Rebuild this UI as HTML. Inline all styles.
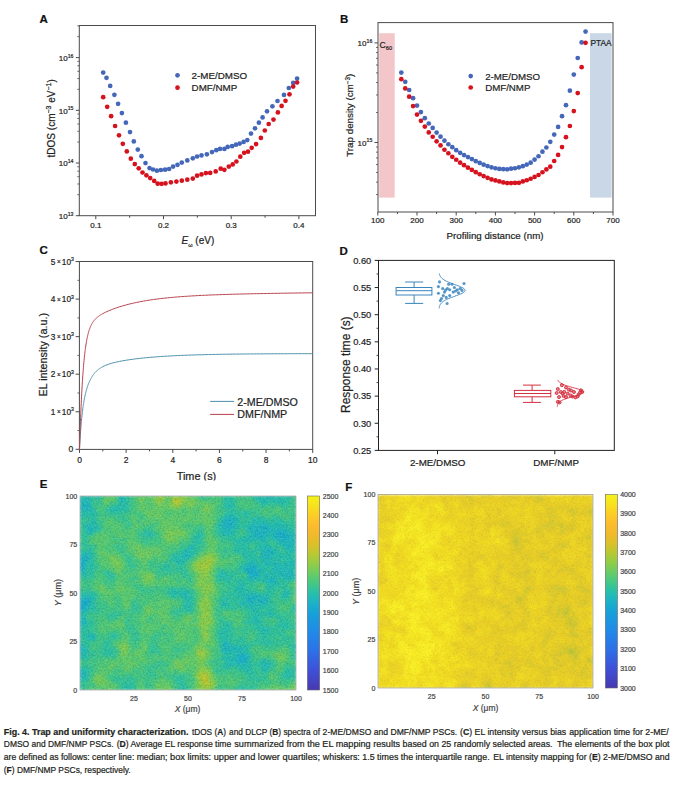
<!DOCTYPE html>
<html><head><meta charset="utf-8"><style>
html,body{margin:0;padding:0;background:#fff;}
svg{display:block;font-family:"Liberation Sans", sans-serif;}
</style></head><body>
<svg width="687" height="804" viewBox="0 0 687 804">
<defs><filter id="hblur" x="0" y="0" width="1" height="1"><feGaussianBlur stdDeviation="0.9"/></filter>
<filter id="grainD" x="0" y="0" width="1" height="1"><feTurbulence type="fractalNoise" baseFrequency="0.6" numOctaves="2" seed="7"/><feColorMatrix type="matrix" values="0 0 0 0 0  0 0 0 0 0  0 0 0 0 0  1.4 0 0 0 -0.62"/></filter>
<filter id="grainL" x="0" y="0" width="1" height="1"><feTurbulence type="fractalNoise" baseFrequency="0.6" numOctaves="2" seed="7"/><feColorMatrix type="matrix" values="0 0 0 0 1  0 0 0 0 1  0 0 0 0 1  -1.4 0 0 0 0.62"/></filter></defs>
<rect width="687" height="804" fill="#fff"/>
<text x="39.6" y="22.8" font-size="11.5" font-weight="bold" fill="#111" stroke="#111" stroke-width="0.2">A</text>
<text x="340" y="23.3" font-size="11.5" font-weight="bold" fill="#111" stroke="#111" stroke-width="0.2">B</text>
<text x="39.4" y="254.2" font-size="11.5" font-weight="bold" fill="#111" stroke="#111" stroke-width="0.2">C</text>
<text x="339.4" y="254.9" font-size="11.5" font-weight="bold" fill="#111" stroke="#111" stroke-width="0.2">D</text>
<text x="39.7" y="487.5" font-size="11.5" font-weight="bold" fill="#111" stroke="#111" stroke-width="0.2">E</text>
<text x="345.2" y="490.7" font-size="11.5" font-weight="bold" fill="#111" stroke="#111" stroke-width="0.2">F</text>
<rect x="79.3" y="25.5" width="236.2" height="190.2" fill="none" stroke="#4a4a4a" stroke-width="1"/>
<line x1="95.8" y1="215.7" x2="95.8" y2="219.2" stroke="#4a4a4a" stroke-width="1"/>
<text x="95.8" y="228.1" font-size="8" text-anchor="middle" fill="#222" stroke="#222" stroke-width="0.2">0.1</text>
<line x1="163.5" y1="215.7" x2="163.5" y2="219.2" stroke="#4a4a4a" stroke-width="1"/>
<text x="163.5" y="228.1" font-size="8" text-anchor="middle" fill="#222" stroke="#222" stroke-width="0.2">0.2</text>
<line x1="231.2" y1="215.7" x2="231.2" y2="219.2" stroke="#4a4a4a" stroke-width="1"/>
<text x="231.2" y="228.1" font-size="8" text-anchor="middle" fill="#222" stroke="#222" stroke-width="0.2">0.3</text>
<line x1="298.9" y1="215.7" x2="298.9" y2="219.2" stroke="#4a4a4a" stroke-width="1"/>
<text x="298.9" y="228.1" font-size="8" text-anchor="middle" fill="#222" stroke="#222" stroke-width="0.2">0.4</text>
<line x1="129.65" y1="215.7" x2="129.65" y2="217.7" stroke="#4a4a4a" stroke-width="1"/>
<line x1="197.35" y1="215.7" x2="197.35" y2="217.7" stroke="#4a4a4a" stroke-width="1"/>
<line x1="265.05" y1="215.7" x2="265.05" y2="217.7" stroke="#4a4a4a" stroke-width="1"/>
<line x1="75.8" y1="215.7" x2="79.3" y2="215.7" stroke="#4a4a4a" stroke-width="1"/>
<text x="73.5" y="219" font-size="8" text-anchor="end" fill="#222" stroke="#222" stroke-width="0.2">10<tspan font-size="5.2" dy="-3.3">13</tspan></text>
<line x1="75.8" y1="163" x2="79.3" y2="163" stroke="#4a4a4a" stroke-width="1"/>
<text x="73.5" y="166.3" font-size="8" text-anchor="end" fill="#222" stroke="#222" stroke-width="0.2">10<tspan font-size="5.2" dy="-3.3">14</tspan></text>
<line x1="75.8" y1="110.3" x2="79.3" y2="110.3" stroke="#4a4a4a" stroke-width="1"/>
<text x="73.5" y="113.6" font-size="8" text-anchor="end" fill="#222" stroke="#222" stroke-width="0.2">10<tspan font-size="5.2" dy="-3.3">15</tspan></text>
<line x1="75.8" y1="57.6" x2="79.3" y2="57.6" stroke="#4a4a4a" stroke-width="1"/>
<text x="73.5" y="60.9" font-size="8" text-anchor="end" fill="#222" stroke="#222" stroke-width="0.2">10<tspan font-size="5.2" dy="-3.3">16</tspan></text>
<line x1="77.3" y1="194.73" x2="79.3" y2="194.73" stroke="#4a4a4a" stroke-width="0.8"/>
<line x1="77.3" y1="183.97" x2="79.3" y2="183.97" stroke="#4a4a4a" stroke-width="0.8"/>
<line x1="77.3" y1="176.68" x2="79.3" y2="176.68" stroke="#4a4a4a" stroke-width="0.8"/>
<line x1="77.3" y1="171.16" x2="79.3" y2="171.16" stroke="#4a4a4a" stroke-width="0.8"/>
<line x1="77.3" y1="166.72" x2="79.3" y2="166.72" stroke="#4a4a4a" stroke-width="0.8"/>
<line x1="77.3" y1="142.03" x2="79.3" y2="142.03" stroke="#4a4a4a" stroke-width="0.8"/>
<line x1="77.3" y1="131.27" x2="79.3" y2="131.27" stroke="#4a4a4a" stroke-width="0.8"/>
<line x1="77.3" y1="123.98" x2="79.3" y2="123.98" stroke="#4a4a4a" stroke-width="0.8"/>
<line x1="77.3" y1="118.46" x2="79.3" y2="118.46" stroke="#4a4a4a" stroke-width="0.8"/>
<line x1="77.3" y1="114.02" x2="79.3" y2="114.02" stroke="#4a4a4a" stroke-width="0.8"/>
<line x1="77.3" y1="89.33" x2="79.3" y2="89.33" stroke="#4a4a4a" stroke-width="0.8"/>
<line x1="77.3" y1="78.57" x2="79.3" y2="78.57" stroke="#4a4a4a" stroke-width="0.8"/>
<line x1="77.3" y1="71.28" x2="79.3" y2="71.28" stroke="#4a4a4a" stroke-width="0.8"/>
<line x1="77.3" y1="65.76" x2="79.3" y2="65.76" stroke="#4a4a4a" stroke-width="0.8"/>
<line x1="77.3" y1="61.32" x2="79.3" y2="61.32" stroke="#4a4a4a" stroke-width="0.8"/>
<line x1="77.3" y1="36.63" x2="79.3" y2="36.63" stroke="#4a4a4a" stroke-width="0.8"/>
<line x1="77.3" y1="25.87" x2="79.3" y2="25.87" stroke="#4a4a4a" stroke-width="0.8"/>
<text transform="translate(55.0,118.3) rotate(-90)" font-size="10" text-anchor="middle" fill="#222" stroke="#222" stroke-width="0.2">tDOS (cm<tspan font-size="7" dy="-3.6">−3</tspan><tspan dy="3.6"> eV</tspan><tspan font-size="7" dy="-3.6">−1</tspan><tspan dy="3.6">)</tspan></text>
<text x="181.6" y="244.1" font-size="10" fill="#222" stroke="#222" stroke-width="0.2"><tspan font-style="italic">E</tspan><tspan font-size="5.5" dy="2.5">ω</tspan><tspan dy="-2.5"> (eV)</tspan></text>
<g fill="#4467b9"><circle cx="103.2" cy="72.6" r="2.35"/><circle cx="106.5" cy="77.8" r="2.35"/><circle cx="110.2" cy="85.9" r="2.35"/><circle cx="114.4" cy="94.8" r="2.35"/><circle cx="118.1" cy="103.8" r="2.35"/><circle cx="121.9" cy="113.1" r="2.35"/><circle cx="125.9" cy="122.7" r="2.35"/><circle cx="130" cy="132.1" r="2.35"/><circle cx="133.8" cy="141.4" r="2.35"/><circle cx="137.8" cy="149.6" r="2.35"/><circle cx="141.5" cy="156.2" r="2.35"/><circle cx="145.5" cy="163.1" r="2.35"/><circle cx="149.5" cy="168.1" r="2.35"/><circle cx="153" cy="169.5" r="2.35"/><circle cx="156.9" cy="170.7" r="2.35"/><circle cx="160.9" cy="170" r="2.35"/><circle cx="165.1" cy="169.7" r="2.35"/><circle cx="169.1" cy="169" r="2.35"/><circle cx="173.1" cy="166.6" r="2.35"/><circle cx="177.5" cy="164.8" r="2.35"/><circle cx="181.8" cy="162.6" r="2.35"/><circle cx="187.3" cy="160.4" r="2.35"/><circle cx="192.8" cy="158.3" r="2.35"/><circle cx="197.1" cy="156.5" r="2.35"/><circle cx="201.5" cy="155.4" r="2.35"/><circle cx="206.9" cy="154.3" r="2.35"/><circle cx="212" cy="152.1" r="2.35"/><circle cx="216.3" cy="150.2" r="2.35"/><circle cx="220" cy="148.9" r="2.35"/><circle cx="224.4" cy="148.9" r="2.35"/><circle cx="227.7" cy="146.9" r="2.35"/><circle cx="232.1" cy="146.2" r="2.35"/><circle cx="236" cy="144.7" r="2.35"/><circle cx="239.7" cy="143.6" r="2.35"/><circle cx="243.6" cy="141.9" r="2.35"/><circle cx="247.3" cy="140.1" r="2.35"/><circle cx="251" cy="133.6" r="2.35"/><circle cx="255" cy="128.3" r="2.35"/><circle cx="258.9" cy="122.7" r="2.35"/><circle cx="262.6" cy="117.4" r="2.35"/><circle cx="267" cy="111.3" r="2.35"/><circle cx="272.4" cy="106.3" r="2.35"/><circle cx="277.5" cy="101" r="2.35"/><circle cx="284" cy="94.9" r="2.35"/><circle cx="288.8" cy="88" r="2.35"/><circle cx="293.2" cy="82.9" r="2.35"/><circle cx="297.1" cy="78.6" r="2.35"/></g>
<g fill="#d5121d"><circle cx="103.2" cy="97.2" r="2.35"/><circle cx="107.2" cy="106.8" r="2.35"/><circle cx="111.1" cy="116.2" r="2.35"/><circle cx="115.1" cy="126" r="2.35"/><circle cx="119" cy="135.3" r="2.35"/><circle cx="122.8" cy="143.8" r="2.35"/><circle cx="126.8" cy="151.4" r="2.35"/><circle cx="130.8" cy="158.7" r="2.35"/><circle cx="134.8" cy="164.1" r="2.35"/><circle cx="138.7" cy="168.3" r="2.35"/><circle cx="142.5" cy="172.5" r="2.35"/><circle cx="146.4" cy="175.3" r="2.35"/><circle cx="150.2" cy="178.1" r="2.35"/><circle cx="154.2" cy="180.9" r="2.35"/><circle cx="157.7" cy="183.7" r="2.35"/><circle cx="161.6" cy="183.8" r="2.35"/><circle cx="165.5" cy="183.4" r="2.35"/><circle cx="170.9" cy="182.3" r="2.35"/><circle cx="176.4" cy="181.6" r="2.35"/><circle cx="181.8" cy="180.7" r="2.35"/><circle cx="187.3" cy="179.7" r="2.35"/><circle cx="192.8" cy="178.6" r="2.35"/><circle cx="197.1" cy="175.7" r="2.35"/><circle cx="201.5" cy="174.4" r="2.35"/><circle cx="205.9" cy="173.1" r="2.35"/><circle cx="210.2" cy="172.9" r="2.35"/><circle cx="215.7" cy="171.4" r="2.35"/><circle cx="220.7" cy="168.7" r="2.35"/><circle cx="224.4" cy="169.8" r="2.35"/><circle cx="228.8" cy="166.6" r="2.35"/><circle cx="232.7" cy="164.4" r="2.35"/><circle cx="236.4" cy="161.5" r="2.35"/><circle cx="240.3" cy="156.7" r="2.35"/><circle cx="244.1" cy="152.8" r="2.35"/><circle cx="248" cy="151.7" r="2.35"/><circle cx="251.7" cy="147.8" r="2.35"/><circle cx="256.1" cy="144.1" r="2.35"/><circle cx="260.9" cy="137.9" r="2.35"/><circle cx="264.8" cy="130.5" r="2.35"/><circle cx="268.7" cy="124" r="2.35"/><circle cx="273.5" cy="119.6" r="2.35"/><circle cx="277.9" cy="112.4" r="2.35"/><circle cx="281.6" cy="105.9" r="2.35"/><circle cx="285.5" cy="100.8" r="2.35"/><circle cx="289.5" cy="94.3" r="2.35"/><circle cx="293.2" cy="86.6" r="2.35"/><circle cx="297.1" cy="82.5" r="2.35"/></g>
<circle cx="177.5" cy="75.3" r="2.35" fill="#4467b9"/><circle cx="177.5" cy="87.7" r="2.35" fill="#d5121d"/>
<text x="191.6" y="79.2" font-size="9.8" fill="#222" stroke="#222" stroke-width="0.2">2-ME/DMSO</text>
<text x="191.6" y="91.4" font-size="9.8" fill="#222" stroke="#222" stroke-width="0.2">DMF/NMP</text>
<rect x="379.2" y="33.2" width="15.5" height="164.4" fill="#f3c7c9" stroke="none" stroke-width="1"/>
<rect x="590" y="33.2" width="21.6" height="164.4" fill="#c9d7e6" stroke="none" stroke-width="1"/>
<rect x="378" y="22.6" width="235" height="189.4" fill="none" stroke="#4a4a4a" stroke-width="1"/>
<line x1="377.8" y1="212" x2="377.8" y2="215.5" stroke="#4a4a4a" stroke-width="1"/>
<text x="377.8" y="223.3" font-size="8" text-anchor="middle" fill="#222" stroke="#222" stroke-width="0.2">100</text>
<line x1="417" y1="212" x2="417" y2="215.5" stroke="#4a4a4a" stroke-width="1"/>
<text x="417" y="223.3" font-size="8" text-anchor="middle" fill="#222" stroke="#222" stroke-width="0.2">200</text>
<line x1="456.2" y1="212" x2="456.2" y2="215.5" stroke="#4a4a4a" stroke-width="1"/>
<text x="456.2" y="223.3" font-size="8" text-anchor="middle" fill="#222" stroke="#222" stroke-width="0.2">300</text>
<line x1="495.4" y1="212" x2="495.4" y2="215.5" stroke="#4a4a4a" stroke-width="1"/>
<text x="495.4" y="223.3" font-size="8" text-anchor="middle" fill="#222" stroke="#222" stroke-width="0.2">400</text>
<line x1="534.6" y1="212" x2="534.6" y2="215.5" stroke="#4a4a4a" stroke-width="1"/>
<text x="534.6" y="223.3" font-size="8" text-anchor="middle" fill="#222" stroke="#222" stroke-width="0.2">500</text>
<line x1="573.8" y1="212" x2="573.8" y2="215.5" stroke="#4a4a4a" stroke-width="1"/>
<text x="573.8" y="223.3" font-size="8" text-anchor="middle" fill="#222" stroke="#222" stroke-width="0.2">600</text>
<line x1="613" y1="212" x2="613" y2="215.5" stroke="#4a4a4a" stroke-width="1"/>
<text x="613" y="223.3" font-size="8" text-anchor="middle" fill="#222" stroke="#222" stroke-width="0.2">700</text>
<line x1="397.4" y1="212" x2="397.4" y2="214" stroke="#4a4a4a" stroke-width="1"/>
<line x1="436.6" y1="212" x2="436.6" y2="214" stroke="#4a4a4a" stroke-width="1"/>
<line x1="475.8" y1="212" x2="475.8" y2="214" stroke="#4a4a4a" stroke-width="1"/>
<line x1="515" y1="212" x2="515" y2="214" stroke="#4a4a4a" stroke-width="1"/>
<line x1="554.2" y1="212" x2="554.2" y2="214" stroke="#4a4a4a" stroke-width="1"/>
<line x1="593.4" y1="212" x2="593.4" y2="214" stroke="#4a4a4a" stroke-width="1"/>
<line x1="374.5" y1="142.5" x2="378" y2="142.5" stroke="#4a4a4a" stroke-width="1"/>
<text x="372.3" y="145.7" font-size="8" text-anchor="end" fill="#222" stroke="#222" stroke-width="0.2">10<tspan font-size="5.2" dy="-3.3">15</tspan></text>
<line x1="374.5" y1="42.9" x2="378" y2="42.9" stroke="#4a4a4a" stroke-width="1"/>
<text x="372.3" y="46.1" font-size="8" text-anchor="end" fill="#222" stroke="#222" stroke-width="0.2">10<tspan font-size="5.2" dy="-3.3">16</tspan></text>
<line x1="376" y1="194.58" x2="378" y2="194.58" stroke="#4a4a4a" stroke-width="0.8"/>
<line x1="376" y1="182.13" x2="378" y2="182.13" stroke="#4a4a4a" stroke-width="0.8"/>
<line x1="376" y1="172.48" x2="378" y2="172.48" stroke="#4a4a4a" stroke-width="0.8"/>
<line x1="376" y1="164.6" x2="378" y2="164.6" stroke="#4a4a4a" stroke-width="0.8"/>
<line x1="376" y1="157.93" x2="378" y2="157.93" stroke="#4a4a4a" stroke-width="0.8"/>
<line x1="376" y1="152.15" x2="378" y2="152.15" stroke="#4a4a4a" stroke-width="0.8"/>
<line x1="376" y1="147.06" x2="378" y2="147.06" stroke="#4a4a4a" stroke-width="0.8"/>
<line x1="376" y1="112.52" x2="378" y2="112.52" stroke="#4a4a4a" stroke-width="0.8"/>
<line x1="376" y1="94.98" x2="378" y2="94.98" stroke="#4a4a4a" stroke-width="0.8"/>
<line x1="376" y1="82.53" x2="378" y2="82.53" stroke="#4a4a4a" stroke-width="0.8"/>
<line x1="376" y1="72.88" x2="378" y2="72.88" stroke="#4a4a4a" stroke-width="0.8"/>
<line x1="376" y1="65" x2="378" y2="65" stroke="#4a4a4a" stroke-width="0.8"/>
<line x1="376" y1="58.33" x2="378" y2="58.33" stroke="#4a4a4a" stroke-width="0.8"/>
<line x1="376" y1="52.55" x2="378" y2="52.55" stroke="#4a4a4a" stroke-width="0.8"/>
<line x1="376" y1="47.46" x2="378" y2="47.46" stroke="#4a4a4a" stroke-width="0.8"/>
<text transform="translate(353.2,115.3) rotate(-90)" font-size="9.8" text-anchor="middle" fill="#222" stroke="#222" stroke-width="0.2">Trap density (cm<tspan font-size="6.3" dy="-3.5">−3</tspan><tspan dy="3.5">)</tspan></text>
<text x="495" y="238.7" font-size="9.75" text-anchor="middle" fill="#222" stroke="#222" stroke-width="0.2">Profiling distance (nm)</text>
<text x="379.6" y="47.9" font-size="8.6" fill="#222" stroke="#222" stroke-width="0.2">C<tspan font-size="5.6" dy="1.9">60</tspan></text>
<text x="590.4" y="46" font-size="8.4" fill="#222" stroke="#222" stroke-width="0.2">PTAA</text>
<g fill="#4467b9"><circle cx="401.32" cy="72.6" r="2.35"/><circle cx="405.24" cy="81.82" r="2.35"/><circle cx="409.16" cy="89.99" r="2.35"/><circle cx="413.08" cy="98.13" r="2.35"/><circle cx="417" cy="105.53" r="2.35"/><circle cx="420.92" cy="112.1" r="2.35"/><circle cx="424.84" cy="118.21" r="2.35"/><circle cx="428.76" cy="123.48" r="2.35"/><circle cx="432.68" cy="127.96" r="2.35"/><circle cx="436.6" cy="132.57" r="2.35"/><circle cx="440.52" cy="136.71" r="2.35"/><circle cx="444.44" cy="140.64" r="2.35"/><circle cx="448.36" cy="144.27" r="2.35"/><circle cx="452.28" cy="147.21" r="2.35"/><circle cx="456.2" cy="150.15" r="2.35"/><circle cx="460.12" cy="152.85" r="2.35"/><circle cx="464.04" cy="155.11" r="2.35"/><circle cx="467.96" cy="157.03" r="2.35"/><circle cx="471.88" cy="159.08" r="2.35"/><circle cx="475.8" cy="161.14" r="2.35"/><circle cx="479.72" cy="162.97" r="2.35"/><circle cx="483.64" cy="164.65" r="2.35"/><circle cx="487.56" cy="166.11" r="2.35"/><circle cx="491.48" cy="167.3" r="2.35"/><circle cx="495.4" cy="168.23" r="2.35"/><circle cx="499.32" cy="168.93" r="2.35"/><circle cx="503.24" cy="169.17" r="2.35"/><circle cx="507.16" cy="169.28" r="2.35"/><circle cx="511.08" cy="168.7" r="2.35"/><circle cx="515" cy="168.27" r="2.35"/><circle cx="518.92" cy="167.31" r="2.35"/><circle cx="522.84" cy="166.14" r="2.35"/><circle cx="526.76" cy="164.62" r="2.35"/><circle cx="530.68" cy="162.71" r="2.35"/><circle cx="534.6" cy="159.62" r="2.35"/><circle cx="538.52" cy="156.26" r="2.35"/><circle cx="542.44" cy="151.67" r="2.35"/><circle cx="546.36" cy="147.51" r="2.35"/><circle cx="550.28" cy="141.78" r="2.35"/><circle cx="554.2" cy="134.6" r="2.35"/><circle cx="558.12" cy="126.96" r="2.35"/><circle cx="562.04" cy="116.19" r="2.35"/><circle cx="565.96" cy="105.21" r="2.35"/><circle cx="569.88" cy="90.67" r="2.35"/><circle cx="573.8" cy="74.61" r="2.35"/><circle cx="577.72" cy="58.02" r="2.35"/><circle cx="581.64" cy="42.41" r="2.35"/><circle cx="585.56" cy="31.6" r="2.35"/></g>
<g fill="#d5121d"><circle cx="401.32" cy="79.2" r="2.35"/><circle cx="405.24" cy="88.42" r="2.35"/><circle cx="409.16" cy="96.68" r="2.35"/><circle cx="413.08" cy="106.03" r="2.35"/><circle cx="417" cy="114.57" r="2.35"/><circle cx="420.92" cy="120.82" r="2.35"/><circle cx="424.84" cy="126.61" r="2.35"/><circle cx="428.76" cy="132.44" r="2.35"/><circle cx="432.68" cy="136.77" r="2.35"/><circle cx="436.6" cy="141.37" r="2.35"/><circle cx="440.52" cy="145.42" r="2.35"/><circle cx="444.44" cy="149.73" r="2.35"/><circle cx="448.36" cy="153.27" r="2.35"/><circle cx="452.28" cy="156.79" r="2.35"/><circle cx="456.2" cy="159.75" r="2.35"/><circle cx="460.12" cy="162.64" r="2.35"/><circle cx="464.04" cy="165.2" r="2.35"/><circle cx="467.96" cy="167.71" r="2.35"/><circle cx="471.88" cy="169.88" r="2.35"/><circle cx="475.8" cy="172.13" r="2.35"/><circle cx="479.72" cy="174.25" r="2.35"/><circle cx="483.64" cy="176.04" r="2.35"/><circle cx="487.56" cy="177.79" r="2.35"/><circle cx="491.48" cy="179.46" r="2.35"/><circle cx="495.4" cy="180.43" r="2.35"/><circle cx="499.32" cy="181.41" r="2.35"/><circle cx="503.24" cy="182.43" r="2.35"/><circle cx="507.16" cy="183.08" r="2.35"/><circle cx="511.08" cy="183.08" r="2.35"/><circle cx="515" cy="182.94" r="2.35"/><circle cx="518.92" cy="182.8" r="2.35"/><circle cx="522.84" cy="181.43" r="2.35"/><circle cx="526.76" cy="180.26" r="2.35"/><circle cx="530.68" cy="178.75" r="2.35"/><circle cx="534.6" cy="176.94" r="2.35"/><circle cx="538.52" cy="174.99" r="2.35"/><circle cx="542.44" cy="172.24" r="2.35"/><circle cx="546.36" cy="169.46" r="2.35"/><circle cx="550.28" cy="166.68" r="2.35"/><circle cx="554.2" cy="161" r="2.35"/><circle cx="558.12" cy="154.92" r="2.35"/><circle cx="562.04" cy="147.1" r="2.35"/><circle cx="565.96" cy="137.2" r="2.35"/><circle cx="569.88" cy="126" r="2.35"/><circle cx="573.8" cy="111.08" r="2.35"/><circle cx="577.72" cy="93.07" r="2.35"/><circle cx="581.64" cy="67.21" r="2.35"/><circle cx="585.56" cy="42.8" r="2.35"/></g>
<circle cx="470.7" cy="76.1" r="2.35" fill="#4467b9"/><circle cx="470.7" cy="87.5" r="2.35" fill="#d5121d"/>
<text x="485.2" y="79.8" font-size="9.7" fill="#222" stroke="#222" stroke-width="0.2">2-ME/DMSO</text>
<text x="485.2" y="91.2" font-size="9.7" fill="#222" stroke="#222" stroke-width="0.2">DMF/NMP</text>
<rect x="79.4" y="261.5" width="233.3" height="187.9" fill="none" stroke="#4a4a4a" stroke-width="1"/>
<line x1="79.5" y1="449.4" x2="79.5" y2="452.9" stroke="#4a4a4a" stroke-width="1"/>
<text x="79.5" y="463.2" font-size="8.5" text-anchor="middle" fill="#222" stroke="#222" stroke-width="0.2">0</text>
<line x1="126.14" y1="449.4" x2="126.14" y2="452.9" stroke="#4a4a4a" stroke-width="1"/>
<text x="126.14" y="463.2" font-size="8.5" text-anchor="middle" fill="#222" stroke="#222" stroke-width="0.2">2</text>
<line x1="172.78" y1="449.4" x2="172.78" y2="452.9" stroke="#4a4a4a" stroke-width="1"/>
<text x="172.78" y="463.2" font-size="8.5" text-anchor="middle" fill="#222" stroke="#222" stroke-width="0.2">4</text>
<line x1="219.42" y1="449.4" x2="219.42" y2="452.9" stroke="#4a4a4a" stroke-width="1"/>
<text x="219.42" y="463.2" font-size="8.5" text-anchor="middle" fill="#222" stroke="#222" stroke-width="0.2">6</text>
<line x1="266.06" y1="449.4" x2="266.06" y2="452.9" stroke="#4a4a4a" stroke-width="1"/>
<text x="266.06" y="463.2" font-size="8.5" text-anchor="middle" fill="#222" stroke="#222" stroke-width="0.2">8</text>
<line x1="312.7" y1="449.4" x2="312.7" y2="452.9" stroke="#4a4a4a" stroke-width="1"/>
<text x="312.7" y="463.2" font-size="8.5" text-anchor="middle" fill="#222" stroke="#222" stroke-width="0.2">10</text>
<line x1="102.82" y1="449.4" x2="102.82" y2="451.4" stroke="#4a4a4a" stroke-width="1"/>
<line x1="149.46" y1="449.4" x2="149.46" y2="451.4" stroke="#4a4a4a" stroke-width="1"/>
<line x1="196.1" y1="449.4" x2="196.1" y2="451.4" stroke="#4a4a4a" stroke-width="1"/>
<line x1="242.74" y1="449.4" x2="242.74" y2="451.4" stroke="#4a4a4a" stroke-width="1"/>
<line x1="289.38" y1="449.4" x2="289.38" y2="451.4" stroke="#4a4a4a" stroke-width="1"/>
<line x1="75.6" y1="449.3" x2="79.4" y2="449.3" stroke="#4a4a4a" stroke-width="1"/>
<text x="73.3" y="452.3" font-size="8.5" text-anchor="end" fill="#222" stroke="#222" stroke-width="0.2">0</text>
<line x1="75.6" y1="411.75" x2="79.4" y2="411.75" stroke="#4a4a4a" stroke-width="1"/>
<text x="50.7" y="414.75" font-size="8.3" fill="#222" stroke="#222" stroke-width="0.2">1<tspan font-size="6.4" dx="1.6" dy="-0.5">×</tspan><tspan dx="1.2" dy="0.5">10</tspan><tspan font-size="5.2" dy="-3.5">3</tspan></text>
<line x1="75.6" y1="374.2" x2="79.4" y2="374.2" stroke="#4a4a4a" stroke-width="1"/>
<text x="50.7" y="377.2" font-size="8.3" fill="#222" stroke="#222" stroke-width="0.2">2<tspan font-size="6.4" dx="1.6" dy="-0.5">×</tspan><tspan dx="1.2" dy="0.5">10</tspan><tspan font-size="5.2" dy="-3.5">3</tspan></text>
<line x1="75.6" y1="336.65" x2="79.4" y2="336.65" stroke="#4a4a4a" stroke-width="1"/>
<text x="50.7" y="339.65" font-size="8.3" fill="#222" stroke="#222" stroke-width="0.2">3<tspan font-size="6.4" dx="1.6" dy="-0.5">×</tspan><tspan dx="1.2" dy="0.5">10</tspan><tspan font-size="5.2" dy="-3.5">3</tspan></text>
<line x1="75.6" y1="299.1" x2="79.4" y2="299.1" stroke="#4a4a4a" stroke-width="1"/>
<text x="50.7" y="302.1" font-size="8.3" fill="#222" stroke="#222" stroke-width="0.2">4<tspan font-size="6.4" dx="1.6" dy="-0.5">×</tspan><tspan dx="1.2" dy="0.5">10</tspan><tspan font-size="5.2" dy="-3.5">3</tspan></text>
<line x1="75.6" y1="261.55" x2="79.4" y2="261.55" stroke="#4a4a4a" stroke-width="1"/>
<text x="50.7" y="264.55" font-size="8.3" fill="#222" stroke="#222" stroke-width="0.2">5<tspan font-size="6.4" dx="1.6" dy="-0.5">×</tspan><tspan dx="1.2" dy="0.5">10</tspan><tspan font-size="5.2" dy="-3.5">3</tspan></text>
<line x1="77.4" y1="430.53" x2="79.4" y2="430.53" stroke="#4a4a4a" stroke-width="0.8"/>
<line x1="77.4" y1="392.98" x2="79.4" y2="392.98" stroke="#4a4a4a" stroke-width="0.8"/>
<line x1="77.4" y1="355.43" x2="79.4" y2="355.43" stroke="#4a4a4a" stroke-width="0.8"/>
<line x1="77.4" y1="317.88" x2="79.4" y2="317.88" stroke="#4a4a4a" stroke-width="0.8"/>
<line x1="77.4" y1="280.33" x2="79.4" y2="280.33" stroke="#4a4a4a" stroke-width="0.8"/>
<text transform="translate(47.3,354.8) rotate(-90)" font-size="10.8" text-anchor="middle" fill="#222" stroke="#222" stroke-width="0.2">EL intensity (a.u.)</text>
<clipPath id="clipC"><rect x="0" y="0" width="687" height="480.6"/></clipPath>
<text x="176.7" y="479.8" font-size="10.9" fill="#222" clip-path="url(#clipC)" stroke="#222" stroke-width="0.2">Time (s)</text>
<polyline points="79.5,449.3 79.66,446.3 79.81,443.46 79.97,440.76 80.13,438.19 80.28,435.76 80.44,433.44 80.6,431.23 80.75,429.12 80.91,427.12 81.07,425.2 81.22,423.38 81.38,421.63 81.53,419.96 81.69,418.36 81.85,416.83 82,415.37 82.16,413.96 82.32,412.61 82.47,411.32 82.63,410.07 82.79,408.88 82.94,407.72 83.1,406.61 83.26,405.55 83.41,404.51 83.57,403.52 83.73,402.56 83.88,401.63 84.04,400.74 84.2,399.87 84.35,399.04 84.51,398.22 84.66,397.44 84.82,396.68 84.98,395.94 85.13,395.22 85.29,394.53 85.45,393.86 85.6,393.2 85.76,392.57 85.92,391.95 86.07,391.35 86.23,390.76 86.39,390.19 86.54,389.64 86.7,389.1 86.86,388.57 87.01,388.06 87.17,387.56 87.33,387.07 87.48,386.6 87.64,386.14 87.8,385.68 87.95,385.24 88.11,384.81 88.26,384.39 88.42,383.98 88.58,383.58 88.73,383.18 88.89,382.8 89.05,382.43 89.2,382.06 89.36,381.7 89.52,381.35 89.67,381.01 89.83,380.67 89.99,380.34 90.14,380.02 90.3,379.7 90.46,379.4 90.61,379.09 90.77,378.8 90.93,378.51 91.08,378.22 91.24,377.94 91.39,377.67 91.55,377.4 91.71,377.14 91.86,376.88 92.02,376.63 92.18,376.39 92.33,376.14 92.49,375.91 92.65,375.67 92.8,375.44 92.96,375.22 93.12,375 93.27,374.78 93.43,374.57 93.59,374.36 93.74,374.16 93.9,373.96 94.06,373.76 94.21,373.57 94.37,373.38 94.52,373.19 94.68,373.01 94.84,372.83 94.99,372.65 95.15,372.47 95.31,372.3 95.46,372.14 95.62,371.97 95.78,371.81 95.93,371.65 96.09,371.49 96.25,371.34 96.4,371.19 96.56,371.04 96.72,370.89 96.87,370.75 97.03,370.61 97.19,370.47 97.34,370.33 97.5,370.19 97.66,370.06 97.81,369.93 97.97,369.8 98.12,369.68 98.28,369.55 98.44,369.43 98.59,369.31 98.75,369.19 98.91,369.07 99.06,368.96 99.22,368.84 99.38,368.73 99.53,368.62 99.69,368.51 99.85,368.41 100,368.3 100.16,368.2 100.32,368.1 100.47,368 100.63,367.9 100.79,367.8 100.94,367.7 101.1,367.61 101.25,367.51 101.41,367.42 101.57,367.33 101.72,367.24 101.88,367.15 102.04,367.06 102.19,366.98 102.35,366.89 102.51,366.81 102.66,366.73 102.82,366.64 104.23,365.95 105.64,365.33 107.05,364.78 108.45,364.27 109.86,363.81 111.27,363.38 112.68,362.99 114.09,362.62 115.5,362.28 116.91,361.96 118.31,361.66 119.72,361.37 121.13,361.1 122.54,360.84 123.95,360.59 125.36,360.35 126.77,360.13 128.17,359.91 129.58,359.7 130.99,359.5 132.4,359.3 133.81,359.12 135.22,358.94 136.63,358.76 138.03,358.6 139.44,358.43 140.85,358.28 142.26,358.13 143.67,357.98 145.08,357.84 146.49,357.7 147.89,357.57 149.3,357.44 150.71,357.32 152.12,357.2 153.53,357.08 154.94,356.97 156.35,356.86 157.76,356.76 159.16,356.65 160.57,356.56 161.98,356.46 163.39,356.37 164.8,356.28 166.21,356.19 167.62,356.11 169.02,356.03 170.43,355.95 171.84,355.87 173.25,355.8 174.66,355.73 176.07,355.66 177.48,355.59 178.88,355.53 180.29,355.46 181.7,355.4 183.11,355.34 184.52,355.29 185.93,355.23 187.34,355.18 188.74,355.13 190.15,355.08 191.56,355.03 192.97,354.98 194.38,354.94 195.79,354.89 197.2,354.85 198.6,354.81 200.01,354.77 201.42,354.73 202.83,354.69 204.24,354.66 205.65,354.62 207.06,354.59 208.46,354.56 209.87,354.53 211.28,354.49 212.69,354.46 214.1,354.44 215.51,354.41 216.92,354.38 218.32,354.35 219.73,354.33 221.14,354.3 222.55,354.28 223.96,354.26 225.37,354.24 226.78,354.21 228.18,354.19 229.59,354.17 231,354.15 232.41,354.13 233.82,354.12 235.23,354.1 236.64,354.08 238.04,354.06 239.45,354.05 240.86,354.03 242.27,354.02 243.68,354 245.09,353.99 246.5,353.98 247.9,353.96 249.31,353.95 250.72,353.94 252.13,353.93 253.54,353.91 254.95,353.9 256.36,353.89 257.76,353.88 259.17,353.87 260.58,353.86 261.99,353.85 263.4,353.84 264.81,353.83 266.22,353.82 267.63,353.82 269.03,353.81 270.44,353.8 271.85,353.79 273.26,353.78 274.67,353.78 276.08,353.77 277.49,353.76 278.89,353.76 280.3,353.75 281.71,353.74 283.12,353.74 284.53,353.73 285.94,353.73 287.35,353.72 288.75,353.72 290.16,353.71 291.57,353.71 292.98,353.7 294.39,353.7 295.8,353.69 297.21,353.69 298.61,353.68 300.02,353.68 301.43,353.68 302.84,353.67 304.25,353.67 305.66,353.67 307.07,353.66 308.47,353.66 309.88,353.66 311.29,353.65 312.7,353.65" fill="none" stroke="#4a90aa" stroke-width="1"/>
<polyline points="79.5,449.3 79.66,444.2 79.81,439.3 79.97,434.6 80.13,430.08 80.28,425.75 80.44,421.59 80.6,417.6 80.75,413.76 80.91,410.08 81.07,406.55 81.22,403.16 81.38,399.9 81.53,396.77 81.69,393.76 81.85,390.88 82,388.11 82.16,385.44 82.32,382.89 82.47,380.43 82.63,378.07 82.79,375.8 82.94,373.62 83.1,371.52 83.26,369.51 83.41,367.58 83.57,365.72 83.73,363.93 83.88,362.21 84.04,360.56 84.2,358.97 84.35,357.44 84.51,355.97 84.66,354.56 84.82,353.2 84.98,351.89 85.13,350.64 85.29,349.43 85.45,348.26 85.6,347.14 85.76,346.06 85.92,345.02 86.07,344.02 86.23,343.05 86.39,342.12 86.54,341.23 86.7,340.37 86.86,339.54 87.01,338.74 87.17,337.96 87.33,337.22 87.48,336.5 87.64,335.81 87.8,335.14 87.95,334.5 88.11,333.87 88.26,333.27 88.42,332.69 88.58,332.13 88.73,331.59 88.89,331.07 89.05,330.56 89.2,330.08 89.36,329.6 89.52,329.15 89.67,328.71 89.83,328.28 89.99,327.87 90.14,327.46 90.3,327.08 90.46,326.7 90.61,326.34 90.77,325.98 90.93,325.64 91.08,325.31 91.24,324.99 91.39,324.68 91.55,324.37 91.71,324.08 91.86,323.79 92.02,323.51 92.18,323.24 92.33,322.98 92.49,322.73 92.65,322.48 92.8,322.24 92.96,322 93.12,321.77 93.27,321.55 93.43,321.33 93.59,321.12 93.74,320.91 93.9,320.71 94.06,320.51 94.21,320.32 94.37,320.13 94.52,319.94 94.68,319.77 94.84,319.59 94.99,319.42 95.15,319.25 95.31,319.08 95.46,318.92 95.62,318.76 95.78,318.61 95.93,318.46 96.09,318.31 96.25,318.16 96.4,318.02 96.56,317.88 96.72,317.74 96.87,317.6 97.03,317.47 97.19,317.34 97.34,317.21 97.5,317.08 97.66,316.96 97.81,316.84 97.97,316.71 98.12,316.6 98.28,316.48 98.44,316.36 98.59,316.25 98.75,316.14 98.91,316.02 99.06,315.91 99.22,315.81 99.38,315.7 99.53,315.59 99.69,315.49 99.85,315.39 100,315.29 100.16,315.19 100.32,315.09 100.47,314.99 100.63,314.89 100.79,314.8 100.94,314.7 101.1,314.61 101.25,314.51 101.41,314.42 101.57,314.33 101.72,314.24 101.88,314.15 102.04,314.06 102.19,313.97 102.35,313.89 102.51,313.8 102.66,313.71 102.82,313.63 104.23,312.89 105.64,312.21 107.05,311.55 108.45,310.93 109.86,310.34 111.27,309.78 112.68,309.23 114.09,308.71 115.5,308.2 116.91,307.72 118.31,307.25 119.72,306.79 121.13,306.36 122.54,305.93 123.95,305.53 125.36,305.13 126.77,304.75 128.17,304.39 129.58,304.03 130.99,303.69 132.4,303.36 133.81,303.04 135.22,302.73 136.63,302.43 138.03,302.14 139.44,301.86 140.85,301.59 142.26,301.33 143.67,301.07 145.08,300.83 146.49,300.59 147.89,300.36 149.3,300.14 150.71,299.93 152.12,299.72 153.53,299.52 154.94,299.33 156.35,299.14 157.76,298.96 159.16,298.78 160.57,298.61 161.98,298.45 163.39,298.29 164.8,298.14 166.21,297.99 167.62,297.84 169.02,297.7 170.43,297.57 171.84,297.43 173.25,297.31 174.66,297.18 176.07,297.06 177.48,296.95 178.88,296.83 180.29,296.72 181.7,296.62 183.11,296.52 184.52,296.42 185.93,296.32 187.34,296.23 188.74,296.13 190.15,296.05 191.56,295.96 192.97,295.88 194.38,295.79 195.79,295.72 197.2,295.64 198.6,295.56 200.01,295.49 201.42,295.42 202.83,295.35 204.24,295.29 205.65,295.22 207.06,295.16 208.46,295.1 209.87,295.04 211.28,294.98 212.69,294.92 214.1,294.87 215.51,294.81 216.92,294.76 218.32,294.71 219.73,294.66 221.14,294.61 222.55,294.56 223.96,294.52 225.37,294.47 226.78,294.43 228.18,294.38 229.59,294.34 231,294.3 232.41,294.26 233.82,294.22 235.23,294.18 236.64,294.14 238.04,294.1 239.45,294.07 240.86,294.03 242.27,294 243.68,293.96 245.09,293.93 246.5,293.9 247.9,293.86 249.31,293.83 250.72,293.8 252.13,293.77 253.54,293.74 254.95,293.71 256.36,293.68 257.76,293.65 259.17,293.63 260.58,293.6 261.99,293.57 263.4,293.54 264.81,293.52 266.22,293.49 267.63,293.47 269.03,293.44 270.44,293.42 271.85,293.39 273.26,293.37 274.67,293.34 276.08,293.32 277.49,293.3 278.89,293.27 280.3,293.25 281.71,293.23 283.12,293.21 284.53,293.18 285.94,293.16 287.35,293.14 288.75,293.12 290.16,293.1 291.57,293.08 292.98,293.06 294.39,293.04 295.8,293.02 297.21,293 298.61,292.98 300.02,292.96 301.43,292.94 302.84,292.92 304.25,292.9 305.66,292.88 307.07,292.86 308.47,292.84 309.88,292.83 311.29,292.81 312.7,292.79" fill="none" stroke="#b8404a" stroke-width="1"/>
<line x1="210.2" y1="401.4" x2="234.1" y2="401.4" stroke="#4a90aa" stroke-width="1"/>
<line x1="210.2" y1="414.4" x2="234.1" y2="414.4" stroke="#b8404a" stroke-width="1"/>
<text x="237.3" y="405.5" font-size="10.7" fill="#222" stroke="#222" stroke-width="0.2">2-ME/DMSO</text>
<text x="237.3" y="418.4" font-size="10.7" fill="#222" stroke="#222" stroke-width="0.2">DMF/NMP</text>
<rect x="378.5" y="260.4" width="235.8" height="190" fill="none" stroke="#222" stroke-width="1"/>
<line x1="374.7" y1="450.4" x2="378.5" y2="450.4" stroke="#222" stroke-width="1"/>
<text x="371.3" y="453.7" font-size="9.3" text-anchor="end" fill="#222" stroke="#222" stroke-width="0.2">0.25</text>
<line x1="374.7" y1="423.26" x2="378.5" y2="423.26" stroke="#222" stroke-width="1"/>
<text x="371.3" y="426.56" font-size="9.3" text-anchor="end" fill="#222" stroke="#222" stroke-width="0.2">0.30</text>
<line x1="374.7" y1="396.12" x2="378.5" y2="396.12" stroke="#222" stroke-width="1"/>
<text x="371.3" y="399.42" font-size="9.3" text-anchor="end" fill="#222" stroke="#222" stroke-width="0.2">0.35</text>
<line x1="374.7" y1="368.98" x2="378.5" y2="368.98" stroke="#222" stroke-width="1"/>
<text x="371.3" y="372.28" font-size="9.3" text-anchor="end" fill="#222" stroke="#222" stroke-width="0.2">0.40</text>
<line x1="374.7" y1="341.84" x2="378.5" y2="341.84" stroke="#222" stroke-width="1"/>
<text x="371.3" y="345.14" font-size="9.3" text-anchor="end" fill="#222" stroke="#222" stroke-width="0.2">0.45</text>
<line x1="374.7" y1="314.7" x2="378.5" y2="314.7" stroke="#222" stroke-width="1"/>
<text x="371.3" y="318" font-size="9.3" text-anchor="end" fill="#222" stroke="#222" stroke-width="0.2">0.50</text>
<line x1="374.7" y1="287.56" x2="378.5" y2="287.56" stroke="#222" stroke-width="1"/>
<text x="371.3" y="290.86" font-size="9.3" text-anchor="end" fill="#222" stroke="#222" stroke-width="0.2">0.55</text>
<line x1="374.7" y1="260.42" x2="378.5" y2="260.42" stroke="#222" stroke-width="1"/>
<text x="371.3" y="263.72" font-size="9.3" text-anchor="end" fill="#222" stroke="#222" stroke-width="0.2">0.60</text>
<line x1="376.5" y1="436.83" x2="378.5" y2="436.83" stroke="#222" stroke-width="0.8"/>
<line x1="376.5" y1="409.69" x2="378.5" y2="409.69" stroke="#222" stroke-width="0.8"/>
<line x1="376.5" y1="382.55" x2="378.5" y2="382.55" stroke="#222" stroke-width="0.8"/>
<line x1="376.5" y1="355.41" x2="378.5" y2="355.41" stroke="#222" stroke-width="0.8"/>
<line x1="376.5" y1="328.27" x2="378.5" y2="328.27" stroke="#222" stroke-width="0.8"/>
<line x1="376.5" y1="301.13" x2="378.5" y2="301.13" stroke="#222" stroke-width="0.8"/>
<line x1="376.5" y1="273.99" x2="378.5" y2="273.99" stroke="#222" stroke-width="0.8"/>
<line x1="437.5" y1="450.4" x2="437.5" y2="454.2" stroke="#222" stroke-width="1"/>
<line x1="554.8" y1="450.4" x2="554.8" y2="454.2" stroke="#222" stroke-width="1"/>
<text x="437.7" y="465.6" font-size="9.8" text-anchor="middle" fill="#222" stroke="#222" stroke-width="0.2">2-ME/DMSO</text>
<text x="556.1" y="465.6" font-size="9.8" text-anchor="middle" fill="#222" stroke="#222" stroke-width="0.2">DMF/NMP</text>
<text transform="translate(349.5,364.7) rotate(-90)" font-size="11.9" text-anchor="middle" fill="#222" stroke="#222" stroke-width="0.2">Response time (s)</text>
<rect x="396.1" y="287.5" width="35.8" height="7.5" fill="none" stroke="#3a86bd" stroke-width="1"/>
<line x1="396.1" y1="290.7" x2="431.9" y2="290.7" stroke="#3a86bd" stroke-width="1"/>
<line x1="414.1" y1="282" x2="414.1" y2="287.5" stroke="#3a86bd" stroke-width="1"/>
<line x1="414.1" y1="295" x2="414.1" y2="303.4" stroke="#3a86bd" stroke-width="1"/>
<line x1="405.1" y1="282" x2="423.2" y2="282" stroke="#3a86bd" stroke-width="1"/>
<line x1="405.1" y1="303.4" x2="423.2" y2="303.4" stroke="#3a86bd" stroke-width="1"/>
<polyline points="439.28,273.5 439.41,274.08 439.57,274.66 439.78,275.25 440.04,275.83 440.35,276.41 440.74,276.99 441.2,277.57 441.76,278.15 442.41,278.74 443.16,279.32 444.03,279.9 445.02,280.48 446.12,281.06 447.34,281.64 448.66,282.23 450.07,282.81 451.57,283.39 453.12,283.97 454.7,284.55 456.29,285.13 457.84,285.71 459.33,286.3 460.71,286.88 461.96,287.46 463.03,288.04 463.91,288.62 464.55,289.2 464.95,289.79 465.1,290.37 464.98,290.95 464.61,291.53 463.99,292.11 463.14,292.69 462.08,293.28 460.86,293.86 459.48,294.44 458.01,295.02 456.46,295.6 454.88,296.19 453.29,296.77 451.74,297.35 450.23,297.93 448.81,298.51 447.48,299.09 446.25,299.68 445.13,300.26 444.14,300.84 443.25,301.42 442.48,302 441.82,302.58 441.26,303.16 440.78,303.75 440.39,304.33 440.07,304.91 439.8,305.49 439.59,306.07 439.43,306.65 439.3,307.24 439.2,307.82 439.12,308.4" fill="none" stroke="#3a86bd" stroke-width="0.9"/>
<g fill="#3a86bd" fill-opacity="0.85"><circle cx="439.5" cy="281.9" r="1.55"/><circle cx="438.4" cy="286.6" r="1.55"/><circle cx="438.4" cy="293.3" r="1.55"/><circle cx="440.4" cy="300.6" r="1.55"/><circle cx="447.1" cy="303.5" r="1.55"/><circle cx="448.6" cy="284.3" r="1.55"/><circle cx="452" cy="284.3" r="1.55"/><circle cx="464" cy="283.5" r="1.55"/><circle cx="442.7" cy="288.6" r="1.55"/><circle cx="445.6" cy="290.1" r="1.55"/><circle cx="449.7" cy="289.8" r="1.55"/><circle cx="454.4" cy="287.5" r="1.55"/><circle cx="457.3" cy="289.8" r="1.55"/><circle cx="460.2" cy="288.6" r="1.55"/><circle cx="462" cy="290.4" r="1.55"/><circle cx="453.2" cy="292.1" r="1.55"/><circle cx="458.5" cy="292.7" r="1.55"/><circle cx="443.3" cy="295.6" r="1.55"/><circle cx="446.2" cy="297.4" r="1.55"/><circle cx="449.7" cy="295.6" r="1.55"/><circle cx="444.5" cy="292.1" r="1.55"/><circle cx="447.4" cy="288.6" r="1.55"/><circle cx="441.5" cy="298.5" r="1.55"/><circle cx="455.5" cy="291" r="1.55"/></g>
<rect x="514.4" y="390.4" width="36.4" height="6.4" fill="none" stroke="#d2303f" stroke-width="1"/>
<line x1="514.4" y1="393.5" x2="550.8" y2="393.5" stroke="#d2303f" stroke-width="1"/>
<line x1="532.1" y1="385.1" x2="532.1" y2="390.4" stroke="#d2303f" stroke-width="1"/>
<line x1="532.1" y1="396.8" x2="532.1" y2="402.4" stroke="#d2303f" stroke-width="1"/>
<line x1="523" y1="385.1" x2="540.9" y2="385.1" stroke="#d2303f" stroke-width="1"/>
<line x1="523" y1="402.4" x2="540.9" y2="402.4" stroke="#d2303f" stroke-width="1"/>
<polyline points="557.83,379.9 558.02,380.35 558.26,380.79 558.56,381.24 558.93,381.69 559.37,382.13 559.9,382.58 560.53,383.03 561.26,383.47 562.1,383.92 563.05,384.37 564.12,384.81 565.31,385.26 566.61,385.71 568,386.15 569.48,386.6 571.02,387.05 572.59,387.49 574.18,387.94 575.74,388.39 577.25,388.83 578.67,389.28 579.95,389.73 581.07,390.17 582,390.62 582.71,391.07 583.17,391.51 583.39,391.96 583.34,392.41 583.03,392.85 582.47,393.3 581.68,393.75 580.68,394.19 579.49,394.64 578.15,395.09 576.7,395.53 575.17,395.98 573.59,396.43 572,396.87 570.44,397.32 568.92,397.77 567.47,398.21 566.11,398.66 564.86,399.11 563.71,399.55 562.68,400 561.77,400.45 560.97,400.89 560.28,401.34 559.69,401.79 559.2,402.23 558.78,402.68 558.44,403.13 558.17,403.57 557.94,404.02 557.77,404.47 557.63,404.91 557.52,405.36 557.44,405.81 557.37,406.25 557.33,406.7" fill="none" stroke="#d2303f" stroke-width="0.9"/>
<g fill="none" stroke="#d2303f" stroke-width="0.9"><circle cx="561.9" cy="385.2" r="1.5"/><circle cx="566" cy="387.5" r="1.5"/><circle cx="568.9" cy="389.6" r="1.5"/><circle cx="557.8" cy="389" r="1.5"/><circle cx="556.7" cy="393" r="1.5"/><circle cx="560.7" cy="391.9" r="1.5"/><circle cx="564.2" cy="391.9" r="1.5"/><circle cx="567.7" cy="393.6" r="1.5"/><circle cx="563.6" cy="396" r="1.5"/><circle cx="559" cy="397.1" r="1.5"/><circle cx="572.4" cy="396.5" r="1.5"/><circle cx="575.3" cy="397.4" r="1.5"/><circle cx="577.6" cy="396.5" r="1.5"/><circle cx="580" cy="392.5" r="1.5"/><circle cx="582.3" cy="391.9" r="1.5"/><circle cx="557.8" cy="401.8" r="1.5"/><circle cx="559.6" cy="402.4" r="1.5"/><circle cx="570.6" cy="395.4" r="1.5"/><circle cx="566" cy="397.1" r="1.5"/><circle cx="562.5" cy="393.6" r="1.5"/><circle cx="571" cy="390.5" r="1.5"/><circle cx="574" cy="392" r="1.5"/><circle cx="578.5" cy="394.5" r="1.5"/><circle cx="581" cy="390.3" r="1.5"/></g>
<g fill="#d2303f" fill-opacity="0.6"><circle cx="561.9" cy="385.2" r="1.5"/><circle cx="566" cy="387.5" r="1.5"/><circle cx="568.9" cy="389.6" r="1.5"/><circle cx="557.8" cy="389" r="1.5"/><circle cx="556.7" cy="393" r="1.5"/><circle cx="560.7" cy="391.9" r="1.5"/><circle cx="564.2" cy="391.9" r="1.5"/><circle cx="567.7" cy="393.6" r="1.5"/><circle cx="563.6" cy="396" r="1.5"/><circle cx="559" cy="397.1" r="1.5"/><circle cx="572.4" cy="396.5" r="1.5"/><circle cx="575.3" cy="397.4" r="1.5"/><circle cx="577.6" cy="396.5" r="1.5"/><circle cx="580" cy="392.5" r="1.5"/><circle cx="582.3" cy="391.9" r="1.5"/><circle cx="557.8" cy="401.8" r="1.5"/><circle cx="559.6" cy="402.4" r="1.5"/><circle cx="570.6" cy="395.4" r="1.5"/><circle cx="566" cy="397.1" r="1.5"/><circle cx="562.5" cy="393.6" r="1.5"/><circle cx="571" cy="390.5" r="1.5"/><circle cx="574" cy="392" r="1.5"/><circle cx="578.5" cy="394.5" r="1.5"/><circle cx="581" cy="390.3" r="1.5"/></g>
<g shape-rendering="crispEdges" filter="url(#hblur)"><path fill="#19aacf" d="M281 534.8h3v2.98h-3zM251 567.63h3v2.98h-3zM248 570.62h3v2.98h-3zM80 600.46h3v2.98h-3zM86 600.46h3v2.98h-3zM83 603.45h3v2.98h-3zM80 606.43h3v2.98h-3zM242 654.18h3v2.98h-3z"/><path fill="#1cb1c9" d="M86 504.95h3v2.98h-3zM227 519.88h3v2.98h-3zM227 522.86h6v2.98h-6zM227 525.85h3v2.98h-3zM260 525.85h9v2.98h-9zM278 528.83h3v2.98h-3zM254 531.82h6v2.98h-6zM275 531.82h9v2.98h-9zM260 534.8h3v2.98h-3zM275 534.8h3v2.98h-3zM284 534.8h6v2.98h-6zM284 537.78h3v2.98h-3zM287 543.75h3v2.98h-3zM269 549.72h3v2.98h-3zM83 555.69h3v2.98h-3zM266 555.69h3v2.98h-3zM80 558.68h6v2.98h-6zM80 561.66h6v2.98h-6zM80 564.65h3v2.98h-3zM251 564.65h3v2.98h-3zM80 567.63h3v2.98h-3zM245 567.63h3v2.98h-3zM254 567.63h3v2.98h-3zM251 570.62h6v2.98h-6zM251 573.6h9v2.98h-9zM281 573.6h3v2.98h-3zM86 597.48h3v2.98h-3zM248 597.48h6v2.98h-6zM83 600.46h3v2.98h-3zM251 600.46h3v2.98h-3zM260 600.46h3v2.98h-3zM80 603.45h3v2.98h-3zM83 606.43h3v2.98h-3zM80 609.42h3v2.98h-3zM224 642.25h3v2.98h-3zM239 657.17h9v2.98h-9zM239 660.15h6v2.98h-6z"/><path fill="#20b7bd" d="M86 496h3v2.98h-3zM119 496h3v2.98h-3zM266 496h6v2.98h-6zM287 496h3v2.98h-3zM83 498.98h3v2.98h-3zM263 498.98h3v2.98h-3zM278 498.98h3v2.98h-3zM80 501.97h3v2.98h-3zM86 501.97h3v2.98h-3zM80 504.95h6v2.98h-6zM230 504.95h3v2.98h-3zM80 507.94h6v2.98h-6zM89 507.94h3v2.98h-3zM224 516.89h12v2.98h-12zM92 519.88h3v2.98h-3zM224 519.88h3v2.98h-3zM230 519.88h6v2.98h-6zM221 522.86h6v2.98h-6zM251 522.86h3v2.98h-3zM260 522.86h3v2.98h-3zM266 522.86h3v2.98h-3zM275 522.86h6v2.98h-6zM86 525.85h6v2.98h-6zM221 525.85h6v2.98h-6zM230 525.85h6v2.98h-6zM248 525.85h12v2.98h-12zM89 528.83h3v2.98h-3zM227 528.83h3v2.98h-3zM251 528.83h24v2.98h-24zM281 528.83h6v2.98h-6zM149 531.82h3v2.98h-3zM224 531.82h3v2.98h-3zM230 531.82h3v2.98h-3zM260 531.82h9v2.98h-9zM284 531.82h3v2.98h-3zM290 531.82h3v2.98h-3zM251 534.8h9v2.98h-9zM263 534.8h3v2.98h-3zM272 534.8h3v2.98h-3zM278 534.8h3v2.98h-3zM245 537.78h3v2.98h-3zM260 537.78h3v2.98h-3zM278 537.78h6v2.98h-6zM287 537.78h6v2.98h-6zM278 540.77h6v2.98h-6zM287 540.77h3v2.98h-3zM293 540.77h3v2.98h-3zM284 543.75h3v2.98h-3zM290 543.75h3v2.98h-3zM188 546.74h3v2.98h-3zM266 546.74h6v2.98h-6zM263 549.72h6v2.98h-6zM275 549.72h3v2.98h-3zM86 552.71h3v2.98h-3zM185 552.71h3v2.98h-3zM263 552.71h6v2.98h-6zM272 552.71h3v2.98h-3zM80 555.69h3v2.98h-3zM86 555.69h6v2.98h-6zM182 555.69h6v2.98h-6zM260 555.69h3v2.98h-3zM269 555.69h3v2.98h-3zM251 561.66h3v2.98h-3zM266 561.66h6v2.98h-6zM275 561.66h3v2.98h-3zM284 561.66h3v2.98h-3zM290 561.66h3v2.98h-3zM83 564.65h3v2.98h-3zM245 564.65h6v2.98h-6zM254 564.65h3v2.98h-3zM278 564.65h3v2.98h-3zM83 567.63h3v2.98h-3zM248 567.63h3v2.98h-3zM260 567.63h3v2.98h-3zM272 567.63h3v2.98h-3zM278 567.63h3v2.98h-3zM284 567.63h3v2.98h-3zM290 567.63h3v2.98h-3zM257 570.62h3v2.98h-3zM281 570.62h3v2.98h-3zM287 570.62h6v2.98h-6zM248 573.6h3v2.98h-3zM266 573.6h3v2.98h-3zM287 573.6h6v2.98h-6zM248 576.58h6v2.98h-6zM269 576.58h6v2.98h-6zM284 576.58h3v2.98h-3zM266 579.57h9v2.98h-9zM182 591.51h3v2.98h-3zM182 594.49h6v2.98h-6zM245 594.49h3v2.98h-3zM251 594.49h9v2.98h-9zM284 594.49h3v2.98h-3zM80 597.48h3v2.98h-3zM89 597.48h3v2.98h-3zM254 597.48h3v2.98h-3zM260 597.48h6v2.98h-6zM89 600.46h3v2.98h-3zM245 600.46h6v2.98h-6zM257 600.46h3v2.98h-3zM263 600.46h6v2.98h-6zM86 603.45h3v2.98h-3zM224 603.45h3v2.98h-3zM242 603.45h3v2.98h-3zM251 603.45h3v2.98h-3zM86 606.43h3v2.98h-3zM83 609.42h3v2.98h-3zM254 609.42h3v2.98h-3zM269 612.4h3v2.98h-3zM83 618.37h3v2.98h-3zM254 618.37h3v2.98h-3zM80 621.35h6v2.98h-6zM257 621.35h3v2.98h-3zM89 636.28h6v2.98h-6zM80 645.23h3v2.98h-3zM224 645.23h6v2.98h-6zM80 648.22h6v2.98h-6zM221 648.22h21v2.98h-21zM80 651.2h3v2.98h-3zM224 651.2h3v2.98h-3zM236 654.18h6v2.98h-6zM245 654.18h3v2.98h-3zM236 657.17h3v2.98h-3zM236 660.15h3v2.98h-3zM245 660.15h3v2.98h-3zM230 663.14h3v2.98h-3zM245 663.14h3v2.98h-3zM269 663.14h3v2.98h-3zM227 666.12h3v2.98h-3zM242 666.12h3v2.98h-3zM263 666.12h3v2.98h-3zM80 669.11h3v2.98h-3zM80 672.09h6v2.98h-6zM80 675.08h3v2.98h-3z"/><path fill="#25bdb0" d="M83 496h3v2.98h-3zM98 496h3v2.98h-3zM122 496h3v2.98h-3zM257 496h6v2.98h-6zM272 496h3v2.98h-3zM278 496h3v2.98h-3zM80 498.98h3v2.98h-3zM86 498.98h6v2.98h-6zM119 498.98h6v2.98h-6zM224 498.98h3v2.98h-3zM230 498.98h3v2.98h-3zM257 498.98h6v2.98h-6zM272 498.98h3v2.98h-3zM281 498.98h3v2.98h-3zM83 501.97h3v2.98h-3zM89 501.97h3v2.98h-3zM119 501.97h3v2.98h-3zM125 501.97h3v2.98h-3zM230 501.97h3v2.98h-3zM263 501.97h3v2.98h-3zM281 501.97h3v2.98h-3zM89 504.95h3v2.98h-3zM116 504.95h3v2.98h-3zM122 504.95h3v2.98h-3zM224 504.95h6v2.98h-6zM86 507.94h3v2.98h-3zM92 507.94h3v2.98h-3zM110 507.94h12v2.98h-12zM125 507.94h3v2.98h-3zM83 510.92h6v2.98h-6zM92 510.92h3v2.98h-3zM230 510.92h3v2.98h-3zM245 510.92h3v2.98h-3zM80 513.91h6v2.98h-6zM89 513.91h3v2.98h-3zM227 513.91h9v2.98h-9zM245 513.91h3v2.98h-3zM92 516.89h3v2.98h-3zM236 516.89h3v2.98h-3zM251 516.89h6v2.98h-6zM263 516.89h3v2.98h-3zM221 519.88h3v2.98h-3zM236 519.88h3v2.98h-3zM254 519.88h9v2.98h-9zM266 519.88h3v2.98h-3zM281 519.88h3v2.98h-3zM86 522.86h3v2.98h-3zM92 522.86h3v2.98h-3zM218 522.86h3v2.98h-3zM233 522.86h6v2.98h-6zM254 522.86h6v2.98h-6zM263 522.86h3v2.98h-3zM272 522.86h3v2.98h-3zM284 522.86h3v2.98h-3zM92 525.85h9v2.98h-9zM269 525.85h18v2.98h-18zM86 528.83h3v2.98h-3zM92 528.83h6v2.98h-6zM221 528.83h6v2.98h-6zM230 528.83h3v2.98h-3zM245 528.83h6v2.98h-6zM275 528.83h3v2.98h-3zM287 528.83h6v2.98h-6zM86 531.82h6v2.98h-6zM146 531.82h3v2.98h-3zM200 531.82h3v2.98h-3zM218 531.82h6v2.98h-6zM227 531.82h3v2.98h-3zM251 531.82h3v2.98h-3zM269 531.82h6v2.98h-6zM287 531.82h3v2.98h-3zM293 531.82h3v2.98h-3zM197 534.8h3v2.98h-3zM248 534.8h3v2.98h-3zM266 534.8h6v2.98h-6zM290 534.8h6v2.98h-6zM197 537.78h3v2.98h-3zM239 537.78h6v2.98h-6zM248 537.78h12v2.98h-12zM263 537.78h6v2.98h-6zM272 537.78h6v2.98h-6zM293 537.78h3v2.98h-3zM194 540.77h3v2.98h-3zM233 540.77h6v2.98h-6zM242 540.77h3v2.98h-3zM248 540.77h3v2.98h-3zM263 540.77h3v2.98h-3zM284 540.77h3v2.98h-3zM290 540.77h3v2.98h-3zM191 543.75h3v2.98h-3zM242 543.75h3v2.98h-3zM260 543.75h9v2.98h-9zM281 543.75h3v2.98h-3zM89 546.74h3v2.98h-3zM191 546.74h3v2.98h-3zM236 546.74h3v2.98h-3zM242 546.74h3v2.98h-3zM257 546.74h9v2.98h-9zM275 546.74h3v2.98h-3zM284 546.74h12v2.98h-12zM80 549.72h3v2.98h-3zM86 549.72h3v2.98h-3zM182 549.72h9v2.98h-9zM236 549.72h3v2.98h-3zM242 549.72h3v2.98h-3zM251 549.72h3v2.98h-3zM260 549.72h3v2.98h-3zM272 549.72h3v2.98h-3zM287 549.72h9v2.98h-9zM80 552.71h6v2.98h-6zM89 552.71h3v2.98h-3zM173 552.71h3v2.98h-3zM182 552.71h3v2.98h-3zM188 552.71h6v2.98h-6zM242 552.71h3v2.98h-3zM248 552.71h3v2.98h-3zM260 552.71h3v2.98h-3zM269 552.71h3v2.98h-3zM278 552.71h3v2.98h-3zM287 552.71h3v2.98h-3zM176 555.69h3v2.98h-3zM188 555.69h3v2.98h-3zM245 555.69h3v2.98h-3zM251 555.69h3v2.98h-3zM263 555.69h3v2.98h-3zM272 555.69h3v2.98h-3zM278 555.69h12v2.98h-12zM86 558.68h6v2.98h-6zM173 558.68h12v2.98h-12zM251 558.68h6v2.98h-6zM260 558.68h9v2.98h-9zM272 558.68h3v2.98h-3zM278 558.68h3v2.98h-3zM290 558.68h6v2.98h-6zM86 561.66h3v2.98h-3zM176 561.66h6v2.98h-6zM245 561.66h6v2.98h-6zM254 561.66h6v2.98h-6zM263 561.66h3v2.98h-3zM272 561.66h3v2.98h-3zM278 561.66h3v2.98h-3zM287 561.66h3v2.98h-3zM293 561.66h3v2.98h-3zM89 564.65h3v2.98h-3zM167 564.65h3v2.98h-3zM242 564.65h3v2.98h-3zM257 564.65h6v2.98h-6zM266 564.65h3v2.98h-3zM272 564.65h6v2.98h-6zM281 564.65h15v2.98h-15zM242 567.63h3v2.98h-3zM257 567.63h3v2.98h-3zM263 567.63h3v2.98h-3zM275 567.63h3v2.98h-3zM281 567.63h3v2.98h-3zM287 567.63h3v2.98h-3zM80 570.62h6v2.98h-6zM221 570.62h3v2.98h-3zM245 570.62h3v2.98h-3zM260 570.62h3v2.98h-3zM266 570.62h15v2.98h-15zM284 570.62h3v2.98h-3zM83 573.6h3v2.98h-3zM110 573.6h3v2.98h-3zM221 573.6h6v2.98h-6zM263 573.6h3v2.98h-3zM272 573.6h9v2.98h-9zM284 573.6h3v2.98h-3zM293 573.6h3v2.98h-3zM221 576.58h3v2.98h-3zM227 576.58h3v2.98h-3zM254 576.58h6v2.98h-6zM263 576.58h6v2.98h-6zM275 576.58h3v2.98h-3zM287 576.58h6v2.98h-6zM227 579.57h3v2.98h-3zM239 579.57h3v2.98h-3zM251 579.57h3v2.98h-3zM260 579.57h3v2.98h-3zM275 579.57h3v2.98h-3zM239 582.55h6v2.98h-6zM269 582.55h9v2.98h-9zM236 585.54h9v2.98h-9zM266 585.54h6v2.98h-6zM170 588.52h6v2.98h-6zM185 588.52h3v2.98h-3zM236 588.52h12v2.98h-12zM284 588.52h3v2.98h-3zM86 591.51h3v2.98h-3zM92 591.51h3v2.98h-3zM170 591.51h12v2.98h-12zM239 591.51h3v2.98h-3zM248 591.51h6v2.98h-6zM266 591.51h3v2.98h-3zM284 591.51h6v2.98h-6zM80 594.49h9v2.98h-9zM92 594.49h3v2.98h-3zM173 594.49h3v2.98h-3zM236 594.49h9v2.98h-9zM248 594.49h3v2.98h-3zM260 594.49h9v2.98h-9zM281 594.49h3v2.98h-3zM287 594.49h3v2.98h-3zM83 597.48h3v2.98h-3zM92 597.48h3v2.98h-3zM185 597.48h6v2.98h-6zM224 597.48h3v2.98h-3zM242 597.48h6v2.98h-6zM257 597.48h3v2.98h-3zM266 597.48h3v2.98h-3zM185 600.46h3v2.98h-3zM239 600.46h6v2.98h-6zM89 603.45h6v2.98h-6zM185 603.45h6v2.98h-6zM221 603.45h3v2.98h-3zM239 603.45h3v2.98h-3zM248 603.45h3v2.98h-3zM254 603.45h12v2.98h-12zM92 606.43h3v2.98h-3zM185 606.43h3v2.98h-3zM233 606.43h3v2.98h-3zM245 606.43h9v2.98h-9zM257 606.43h3v2.98h-3zM263 606.43h3v2.98h-3zM86 609.42h3v2.98h-3zM188 609.42h3v2.98h-3zM251 609.42h3v2.98h-3zM80 612.4h3v2.98h-3zM260 612.4h6v2.98h-6zM80 615.38h6v2.98h-6zM254 615.38h6v2.98h-6zM269 615.38h3v2.98h-3zM278 615.38h3v2.98h-3zM80 618.37h3v2.98h-3zM281 618.37h3v2.98h-3zM86 621.35h3v2.98h-3zM248 621.35h3v2.98h-3zM254 621.35h3v2.98h-3zM80 624.34h6v2.98h-6zM227 624.34h3v2.98h-3zM281 624.34h6v2.98h-6zM80 627.32h3v2.98h-3zM224 627.32h3v2.98h-3zM257 627.32h12v2.98h-12zM221 630.31h6v2.98h-6zM260 630.31h9v2.98h-9zM89 633.29h6v2.98h-6zM221 633.29h3v2.98h-3zM86 636.28h3v2.98h-3zM113 636.28h3v2.98h-3zM224 636.28h3v2.98h-3zM263 636.28h3v2.98h-3zM224 639.26h3v2.98h-3zM239 639.26h3v2.98h-3zM221 642.25h3v2.98h-3zM227 642.25h6v2.98h-6zM266 642.25h3v2.98h-3zM221 645.23h3v2.98h-3zM230 645.23h15v2.98h-15zM248 645.23h3v2.98h-3zM293 645.23h3v2.98h-3zM242 648.22h6v2.98h-6zM83 651.2h6v2.98h-6zM227 651.2h18v2.98h-18zM80 654.18h6v2.98h-6zM89 654.18h3v2.98h-3zM227 654.18h3v2.98h-3zM233 654.18h3v2.98h-3zM248 654.18h3v2.98h-3zM80 657.17h3v2.98h-3zM86 657.17h3v2.98h-3zM221 657.17h15v2.98h-15zM224 660.15h12v2.98h-12zM260 660.15h9v2.98h-9zM227 663.14h3v2.98h-3zM233 663.14h12v2.98h-12zM248 663.14h3v2.98h-3zM260 663.14h9v2.98h-9zM239 666.12h3v2.98h-3zM248 666.12h3v2.98h-3zM266 666.12h3v2.98h-3zM293 666.12h3v2.98h-3zM83 669.11h3v2.98h-3zM245 669.11h6v2.98h-6zM263 669.11h6v2.98h-6zM290 669.11h3v2.98h-3zM248 672.09h3v2.98h-3zM287 672.09h3v2.98h-3zM83 675.08h6v2.98h-6zM281 675.08h3v2.98h-3zM287 675.08h3v2.98h-3zM293 675.08h3v2.98h-3zM80 678.06h6v2.98h-6zM125 684.03h3v2.98h-3zM128 687.02h3v2.98h-3zM182 687.02h3v2.98h-3zM242 687.02h3v2.98h-3z"/><path fill="#2ec2a2" d="M80 496h3v2.98h-3zM89 496h9v2.98h-9zM125 496h3v2.98h-3zM200 496h3v2.98h-3zM224 496h9v2.98h-9zM251 496h6v2.98h-6zM263 496h3v2.98h-3zM275 496h3v2.98h-3zM281 496h6v2.98h-6zM98 498.98h3v2.98h-3zM125 498.98h6v2.98h-6zM227 498.98h3v2.98h-3zM233 498.98h3v2.98h-3zM266 498.98h6v2.98h-6zM275 498.98h3v2.98h-3zM284 498.98h6v2.98h-6zM122 501.97h3v2.98h-3zM224 501.97h6v2.98h-6zM260 501.97h3v2.98h-3zM266 501.97h15v2.98h-15zM284 501.97h6v2.98h-6zM110 504.95h6v2.98h-6zM119 504.95h3v2.98h-3zM125 504.95h6v2.98h-6zM233 504.95h3v2.98h-3zM260 504.95h6v2.98h-6zM284 504.95h3v2.98h-3zM107 507.94h3v2.98h-3zM122 507.94h3v2.98h-3zM227 507.94h9v2.98h-9zM80 510.92h3v2.98h-3zM89 510.92h3v2.98h-3zM95 510.92h3v2.98h-3zM110 510.92h12v2.98h-12zM125 510.92h3v2.98h-3zM224 510.92h6v2.98h-6zM236 510.92h9v2.98h-9zM251 510.92h3v2.98h-3zM86 513.91h3v2.98h-3zM92 513.91h6v2.98h-6zM224 513.91h3v2.98h-3zM236 513.91h3v2.98h-3zM242 513.91h3v2.98h-3zM248 513.91h3v2.98h-3zM257 513.91h3v2.98h-3zM80 516.89h3v2.98h-3zM86 516.89h3v2.98h-3zM119 516.89h3v2.98h-3zM218 516.89h6v2.98h-6zM239 516.89h3v2.98h-3zM245 516.89h3v2.98h-3zM257 516.89h6v2.98h-6zM272 516.89h9v2.98h-9zM86 519.88h6v2.98h-6zM95 519.88h3v2.98h-3zM218 519.88h3v2.98h-3zM239 519.88h3v2.98h-3zM245 519.88h9v2.98h-9zM263 519.88h3v2.98h-3zM269 519.88h12v2.98h-12zM290 519.88h3v2.98h-3zM80 522.86h6v2.98h-6zM89 522.86h3v2.98h-3zM95 522.86h3v2.98h-3zM128 522.86h3v2.98h-3zM239 522.86h12v2.98h-12zM269 522.86h3v2.98h-3zM281 522.86h3v2.98h-3zM287 522.86h6v2.98h-6zM83 525.85h3v2.98h-3zM149 525.85h3v2.98h-3zM215 525.85h6v2.98h-6zM236 525.85h12v2.98h-12zM287 525.85h9v2.98h-9zM83 528.83h3v2.98h-3zM143 528.83h3v2.98h-3zM200 528.83h3v2.98h-3zM218 528.83h3v2.98h-3zM233 528.83h6v2.98h-6zM293 528.83h3v2.98h-3zM92 531.82h3v2.98h-3zM143 531.82h3v2.98h-3zM197 531.82h3v2.98h-3zM233 531.82h6v2.98h-6zM245 531.82h6v2.98h-6zM80 534.8h6v2.98h-6zM143 534.8h3v2.98h-3zM149 534.8h6v2.98h-6zM191 534.8h6v2.98h-6zM200 534.8h3v2.98h-3zM221 534.8h15v2.98h-15zM242 534.8h6v2.98h-6zM83 537.78h3v2.98h-3zM191 537.78h6v2.98h-6zM227 537.78h12v2.98h-12zM269 537.78h3v2.98h-3zM83 540.77h3v2.98h-3zM197 540.77h6v2.98h-6zM239 540.77h3v2.98h-3zM245 540.77h3v2.98h-3zM251 540.77h12v2.98h-12zM266 540.77h3v2.98h-3zM275 540.77h3v2.98h-3zM83 543.75h6v2.98h-6zM188 543.75h3v2.98h-3zM194 543.75h3v2.98h-3zM236 543.75h6v2.98h-6zM245 543.75h3v2.98h-3zM254 543.75h6v2.98h-6zM269 543.75h3v2.98h-3zM275 543.75h6v2.98h-6zM293 543.75h3v2.98h-3zM185 546.74h3v2.98h-3zM194 546.74h6v2.98h-6zM233 546.74h3v2.98h-3zM239 546.74h3v2.98h-3zM245 546.74h6v2.98h-6zM254 546.74h3v2.98h-3zM272 546.74h3v2.98h-3zM281 546.74h3v2.98h-3zM83 549.72h3v2.98h-3zM89 549.72h3v2.98h-3zM179 549.72h3v2.98h-3zM191 549.72h6v2.98h-6zM224 549.72h3v2.98h-3zM233 549.72h3v2.98h-3zM239 549.72h3v2.98h-3zM245 549.72h6v2.98h-6zM254 549.72h3v2.98h-3zM278 549.72h3v2.98h-3zM284 549.72h3v2.98h-3zM92 552.71h3v2.98h-3zM176 552.71h6v2.98h-6zM194 552.71h3v2.98h-3zM245 552.71h3v2.98h-3zM251 552.71h6v2.98h-6zM275 552.71h3v2.98h-3zM281 552.71h6v2.98h-6zM290 552.71h6v2.98h-6zM170 555.69h6v2.98h-6zM179 555.69h3v2.98h-3zM242 555.69h3v2.98h-3zM248 555.69h3v2.98h-3zM254 555.69h6v2.98h-6zM275 555.69h3v2.98h-3zM290 555.69h6v2.98h-6zM92 558.68h3v2.98h-3zM128 558.68h3v2.98h-3zM170 558.68h3v2.98h-3zM185 558.68h3v2.98h-3zM245 558.68h6v2.98h-6zM269 558.68h3v2.98h-3zM275 558.68h3v2.98h-3zM284 558.68h6v2.98h-6zM89 561.66h6v2.98h-6zM164 561.66h3v2.98h-3zM182 561.66h3v2.98h-3zM242 561.66h3v2.98h-3zM260 561.66h3v2.98h-3zM281 561.66h3v2.98h-3zM86 564.65h3v2.98h-3zM92 564.65h6v2.98h-6zM134 564.65h3v2.98h-3zM164 564.65h3v2.98h-3zM179 564.65h3v2.98h-3zM239 564.65h3v2.98h-3zM263 564.65h3v2.98h-3zM269 564.65h3v2.98h-3zM86 567.63h9v2.98h-9zM161 567.63h9v2.98h-9zM176 567.63h9v2.98h-9zM221 567.63h3v2.98h-3zM236 567.63h6v2.98h-6zM266 567.63h6v2.98h-6zM293 567.63h3v2.98h-3zM86 570.62h9v2.98h-9zM104 570.62h6v2.98h-6zM170 570.62h3v2.98h-3zM185 570.62h3v2.98h-3zM218 570.62h3v2.98h-3zM224 570.62h3v2.98h-3zM230 570.62h6v2.98h-6zM239 570.62h6v2.98h-6zM263 570.62h3v2.98h-3zM293 570.62h3v2.98h-3zM80 573.6h3v2.98h-3zM86 573.6h6v2.98h-6zM113 573.6h3v2.98h-3zM182 573.6h6v2.98h-6zM215 573.6h6v2.98h-6zM227 573.6h9v2.98h-9zM260 573.6h3v2.98h-3zM269 573.6h3v2.98h-3zM83 576.58h3v2.98h-3zM110 576.58h3v2.98h-3zM188 576.58h3v2.98h-3zM218 576.58h3v2.98h-3zM224 576.58h3v2.98h-3zM230 576.58h3v2.98h-3zM236 576.58h3v2.98h-3zM242 576.58h6v2.98h-6zM260 576.58h3v2.98h-3zM278 576.58h6v2.98h-6zM293 576.58h3v2.98h-3zM104 579.57h3v2.98h-3zM218 579.57h3v2.98h-3zM224 579.57h3v2.98h-3zM233 579.57h6v2.98h-6zM242 579.57h9v2.98h-9zM257 579.57h3v2.98h-3zM263 579.57h3v2.98h-3zM278 579.57h15v2.98h-15zM227 582.55h3v2.98h-3zM236 582.55h3v2.98h-3zM245 582.55h3v2.98h-3zM251 582.55h3v2.98h-3zM266 582.55h3v2.98h-3zM278 582.55h9v2.98h-9zM155 585.54h3v2.98h-3zM179 585.54h3v2.98h-3zM227 585.54h9v2.98h-9zM248 585.54h3v2.98h-3zM272 585.54h3v2.98h-3zM278 585.54h9v2.98h-9zM176 588.52h9v2.98h-9zM188 588.52h3v2.98h-3zM233 588.52h3v2.98h-3zM248 588.52h6v2.98h-6zM266 588.52h12v2.98h-12zM287 588.52h3v2.98h-3zM80 591.51h6v2.98h-6zM89 591.51h3v2.98h-3zM167 591.51h3v2.98h-3zM185 591.51h9v2.98h-9zM221 591.51h18v2.98h-18zM242 591.51h6v2.98h-6zM254 591.51h9v2.98h-9zM269 591.51h6v2.98h-6zM281 591.51h3v2.98h-3zM290 591.51h3v2.98h-3zM89 594.49h3v2.98h-3zM95 594.49h3v2.98h-3zM170 594.49h3v2.98h-3zM176 594.49h6v2.98h-6zM188 594.49h6v2.98h-6zM227 594.49h9v2.98h-9zM269 594.49h6v2.98h-6zM95 597.48h3v2.98h-3zM182 597.48h3v2.98h-3zM191 597.48h3v2.98h-3zM221 597.48h3v2.98h-3zM227 597.48h3v2.98h-3zM233 597.48h6v2.98h-6zM269 597.48h3v2.98h-3zM281 597.48h6v2.98h-6zM92 600.46h3v2.98h-3zM188 600.46h6v2.98h-6zM218 600.46h21v2.98h-21zM254 600.46h3v2.98h-3zM269 600.46h3v2.98h-3zM191 603.45h3v2.98h-3zM227 603.45h3v2.98h-3zM233 603.45h3v2.98h-3zM245 603.45h3v2.98h-3zM266 603.45h9v2.98h-9zM89 606.43h3v2.98h-3zM95 606.43h3v2.98h-3zM134 606.43h3v2.98h-3zM182 606.43h3v2.98h-3zM188 606.43h6v2.98h-6zM221 606.43h12v2.98h-12zM239 606.43h3v2.98h-3zM254 606.43h3v2.98h-3zM260 606.43h3v2.98h-3zM266 606.43h9v2.98h-9zM293 606.43h3v2.98h-3zM89 609.42h9v2.98h-9zM137 609.42h3v2.98h-3zM176 609.42h6v2.98h-6zM185 609.42h3v2.98h-3zM191 609.42h3v2.98h-3zM245 609.42h3v2.98h-3zM257 609.42h6v2.98h-6zM266 609.42h9v2.98h-9zM290 609.42h6v2.98h-6zM83 612.4h6v2.98h-6zM116 612.4h6v2.98h-6zM173 612.4h3v2.98h-3zM248 612.4h12v2.98h-12zM266 612.4h3v2.98h-3zM272 612.4h6v2.98h-6zM284 612.4h3v2.98h-3zM110 615.38h6v2.98h-6zM248 615.38h6v2.98h-6zM260 615.38h3v2.98h-3zM266 615.38h3v2.98h-3zM272 615.38h6v2.98h-6zM92 618.37h3v2.98h-3zM110 618.37h3v2.98h-3zM221 618.37h3v2.98h-3zM248 618.37h6v2.98h-6zM257 618.37h6v2.98h-6zM287 618.37h3v2.98h-3zM89 621.35h3v2.98h-3zM125 621.35h3v2.98h-3zM221 621.35h12v2.98h-12zM245 621.35h3v2.98h-3zM251 621.35h3v2.98h-3zM260 621.35h3v2.98h-3zM278 621.35h12v2.98h-12zM293 621.35h3v2.98h-3zM86 624.34h6v2.98h-6zM218 624.34h3v2.98h-3zM224 624.34h3v2.98h-3zM254 624.34h9v2.98h-9zM266 624.34h3v2.98h-3zM275 624.34h6v2.98h-6zM287 624.34h3v2.98h-3zM293 624.34h3v2.98h-3zM83 627.32h6v2.98h-6zM128 627.32h3v2.98h-3zM221 627.32h3v2.98h-3zM227 627.32h6v2.98h-6zM245 627.32h3v2.98h-3zM251 627.32h6v2.98h-6zM269 627.32h9v2.98h-9zM281 627.32h12v2.98h-12zM80 630.31h12v2.98h-12zM218 630.31h3v2.98h-3zM227 630.31h6v2.98h-6zM242 630.31h3v2.98h-3zM269 630.31h3v2.98h-3zM275 630.31h3v2.98h-3zM281 630.31h3v2.98h-3zM80 633.29h9v2.98h-9zM110 633.29h6v2.98h-6zM134 633.29h3v2.98h-3zM218 633.29h3v2.98h-3zM224 633.29h9v2.98h-9zM257 633.29h27v2.98h-27zM80 636.28h6v2.98h-6zM95 636.28h3v2.98h-3zM218 636.28h6v2.98h-6zM227 636.28h6v2.98h-6zM242 636.28h3v2.98h-3zM260 636.28h3v2.98h-3zM281 636.28h6v2.98h-6zM290 636.28h3v2.98h-3zM80 639.26h3v2.98h-3zM86 639.26h9v2.98h-9zM107 639.26h3v2.98h-3zM218 639.26h6v2.98h-6zM227 639.26h6v2.98h-6zM236 639.26h3v2.98h-3zM242 639.26h3v2.98h-3zM254 639.26h21v2.98h-21zM278 639.26h3v2.98h-3zM284 639.26h6v2.98h-6zM80 642.25h9v2.98h-9zM104 642.25h6v2.98h-6zM236 642.25h3v2.98h-3zM242 642.25h3v2.98h-3zM248 642.25h3v2.98h-3zM254 642.25h3v2.98h-3zM260 642.25h6v2.98h-6zM269 642.25h3v2.98h-3zM275 642.25h3v2.98h-3zM281 642.25h3v2.98h-3zM293 642.25h3v2.98h-3zM83 645.23h6v2.98h-6zM104 645.23h6v2.98h-6zM149 645.23h3v2.98h-3zM245 645.23h3v2.98h-3zM269 645.23h3v2.98h-3zM287 645.23h6v2.98h-6zM86 648.22h3v2.98h-3zM104 648.22h12v2.98h-12zM152 648.22h3v2.98h-3zM293 648.22h3v2.98h-3zM92 651.2h6v2.98h-6zM101 651.2h12v2.98h-12zM152 651.2h3v2.98h-3zM221 651.2h3v2.98h-3zM245 651.2h6v2.98h-6zM293 651.2h3v2.98h-3zM104 654.18h12v2.98h-12zM224 654.18h3v2.98h-3zM230 654.18h3v2.98h-3zM83 657.17h3v2.98h-3zM248 657.17h6v2.98h-6zM263 657.17h3v2.98h-3zM293 657.17h3v2.98h-3zM248 660.15h6v2.98h-6zM257 660.15h3v2.98h-3zM272 660.15h3v2.98h-3zM221 663.14h6v2.98h-6zM251 663.14h9v2.98h-9zM80 666.12h9v2.98h-9zM155 666.12h3v2.98h-3zM221 666.12h6v2.98h-6zM236 666.12h3v2.98h-3zM245 666.12h3v2.98h-3zM254 666.12h3v2.98h-3zM260 666.12h3v2.98h-3zM272 666.12h3v2.98h-3zM287 666.12h3v2.98h-3zM86 669.11h6v2.98h-6zM215 669.11h3v2.98h-3zM239 669.11h6v2.98h-6zM251 669.11h3v2.98h-3zM260 669.11h3v2.98h-3zM284 669.11h6v2.98h-6zM293 669.11h3v2.98h-3zM86 672.09h3v2.98h-3zM149 672.09h3v2.98h-3zM251 672.09h6v2.98h-6zM263 672.09h3v2.98h-3zM284 672.09h3v2.98h-3zM290 672.09h6v2.98h-6zM179 675.08h6v2.98h-6zM248 675.08h3v2.98h-3zM254 675.08h3v2.98h-3zM263 675.08h3v2.98h-3zM284 675.08h3v2.98h-3zM290 675.08h3v2.98h-3zM86 678.06h3v2.98h-3zM116 678.06h3v2.98h-3zM122 678.06h3v2.98h-3zM128 678.06h3v2.98h-3zM134 678.06h3v2.98h-3zM176 678.06h6v2.98h-6zM248 678.06h15v2.98h-15zM287 678.06h3v2.98h-3zM293 678.06h3v2.98h-3zM80 681.05h3v2.98h-3zM122 681.05h3v2.98h-3zM128 681.05h3v2.98h-3zM176 681.05h9v2.98h-9zM80 684.03h3v2.98h-3zM122 684.03h3v2.98h-3zM128 684.03h6v2.98h-6zM179 684.03h6v2.98h-6zM251 684.03h3v2.98h-3zM122 687.02h6v2.98h-6zM131 687.02h3v2.98h-3zM176 687.02h6v2.98h-6zM185 687.02h3v2.98h-3zM236 687.02h6v2.98h-6zM245 687.02h3v2.98h-3zM251 687.02h3v2.98h-3z"/><path fill="#3ac592" d="M128 496h3v2.98h-3zM203 496h3v2.98h-3zM209 496h3v2.98h-3zM221 496h3v2.98h-3zM233 496h3v2.98h-3zM239 496h3v2.98h-3zM248 496h3v2.98h-3zM290 496h6v2.98h-6zM92 498.98h6v2.98h-6zM116 498.98h3v2.98h-3zM221 498.98h3v2.98h-3zM236 498.98h3v2.98h-3zM245 498.98h3v2.98h-3zM251 498.98h6v2.98h-6zM290 498.98h6v2.98h-6zM92 501.97h12v2.98h-12zM110 501.97h3v2.98h-3zM116 501.97h3v2.98h-3zM128 501.97h3v2.98h-3zM221 501.97h3v2.98h-3zM233 501.97h6v2.98h-6zM254 501.97h6v2.98h-6zM290 501.97h6v2.98h-6zM92 504.95h6v2.98h-6zM218 504.95h6v2.98h-6zM239 504.95h3v2.98h-3zM269 504.95h6v2.98h-6zM278 504.95h6v2.98h-6zM287 504.95h9v2.98h-9zM104 507.94h3v2.98h-3zM131 507.94h3v2.98h-3zM221 507.94h6v2.98h-6zM236 507.94h6v2.98h-6zM245 507.94h6v2.98h-6zM254 507.94h6v2.98h-6zM272 507.94h3v2.98h-3zM281 507.94h6v2.98h-6zM293 507.94h3v2.98h-3zM104 510.92h6v2.98h-6zM122 510.92h3v2.98h-3zM128 510.92h3v2.98h-3zM233 510.92h3v2.98h-3zM248 510.92h3v2.98h-3zM254 510.92h3v2.98h-3zM260 510.92h3v2.98h-3zM269 510.92h3v2.98h-3zM284 510.92h9v2.98h-9zM98 513.91h6v2.98h-6zM107 513.91h18v2.98h-18zM221 513.91h3v2.98h-3zM239 513.91h3v2.98h-3zM254 513.91h3v2.98h-3zM260 513.91h3v2.98h-3zM272 513.91h6v2.98h-6zM290 513.91h6v2.98h-6zM83 516.89h3v2.98h-3zM89 516.89h3v2.98h-3zM95 516.89h3v2.98h-3zM122 516.89h6v2.98h-6zM140 516.89h3v2.98h-3zM242 516.89h3v2.98h-3zM248 516.89h3v2.98h-3zM266 516.89h6v2.98h-6zM281 516.89h3v2.98h-3zM287 516.89h6v2.98h-6zM80 519.88h6v2.98h-6zM98 519.88h6v2.98h-6zM122 519.88h6v2.98h-6zM137 519.88h3v2.98h-3zM242 519.88h3v2.98h-3zM284 519.88h6v2.98h-6zM293 519.88h3v2.98h-3zM98 522.86h3v2.98h-3zM215 522.86h3v2.98h-3zM293 522.86h3v2.98h-3zM80 525.85h3v2.98h-3zM125 525.85h3v2.98h-3zM143 525.85h3v2.98h-3zM197 525.85h6v2.98h-6zM80 528.83h3v2.98h-3zM98 528.83h3v2.98h-3zM146 528.83h6v2.98h-6zM194 528.83h6v2.98h-6zM215 528.83h3v2.98h-3zM239 528.83h3v2.98h-3zM80 531.82h6v2.98h-6zM137 531.82h6v2.98h-6zM152 531.82h6v2.98h-6zM194 531.82h3v2.98h-3zM215 531.82h3v2.98h-3zM242 531.82h3v2.98h-3zM86 534.8h3v2.98h-3zM137 534.8h6v2.98h-6zM146 534.8h3v2.98h-3zM155 534.8h3v2.98h-3zM203 534.8h3v2.98h-3zM218 534.8h3v2.98h-3zM236 534.8h6v2.98h-6zM86 537.78h6v2.98h-6zM113 537.78h3v2.98h-3zM119 537.78h6v2.98h-6zM140 537.78h12v2.98h-12zM200 537.78h3v2.98h-3zM218 537.78h9v2.98h-9zM80 540.77h3v2.98h-3zM86 540.77h3v2.98h-3zM143 540.77h6v2.98h-6zM155 540.77h3v2.98h-3zM182 540.77h3v2.98h-3zM188 540.77h6v2.98h-6zM203 540.77h3v2.98h-3zM221 540.77h6v2.98h-6zM230 540.77h3v2.98h-3zM269 540.77h6v2.98h-6zM80 543.75h3v2.98h-3zM89 543.75h9v2.98h-9zM113 543.75h3v2.98h-3zM119 543.75h6v2.98h-6zM179 543.75h6v2.98h-6zM197 543.75h9v2.98h-9zM218 543.75h3v2.98h-3zM230 543.75h6v2.98h-6zM248 543.75h3v2.98h-3zM272 543.75h3v2.98h-3zM80 546.74h9v2.98h-9zM92 546.74h3v2.98h-3zM116 546.74h6v2.98h-6zM125 546.74h3v2.98h-3zM179 546.74h6v2.98h-6zM200 546.74h3v2.98h-3zM224 546.74h9v2.98h-9zM251 546.74h3v2.98h-3zM92 549.72h3v2.98h-3zM119 549.72h6v2.98h-6zM176 549.72h3v2.98h-3zM197 549.72h6v2.98h-6zM221 549.72h3v2.98h-3zM230 549.72h3v2.98h-3zM257 549.72h3v2.98h-3zM281 549.72h3v2.98h-3zM95 552.71h3v2.98h-3zM122 552.71h6v2.98h-6zM170 552.71h3v2.98h-3zM221 552.71h3v2.98h-3zM227 552.71h3v2.98h-3zM236 552.71h6v2.98h-6zM257 552.71h3v2.98h-3zM92 555.69h6v2.98h-6zM125 555.69h6v2.98h-6zM191 555.69h3v2.98h-3zM227 555.69h3v2.98h-3zM125 558.68h3v2.98h-3zM167 558.68h3v2.98h-3zM191 558.68h3v2.98h-3zM236 558.68h3v2.98h-3zM242 558.68h3v2.98h-3zM257 558.68h3v2.98h-3zM281 558.68h3v2.98h-3zM95 561.66h3v2.98h-3zM128 561.66h6v2.98h-6zM149 561.66h6v2.98h-6zM158 561.66h6v2.98h-6zM167 561.66h9v2.98h-9zM185 561.66h3v2.98h-3zM239 561.66h3v2.98h-3zM128 564.65h6v2.98h-6zM149 564.65h3v2.98h-3zM155 564.65h9v2.98h-9zM170 564.65h9v2.98h-9zM182 564.65h6v2.98h-6zM236 564.65h3v2.98h-3zM95 567.63h3v2.98h-3zM131 567.63h3v2.98h-3zM158 567.63h3v2.98h-3zM170 567.63h6v2.98h-6zM185 567.63h3v2.98h-3zM218 567.63h3v2.98h-3zM224 567.63h9v2.98h-9zM101 570.62h3v2.98h-3zM110 570.62h3v2.98h-3zM125 570.62h3v2.98h-3zM155 570.62h15v2.98h-15zM173 570.62h12v2.98h-12zM227 570.62h3v2.98h-3zM236 570.62h3v2.98h-3zM92 573.6h3v2.98h-3zM104 573.6h6v2.98h-6zM155 573.6h3v2.98h-3zM161 573.6h6v2.98h-6zM236 573.6h6v2.98h-6zM245 573.6h3v2.98h-3zM80 576.58h3v2.98h-3zM86 576.58h9v2.98h-9zM107 576.58h3v2.98h-3zM131 576.58h6v2.98h-6zM182 576.58h3v2.98h-3zM215 576.58h3v2.98h-3zM233 576.58h3v2.98h-3zM239 576.58h3v2.98h-3zM83 579.57h6v2.98h-6zM110 579.57h6v2.98h-6zM176 579.57h3v2.98h-3zM188 579.57h3v2.98h-3zM215 579.57h3v2.98h-3zM221 579.57h3v2.98h-3zM230 579.57h3v2.98h-3zM254 579.57h3v2.98h-3zM86 582.55h3v2.98h-3zM134 582.55h3v2.98h-3zM224 582.55h3v2.98h-3zM230 582.55h6v2.98h-6zM248 582.55h3v2.98h-3zM254 582.55h3v2.98h-3zM263 582.55h3v2.98h-3zM80 585.54h3v2.98h-3zM86 585.54h6v2.98h-6zM137 585.54h6v2.98h-6zM167 585.54h9v2.98h-9zM182 585.54h6v2.98h-6zM221 585.54h3v2.98h-3zM245 585.54h3v2.98h-3zM251 585.54h9v2.98h-9zM263 585.54h3v2.98h-3zM275 585.54h3v2.98h-3zM287 585.54h6v2.98h-6zM80 588.52h12v2.98h-12zM140 588.52h15v2.98h-15zM161 588.52h9v2.98h-9zM191 588.52h3v2.98h-3zM221 588.52h12v2.98h-12zM254 588.52h12v2.98h-12zM278 588.52h6v2.98h-6zM290 588.52h3v2.98h-3zM95 591.51h3v2.98h-3zM140 591.51h3v2.98h-3zM146 591.51h6v2.98h-6zM158 591.51h3v2.98h-3zM164 591.51h3v2.98h-3zM263 591.51h3v2.98h-3zM278 591.51h3v2.98h-3zM167 594.49h3v2.98h-3zM221 594.49h6v2.98h-6zM275 594.49h6v2.98h-6zM137 597.48h3v2.98h-3zM170 597.48h12v2.98h-12zM194 597.48h3v2.98h-3zM218 597.48h3v2.98h-3zM230 597.48h3v2.98h-3zM239 597.48h3v2.98h-3zM275 597.48h6v2.98h-6zM287 597.48h6v2.98h-6zM95 600.46h3v2.98h-3zM101 600.46h3v2.98h-3zM116 600.46h3v2.98h-3zM131 600.46h6v2.98h-6zM182 600.46h3v2.98h-3zM272 600.46h6v2.98h-6zM281 600.46h9v2.98h-9zM95 603.45h9v2.98h-9zM131 603.45h9v2.98h-9zM179 603.45h6v2.98h-6zM194 603.45h3v2.98h-3zM218 603.45h3v2.98h-3zM230 603.45h3v2.98h-3zM236 603.45h3v2.98h-3zM278 603.45h3v2.98h-3zM284 603.45h3v2.98h-3zM293 603.45h3v2.98h-3zM101 606.43h9v2.98h-9zM116 606.43h3v2.98h-3zM131 606.43h3v2.98h-3zM137 606.43h6v2.98h-6zM173 606.43h3v2.98h-3zM179 606.43h3v2.98h-3zM215 606.43h6v2.98h-6zM236 606.43h3v2.98h-3zM242 606.43h3v2.98h-3zM275 606.43h3v2.98h-3zM290 606.43h3v2.98h-3zM98 609.42h6v2.98h-6zM113 609.42h3v2.98h-3zM128 609.42h9v2.98h-9zM170 609.42h3v2.98h-3zM182 609.42h3v2.98h-3zM215 609.42h3v2.98h-3zM221 609.42h6v2.98h-6zM230 609.42h6v2.98h-6zM239 609.42h6v2.98h-6zM248 609.42h3v2.98h-3zM263 609.42h3v2.98h-3zM275 609.42h3v2.98h-3zM281 609.42h3v2.98h-3zM89 612.4h12v2.98h-12zM104 612.4h12v2.98h-12zM122 612.4h3v2.98h-3zM131 612.4h3v2.98h-3zM170 612.4h3v2.98h-3zM176 612.4h6v2.98h-6zM185 612.4h3v2.98h-3zM215 612.4h6v2.98h-6zM245 612.4h3v2.98h-3zM278 612.4h3v2.98h-3zM287 612.4h9v2.98h-9zM86 615.38h6v2.98h-6zM95 615.38h3v2.98h-3zM107 615.38h3v2.98h-3zM116 615.38h3v2.98h-3zM128 615.38h3v2.98h-3zM176 615.38h3v2.98h-3zM218 615.38h3v2.98h-3zM245 615.38h3v2.98h-3zM263 615.38h3v2.98h-3zM281 615.38h9v2.98h-9zM293 615.38h3v2.98h-3zM86 618.37h6v2.98h-6zM125 618.37h9v2.98h-9zM149 618.37h3v2.98h-3zM218 618.37h3v2.98h-3zM242 618.37h6v2.98h-6zM263 618.37h6v2.98h-6zM275 618.37h6v2.98h-6zM284 618.37h3v2.98h-3zM290 618.37h3v2.98h-3zM92 621.35h6v2.98h-6zM107 621.35h3v2.98h-3zM242 621.35h3v2.98h-3zM263 621.35h9v2.98h-9zM275 621.35h3v2.98h-3zM290 621.35h3v2.98h-3zM92 624.34h6v2.98h-6zM128 624.34h6v2.98h-6zM221 624.34h3v2.98h-3zM230 624.34h3v2.98h-3zM245 624.34h9v2.98h-9zM263 624.34h3v2.98h-3zM272 624.34h3v2.98h-3zM290 624.34h3v2.98h-3zM89 627.32h9v2.98h-9zM125 627.32h3v2.98h-3zM131 627.32h6v2.98h-6zM161 627.32h3v2.98h-3zM215 627.32h6v2.98h-6zM233 627.32h12v2.98h-12zM248 627.32h3v2.98h-3zM278 627.32h3v2.98h-3zM293 627.32h3v2.98h-3zM92 630.31h3v2.98h-3zM113 630.31h3v2.98h-3zM128 630.31h9v2.98h-9zM215 630.31h3v2.98h-3zM233 630.31h3v2.98h-3zM239 630.31h3v2.98h-3zM248 630.31h3v2.98h-3zM254 630.31h6v2.98h-6zM272 630.31h3v2.98h-3zM278 630.31h3v2.98h-3zM284 630.31h3v2.98h-3zM293 630.31h3v2.98h-3zM95 633.29h3v2.98h-3zM101 633.29h3v2.98h-3zM107 633.29h3v2.98h-3zM116 633.29h3v2.98h-3zM131 633.29h3v2.98h-3zM137 633.29h3v2.98h-3zM152 633.29h15v2.98h-15zM215 633.29h3v2.98h-3zM233 633.29h6v2.98h-6zM242 633.29h9v2.98h-9zM254 633.29h3v2.98h-3zM284 633.29h3v2.98h-3zM290 633.29h3v2.98h-3zM101 636.28h3v2.98h-3zM107 636.28h6v2.98h-6zM116 636.28h6v2.98h-6zM131 636.28h9v2.98h-9zM152 636.28h6v2.98h-6zM215 636.28h3v2.98h-3zM233 636.28h9v2.98h-9zM245 636.28h3v2.98h-3zM257 636.28h3v2.98h-3zM266 636.28h12v2.98h-12zM287 636.28h3v2.98h-3zM293 636.28h3v2.98h-3zM83 639.26h3v2.98h-3zM95 639.26h3v2.98h-3zM101 639.26h6v2.98h-6zM110 639.26h6v2.98h-6zM131 639.26h9v2.98h-9zM152 639.26h6v2.98h-6zM170 639.26h3v2.98h-3zM233 639.26h3v2.98h-3zM245 639.26h3v2.98h-3zM251 639.26h3v2.98h-3zM275 639.26h3v2.98h-3zM281 639.26h3v2.98h-3zM290 639.26h6v2.98h-6zM89 642.25h3v2.98h-3zM95 642.25h3v2.98h-3zM101 642.25h3v2.98h-3zM110 642.25h3v2.98h-3zM134 642.25h3v2.98h-3zM152 642.25h6v2.98h-6zM218 642.25h3v2.98h-3zM233 642.25h3v2.98h-3zM239 642.25h3v2.98h-3zM245 642.25h3v2.98h-3zM251 642.25h3v2.98h-3zM257 642.25h3v2.98h-3zM272 642.25h3v2.98h-3zM278 642.25h3v2.98h-3zM284 642.25h9v2.98h-9zM89 645.23h3v2.98h-3zM98 645.23h6v2.98h-6zM110 645.23h3v2.98h-3zM134 645.23h3v2.98h-3zM152 645.23h6v2.98h-6zM218 645.23h3v2.98h-3zM251 645.23h3v2.98h-3zM260 645.23h6v2.98h-6zM272 645.23h9v2.98h-9zM89 648.22h3v2.98h-3zM98 648.22h6v2.98h-6zM149 648.22h3v2.98h-3zM155 648.22h6v2.98h-6zM173 648.22h12v2.98h-12zM248 648.22h3v2.98h-3zM263 648.22h3v2.98h-3zM269 648.22h6v2.98h-6zM290 648.22h3v2.98h-3zM89 651.2h3v2.98h-3zM113 651.2h6v2.98h-6zM149 651.2h3v2.98h-3zM155 651.2h6v2.98h-6zM164 651.2h3v2.98h-3zM176 651.2h3v2.98h-3zM215 651.2h6v2.98h-6zM251 651.2h3v2.98h-3zM290 651.2h3v2.98h-3zM86 654.18h3v2.98h-3zM92 654.18h3v2.98h-3zM98 654.18h6v2.98h-6zM149 654.18h3v2.98h-3zM158 654.18h3v2.98h-3zM170 654.18h3v2.98h-3zM221 654.18h3v2.98h-3zM251 654.18h3v2.98h-3zM257 654.18h3v2.98h-3zM290 654.18h6v2.98h-6zM92 657.17h6v2.98h-6zM113 657.17h3v2.98h-3zM152 657.17h3v2.98h-3zM215 657.17h6v2.98h-6zM257 657.17h3v2.98h-3zM266 657.17h3v2.98h-3zM290 657.17h3v2.98h-3zM83 660.15h6v2.98h-6zM101 660.15h3v2.98h-3zM158 660.15h6v2.98h-6zM212 660.15h9v2.98h-9zM269 660.15h3v2.98h-3zM80 663.14h9v2.98h-9zM92 663.14h3v2.98h-3zM152 663.14h15v2.98h-15zM215 663.14h6v2.98h-6zM272 663.14h6v2.98h-6zM284 663.14h9v2.98h-9zM89 666.12h3v2.98h-3zM146 666.12h9v2.98h-9zM215 666.12h6v2.98h-6zM230 666.12h6v2.98h-6zM251 666.12h3v2.98h-3zM257 666.12h3v2.98h-3zM269 666.12h3v2.98h-3zM284 666.12h3v2.98h-3zM92 669.11h3v2.98h-3zM116 669.11h3v2.98h-3zM134 669.11h6v2.98h-6zM146 669.11h6v2.98h-6zM161 669.11h3v2.98h-3zM218 669.11h21v2.98h-21zM254 669.11h6v2.98h-6zM269 669.11h6v2.98h-6zM89 672.09h3v2.98h-3zM137 672.09h3v2.98h-3zM146 672.09h3v2.98h-3zM152 672.09h3v2.98h-3zM164 672.09h3v2.98h-3zM173 672.09h3v2.98h-3zM218 672.09h9v2.98h-9zM233 672.09h3v2.98h-3zM239 672.09h9v2.98h-9zM257 672.09h6v2.98h-6zM266 672.09h3v2.98h-3zM278 672.09h6v2.98h-6zM89 675.08h3v2.98h-3zM107 675.08h3v2.98h-3zM113 675.08h9v2.98h-9zM125 675.08h9v2.98h-9zM140 675.08h3v2.98h-3zM146 675.08h12v2.98h-12zM167 675.08h12v2.98h-12zM188 675.08h3v2.98h-3zM236 675.08h3v2.98h-3zM242 675.08h6v2.98h-6zM251 675.08h3v2.98h-3zM257 675.08h6v2.98h-6zM266 675.08h3v2.98h-3zM110 678.06h6v2.98h-6zM119 678.06h3v2.98h-3zM125 678.06h3v2.98h-3zM131 678.06h3v2.98h-3zM146 678.06h3v2.98h-3zM173 678.06h3v2.98h-3zM182 678.06h6v2.98h-6zM191 678.06h3v2.98h-3zM245 678.06h3v2.98h-3zM263 678.06h6v2.98h-6zM278 678.06h9v2.98h-9zM83 681.05h6v2.98h-6zM113 681.05h6v2.98h-6zM125 681.05h3v2.98h-3zM131 681.05h6v2.98h-6zM143 681.05h6v2.98h-6zM173 681.05h3v2.98h-3zM185 681.05h3v2.98h-3zM239 681.05h15v2.98h-15zM257 681.05h6v2.98h-6zM266 681.05h6v2.98h-6zM278 681.05h3v2.98h-3zM284 681.05h3v2.98h-3zM83 684.03h3v2.98h-3zM89 684.03h6v2.98h-6zM119 684.03h3v2.98h-3zM134 684.03h3v2.98h-3zM146 684.03h6v2.98h-6zM185 684.03h3v2.98h-3zM218 684.03h3v2.98h-3zM239 684.03h12v2.98h-12zM254 684.03h6v2.98h-6zM266 684.03h3v2.98h-3zM284 684.03h3v2.98h-3zM80 687.02h9v2.98h-9zM119 687.02h3v2.98h-3zM134 687.02h3v2.98h-3zM146 687.02h3v2.98h-3zM188 687.02h3v2.98h-3zM215 687.02h3v2.98h-3zM221 687.02h3v2.98h-3zM233 687.02h3v2.98h-3zM248 687.02h3v2.98h-3zM254 687.02h3v2.98h-3z"/><path fill="#46c882" d="M101 496h3v2.98h-3zM116 496h3v2.98h-3zM131 496h6v2.98h-6zM206 496h3v2.98h-3zM215 496h3v2.98h-3zM236 496h3v2.98h-3zM242 496h6v2.98h-6zM131 498.98h6v2.98h-6zM203 498.98h6v2.98h-6zM212 498.98h9v2.98h-9zM239 498.98h6v2.98h-6zM113 501.97h3v2.98h-3zM131 501.97h6v2.98h-6zM242 501.97h12v2.98h-12zM98 504.95h12v2.98h-12zM131 504.95h6v2.98h-6zM149 504.95h3v2.98h-3zM215 504.95h3v2.98h-3zM236 504.95h3v2.98h-3zM242 504.95h3v2.98h-3zM248 504.95h12v2.98h-12zM266 504.95h3v2.98h-3zM275 504.95h3v2.98h-3zM95 507.94h9v2.98h-9zM128 507.94h3v2.98h-3zM146 507.94h3v2.98h-3zM185 507.94h3v2.98h-3zM215 507.94h6v2.98h-6zM242 507.94h3v2.98h-3zM251 507.94h3v2.98h-3zM260 507.94h12v2.98h-12zM287 507.94h6v2.98h-6zM98 510.92h6v2.98h-6zM131 510.92h12v2.98h-12zM164 510.92h3v2.98h-3zM182 510.92h3v2.98h-3zM194 510.92h3v2.98h-3zM215 510.92h9v2.98h-9zM257 510.92h3v2.98h-3zM266 510.92h3v2.98h-3zM275 510.92h9v2.98h-9zM293 510.92h3v2.98h-3zM104 513.91h3v2.98h-3zM125 513.91h6v2.98h-6zM134 513.91h12v2.98h-12zM167 513.91h3v2.98h-3zM185 513.91h3v2.98h-3zM215 513.91h6v2.98h-6zM251 513.91h3v2.98h-3zM263 513.91h9v2.98h-9zM278 513.91h9v2.98h-9zM98 516.89h3v2.98h-3zM104 516.89h15v2.98h-15zM128 516.89h3v2.98h-3zM146 516.89h3v2.98h-3zM191 516.89h3v2.98h-3zM215 516.89h3v2.98h-3zM284 516.89h3v2.98h-3zM293 516.89h3v2.98h-3zM104 519.88h3v2.98h-3zM113 519.88h9v2.98h-9zM128 519.88h3v2.98h-3zM215 519.88h3v2.98h-3zM101 522.86h3v2.98h-3zM122 522.86h6v2.98h-6zM131 522.86h3v2.98h-3zM140 522.86h3v2.98h-3zM149 522.86h12v2.98h-12zM185 522.86h9v2.98h-9zM197 522.86h6v2.98h-6zM212 522.86h3v2.98h-3zM101 525.85h3v2.98h-3zM107 525.85h3v2.98h-3zM122 525.85h3v2.98h-3zM128 525.85h3v2.98h-3zM146 525.85h3v2.98h-3zM152 525.85h3v2.98h-3zM185 525.85h12v2.98h-12zM203 525.85h3v2.98h-3zM101 528.83h9v2.98h-9zM122 528.83h3v2.98h-3zM134 528.83h9v2.98h-9zM152 528.83h6v2.98h-6zM191 528.83h3v2.98h-3zM212 528.83h3v2.98h-3zM242 528.83h3v2.98h-3zM98 531.82h3v2.98h-3zM110 531.82h3v2.98h-3zM125 531.82h6v2.98h-6zM158 531.82h3v2.98h-3zM188 531.82h6v2.98h-6zM203 531.82h3v2.98h-3zM212 531.82h3v2.98h-3zM239 531.82h3v2.98h-3zM89 534.8h6v2.98h-6zM110 534.8h6v2.98h-6zM158 534.8h3v2.98h-3zM212 534.8h6v2.98h-6zM80 537.78h3v2.98h-3zM116 537.78h3v2.98h-3zM125 537.78h3v2.98h-3zM134 537.78h3v2.98h-3zM152 537.78h12v2.98h-12zM188 537.78h3v2.98h-3zM203 537.78h3v2.98h-3zM107 540.77h3v2.98h-3zM116 540.77h3v2.98h-3zM122 540.77h3v2.98h-3zM137 540.77h6v2.98h-6zM149 540.77h6v2.98h-6zM158 540.77h3v2.98h-3zM179 540.77h3v2.98h-3zM185 540.77h3v2.98h-3zM227 540.77h3v2.98h-3zM110 543.75h3v2.98h-3zM116 543.75h3v2.98h-3zM143 543.75h3v2.98h-3zM149 543.75h6v2.98h-6zM161 543.75h3v2.98h-3zM173 543.75h3v2.98h-3zM185 543.75h3v2.98h-3zM221 543.75h9v2.98h-9zM251 543.75h3v2.98h-3zM95 546.74h3v2.98h-3zM104 546.74h6v2.98h-6zM113 546.74h3v2.98h-3zM122 546.74h3v2.98h-3zM167 546.74h12v2.98h-12zM206 546.74h3v2.98h-3zM218 546.74h6v2.98h-6zM278 546.74h3v2.98h-3zM95 549.72h3v2.98h-3zM107 549.72h3v2.98h-3zM116 549.72h3v2.98h-3zM155 549.72h3v2.98h-3zM164 549.72h3v2.98h-3zM170 549.72h6v2.98h-6zM215 549.72h6v2.98h-6zM227 549.72h3v2.98h-3zM128 552.71h6v2.98h-6zM161 552.71h9v2.98h-9zM197 552.71h3v2.98h-3zM224 552.71h3v2.98h-3zM230 552.71h6v2.98h-6zM101 555.69h3v2.98h-3zM131 555.69h3v2.98h-3zM152 555.69h6v2.98h-6zM167 555.69h3v2.98h-3zM218 555.69h9v2.98h-9zM230 555.69h6v2.98h-6zM239 555.69h3v2.98h-3zM95 558.68h3v2.98h-3zM131 558.68h9v2.98h-9zM149 558.68h9v2.98h-9zM164 558.68h3v2.98h-3zM188 558.68h3v2.98h-3zM233 558.68h3v2.98h-3zM239 558.68h3v2.98h-3zM98 561.66h3v2.98h-3zM125 561.66h3v2.98h-3zM134 561.66h6v2.98h-6zM146 561.66h3v2.98h-3zM155 561.66h3v2.98h-3zM188 561.66h3v2.98h-3zM227 561.66h12v2.98h-12zM98 564.65h6v2.98h-6zM125 564.65h3v2.98h-3zM140 564.65h3v2.98h-3zM152 564.65h3v2.98h-3zM218 564.65h3v2.98h-3zM224 564.65h12v2.98h-12zM98 567.63h12v2.98h-12zM128 567.63h3v2.98h-3zM137 567.63h3v2.98h-3zM146 567.63h12v2.98h-12zM215 567.63h3v2.98h-3zM233 567.63h3v2.98h-3zM95 570.62h6v2.98h-6zM122 570.62h3v2.98h-3zM128 570.62h6v2.98h-6zM137 570.62h3v2.98h-3zM152 570.62h3v2.98h-3zM188 570.62h6v2.98h-6zM215 570.62h3v2.98h-3zM95 573.6h9v2.98h-9zM116 573.6h3v2.98h-3zM134 573.6h3v2.98h-3zM158 573.6h3v2.98h-3zM167 573.6h15v2.98h-15zM188 573.6h6v2.98h-6zM242 573.6h3v2.98h-3zM95 576.58h3v2.98h-3zM101 576.58h6v2.98h-6zM113 576.58h6v2.98h-6zM128 576.58h3v2.98h-3zM137 576.58h3v2.98h-3zM155 576.58h6v2.98h-6zM170 576.58h12v2.98h-12zM185 576.58h3v2.98h-3zM191 576.58h3v2.98h-3zM80 579.57h3v2.98h-3zM89 579.57h6v2.98h-6zM98 579.57h3v2.98h-3zM107 579.57h3v2.98h-3zM125 579.57h9v2.98h-9zM170 579.57h3v2.98h-3zM179 579.57h3v2.98h-3zM185 579.57h3v2.98h-3zM191 579.57h3v2.98h-3zM293 579.57h3v2.98h-3zM80 582.55h6v2.98h-6zM89 582.55h6v2.98h-6zM104 582.55h12v2.98h-12zM119 582.55h3v2.98h-3zM125 582.55h3v2.98h-3zM131 582.55h3v2.98h-3zM137 582.55h6v2.98h-6zM164 582.55h3v2.98h-3zM176 582.55h3v2.98h-3zM182 582.55h12v2.98h-12zM215 582.55h9v2.98h-9zM257 582.55h6v2.98h-6zM287 582.55h6v2.98h-6zM83 585.54h3v2.98h-3zM107 585.54h9v2.98h-9zM131 585.54h6v2.98h-6zM143 585.54h9v2.98h-9zM158 585.54h9v2.98h-9zM176 585.54h3v2.98h-3zM188 585.54h3v2.98h-3zM218 585.54h3v2.98h-3zM224 585.54h3v2.98h-3zM92 588.52h6v2.98h-6zM137 588.52h3v2.98h-3zM155 588.52h6v2.98h-6zM194 588.52h3v2.98h-3zM218 588.52h3v2.98h-3zM293 588.52h3v2.98h-3zM113 591.51h3v2.98h-3zM128 591.51h3v2.98h-3zM134 591.51h3v2.98h-3zM143 591.51h3v2.98h-3zM152 591.51h6v2.98h-6zM161 591.51h3v2.98h-3zM194 591.51h3v2.98h-3zM218 591.51h3v2.98h-3zM275 591.51h3v2.98h-3zM293 591.51h3v2.98h-3zM98 594.49h6v2.98h-6zM116 594.49h3v2.98h-3zM137 594.49h21v2.98h-21zM161 594.49h6v2.98h-6zM194 594.49h3v2.98h-3zM218 594.49h3v2.98h-3zM290 594.49h3v2.98h-3zM98 597.48h3v2.98h-3zM110 597.48h12v2.98h-12zM134 597.48h3v2.98h-3zM143 597.48h15v2.98h-15zM161 597.48h3v2.98h-3zM167 597.48h3v2.98h-3zM215 597.48h3v2.98h-3zM272 597.48h3v2.98h-3zM98 600.46h3v2.98h-3zM104 600.46h6v2.98h-6zM113 600.46h3v2.98h-3zM119 600.46h3v2.98h-3zM137 600.46h12v2.98h-12zM155 600.46h3v2.98h-3zM176 600.46h6v2.98h-6zM194 600.46h3v2.98h-3zM215 600.46h3v2.98h-3zM278 600.46h3v2.98h-3zM290 600.46h3v2.98h-3zM104 603.45h6v2.98h-6zM113 603.45h9v2.98h-9zM140 603.45h9v2.98h-9zM164 603.45h3v2.98h-3zM170 603.45h3v2.98h-3zM275 603.45h3v2.98h-3zM281 603.45h3v2.98h-3zM287 603.45h6v2.98h-6zM98 606.43h3v2.98h-3zM110 606.43h6v2.98h-6zM119 606.43h3v2.98h-3zM152 606.43h3v2.98h-3zM158 606.43h3v2.98h-3zM170 606.43h3v2.98h-3zM194 606.43h3v2.98h-3zM278 606.43h3v2.98h-3zM287 606.43h3v2.98h-3zM104 609.42h9v2.98h-9zM116 609.42h12v2.98h-12zM140 609.42h3v2.98h-3zM173 609.42h3v2.98h-3zM194 609.42h3v2.98h-3zM218 609.42h3v2.98h-3zM227 609.42h3v2.98h-3zM236 609.42h3v2.98h-3zM278 609.42h3v2.98h-3zM284 609.42h6v2.98h-6zM101 612.4h3v2.98h-3zM125 612.4h6v2.98h-6zM134 612.4h9v2.98h-9zM182 612.4h3v2.98h-3zM188 612.4h6v2.98h-6zM221 612.4h3v2.98h-3zM233 612.4h3v2.98h-3zM239 612.4h6v2.98h-6zM281 612.4h3v2.98h-3zM92 615.38h3v2.98h-3zM98 615.38h9v2.98h-9zM119 615.38h3v2.98h-3zM125 615.38h3v2.98h-3zM131 615.38h9v2.98h-9zM149 615.38h3v2.98h-3zM155 615.38h3v2.98h-3zM173 615.38h3v2.98h-3zM179 615.38h3v2.98h-3zM194 615.38h3v2.98h-3zM215 615.38h3v2.98h-3zM221 615.38h24v2.98h-24zM290 615.38h3v2.98h-3zM95 618.37h15v2.98h-15zM113 618.37h6v2.98h-6zM134 618.37h6v2.98h-6zM146 618.37h3v2.98h-3zM170 618.37h12v2.98h-12zM194 618.37h3v2.98h-3zM215 618.37h3v2.98h-3zM224 618.37h6v2.98h-6zM233 618.37h3v2.98h-3zM269 618.37h6v2.98h-6zM293 618.37h3v2.98h-3zM98 621.35h6v2.98h-6zM128 621.35h12v2.98h-12zM146 621.35h3v2.98h-3zM152 621.35h6v2.98h-6zM191 621.35h3v2.98h-3zM215 621.35h6v2.98h-6zM233 621.35h3v2.98h-3zM239 621.35h3v2.98h-3zM272 621.35h3v2.98h-3zM104 624.34h3v2.98h-3zM125 624.34h3v2.98h-3zM134 624.34h9v2.98h-9zM161 624.34h6v2.98h-6zM182 624.34h3v2.98h-3zM215 624.34h3v2.98h-3zM236 624.34h9v2.98h-9zM269 624.34h3v2.98h-3zM107 627.32h3v2.98h-3zM116 627.32h3v2.98h-3zM170 627.32h3v2.98h-3zM182 627.32h3v2.98h-3zM191 627.32h6v2.98h-6zM95 630.31h6v2.98h-6zM107 630.31h6v2.98h-6zM116 630.31h3v2.98h-3zM122 630.31h6v2.98h-6zM137 630.31h3v2.98h-3zM155 630.31h9v2.98h-9zM167 630.31h6v2.98h-6zM194 630.31h3v2.98h-3zM236 630.31h3v2.98h-3zM245 630.31h3v2.98h-3zM251 630.31h3v2.98h-3zM287 630.31h6v2.98h-6zM98 633.29h3v2.98h-3zM104 633.29h3v2.98h-3zM119 633.29h6v2.98h-6zM128 633.29h3v2.98h-3zM143 633.29h6v2.98h-6zM167 633.29h9v2.98h-9zM185 633.29h3v2.98h-3zM194 633.29h3v2.98h-3zM239 633.29h3v2.98h-3zM251 633.29h3v2.98h-3zM287 633.29h3v2.98h-3zM293 633.29h3v2.98h-3zM98 636.28h3v2.98h-3zM104 636.28h3v2.98h-3zM128 636.28h3v2.98h-3zM140 636.28h3v2.98h-3zM146 636.28h6v2.98h-6zM158 636.28h3v2.98h-3zM164 636.28h9v2.98h-9zM194 636.28h3v2.98h-3zM251 636.28h6v2.98h-6zM278 636.28h3v2.98h-3zM98 639.26h3v2.98h-3zM128 639.26h3v2.98h-3zM140 639.26h3v2.98h-3zM146 639.26h6v2.98h-6zM158 639.26h12v2.98h-12zM191 639.26h3v2.98h-3zM197 639.26h3v2.98h-3zM215 639.26h3v2.98h-3zM248 639.26h3v2.98h-3zM92 642.25h3v2.98h-3zM98 642.25h3v2.98h-3zM128 642.25h6v2.98h-6zM146 642.25h6v2.98h-6zM161 642.25h6v2.98h-6zM173 642.25h15v2.98h-15zM191 642.25h6v2.98h-6zM215 642.25h3v2.98h-3zM92 645.23h6v2.98h-6zM113 645.23h3v2.98h-3zM131 645.23h3v2.98h-3zM137 645.23h3v2.98h-3zM158 645.23h3v2.98h-3zM167 645.23h24v2.98h-24zM215 645.23h3v2.98h-3zM254 645.23h6v2.98h-6zM266 645.23h3v2.98h-3zM281 645.23h6v2.98h-6zM92 648.22h6v2.98h-6zM116 648.22h3v2.98h-3zM131 648.22h3v2.98h-3zM161 648.22h3v2.98h-3zM170 648.22h3v2.98h-3zM185 648.22h6v2.98h-6zM212 648.22h9v2.98h-9zM251 648.22h12v2.98h-12zM266 648.22h3v2.98h-3zM275 648.22h6v2.98h-6zM287 648.22h3v2.98h-3zM98 651.2h3v2.98h-3zM131 651.2h3v2.98h-3zM146 651.2h3v2.98h-3zM170 651.2h6v2.98h-6zM179 651.2h6v2.98h-6zM254 651.2h6v2.98h-6zM263 651.2h3v2.98h-3zM287 651.2h3v2.98h-3zM95 654.18h3v2.98h-3zM146 654.18h3v2.98h-3zM161 654.18h6v2.98h-6zM173 654.18h6v2.98h-6zM182 654.18h3v2.98h-3zM212 654.18h9v2.98h-9zM254 654.18h3v2.98h-3zM266 654.18h6v2.98h-6zM89 657.17h3v2.98h-3zM98 657.17h15v2.98h-15zM131 657.17h3v2.98h-3zM146 657.17h3v2.98h-3zM170 657.17h6v2.98h-6zM179 657.17h3v2.98h-3zM254 657.17h3v2.98h-3zM260 657.17h3v2.98h-3zM269 657.17h6v2.98h-6zM287 657.17h3v2.98h-3zM80 660.15h3v2.98h-3zM89 660.15h9v2.98h-9zM149 660.15h3v2.98h-3zM155 660.15h3v2.98h-3zM164 660.15h9v2.98h-9zM209 660.15h3v2.98h-3zM221 660.15h3v2.98h-3zM254 660.15h3v2.98h-3zM287 660.15h3v2.98h-3zM293 660.15h3v2.98h-3zM89 663.14h3v2.98h-3zM95 663.14h6v2.98h-6zM107 663.14h3v2.98h-3zM119 663.14h3v2.98h-3zM140 663.14h12v2.98h-12zM167 663.14h3v2.98h-3zM209 663.14h6v2.98h-6zM293 663.14h3v2.98h-3zM92 666.12h6v2.98h-6zM104 666.12h3v2.98h-3zM119 666.12h3v2.98h-3zM131 666.12h3v2.98h-3zM140 666.12h6v2.98h-6zM158 666.12h12v2.98h-12zM212 666.12h3v2.98h-3zM281 666.12h3v2.98h-3zM290 666.12h3v2.98h-3zM95 669.11h3v2.98h-3zM113 669.11h3v2.98h-3zM119 669.11h6v2.98h-6zM143 669.11h3v2.98h-3zM152 669.11h9v2.98h-9zM164 669.11h3v2.98h-3zM173 669.11h6v2.98h-6zM212 669.11h3v2.98h-3zM275 669.11h3v2.98h-3zM281 669.11h3v2.98h-3zM92 672.09h3v2.98h-3zM98 672.09h3v2.98h-3zM110 672.09h9v2.98h-9zM122 672.09h12v2.98h-12zM140 672.09h6v2.98h-6zM155 672.09h6v2.98h-6zM167 672.09h3v2.98h-3zM176 672.09h15v2.98h-15zM215 672.09h3v2.98h-3zM227 672.09h6v2.98h-6zM236 672.09h3v2.98h-3zM272 672.09h6v2.98h-6zM92 675.08h3v2.98h-3zM110 675.08h3v2.98h-3zM122 675.08h3v2.98h-3zM134 675.08h6v2.98h-6zM143 675.08h3v2.98h-3zM158 675.08h9v2.98h-9zM185 675.08h3v2.98h-3zM215 675.08h6v2.98h-6zM224 675.08h3v2.98h-3zM230 675.08h6v2.98h-6zM239 675.08h3v2.98h-3zM278 675.08h3v2.98h-3zM89 678.06h3v2.98h-3zM137 678.06h9v2.98h-9zM149 678.06h9v2.98h-9zM167 678.06h6v2.98h-6zM188 678.06h3v2.98h-3zM218 678.06h12v2.98h-12zM233 678.06h3v2.98h-3zM239 678.06h6v2.98h-6zM272 678.06h3v2.98h-3zM290 678.06h3v2.98h-3zM89 681.05h3v2.98h-3zM119 681.05h3v2.98h-3zM149 681.05h6v2.98h-6zM188 681.05h6v2.98h-6zM221 681.05h3v2.98h-3zM236 681.05h3v2.98h-3zM254 681.05h3v2.98h-3zM263 681.05h3v2.98h-3zM272 681.05h3v2.98h-3zM281 681.05h3v2.98h-3zM287 681.05h6v2.98h-6zM86 684.03h3v2.98h-3zM116 684.03h3v2.98h-3zM137 684.03h3v2.98h-3zM143 684.03h3v2.98h-3zM152 684.03h3v2.98h-3zM170 684.03h9v2.98h-9zM188 684.03h6v2.98h-6zM221 684.03h9v2.98h-9zM233 684.03h6v2.98h-6zM260 684.03h3v2.98h-3zM278 684.03h3v2.98h-3zM287 684.03h3v2.98h-3zM116 687.02h3v2.98h-3zM149 687.02h6v2.98h-6zM173 687.02h3v2.98h-3zM218 687.02h3v2.98h-3zM224 687.02h9v2.98h-9zM257 687.02h3v2.98h-3zM263 687.02h3v2.98h-3z"/><path fill="#56ca74" d="M104 496h6v2.98h-6zM113 496h3v2.98h-3zM146 496h3v2.98h-3zM194 496h6v2.98h-6zM212 496h3v2.98h-3zM218 496h3v2.98h-3zM101 498.98h3v2.98h-3zM110 498.98h6v2.98h-6zM146 498.98h6v2.98h-6zM197 498.98h6v2.98h-6zM209 498.98h3v2.98h-3zM248 498.98h3v2.98h-3zM107 501.97h3v2.98h-3zM137 501.97h3v2.98h-3zM143 501.97h9v2.98h-9zM209 501.97h12v2.98h-12zM239 501.97h3v2.98h-3zM137 504.95h3v2.98h-3zM155 504.95h3v2.98h-3zM194 504.95h9v2.98h-9zM245 504.95h3v2.98h-3zM134 507.94h6v2.98h-6zM164 507.94h3v2.98h-3zM170 507.94h3v2.98h-3zM179 507.94h6v2.98h-6zM191 507.94h9v2.98h-9zM212 507.94h3v2.98h-3zM275 507.94h6v2.98h-6zM152 510.92h3v2.98h-3zM167 510.92h12v2.98h-12zM188 510.92h6v2.98h-6zM197 510.92h6v2.98h-6zM212 510.92h3v2.98h-3zM263 510.92h3v2.98h-3zM272 510.92h3v2.98h-3zM131 513.91h3v2.98h-3zM161 513.91h3v2.98h-3zM170 513.91h3v2.98h-3zM176 513.91h9v2.98h-9zM194 513.91h3v2.98h-3zM200 513.91h3v2.98h-3zM206 513.91h3v2.98h-3zM212 513.91h3v2.98h-3zM287 513.91h3v2.98h-3zM101 516.89h3v2.98h-3zM131 516.89h9v2.98h-9zM143 516.89h3v2.98h-3zM152 516.89h3v2.98h-3zM158 516.89h3v2.98h-3zM164 516.89h6v2.98h-6zM176 516.89h3v2.98h-3zM194 516.89h9v2.98h-9zM209 516.89h6v2.98h-6zM107 519.88h3v2.98h-3zM131 519.88h6v2.98h-6zM140 519.88h21v2.98h-21zM173 519.88h12v2.98h-12zM188 519.88h6v2.98h-6zM200 519.88h3v2.98h-3zM104 522.86h18v2.98h-18zM137 522.86h3v2.98h-3zM143 522.86h6v2.98h-6zM173 522.86h3v2.98h-3zM179 522.86h6v2.98h-6zM194 522.86h3v2.98h-3zM206 522.86h3v2.98h-3zM104 525.85h3v2.98h-3zM110 525.85h12v2.98h-12zM131 525.85h12v2.98h-12zM155 525.85h3v2.98h-3zM164 525.85h3v2.98h-3zM179 525.85h6v2.98h-6zM206 525.85h9v2.98h-9zM110 528.83h12v2.98h-12zM125 528.83h9v2.98h-9zM158 528.83h6v2.98h-6zM185 528.83h6v2.98h-6zM203 528.83h9v2.98h-9zM95 531.82h3v2.98h-3zM101 531.82h9v2.98h-9zM113 531.82h12v2.98h-12zM134 531.82h3v2.98h-3zM161 531.82h3v2.98h-3zM206 531.82h6v2.98h-6zM95 534.8h6v2.98h-6zM104 534.8h6v2.98h-6zM116 534.8h3v2.98h-3zM122 534.8h15v2.98h-15zM185 534.8h6v2.98h-6zM206 534.8h3v2.98h-3zM92 537.78h3v2.98h-3zM98 537.78h15v2.98h-15zM128 537.78h6v2.98h-6zM137 537.78h3v2.98h-3zM179 537.78h9v2.98h-9zM209 537.78h9v2.98h-9zM89 540.77h15v2.98h-15zM110 540.77h6v2.98h-6zM119 540.77h3v2.98h-3zM125 540.77h3v2.98h-3zM131 540.77h3v2.98h-3zM161 540.77h6v2.98h-6zM173 540.77h3v2.98h-3zM206 540.77h3v2.98h-3zM215 540.77h6v2.98h-6zM101 543.75h9v2.98h-9zM125 543.75h6v2.98h-6zM134 543.75h3v2.98h-3zM140 543.75h3v2.98h-3zM146 543.75h3v2.98h-3zM155 543.75h6v2.98h-6zM164 543.75h9v2.98h-9zM176 543.75h3v2.98h-3zM206 543.75h3v2.98h-3zM212 543.75h6v2.98h-6zM98 546.74h6v2.98h-6zM110 546.74h3v2.98h-3zM128 546.74h3v2.98h-3zM143 546.74h3v2.98h-3zM149 546.74h3v2.98h-3zM158 546.74h9v2.98h-9zM203 546.74h3v2.98h-3zM215 546.74h3v2.98h-3zM101 549.72h3v2.98h-3zM110 549.72h6v2.98h-6zM125 549.72h12v2.98h-12zM161 549.72h3v2.98h-3zM167 549.72h3v2.98h-3zM203 549.72h3v2.98h-3zM110 552.71h12v2.98h-12zM152 552.71h3v2.98h-3zM203 552.71h3v2.98h-3zM218 552.71h3v2.98h-3zM98 555.69h3v2.98h-3zM104 555.69h3v2.98h-3zM119 555.69h6v2.98h-6zM134 555.69h6v2.98h-6zM143 555.69h3v2.98h-3zM158 555.69h9v2.98h-9zM194 555.69h6v2.98h-6zM236 555.69h3v2.98h-3zM98 558.68h12v2.98h-12zM122 558.68h3v2.98h-3zM140 558.68h3v2.98h-3zM146 558.68h3v2.98h-3zM158 558.68h6v2.98h-6zM218 558.68h12v2.98h-12zM104 561.66h6v2.98h-6zM140 561.66h3v2.98h-3zM221 561.66h6v2.98h-6zM104 564.65h6v2.98h-6zM122 564.65h3v2.98h-3zM137 564.65h3v2.98h-3zM143 564.65h6v2.98h-6zM188 564.65h3v2.98h-3zM215 564.65h3v2.98h-3zM221 564.65h3v2.98h-3zM110 567.63h6v2.98h-6zM122 567.63h6v2.98h-6zM134 567.63h3v2.98h-3zM140 567.63h6v2.98h-6zM188 567.63h3v2.98h-3zM212 567.63h3v2.98h-3zM113 570.62h3v2.98h-3zM134 570.62h3v2.98h-3zM149 570.62h3v2.98h-3zM119 573.6h15v2.98h-15zM137 573.6h3v2.98h-3zM194 573.6h3v2.98h-3zM212 573.6h3v2.98h-3zM98 576.58h3v2.98h-3zM119 576.58h9v2.98h-9zM140 576.58h3v2.98h-3zM161 576.58h3v2.98h-3zM167 576.58h3v2.98h-3zM95 579.57h3v2.98h-3zM101 579.57h3v2.98h-3zM119 579.57h6v2.98h-6zM134 579.57h9v2.98h-9zM155 579.57h15v2.98h-15zM173 579.57h3v2.98h-3zM182 579.57h3v2.98h-3zM194 579.57h3v2.98h-3zM95 582.55h9v2.98h-9zM128 582.55h3v2.98h-3zM146 582.55h3v2.98h-3zM152 582.55h12v2.98h-12zM167 582.55h9v2.98h-9zM179 582.55h3v2.98h-3zM92 585.54h6v2.98h-6zM104 585.54h3v2.98h-3zM125 585.54h6v2.98h-6zM152 585.54h3v2.98h-3zM191 585.54h3v2.98h-3zM215 585.54h3v2.98h-3zM260 585.54h3v2.98h-3zM293 585.54h3v2.98h-3zM98 588.52h3v2.98h-3zM107 588.52h9v2.98h-9zM125 588.52h3v2.98h-3zM131 588.52h6v2.98h-6zM215 588.52h3v2.98h-3zM98 591.51h6v2.98h-6zM116 591.51h12v2.98h-12zM131 591.51h3v2.98h-3zM137 591.51h3v2.98h-3zM197 591.51h3v2.98h-3zM215 591.51h3v2.98h-3zM104 594.49h12v2.98h-12zM119 594.49h9v2.98h-9zM131 594.49h6v2.98h-6zM158 594.49h3v2.98h-3zM197 594.49h3v2.98h-3zM215 594.49h3v2.98h-3zM293 594.49h3v2.98h-3zM101 597.48h9v2.98h-9zM125 597.48h9v2.98h-9zM140 597.48h3v2.98h-3zM158 597.48h3v2.98h-3zM164 597.48h3v2.98h-3zM197 597.48h3v2.98h-3zM212 597.48h3v2.98h-3zM122 600.46h3v2.98h-3zM128 600.46h3v2.98h-3zM149 600.46h6v2.98h-6zM158 600.46h3v2.98h-3zM164 600.46h3v2.98h-3zM170 600.46h6v2.98h-6zM212 600.46h3v2.98h-3zM293 600.46h3v2.98h-3zM110 603.45h3v2.98h-3zM122 603.45h3v2.98h-3zM128 603.45h3v2.98h-3zM152 603.45h6v2.98h-6zM161 603.45h3v2.98h-3zM173 603.45h6v2.98h-6zM212 603.45h6v2.98h-6zM122 606.43h3v2.98h-3zM128 606.43h3v2.98h-3zM155 606.43h3v2.98h-3zM161 606.43h3v2.98h-3zM176 606.43h3v2.98h-3zM212 606.43h3v2.98h-3zM281 606.43h6v2.98h-6zM143 609.42h3v2.98h-3zM155 609.42h3v2.98h-3zM164 609.42h6v2.98h-6zM197 609.42h3v2.98h-3zM212 609.42h3v2.98h-3zM143 612.4h3v2.98h-3zM152 612.4h6v2.98h-6zM164 612.4h6v2.98h-6zM194 612.4h6v2.98h-6zM227 612.4h6v2.98h-6zM236 612.4h3v2.98h-3zM122 615.38h3v2.98h-3zM140 615.38h3v2.98h-3zM146 615.38h3v2.98h-3zM152 615.38h3v2.98h-3zM158 615.38h3v2.98h-3zM167 615.38h6v2.98h-6zM182 615.38h6v2.98h-6zM212 615.38h3v2.98h-3zM119 618.37h6v2.98h-6zM140 618.37h3v2.98h-3zM152 618.37h12v2.98h-12zM167 618.37h3v2.98h-3zM191 618.37h3v2.98h-3zM230 618.37h3v2.98h-3zM236 618.37h6v2.98h-6zM110 621.35h9v2.98h-9zM122 621.35h3v2.98h-3zM140 621.35h6v2.98h-6zM149 621.35h3v2.98h-3zM158 621.35h3v2.98h-3zM164 621.35h3v2.98h-3zM170 621.35h15v2.98h-15zM188 621.35h3v2.98h-3zM236 621.35h3v2.98h-3zM98 624.34h6v2.98h-6zM107 624.34h3v2.98h-3zM113 624.34h3v2.98h-3zM122 624.34h3v2.98h-3zM143 624.34h3v2.98h-3zM149 624.34h12v2.98h-12zM167 624.34h12v2.98h-12zM188 624.34h3v2.98h-3zM233 624.34h3v2.98h-3zM98 627.32h9v2.98h-9zM110 627.32h6v2.98h-6zM119 627.32h6v2.98h-6zM137 627.32h24v2.98h-24zM164 627.32h6v2.98h-6zM173 627.32h9v2.98h-9zM185 627.32h6v2.98h-6zM197 627.32h3v2.98h-3zM212 627.32h3v2.98h-3zM101 630.31h6v2.98h-6zM119 630.31h3v2.98h-3zM140 630.31h6v2.98h-6zM149 630.31h6v2.98h-6zM164 630.31h3v2.98h-3zM179 630.31h3v2.98h-3zM185 630.31h9v2.98h-9zM197 630.31h3v2.98h-3zM209 630.31h6v2.98h-6zM140 633.29h3v2.98h-3zM176 633.29h3v2.98h-3zM188 633.29h6v2.98h-6zM197 633.29h3v2.98h-3zM212 633.29h3v2.98h-3zM122 636.28h6v2.98h-6zM143 636.28h3v2.98h-3zM161 636.28h3v2.98h-3zM173 636.28h3v2.98h-3zM179 636.28h3v2.98h-3zM185 636.28h9v2.98h-9zM197 636.28h3v2.98h-3zM209 636.28h6v2.98h-6zM248 636.28h3v2.98h-3zM116 639.26h9v2.98h-9zM173 639.26h3v2.98h-3zM179 639.26h12v2.98h-12zM194 639.26h3v2.98h-3zM212 639.26h3v2.98h-3zM113 642.25h9v2.98h-9zM137 642.25h9v2.98h-9zM158 642.25h3v2.98h-3zM167 642.25h6v2.98h-6zM188 642.25h3v2.98h-3zM116 645.23h3v2.98h-3zM140 645.23h3v2.98h-3zM146 645.23h3v2.98h-3zM161 645.23h6v2.98h-6zM191 645.23h3v2.98h-3zM206 645.23h9v2.98h-9zM128 648.22h3v2.98h-3zM134 648.22h9v2.98h-9zM146 648.22h3v2.98h-3zM164 648.22h6v2.98h-6zM191 648.22h3v2.98h-3zM209 648.22h3v2.98h-3zM281 648.22h6v2.98h-6zM119 651.2h3v2.98h-3zM128 651.2h3v2.98h-3zM143 651.2h3v2.98h-3zM161 651.2h3v2.98h-3zM167 651.2h3v2.98h-3zM185 651.2h9v2.98h-9zM212 651.2h3v2.98h-3zM260 651.2h3v2.98h-3zM266 651.2h12v2.98h-12zM281 651.2h6v2.98h-6zM116 654.18h6v2.98h-6zM131 654.18h3v2.98h-3zM140 654.18h6v2.98h-6zM152 654.18h6v2.98h-6zM167 654.18h3v2.98h-3zM179 654.18h3v2.98h-3zM188 654.18h3v2.98h-3zM209 654.18h3v2.98h-3zM260 654.18h6v2.98h-6zM284 654.18h6v2.98h-6zM116 657.17h6v2.98h-6zM125 657.17h3v2.98h-3zM134 657.17h6v2.98h-6zM143 657.17h3v2.98h-3zM149 657.17h3v2.98h-3zM155 657.17h15v2.98h-15zM176 657.17h3v2.98h-3zM209 657.17h6v2.98h-6zM275 657.17h3v2.98h-3zM98 660.15h3v2.98h-3zM104 660.15h12v2.98h-12zM119 660.15h3v2.98h-3zM134 660.15h9v2.98h-9zM146 660.15h3v2.98h-3zM152 660.15h3v2.98h-3zM191 660.15h3v2.98h-3zM206 660.15h3v2.98h-3zM275 660.15h12v2.98h-12zM290 660.15h3v2.98h-3zM101 663.14h6v2.98h-6zM113 663.14h3v2.98h-3zM122 663.14h6v2.98h-6zM137 663.14h3v2.98h-3zM170 663.14h6v2.98h-6zM185 663.14h3v2.98h-3zM206 663.14h3v2.98h-3zM278 663.14h6v2.98h-6zM98 666.12h6v2.98h-6zM113 666.12h6v2.98h-6zM134 666.12h6v2.98h-6zM185 666.12h12v2.98h-12zM275 666.12h6v2.98h-6zM98 669.11h15v2.98h-15zM128 669.11h6v2.98h-6zM140 669.11h3v2.98h-3zM167 669.11h6v2.98h-6zM185 669.11h9v2.98h-9zM278 669.11h3v2.98h-3zM107 672.09h3v2.98h-3zM119 672.09h3v2.98h-3zM134 672.09h3v2.98h-3zM161 672.09h3v2.98h-3zM170 672.09h3v2.98h-3zM191 672.09h3v2.98h-3zM212 672.09h3v2.98h-3zM269 672.09h3v2.98h-3zM104 675.08h3v2.98h-3zM191 675.08h3v2.98h-3zM221 675.08h3v2.98h-3zM227 675.08h3v2.98h-3zM269 675.08h9v2.98h-9zM107 678.06h3v2.98h-3zM158 678.06h3v2.98h-3zM164 678.06h3v2.98h-3zM194 678.06h3v2.98h-3zM230 678.06h3v2.98h-3zM236 678.06h3v2.98h-3zM269 678.06h3v2.98h-3zM275 678.06h3v2.98h-3zM92 681.05h3v2.98h-3zM110 681.05h3v2.98h-3zM137 681.05h6v2.98h-6zM155 681.05h6v2.98h-6zM164 681.05h3v2.98h-3zM170 681.05h3v2.98h-3zM218 681.05h3v2.98h-3zM224 681.05h12v2.98h-12zM275 681.05h3v2.98h-3zM293 681.05h3v2.98h-3zM95 684.03h3v2.98h-3zM107 684.03h6v2.98h-6zM140 684.03h3v2.98h-3zM161 684.03h3v2.98h-3zM230 684.03h3v2.98h-3zM263 684.03h3v2.98h-3zM269 684.03h6v2.98h-6zM281 684.03h3v2.98h-3zM89 687.02h18v2.98h-18zM113 687.02h3v2.98h-3zM137 687.02h9v2.98h-9zM170 687.02h3v2.98h-3zM191 687.02h3v2.98h-3zM260 687.02h3v2.98h-3zM266 687.02h3v2.98h-3zM272 687.02h3v2.98h-3zM281 687.02h3v2.98h-3zM287 687.02h3v2.98h-3z"/><path fill="#66cc67" d="M110 496h3v2.98h-3zM137 496h9v2.98h-9zM149 496h6v2.98h-6zM164 496h6v2.98h-6zM188 496h6v2.98h-6zM104 498.98h6v2.98h-6zM137 498.98h3v2.98h-3zM143 498.98h3v2.98h-3zM164 498.98h6v2.98h-6zM194 498.98h3v2.98h-3zM104 501.97h3v2.98h-3zM140 501.97h3v2.98h-3zM152 501.97h6v2.98h-6zM161 501.97h9v2.98h-9zM194 501.97h15v2.98h-15zM140 504.95h9v2.98h-9zM152 504.95h3v2.98h-3zM161 504.95h6v2.98h-6zM182 504.95h6v2.98h-6zM203 504.95h3v2.98h-3zM209 504.95h6v2.98h-6zM140 507.94h6v2.98h-6zM149 507.94h15v2.98h-15zM167 507.94h3v2.98h-3zM173 507.94h6v2.98h-6zM188 507.94h3v2.98h-3zM200 507.94h3v2.98h-3zM209 507.94h3v2.98h-3zM143 510.92h6v2.98h-6zM155 510.92h9v2.98h-9zM179 510.92h3v2.98h-3zM185 510.92h3v2.98h-3zM203 510.92h9v2.98h-9zM146 513.91h12v2.98h-12zM164 513.91h3v2.98h-3zM173 513.91h3v2.98h-3zM188 513.91h6v2.98h-6zM197 513.91h3v2.98h-3zM209 513.91h3v2.98h-3zM149 516.89h3v2.98h-3zM155 516.89h3v2.98h-3zM161 516.89h3v2.98h-3zM170 516.89h6v2.98h-6zM179 516.89h12v2.98h-12zM203 516.89h6v2.98h-6zM110 519.88h3v2.98h-3zM161 519.88h12v2.98h-12zM185 519.88h3v2.98h-3zM194 519.88h6v2.98h-6zM203 519.88h12v2.98h-12zM134 522.86h3v2.98h-3zM161 522.86h12v2.98h-12zM176 522.86h3v2.98h-3zM203 522.86h3v2.98h-3zM209 522.86h3v2.98h-3zM158 525.85h6v2.98h-6zM167 525.85h3v2.98h-3zM173 525.85h6v2.98h-6zM170 528.83h6v2.98h-6zM179 528.83h6v2.98h-6zM131 531.82h3v2.98h-3zM164 531.82h3v2.98h-3zM185 531.82h3v2.98h-3zM101 534.8h3v2.98h-3zM119 534.8h3v2.98h-3zM161 534.8h3v2.98h-3zM173 534.8h12v2.98h-12zM209 534.8h3v2.98h-3zM95 537.78h3v2.98h-3zM164 537.78h3v2.98h-3zM176 537.78h3v2.98h-3zM206 537.78h3v2.98h-3zM104 540.77h3v2.98h-3zM128 540.77h3v2.98h-3zM134 540.77h3v2.98h-3zM167 540.77h6v2.98h-6zM176 540.77h3v2.98h-3zM209 540.77h6v2.98h-6zM98 543.75h3v2.98h-3zM131 543.75h3v2.98h-3zM209 543.75h3v2.98h-3zM131 546.74h6v2.98h-6zM140 546.74h3v2.98h-3zM146 546.74h3v2.98h-3zM152 546.74h6v2.98h-6zM209 546.74h6v2.98h-6zM98 549.72h3v2.98h-3zM104 549.72h3v2.98h-3zM137 549.72h6v2.98h-6zM146 549.72h6v2.98h-6zM206 549.72h9v2.98h-9zM98 552.71h12v2.98h-12zM134 552.71h3v2.98h-3zM143 552.71h3v2.98h-3zM149 552.71h3v2.98h-3zM155 552.71h6v2.98h-6zM215 552.71h3v2.98h-3zM107 555.69h3v2.98h-3zM116 555.69h3v2.98h-3zM146 555.69h3v2.98h-3zM116 558.68h6v2.98h-6zM143 558.68h3v2.98h-3zM194 558.68h3v2.98h-3zM215 558.68h3v2.98h-3zM230 558.68h3v2.98h-3zM101 561.66h3v2.98h-3zM110 561.66h3v2.98h-3zM119 561.66h6v2.98h-6zM143 561.66h3v2.98h-3zM215 561.66h6v2.98h-6zM110 564.65h6v2.98h-6zM191 564.65h3v2.98h-3zM116 567.63h6v2.98h-6zM191 567.63h3v2.98h-3zM116 570.62h6v2.98h-6zM140 570.62h9v2.98h-9zM194 570.62h3v2.98h-3zM209 570.62h6v2.98h-6zM140 573.6h6v2.98h-6zM197 573.6h3v2.98h-3zM209 573.6h3v2.98h-3zM152 576.58h3v2.98h-3zM164 576.58h3v2.98h-3zM194 576.58h3v2.98h-3zM212 576.58h3v2.98h-3zM116 579.57h3v2.98h-3zM143 579.57h3v2.98h-3zM149 579.57h6v2.98h-6zM197 579.57h3v2.98h-3zM209 579.57h6v2.98h-6zM116 582.55h3v2.98h-3zM122 582.55h3v2.98h-3zM143 582.55h3v2.98h-3zM149 582.55h3v2.98h-3zM194 582.55h3v2.98h-3zM293 582.55h3v2.98h-3zM98 585.54h3v2.98h-3zM116 585.54h9v2.98h-9zM194 585.54h6v2.98h-6zM101 588.52h6v2.98h-6zM116 588.52h9v2.98h-9zM128 588.52h3v2.98h-3zM197 588.52h3v2.98h-3zM104 591.51h9v2.98h-9zM200 591.51h3v2.98h-3zM209 591.51h3v2.98h-3zM128 594.49h3v2.98h-3zM200 594.49h3v2.98h-3zM209 594.49h6v2.98h-6zM122 597.48h3v2.98h-3zM209 597.48h3v2.98h-3zM293 597.48h3v2.98h-3zM110 600.46h3v2.98h-3zM125 600.46h3v2.98h-3zM161 600.46h3v2.98h-3zM167 600.46h3v2.98h-3zM197 600.46h3v2.98h-3zM125 603.45h3v2.98h-3zM149 603.45h3v2.98h-3zM158 603.45h3v2.98h-3zM167 603.45h3v2.98h-3zM197 603.45h3v2.98h-3zM125 606.43h3v2.98h-3zM143 606.43h9v2.98h-9zM164 606.43h6v2.98h-6zM197 606.43h3v2.98h-3zM149 609.42h6v2.98h-6zM158 609.42h6v2.98h-6zM146 612.4h6v2.98h-6zM158 612.4h6v2.98h-6zM212 612.4h3v2.98h-3zM224 612.4h3v2.98h-3zM143 615.38h3v2.98h-3zM161 615.38h6v2.98h-6zM188 615.38h6v2.98h-6zM143 618.37h3v2.98h-3zM164 618.37h3v2.98h-3zM182 618.37h6v2.98h-6zM197 618.37h3v2.98h-3zM212 618.37h3v2.98h-3zM104 621.35h3v2.98h-3zM119 621.35h3v2.98h-3zM161 621.35h3v2.98h-3zM167 621.35h3v2.98h-3zM185 621.35h3v2.98h-3zM194 621.35h6v2.98h-6zM212 621.35h3v2.98h-3zM110 624.34h3v2.98h-3zM116 624.34h6v2.98h-6zM146 624.34h3v2.98h-3zM179 624.34h3v2.98h-3zM185 624.34h3v2.98h-3zM191 624.34h9v2.98h-9zM209 624.34h6v2.98h-6zM209 627.32h3v2.98h-3zM146 630.31h3v2.98h-3zM173 630.31h6v2.98h-6zM182 630.31h3v2.98h-3zM125 633.29h3v2.98h-3zM149 633.29h3v2.98h-3zM179 633.29h6v2.98h-6zM200 633.29h3v2.98h-3zM209 633.29h3v2.98h-3zM176 636.28h3v2.98h-3zM182 636.28h3v2.98h-3zM200 636.28h3v2.98h-3zM125 639.26h3v2.98h-3zM143 639.26h3v2.98h-3zM176 639.26h3v2.98h-3zM200 639.26h3v2.98h-3zM209 639.26h3v2.98h-3zM125 642.25h3v2.98h-3zM197 642.25h3v2.98h-3zM203 642.25h12v2.98h-12zM128 645.23h3v2.98h-3zM194 645.23h3v2.98h-3zM203 645.23h3v2.98h-3zM119 648.22h3v2.98h-3zM143 648.22h3v2.98h-3zM206 648.22h3v2.98h-3zM134 651.2h9v2.98h-9zM194 651.2h3v2.98h-3zM209 651.2h3v2.98h-3zM278 651.2h3v2.98h-3zM125 654.18h6v2.98h-6zM134 654.18h6v2.98h-6zM185 654.18h3v2.98h-3zM191 654.18h6v2.98h-6zM272 654.18h9v2.98h-9zM122 657.17h3v2.98h-3zM128 657.17h3v2.98h-3zM140 657.17h3v2.98h-3zM182 657.17h15v2.98h-15zM206 657.17h3v2.98h-3zM284 657.17h3v2.98h-3zM116 660.15h3v2.98h-3zM122 660.15h12v2.98h-12zM143 660.15h3v2.98h-3zM179 660.15h6v2.98h-6zM188 660.15h3v2.98h-3zM194 660.15h3v2.98h-3zM110 663.14h3v2.98h-3zM116 663.14h3v2.98h-3zM128 663.14h9v2.98h-9zM182 663.14h3v2.98h-3zM188 663.14h9v2.98h-9zM200 663.14h6v2.98h-6zM107 666.12h6v2.98h-6zM122 666.12h9v2.98h-9zM170 666.12h6v2.98h-6zM179 666.12h3v2.98h-3zM206 666.12h6v2.98h-6zM125 669.11h3v2.98h-3zM179 669.11h6v2.98h-6zM194 669.11h3v2.98h-3zM209 669.11h3v2.98h-3zM95 672.09h3v2.98h-3zM101 672.09h6v2.98h-6zM194 672.09h3v2.98h-3zM101 675.08h3v2.98h-3zM92 678.06h3v2.98h-3zM101 678.06h6v2.98h-6zM161 678.06h3v2.98h-3zM212 678.06h6v2.98h-6zM95 681.05h3v2.98h-3zM104 681.05h6v2.98h-6zM161 681.05h3v2.98h-3zM167 681.05h3v2.98h-3zM194 681.05h3v2.98h-3zM215 681.05h3v2.98h-3zM98 684.03h9v2.98h-9zM113 684.03h3v2.98h-3zM155 684.03h3v2.98h-3zM164 684.03h6v2.98h-6zM194 684.03h3v2.98h-3zM215 684.03h3v2.98h-3zM275 684.03h3v2.98h-3zM290 684.03h6v2.98h-6zM107 687.02h6v2.98h-6zM155 687.02h9v2.98h-9zM194 687.02h3v2.98h-3zM269 687.02h3v2.98h-3zM278 687.02h3v2.98h-3zM284 687.02h3v2.98h-3z"/><path fill="#77cc5a" d="M170 496h3v2.98h-3zM182 496h3v2.98h-3zM140 498.98h3v2.98h-3zM152 498.98h3v2.98h-3zM170 498.98h3v2.98h-3zM185 498.98h9v2.98h-9zM182 501.97h9v2.98h-9zM158 504.95h3v2.98h-3zM167 504.95h6v2.98h-6zM179 504.95h3v2.98h-3zM188 504.95h6v2.98h-6zM206 504.95h3v2.98h-3zM203 507.94h3v2.98h-3zM149 510.92h3v2.98h-3zM158 513.91h3v2.98h-3zM203 513.91h3v2.98h-3zM170 525.85h3v2.98h-3zM164 528.83h6v2.98h-6zM176 528.83h3v2.98h-3zM167 531.82h3v2.98h-3zM173 531.82h12v2.98h-12zM164 534.8h9v2.98h-9zM167 537.78h9v2.98h-9zM137 543.75h3v2.98h-3zM137 546.74h3v2.98h-3zM143 549.72h3v2.98h-3zM152 549.72h3v2.98h-3zM158 549.72h3v2.98h-3zM137 552.71h6v2.98h-6zM146 552.71h3v2.98h-3zM200 552.71h3v2.98h-3zM206 552.71h3v2.98h-3zM212 552.71h3v2.98h-3zM110 555.69h6v2.98h-6zM140 555.69h3v2.98h-3zM149 555.69h3v2.98h-3zM200 555.69h3v2.98h-3zM215 555.69h3v2.98h-3zM110 558.68h6v2.98h-6zM113 561.66h3v2.98h-3zM191 561.66h3v2.98h-3zM212 561.66h3v2.98h-3zM116 564.65h6v2.98h-6zM212 564.65h3v2.98h-3zM200 570.62h3v2.98h-3zM146 573.6h3v2.98h-3zM152 573.6h3v2.98h-3zM143 576.58h9v2.98h-9zM197 576.58h3v2.98h-3zM203 576.58h3v2.98h-3zM209 576.58h3v2.98h-3zM146 579.57h3v2.98h-3zM203 579.57h6v2.98h-6zM203 582.55h3v2.98h-3zM212 582.55h3v2.98h-3zM101 585.54h3v2.98h-3zM200 585.54h3v2.98h-3zM209 585.54h6v2.98h-6zM200 588.52h6v2.98h-6zM212 588.52h3v2.98h-3zM212 591.51h3v2.98h-3zM203 594.49h6v2.98h-6zM200 597.48h3v2.98h-3zM200 600.46h3v2.98h-3zM209 600.46h3v2.98h-3zM209 603.45h3v2.98h-3zM209 606.43h3v2.98h-3zM146 609.42h3v2.98h-3zM209 609.42h3v2.98h-3zM200 612.4h3v2.98h-3zM209 612.4h3v2.98h-3zM197 615.38h3v2.98h-3zM209 615.38h3v2.98h-3zM188 618.37h3v2.98h-3zM200 618.37h3v2.98h-3zM206 618.37h3v2.98h-3zM206 624.34h3v2.98h-3zM200 627.32h3v2.98h-3zM200 630.31h9v2.98h-9zM203 636.28h3v2.98h-3zM206 639.26h3v2.98h-3zM122 642.25h3v2.98h-3zM200 642.25h3v2.98h-3zM119 645.23h3v2.98h-3zM125 645.23h3v2.98h-3zM143 645.23h3v2.98h-3zM197 645.23h6v2.98h-6zM125 648.22h3v2.98h-3zM194 648.22h9v2.98h-9zM122 651.2h6v2.98h-6zM206 651.2h3v2.98h-3zM122 654.18h3v2.98h-3zM206 654.18h3v2.98h-3zM281 654.18h3v2.98h-3zM197 657.17h3v2.98h-3zM203 657.17h3v2.98h-3zM278 657.17h6v2.98h-6zM173 660.15h6v2.98h-6zM185 660.15h3v2.98h-3zM197 660.15h9v2.98h-9zM176 663.14h6v2.98h-6zM197 663.14h3v2.98h-3zM176 666.12h3v2.98h-3zM182 666.12h3v2.98h-3zM197 666.12h3v2.98h-3zM197 669.11h3v2.98h-3zM95 675.08h6v2.98h-6zM194 675.08h3v2.98h-3zM212 675.08h3v2.98h-3zM95 678.06h6v2.98h-6zM98 681.05h6v2.98h-6zM158 684.03h3v2.98h-3zM197 684.03h3v2.98h-3zM164 687.02h6v2.98h-6zM197 687.02h3v2.98h-3zM212 687.02h3v2.98h-3zM275 687.02h3v2.98h-3zM290 687.02h6v2.98h-6z"/><path fill="#88cd4d" d="M155 496h6v2.98h-6zM176 496h3v2.98h-3zM185 496h3v2.98h-3zM155 498.98h9v2.98h-9zM182 498.98h3v2.98h-3zM170 501.97h3v2.98h-3zM191 501.97h3v2.98h-3zM173 504.95h3v2.98h-3zM206 507.94h3v2.98h-3zM170 531.82h3v2.98h-3zM209 552.71h3v2.98h-3zM203 555.69h3v2.98h-3zM209 555.69h6v2.98h-6zM197 558.68h9v2.98h-9zM116 561.66h3v2.98h-3zM194 561.66h3v2.98h-3zM194 564.65h3v2.98h-3zM209 564.65h3v2.98h-3zM194 567.63h6v2.98h-6zM209 567.63h3v2.98h-3zM197 570.62h3v2.98h-3zM206 570.62h3v2.98h-3zM149 573.6h3v2.98h-3zM200 573.6h9v2.98h-9zM200 576.58h3v2.98h-3zM206 576.58h3v2.98h-3zM200 579.57h3v2.98h-3zM197 582.55h6v2.98h-6zM206 582.55h6v2.98h-6zM203 585.54h6v2.98h-6zM206 588.52h6v2.98h-6zM203 591.51h6v2.98h-6zM203 597.48h6v2.98h-6zM203 600.46h6v2.98h-6zM203 603.45h6v2.98h-6zM200 606.43h9v2.98h-9zM200 609.42h9v2.98h-9zM203 612.4h3v2.98h-3zM200 615.38h3v2.98h-3zM206 615.38h3v2.98h-3zM203 618.37h3v2.98h-3zM209 618.37h3v2.98h-3zM200 621.35h6v2.98h-6zM209 621.35h3v2.98h-3zM200 624.34h6v2.98h-6zM203 627.32h6v2.98h-6zM206 636.28h3v2.98h-3zM203 639.26h3v2.98h-3zM122 645.23h3v2.98h-3zM122 648.22h3v2.98h-3zM203 648.22h3v2.98h-3zM203 651.2h3v2.98h-3zM197 654.18h3v2.98h-3zM203 654.18h3v2.98h-3zM200 657.17h3v2.98h-3zM200 666.12h6v2.98h-6zM200 669.11h9v2.98h-9zM197 672.09h3v2.98h-3zM209 672.09h3v2.98h-3zM209 675.08h3v2.98h-3zM197 678.06h3v2.98h-3zM209 678.06h3v2.98h-3zM197 681.05h3v2.98h-3zM212 681.05h3v2.98h-3zM212 684.03h3v2.98h-3zM200 687.02h3v2.98h-3zM206 687.02h6v2.98h-6z"/><path fill="#99cc42" d="M161 496h3v2.98h-3zM173 496h3v2.98h-3zM179 496h3v2.98h-3zM158 501.97h3v2.98h-3zM173 501.97h3v2.98h-3zM179 501.97h3v2.98h-3zM176 504.95h3v2.98h-3zM206 555.69h3v2.98h-3zM209 558.68h6v2.98h-6zM197 561.66h15v2.98h-15zM197 564.65h6v2.98h-6zM200 567.63h9v2.98h-9zM203 570.62h3v2.98h-3zM200 603.45h3v2.98h-3zM206 612.4h3v2.98h-3zM203 615.38h3v2.98h-3zM206 621.35h3v2.98h-3zM203 633.29h6v2.98h-6zM197 651.2h3v2.98h-3zM200 654.18h3v2.98h-3zM206 672.09h3v2.98h-3zM197 675.08h3v2.98h-3zM200 678.06h3v2.98h-3zM200 681.05h3v2.98h-3zM209 681.05h3v2.98h-3zM200 684.03h6v2.98h-6zM209 684.03h3v2.98h-3zM203 687.02h3v2.98h-3z"/><path fill="#aaca3a" d="M179 498.98h3v2.98h-3zM176 501.97h3v2.98h-3zM206 558.68h3v2.98h-3zM203 564.65h6v2.98h-6zM200 651.2h3v2.98h-3zM200 672.09h6v2.98h-6zM206 675.08h3v2.98h-3zM206 684.03h3v2.98h-3z"/><path fill="#bac832" d="M173 498.98h6v2.98h-6zM200 675.08h6v2.98h-6zM206 678.06h3v2.98h-3zM203 681.05h6v2.98h-6z"/><path fill="#c9c42e" d="M203 678.06h3v2.98h-3z"/></g>
<rect x="80" y="496" width="216" height="194" filter="url(#grainD)" opacity="0.25"/><rect x="80" y="496" width="216" height="194" filter="url(#grainL)" opacity="0.25"/>
<rect x="80" y="496" width="216" height="194" fill="none" stroke="#777" stroke-width="0.5"/>
<linearGradient id="cbE" x1="0" y1="0" x2="0" y2="1"><stop offset="0" stop-color="#f5f219"/><stop offset="0.05" stop-color="#f8e11e"/><stop offset="0.1" stop-color="#fccd26"/><stop offset="0.15" stop-color="#fcbc2d"/><stop offset="0.2" stop-color="#f2b92d"/><stop offset="0.25" stop-color="#dcc02a"/><stop offset="0.3" stop-color="#b9c832"/><stop offset="0.35" stop-color="#91cd46"/><stop offset="0.4" stop-color="#69cc64"/><stop offset="0.45" stop-color="#44c884"/><stop offset="0.5" stop-color="#28c0aa"/><stop offset="0.55" stop-color="#1cb2c8"/><stop offset="0.6" stop-color="#16a2d7"/><stop offset="0.7" stop-color="#208ae8"/><stop offset="0.8" stop-color="#2d70e8"/><stop offset="0.9" stop-color="#3e50d7"/><stop offset="1" stop-color="#4838b0"/></linearGradient>
<rect x="307.4" y="496" width="12.3" height="194" fill="url(#cbE)" stroke="#666" stroke-width="0.6"/>
<text x="322.8" y="692.5" font-size="7" fill="#444" stroke="#444" stroke-width="0.2">1500</text>
<text x="322.8" y="673.1" font-size="7" fill="#444" stroke="#444" stroke-width="0.2">1600</text>
<text x="322.8" y="653.7" font-size="7" fill="#444" stroke="#444" stroke-width="0.2">1700</text>
<text x="322.8" y="634.3" font-size="7" fill="#444" stroke="#444" stroke-width="0.2">1800</text>
<text x="322.8" y="614.9" font-size="7" fill="#444" stroke="#444" stroke-width="0.2">1900</text>
<text x="322.8" y="595.5" font-size="7" fill="#444" stroke="#444" stroke-width="0.2">2000</text>
<text x="322.8" y="576.1" font-size="7" fill="#444" stroke="#444" stroke-width="0.2">2100</text>
<text x="322.8" y="556.7" font-size="7" fill="#444" stroke="#444" stroke-width="0.2">2200</text>
<text x="322.8" y="537.3" font-size="7" fill="#444" stroke="#444" stroke-width="0.2">2300</text>
<text x="322.8" y="517.9" font-size="7" fill="#444" stroke="#444" stroke-width="0.2">2400</text>
<text x="322.8" y="498.5" font-size="7" fill="#444" stroke="#444" stroke-width="0.2">2500</text>
<text x="77.2" y="692.5" font-size="7" text-anchor="end" fill="#444" stroke="#444" stroke-width="0.2">0</text>
<text x="77.2" y="644" font-size="7" text-anchor="end" fill="#444" stroke="#444" stroke-width="0.2">25</text>
<text x="77.2" y="595.5" font-size="7" text-anchor="end" fill="#444" stroke="#444" stroke-width="0.2">50</text>
<text x="77.2" y="547" font-size="7" text-anchor="end" fill="#444" stroke="#444" stroke-width="0.2">75</text>
<text x="77.2" y="498.5" font-size="7" text-anchor="end" fill="#444" stroke="#444" stroke-width="0.2">100</text>
<text x="134" y="700.6" font-size="7" text-anchor="middle" fill="#444" stroke="#444" stroke-width="0.2">25</text>
<text x="188" y="700.6" font-size="7" text-anchor="middle" fill="#444" stroke="#444" stroke-width="0.2">50</text>
<text x="242" y="700.6" font-size="7" text-anchor="middle" fill="#444" stroke="#444" stroke-width="0.2">75</text>
<text x="296" y="700.6" font-size="7" text-anchor="middle" fill="#444" stroke="#444" stroke-width="0.2">100</text>
<text transform="translate(60.5,592.7) rotate(-90)" font-size="9" text-anchor="middle" fill="#444" stroke="#444" stroke-width="0.2"><tspan font-style="italic">Y</tspan> (μm)</text>
<text x="187.5" y="712.4" font-size="8.5" text-anchor="middle" fill="#444" stroke="#444" stroke-width="0.2"><tspan font-style="italic">X</tspan> (μm)</text>
<g shape-rendering="crispEdges" filter="url(#hblur)"><path fill="#b2c43d" d="M569.11 649.32h2.99v2.98h-2.99z"/><path fill="#bac53a" d="M566.12 610.64h2.99v2.98h-2.99z"/><path fill="#bec639" d="M515.36 542.21h2.99v2.98h-2.99zM569.11 652.3h2.99v2.98h-2.99zM575.08 655.27h2.99v2.98h-2.99zM587.03 658.25h2.99v2.98h-2.99zM485.5 685.02h2.99v2.98h-2.99z"/><path fill="#c2c637" d="M587.03 536.26h2.99v2.98h-2.99zM527.31 586.84h2.99v2.98h-2.99zM572.1 649.32h2.99v2.98h-2.99zM560.15 652.3h2.99v2.98h-2.99z"/><path fill="#c6c736" d="M539.25 497.58h2.99v2.98h-2.99zM545.22 557.08h2.99v2.98h-2.99zM584.04 601.71h2.99v2.98h-2.99zM566.12 607.66h2.99v2.98h-2.99zM557.17 610.64h2.99v2.98h-2.99zM563.14 613.62h2.99v2.98h-2.99zM569.11 616.59h2.99v2.98h-2.99zM569.11 622.54h2.99v2.98h-2.99zM575.08 634.44h2.99v2.98h-2.99z"/><path fill="#cbc734" d="M590.01 509.48h2.99v2.98h-2.99zM560.15 524.35h2.99v2.98h-2.99zM515.36 536.26h2.99v2.98h-2.99zM515.36 539.23h2.99v2.98h-2.99zM563.14 545.18h2.99v2.98h-2.99zM557.17 586.84h5.97v2.98h-5.97zM518.35 595.76h2.99v2.98h-2.99zM518.35 598.74h2.99v2.98h-2.99zM563.14 610.64h2.99v2.98h-2.99zM575.08 622.54h2.99v2.98h-2.99zM467.58 625.52h2.99v2.98h-2.99zM509.39 673.12h2.99v2.98h-2.99z"/><path fill="#cfc833" d="M572.1 512.45h2.99v2.98h-2.99zM590.01 512.45h2.99v2.98h-2.99zM551.19 521.38h2.99v2.98h-2.99zM560.15 530.3h2.99v2.98h-2.99zM521.33 557.08h2.99v2.98h-2.99zM566.12 619.57h5.97v2.98h-5.97zM569.11 631.47h2.99v2.98h-2.99zM575.08 646.34h2.99v2.98h-2.99zM566.12 649.32h2.99v2.98h-2.99zM572.1 652.3h5.97v2.98h-5.97zM506.4 661.22h2.99v2.98h-2.99zM590.01 661.22h2.99v2.98h-2.99zM584.04 667.17h2.99v2.98h-2.99zM488.49 682.05h2.99v2.98h-2.99zM461.61 685.02h2.99v2.98h-2.99zM524.32 685.02h2.99v2.98h-2.99z"/><path fill="#d3c931" d="M536.26 494.6h2.99v2.98h-2.99zM566.12 506.5h2.99v2.98h-2.99zM569.11 509.48h5.97v2.98h-5.97zM548.21 515.43h2.99v2.98h-2.99zM545.22 524.35h2.99v2.98h-2.99zM539.25 527.33h2.99v2.98h-2.99zM572.1 527.33h2.99v2.98h-2.99zM512.38 539.23h2.99v2.98h-2.99zM587.03 554.11h2.99v2.98h-2.99zM524.32 563.03h2.99v2.98h-2.99zM500.43 566.01h2.99v2.98h-2.99zM527.31 568.98h2.99v2.98h-2.99zM527.31 571.96h2.99v2.98h-2.99zM563.14 586.84h2.99v2.98h-2.99zM524.32 589.81h2.99v2.98h-2.99zM524.32 592.79h2.99v2.98h-2.99zM563.14 592.79h2.99v2.98h-2.99zM557.17 604.69h2.99v2.98h-2.99zM557.17 607.66h2.99v2.98h-2.99zM554.18 613.62h2.99v2.98h-2.99zM575.08 616.59h2.99v2.98h-2.99zM515.36 625.52h2.99v2.98h-2.99zM563.14 649.32h2.99v2.98h-2.99zM566.12 652.3h2.99v2.98h-2.99zM494.46 658.25h2.99v2.98h-2.99zM554.18 661.22h2.99v2.98h-2.99zM581.06 670.15h2.99v2.98h-2.99zM485.5 682.05h2.99v2.98h-2.99zM488.49 685.02h2.99v2.98h-2.99z"/><path fill="#d7c930" d="M536.26 497.58h2.99v2.98h-2.99zM470.57 518.4h2.99v2.98h-2.99zM551.19 518.4h2.99v2.98h-2.99zM548.21 521.38h2.99v2.98h-2.99zM500.43 524.35h2.99v2.98h-2.99zM521.33 524.35h2.99v2.98h-2.99zM548.21 527.33h2.99v2.98h-2.99zM560.15 527.33h2.99v2.98h-2.99zM512.38 530.3h2.99v2.98h-2.99zM515.36 545.18h2.99v2.98h-2.99zM542.24 551.13h2.99v2.98h-2.99zM554.18 557.08h2.99v2.98h-2.99zM566.12 568.98h2.99v2.98h-2.99zM518.35 571.96h2.99v2.98h-2.99zM524.32 571.96h2.99v2.98h-2.99zM494.46 580.89h2.99v2.98h-2.99zM554.18 586.84h2.99v2.98h-2.99zM548.21 589.81h2.99v2.98h-2.99zM563.14 589.81h2.99v2.98h-2.99zM584.04 589.81h2.99v2.98h-2.99zM521.33 595.76h2.99v2.98h-2.99zM506.4 604.69h2.99v2.98h-2.99zM506.4 610.64h2.99v2.98h-2.99zM572.1 622.54h2.99v2.98h-2.99zM572.1 625.52h2.99v2.98h-2.99zM572.1 628.49h2.99v2.98h-2.99zM590.01 628.49h2.99v2.98h-2.99zM548.21 631.47h2.99v2.98h-2.99zM572.1 631.47h2.99v2.98h-2.99zM548.21 634.44h2.99v2.98h-2.99zM572.1 640.39h2.99v2.98h-2.99zM563.14 646.34h2.99v2.98h-2.99zM575.08 649.32h2.99v2.98h-2.99zM557.17 652.3h2.99v2.98h-2.99zM551.19 655.27h2.99v2.98h-2.99zM572.1 655.27h2.99v2.98h-2.99zM509.39 664.2h2.99v2.98h-2.99z"/><path fill="#d9ca2f" d="M533.28 500.55h2.99v2.98h-2.99zM557.17 506.5h2.99v2.98h-2.99zM488.49 515.43h2.99v2.98h-2.99zM506.4 521.38h2.99v2.98h-2.99zM569.11 527.33h2.99v2.98h-2.99zM512.38 536.26h2.99v2.98h-2.99zM518.35 542.21h2.99v2.98h-2.99zM539.25 554.11h5.97v2.98h-5.97zM572.1 568.98h2.99v2.98h-2.99zM572.1 571.96h2.99v2.98h-2.99zM581.06 574.94h2.99v2.98h-2.99zM581.06 586.84h2.99v2.98h-2.99zM587.03 589.81h2.99v2.98h-2.99zM554.18 592.79h2.99v2.98h-2.99zM584.04 595.76h2.99v2.98h-2.99zM500.43 604.69h5.97v2.98h-5.97zM560.15 607.66h5.97v2.98h-5.97zM527.31 613.62h2.99v2.98h-2.99zM566.12 613.62h2.99v2.98h-2.99zM572.1 619.57h2.99v2.98h-2.99zM566.12 622.54h2.99v2.98h-2.99zM494.46 625.52h2.99v2.98h-2.99zM566.12 625.52h2.99v2.98h-2.99zM572.1 634.44h2.99v2.98h-2.99zM572.1 643.37h2.99v2.98h-2.99zM569.11 646.34h2.99v2.98h-2.99zM494.46 652.3h5.97v2.98h-5.97zM572.1 658.25h2.99v2.98h-2.99zM590.01 658.25h2.99v2.98h-2.99zM542.24 670.15h2.99v2.98h-2.99zM464.6 673.12h2.99v2.98h-2.99z"/><path fill="#dbca2e" d="M503.42 497.58h2.99v2.98h-2.99zM380.99 503.53h2.99v2.98h-2.99zM590.01 503.53h2.99v2.98h-2.99zM572.1 518.4h2.99v2.98h-2.99zM557.17 521.38h2.99v2.98h-2.99zM542.24 524.35h2.99v2.98h-2.99zM569.11 524.35h2.99v2.98h-2.99zM518.35 527.33h2.99v2.98h-2.99zM515.36 530.3h2.99v2.98h-2.99zM536.26 530.3h2.99v2.98h-2.99zM512.38 533.28h2.99v2.98h-2.99zM524.32 533.28h2.99v2.98h-2.99zM524.32 539.23h2.99v2.98h-2.99zM581.06 539.23h2.99v2.98h-2.99zM566.12 542.21h2.99v2.98h-2.99zM560.15 545.18h2.99v2.98h-2.99zM518.35 548.16h2.99v2.98h-2.99zM524.32 554.11h2.99v2.98h-2.99zM527.31 557.08h2.99v2.98h-2.99zM530.29 560.06h2.99v2.98h-2.99zM560.15 568.98h2.99v2.98h-2.99zM512.38 571.96h2.99v2.98h-2.99zM575.08 577.91h2.99v2.98h-2.99zM524.32 580.89h2.99v2.98h-2.99zM578.07 583.86h2.99v2.98h-2.99zM566.12 586.84h2.99v2.98h-2.99zM578.07 586.84h2.99v2.98h-2.99zM527.31 589.81h2.99v2.98h-2.99zM566.12 589.81h2.99v2.98h-2.99zM551.19 592.79h2.99v2.98h-2.99zM515.36 595.76h2.99v2.98h-2.99zM554.18 595.76h2.99v2.98h-2.99zM566.12 595.76h2.99v2.98h-2.99zM563.14 601.71h2.99v2.98h-2.99zM581.06 601.71h2.99v2.98h-2.99zM548.21 604.69h2.99v2.98h-2.99zM566.12 604.69h2.99v2.98h-2.99zM548.21 607.66h2.99v2.98h-2.99zM527.31 610.64h2.99v2.98h-2.99zM548.21 610.64h2.99v2.98h-2.99zM572.1 610.64h2.99v2.98h-2.99zM506.4 613.62h2.99v2.98h-2.99zM509.39 616.59h2.99v2.98h-2.99zM536.26 616.59h2.99v2.98h-2.99zM566.12 616.59h2.99v2.98h-2.99zM470.57 625.52h2.99v2.98h-2.99zM545.22 634.44h2.99v2.98h-2.99zM545.22 637.42h5.97v2.98h-5.97zM545.22 640.39h2.99v2.98h-2.99zM581.06 640.39h2.99v2.98h-2.99zM578.07 652.3h2.99v2.98h-2.99zM509.39 661.22h2.99v2.98h-2.99zM527.31 661.22h5.97v2.98h-5.97zM563.14 661.22h2.99v2.98h-2.99zM572.1 661.22h2.99v2.98h-2.99zM530.29 664.2h2.99v2.98h-2.99zM500.43 667.17h2.99v2.98h-2.99zM548.21 667.17h2.99v2.98h-2.99zM554.18 667.17h2.99v2.98h-2.99zM548.21 673.12h2.99v2.98h-2.99zM578.07 673.12h2.99v2.98h-2.99zM584.04 673.12h2.99v2.98h-2.99zM488.49 679.07h2.99v2.98h-2.99zM464.6 685.02h2.99v2.98h-2.99z"/><path fill="#ddcb2d" d="M467.58 494.6h2.99v2.98h-2.99zM512.38 494.6h2.99v2.98h-2.99zM378 497.58h2.99v2.98h-2.99zM545.22 503.53h2.99v2.98h-2.99zM548.21 506.5h5.97v2.98h-5.97zM497.44 509.48h2.99v2.98h-2.99zM497.44 512.45h2.99v2.98h-2.99zM539.25 515.43h2.99v2.98h-2.99zM551.19 515.43h5.97v2.98h-5.97zM488.49 524.35h2.99v2.98h-2.99zM503.42 524.35h2.99v2.98h-2.99zM548.21 524.35h5.97v2.98h-5.97zM545.22 527.33h2.99v2.98h-2.99zM566.12 527.33h2.99v2.98h-2.99zM533.28 530.3h2.99v2.98h-2.99zM590.01 536.26h2.99v2.98h-2.99zM560.15 542.21h2.99v2.98h-2.99zM521.33 545.18h2.99v2.98h-2.99zM554.18 545.18h2.99v2.98h-2.99zM551.19 548.16h2.99v2.98h-2.99zM518.35 551.13h2.99v2.98h-2.99zM575.08 563.03h2.99v2.98h-2.99zM557.17 568.98h2.99v2.98h-2.99zM524.32 574.94h2.99v2.98h-2.99zM542.24 574.94h2.99v2.98h-2.99zM551.19 583.86h2.99v2.98h-2.99zM557.17 583.86h2.99v2.98h-2.99zM551.19 586.84h2.99v2.98h-2.99zM575.08 586.84h2.99v2.98h-2.99zM584.04 586.84h2.99v2.98h-2.99zM473.56 589.81h2.99v2.98h-2.99zM554.18 589.81h2.99v2.98h-2.99zM560.15 589.81h2.99v2.98h-2.99zM581.06 589.81h2.99v2.98h-2.99zM590.01 589.81h2.99v2.98h-2.99zM590.01 592.79h2.99v2.98h-2.99zM491.47 598.74h2.99v2.98h-2.99zM515.36 601.71h2.99v2.98h-2.99zM521.33 601.71h2.99v2.98h-2.99zM569.11 604.69h2.99v2.98h-2.99zM581.06 604.69h2.99v2.98h-2.99zM473.56 607.66h2.99v2.98h-2.99zM569.11 607.66h2.99v2.98h-2.99zM545.22 610.64h2.99v2.98h-2.99zM581.06 610.64h2.99v2.98h-2.99zM560.15 613.62h2.99v2.98h-2.99zM572.1 613.62h2.99v2.98h-2.99zM560.15 616.59h2.99v2.98h-2.99zM521.33 619.57h2.99v2.98h-2.99zM524.32 622.54h2.99v2.98h-2.99zM557.17 625.52h2.99v2.98h-2.99zM569.11 625.52h2.99v2.98h-2.99zM512.38 628.49h2.99v2.98h-2.99zM548.21 628.49h2.99v2.98h-2.99zM500.43 631.47h2.99v2.98h-2.99zM569.11 634.44h2.99v2.98h-2.99zM542.24 640.39h2.99v2.98h-2.99zM557.17 640.39h2.99v2.98h-2.99zM497.44 643.37h2.99v2.98h-2.99zM542.24 643.37h2.99v2.98h-2.99zM518.35 646.34h2.99v2.98h-2.99zM557.17 646.34h2.99v2.98h-2.99zM566.12 646.34h2.99v2.98h-2.99zM578.07 649.32h2.99v2.98h-2.99zM569.11 655.27h2.99v2.98h-2.99zM512.38 658.25h2.99v2.98h-2.99zM554.18 658.25h2.99v2.98h-2.99zM566.12 658.25h2.99v2.98h-2.99zM575.08 658.25h2.99v2.98h-2.99zM503.42 661.22h2.99v2.98h-2.99zM557.17 661.22h2.99v2.98h-2.99zM572.1 664.2h5.97v2.98h-5.97zM551.19 667.17h2.99v2.98h-2.99zM572.1 670.15h2.99v2.98h-2.99zM503.42 673.12h2.99v2.98h-2.99zM581.06 673.12h2.99v2.98h-2.99zM536.26 679.07h2.99v2.98h-2.99zM458.62 685.02h2.99v2.98h-2.99zM557.17 685.02h2.99v2.98h-2.99z"/><path fill="#dfcb2c" d="M464.6 494.6h2.99v2.98h-2.99zM482.51 494.6h2.99v2.98h-2.99zM491.47 494.6h2.99v2.98h-2.99zM518.35 494.6h2.99v2.98h-2.99zM539.25 494.6h2.99v2.98h-2.99zM467.58 497.58h5.97v2.98h-5.97zM542.24 497.58h2.99v2.98h-2.99zM470.57 500.55h2.99v2.98h-2.99zM554.18 506.5h2.99v2.98h-2.99zM575.08 506.5h2.99v2.98h-2.99zM551.19 509.48h2.99v2.98h-2.99zM575.08 509.48h2.99v2.98h-2.99zM587.03 509.48h2.99v2.98h-2.99zM548.21 512.45h2.99v2.98h-2.99zM578.07 512.45h5.97v2.98h-5.97zM590.01 515.43h2.99v2.98h-2.99zM494.46 521.38h2.99v2.98h-2.99zM572.1 521.38h2.99v2.98h-2.99zM506.4 524.35h2.99v2.98h-2.99zM554.18 524.35h5.97v2.98h-5.97zM566.12 524.35h2.99v2.98h-2.99zM572.1 524.35h2.99v2.98h-2.99zM551.19 527.33h2.99v2.98h-2.99zM563.14 527.33h2.99v2.98h-2.99zM503.42 530.3h2.99v2.98h-2.99zM554.18 530.3h2.99v2.98h-2.99zM590.01 530.3h2.99v2.98h-2.99zM509.39 533.28h2.99v2.98h-2.99zM518.35 533.28h2.99v2.98h-2.99zM557.17 533.28h2.99v2.98h-2.99zM506.4 536.26h2.99v2.98h-2.99zM521.33 539.23h2.99v2.98h-2.99zM509.39 542.21h5.97v2.98h-5.97zM545.22 542.21h2.99v2.98h-2.99zM590.01 542.21h2.99v2.98h-2.99zM512.38 548.16h5.97v2.98h-5.97zM560.15 548.16h2.99v2.98h-2.99zM470.57 551.13h2.99v2.98h-2.99zM554.18 551.13h2.99v2.98h-2.99zM590.01 554.11h2.99v2.98h-2.99zM557.17 560.06h2.99v2.98h-2.99zM578.07 560.06h2.99v2.98h-2.99zM467.58 563.03h2.99v2.98h-2.99zM515.36 563.03h2.99v2.98h-2.99zM515.36 566.01h2.99v2.98h-2.99zM563.14 566.01h2.99v2.98h-2.99zM524.32 568.98h2.99v2.98h-2.99zM563.14 568.98h2.99v2.98h-2.99zM569.11 568.98h2.99v2.98h-2.99zM518.35 577.91h2.99v2.98h-2.99zM524.32 577.91h2.99v2.98h-2.99zM497.44 580.89h2.99v2.98h-2.99zM578.07 580.89h2.99v2.98h-2.99zM470.57 583.86h2.99v2.98h-2.99zM497.44 583.86h2.99v2.98h-2.99zM554.18 583.86h2.99v2.98h-2.99zM581.06 583.86h2.99v2.98h-2.99zM503.42 586.84h2.99v2.98h-2.99zM512.38 589.81h2.99v2.98h-2.99zM557.17 589.81h2.99v2.98h-2.99zM470.57 595.76h2.99v2.98h-2.99zM578.07 595.76h2.99v2.98h-2.99zM464.6 598.74h2.99v2.98h-2.99zM521.33 598.74h2.99v2.98h-2.99zM551.19 598.74h2.99v2.98h-2.99zM584.04 598.74h2.99v2.98h-2.99zM497.44 601.71h2.99v2.98h-2.99zM551.19 601.71h2.99v2.98h-2.99zM566.12 601.71h2.99v2.98h-2.99zM521.33 604.69h2.99v2.98h-2.99zM524.32 607.66h2.99v2.98h-2.99zM509.39 610.64h2.99v2.98h-2.99zM524.32 610.64h2.99v2.98h-2.99zM542.24 613.62h2.99v2.98h-2.99zM572.1 616.59h2.99v2.98h-2.99zM551.19 619.57h2.99v2.98h-2.99zM518.35 622.54h2.99v2.98h-2.99zM464.6 625.52h2.99v2.98h-2.99zM497.44 625.52h2.99v2.98h-2.99zM494.46 631.47h2.99v2.98h-2.99zM587.03 631.47h5.97v2.98h-5.97zM566.12 634.44h2.99v2.98h-2.99zM500.43 637.42h2.99v2.98h-2.99zM572.1 637.42h2.99v2.98h-2.99zM569.11 643.37h2.99v2.98h-2.99zM500.43 646.34h2.99v2.98h-2.99zM533.28 646.34h2.99v2.98h-2.99zM560.15 646.34h2.99v2.98h-2.99zM581.06 646.34h2.99v2.98h-2.99zM587.03 646.34h2.99v2.98h-2.99zM554.18 649.32h2.99v2.98h-2.99zM542.24 655.27h2.99v2.98h-2.99zM557.17 655.27h2.99v2.98h-2.99zM515.36 658.25h2.99v2.98h-2.99zM542.24 658.25h2.99v2.98h-2.99zM575.08 661.22h5.97v2.98h-5.97zM524.32 664.2h2.99v2.98h-2.99zM557.17 664.2h8.96v2.98h-8.96zM584.04 664.2h2.99v2.98h-2.99zM506.4 667.17h5.97v2.98h-5.97zM545.22 667.17h2.99v2.98h-2.99zM572.1 667.17h2.99v2.98h-2.99zM500.43 670.15h2.99v2.98h-2.99zM548.21 670.15h2.99v2.98h-2.99zM563.14 670.15h2.99v2.98h-2.99zM575.08 673.12h2.99v2.98h-2.99zM512.38 676.1h2.99v2.98h-2.99zM545.22 679.07h2.99v2.98h-2.99zM464.6 682.05h2.99v2.98h-2.99zM506.4 682.05h2.99v2.98h-2.99zM521.33 682.05h2.99v2.98h-2.99zM542.24 682.05h2.99v2.98h-2.99zM575.08 682.05h2.99v2.98h-2.99zM491.47 685.02h2.99v2.98h-2.99zM521.33 685.02h2.99v2.98h-2.99zM545.22 685.02h2.99v2.98h-2.99z"/><path fill="#e1cc2c" d="M479.53 494.6h2.99v2.98h-2.99zM509.39 494.6h2.99v2.98h-2.99zM527.31 494.6h5.97v2.98h-5.97zM530.29 497.58h2.99v2.98h-2.99zM461.61 500.55h2.99v2.98h-2.99zM467.58 503.53h2.99v2.98h-2.99zM512.38 503.53h2.99v2.98h-2.99zM521.33 503.53h2.99v2.98h-2.99zM545.22 506.5h2.99v2.98h-2.99zM563.14 506.5h2.99v2.98h-2.99zM584.04 506.5h2.99v2.98h-2.99zM548.21 509.48h2.99v2.98h-2.99zM539.25 512.45h2.99v2.98h-2.99zM587.03 512.45h2.99v2.98h-2.99zM506.4 515.43h2.99v2.98h-2.99zM383.97 518.4h2.99v2.98h-2.99zM485.5 518.4h2.99v2.98h-2.99zM587.03 518.4h2.99v2.98h-2.99zM497.44 521.38h2.99v2.98h-2.99zM515.36 521.38h2.99v2.98h-2.99zM554.18 521.38h2.99v2.98h-2.99zM470.57 524.35h2.99v2.98h-2.99zM563.14 524.35h2.99v2.98h-2.99zM536.26 527.33h2.99v2.98h-2.99zM518.35 530.3h2.99v2.98h-2.99zM539.25 530.3h2.99v2.98h-2.99zM563.14 530.3h2.99v2.98h-2.99zM584.04 530.3h2.99v2.98h-2.99zM515.36 533.28h2.99v2.98h-2.99zM539.25 533.28h5.97v2.98h-5.97zM581.06 533.28h2.99v2.98h-2.99zM518.35 536.26h2.99v2.98h-2.99zM584.04 536.26h2.99v2.98h-2.99zM518.35 539.23h2.99v2.98h-2.99zM527.31 539.23h2.99v2.98h-2.99zM542.24 539.23h2.99v2.98h-2.99zM527.31 542.21h2.99v2.98h-2.99zM557.17 542.21h2.99v2.98h-2.99zM530.29 548.16h2.99v2.98h-2.99zM524.32 551.13h2.99v2.98h-2.99zM479.53 554.11h2.99v2.98h-2.99zM548.21 554.11h2.99v2.98h-2.99zM536.26 557.08h2.99v2.98h-2.99zM551.19 563.03h5.97v2.98h-5.97zM560.15 566.01h2.99v2.98h-2.99zM566.12 566.01h2.99v2.98h-2.99zM467.58 568.98h2.99v2.98h-2.99zM497.44 568.98h2.99v2.98h-2.99zM548.21 568.98h2.99v2.98h-2.99zM557.17 571.96h2.99v2.98h-2.99zM569.11 571.96h2.99v2.98h-2.99zM470.57 574.94h2.99v2.98h-2.99zM515.36 574.94h2.99v2.98h-2.99zM530.29 574.94h2.99v2.98h-2.99zM527.31 577.91h2.99v2.98h-2.99zM581.06 577.91h2.99v2.98h-2.99zM533.28 580.89h2.99v2.98h-2.99zM494.46 586.84h2.99v2.98h-2.99zM521.33 586.84h2.99v2.98h-2.99zM548.21 586.84h2.99v2.98h-2.99zM515.36 592.79h2.99v2.98h-2.99zM476.54 598.74h2.99v2.98h-2.99zM491.47 601.71h2.99v2.98h-2.99zM509.39 601.71h2.99v2.98h-2.99zM560.15 601.71h2.99v2.98h-2.99zM497.44 604.69h2.99v2.98h-2.99zM518.35 604.69h2.99v2.98h-2.99zM551.19 604.69h2.99v2.98h-2.99zM551.19 607.66h2.99v2.98h-2.99zM560.15 610.64h2.99v2.98h-2.99zM554.18 616.59h2.99v2.98h-2.99zM581.06 616.59h2.99v2.98h-2.99zM575.08 619.57h2.99v2.98h-2.99zM521.33 622.54h2.99v2.98h-2.99zM506.4 625.52h2.99v2.98h-2.99zM521.33 625.52h2.99v2.98h-2.99zM563.14 625.52h2.99v2.98h-2.99zM515.36 628.49h2.99v2.98h-2.99zM569.11 628.49h2.99v2.98h-2.99zM587.03 628.49h2.99v2.98h-2.99zM554.18 631.47h2.99v2.98h-2.99zM563.14 631.47h2.99v2.98h-2.99zM587.03 634.44h2.99v2.98h-2.99zM545.22 643.37h2.99v2.98h-2.99zM560.15 643.37h2.99v2.98h-2.99zM590.01 643.37h2.99v2.98h-2.99zM572.1 646.34h2.99v2.98h-2.99zM515.36 649.32h2.99v2.98h-2.99zM530.29 649.32h2.99v2.98h-2.99zM551.19 649.32h2.99v2.98h-2.99zM581.06 649.32h2.99v2.98h-2.99zM467.58 652.3h8.96v2.98h-8.96zM503.42 652.3h2.99v2.98h-2.99zM545.22 652.3h2.99v2.98h-2.99zM551.19 652.3h2.99v2.98h-2.99zM563.14 652.3h2.99v2.98h-2.99zM548.21 655.27h2.99v2.98h-2.99zM527.31 658.25h2.99v2.98h-2.99zM569.11 658.25h2.99v2.98h-2.99zM578.07 658.25h2.99v2.98h-2.99zM587.03 661.22h2.99v2.98h-2.99zM506.4 664.2h2.99v2.98h-2.99zM539.25 664.2h2.99v2.98h-2.99zM590.01 664.2h2.99v2.98h-2.99zM512.38 667.17h2.99v2.98h-2.99zM536.26 667.17h5.97v2.98h-5.97zM587.03 667.17h2.99v2.98h-2.99zM542.24 673.12h2.99v2.98h-2.99zM587.03 673.12h5.97v2.98h-5.97zM545.22 676.1h2.99v2.98h-2.99zM482.51 679.07h2.99v2.98h-2.99zM584.04 679.07h2.99v2.98h-2.99zM482.51 685.02h2.99v2.98h-2.99zM503.42 685.02h2.99v2.98h-2.99zM530.29 685.02h2.99v2.98h-2.99z"/><path fill="#e3cc2b" d="M485.5 494.6h2.99v2.98h-2.99zM575.08 494.6h2.99v2.98h-2.99zM443.69 497.58h2.99v2.98h-2.99zM524.32 497.58h2.99v2.98h-2.99zM443.69 500.55h2.99v2.98h-2.99zM476.54 500.55h2.99v2.98h-2.99zM524.32 500.55h2.99v2.98h-2.99zM542.24 500.55h2.99v2.98h-2.99zM548.21 500.55h2.99v2.98h-2.99zM503.42 503.53h2.99v2.98h-2.99zM485.5 506.5h2.99v2.98h-2.99zM533.28 506.5h2.99v2.98h-2.99zM560.15 506.5h2.99v2.98h-2.99zM578.07 506.5h2.99v2.98h-2.99zM560.15 509.48h2.99v2.98h-2.99zM485.5 512.45h2.99v2.98h-2.99zM545.22 512.45h2.99v2.98h-2.99zM551.19 512.45h2.99v2.98h-2.99zM575.08 512.45h2.99v2.98h-2.99zM584.04 512.45h2.99v2.98h-2.99zM557.17 515.43h2.99v2.98h-2.99zM500.43 518.4h2.99v2.98h-2.99zM500.43 521.38h5.97v2.98h-5.97zM509.39 521.38h2.99v2.98h-2.99zM539.25 521.38h2.99v2.98h-2.99zM560.15 521.38h2.99v2.98h-2.99zM539.25 524.35h2.99v2.98h-2.99zM485.5 527.33h2.99v2.98h-2.99zM506.4 530.3h2.99v2.98h-2.99zM524.32 530.3h2.99v2.98h-2.99zM548.21 530.3h2.99v2.98h-2.99zM566.12 530.3h5.97v2.98h-5.97zM560.15 533.28h2.99v2.98h-2.99zM590.01 533.28h2.99v2.98h-2.99zM539.25 536.26h2.99v2.98h-2.99zM530.29 542.21h2.99v2.98h-2.99zM563.14 542.21h2.99v2.98h-2.99zM587.03 542.21h2.99v2.98h-2.99zM566.12 545.18h2.99v2.98h-2.99zM590.01 545.18h2.99v2.98h-2.99zM521.33 548.16h2.99v2.98h-2.99zM590.01 548.16h2.99v2.98h-2.99zM512.38 551.13h2.99v2.98h-2.99zM530.29 551.13h2.99v2.98h-2.99zM539.25 551.13h2.99v2.98h-2.99zM503.42 554.11h2.99v2.98h-2.99zM479.53 557.08h2.99v2.98h-2.99zM542.24 557.08h2.99v2.98h-2.99zM497.44 563.03h2.99v2.98h-2.99zM587.03 563.03h2.99v2.98h-2.99zM470.57 566.01h2.99v2.98h-2.99zM497.44 566.01h2.99v2.98h-2.99zM521.33 566.01h2.99v2.98h-2.99zM569.11 566.01h2.99v2.98h-2.99zM584.04 566.01h2.99v2.98h-2.99zM470.57 568.98h2.99v2.98h-2.99zM533.28 568.98h2.99v2.98h-2.99zM545.22 568.98h2.99v2.98h-2.99zM509.39 571.96h2.99v2.98h-2.99zM521.33 571.96h2.99v2.98h-2.99zM548.21 571.96h2.99v2.98h-2.99zM494.46 574.94h2.99v2.98h-2.99zM518.35 574.94h5.97v2.98h-5.97zM551.19 574.94h2.99v2.98h-2.99zM575.08 574.94h5.97v2.98h-5.97zM542.24 580.89h2.99v2.98h-2.99zM587.03 583.86h2.99v2.98h-2.99zM500.43 589.81h2.99v2.98h-2.99zM551.19 589.81h2.99v2.98h-2.99zM467.58 592.79h2.99v2.98h-2.99zM509.39 592.79h2.99v2.98h-2.99zM548.21 592.79h2.99v2.98h-2.99zM557.17 592.79h2.99v2.98h-2.99zM473.56 595.76h2.99v2.98h-2.99zM524.32 595.76h2.99v2.98h-2.99zM590.01 595.76h2.99v2.98h-2.99zM485.5 598.74h2.99v2.98h-2.99zM515.36 598.74h2.99v2.98h-2.99zM554.18 598.74h2.99v2.98h-2.99zM581.06 598.74h2.99v2.98h-2.99zM587.03 598.74h2.99v2.98h-2.99zM518.35 601.71h2.99v2.98h-2.99zM578.07 601.71h2.99v2.98h-2.99zM590.01 601.71h2.99v2.98h-2.99zM491.47 604.69h2.99v2.98h-2.99zM560.15 604.69h2.99v2.98h-2.99zM542.24 607.66h2.99v2.98h-2.99zM521.33 610.64h2.99v2.98h-2.99zM551.19 610.64h2.99v2.98h-2.99zM548.21 613.62h2.99v2.98h-2.99zM539.25 616.59h2.99v2.98h-2.99zM563.14 616.59h2.99v2.98h-2.99zM584.04 616.59h2.99v2.98h-2.99zM527.31 619.57h2.99v2.98h-2.99zM563.14 622.54h2.99v2.98h-2.99zM518.35 625.52h2.99v2.98h-2.99zM524.32 625.52h2.99v2.98h-2.99zM548.21 625.52h2.99v2.98h-2.99zM578.07 625.52h2.99v2.98h-2.99zM467.58 628.49h2.99v2.98h-2.99zM521.33 628.49h5.97v2.98h-5.97zM575.08 628.49h2.99v2.98h-2.99zM470.57 631.47h2.99v2.98h-2.99zM491.47 631.47h2.99v2.98h-2.99zM509.39 631.47h2.99v2.98h-2.99zM551.19 631.47h2.99v2.98h-2.99zM554.18 634.44h2.99v2.98h-2.99zM578.07 634.44h2.99v2.98h-2.99zM584.04 637.42h2.99v2.98h-2.99zM503.42 640.39h2.99v2.98h-2.99zM590.01 640.39h2.99v2.98h-2.99zM452.65 643.37h2.99v2.98h-2.99zM539.25 643.37h2.99v2.98h-2.99zM566.12 643.37h2.99v2.98h-2.99zM506.4 646.34h5.97v2.98h-5.97zM530.29 646.34h2.99v2.98h-2.99zM539.25 646.34h2.99v2.98h-2.99zM578.07 646.34h2.99v2.98h-2.99zM560.15 649.32h2.99v2.98h-2.99zM524.32 652.3h2.99v2.98h-2.99zM554.18 655.27h2.99v2.98h-2.99zM590.01 655.27h2.99v2.98h-2.99zM521.33 658.25h2.99v2.98h-2.99zM530.29 658.25h2.99v2.98h-2.99zM545.22 661.22h2.99v2.98h-2.99zM518.35 664.2h2.99v2.98h-2.99zM533.28 664.2h5.97v2.98h-5.97zM545.22 664.2h2.99v2.98h-2.99zM518.35 667.17h2.99v2.98h-2.99zM557.17 667.17h2.99v2.98h-2.99zM569.11 667.17h2.99v2.98h-2.99zM578.07 667.17h5.97v2.98h-5.97zM512.38 670.15h2.99v2.98h-2.99zM569.11 670.15h2.99v2.98h-2.99zM545.22 673.12h2.99v2.98h-2.99zM470.57 676.1h2.99v2.98h-2.99zM581.06 676.1h2.99v2.98h-2.99zM512.38 679.07h2.99v2.98h-2.99zM548.21 679.07h5.97v2.98h-5.97zM524.32 682.05h2.99v2.98h-2.99zM548.21 682.05h2.99v2.98h-2.99zM560.15 682.05h2.99v2.98h-2.99zM467.58 685.02h2.99v2.98h-2.99zM572.1 685.02h5.97v2.98h-5.97z"/><path fill="#e5cd2a" d="M425.78 494.6h2.99v2.98h-2.99zM440.71 494.6h2.99v2.98h-2.99zM461.61 494.6h2.99v2.98h-2.99zM506.4 494.6h2.99v2.98h-2.99zM515.36 494.6h2.99v2.98h-2.99zM572.1 494.6h2.99v2.98h-2.99zM509.39 497.58h2.99v2.98h-2.99zM482.51 500.55h2.99v2.98h-2.99zM572.1 500.55h2.99v2.98h-2.99zM578.07 500.55h2.99v2.98h-2.99zM560.15 503.53h5.97v2.98h-5.97zM449.67 506.5h2.99v2.98h-2.99zM458.62 506.5h2.99v2.98h-2.99zM587.03 506.5h2.99v2.98h-2.99zM545.22 509.48h2.99v2.98h-2.99zM581.06 509.48h5.97v2.98h-5.97zM554.18 512.45h2.99v2.98h-2.99zM566.12 512.45h2.99v2.98h-2.99zM545.22 515.43h2.99v2.98h-2.99zM572.1 515.43h2.99v2.98h-2.99zM584.04 515.43h2.99v2.98h-2.99zM378 518.4h2.99v2.98h-2.99zM503.42 518.4h2.99v2.98h-2.99zM380.99 521.38h2.99v2.98h-2.99zM545.22 521.38h2.99v2.98h-2.99zM512.38 524.35h2.99v2.98h-2.99zM509.39 527.33h2.99v2.98h-2.99zM524.32 527.33h2.99v2.98h-2.99zM554.18 527.33h2.99v2.98h-2.99zM378 530.3h2.99v2.98h-2.99zM470.57 530.3h2.99v2.98h-2.99zM551.19 530.3h2.99v2.98h-2.99zM587.03 530.3h2.99v2.98h-2.99zM503.42 533.28h2.99v2.98h-2.99zM521.33 533.28h2.99v2.98h-2.99zM563.14 533.28h2.99v2.98h-2.99zM521.33 536.26h2.99v2.98h-2.99zM557.17 539.23h2.99v2.98h-2.99zM578.07 542.21h2.99v2.98h-2.99zM491.47 545.18h2.99v2.98h-2.99zM557.17 545.18h2.99v2.98h-2.99zM569.11 545.18h2.99v2.98h-2.99zM587.03 545.18h2.99v2.98h-2.99zM509.39 551.13h2.99v2.98h-2.99zM515.36 551.13h2.99v2.98h-2.99zM536.26 551.13h2.99v2.98h-2.99zM545.22 551.13h2.99v2.98h-2.99zM482.51 554.11h2.99v2.98h-2.99zM527.31 554.11h2.99v2.98h-2.99zM482.51 557.08h2.99v2.98h-2.99zM512.38 557.08h2.99v2.98h-2.99zM539.25 557.08h2.99v2.98h-2.99zM581.06 557.08h2.99v2.98h-2.99zM473.56 560.06h2.99v2.98h-2.99zM485.5 560.06h2.99v2.98h-2.99zM509.39 560.06h2.99v2.98h-2.99zM551.19 560.06h5.97v2.98h-5.97zM563.14 560.06h2.99v2.98h-2.99zM485.5 563.03h2.99v2.98h-2.99zM512.38 563.03h2.99v2.98h-2.99zM572.1 563.03h2.99v2.98h-2.99zM578.07 563.03h5.97v2.98h-5.97zM512.38 566.01h2.99v2.98h-2.99zM572.1 566.01h2.99v2.98h-2.99zM515.36 571.96h2.99v2.98h-2.99zM554.18 571.96h2.99v2.98h-2.99zM575.08 571.96h2.99v2.98h-2.99zM497.44 574.94h2.99v2.98h-2.99zM566.12 574.94h2.99v2.98h-2.99zM378 577.91h2.99v2.98h-2.99zM557.17 580.89h2.99v2.98h-2.99zM584.04 580.89h2.99v2.98h-2.99zM467.58 583.86h2.99v2.98h-2.99zM533.28 583.86h2.99v2.98h-2.99zM575.08 583.86h2.99v2.98h-2.99zM590.01 583.86h2.99v2.98h-2.99zM500.43 586.84h2.99v2.98h-2.99zM533.28 586.84h2.99v2.98h-2.99zM542.24 586.84h5.97v2.98h-5.97zM572.1 586.84h2.99v2.98h-2.99zM470.57 592.79h2.99v2.98h-2.99zM587.03 592.79h2.99v2.98h-2.99zM464.6 595.76h2.99v2.98h-2.99zM491.47 595.76h2.99v2.98h-2.99zM572.1 595.76h2.99v2.98h-2.99zM587.03 595.76h2.99v2.98h-2.99zM488.49 598.74h2.99v2.98h-2.99zM497.44 598.74h2.99v2.98h-2.99zM524.32 598.74h2.99v2.98h-2.99zM548.21 598.74h2.99v2.98h-2.99zM557.17 598.74h2.99v2.98h-2.99zM575.08 598.74h5.97v2.98h-5.97zM494.46 601.71h2.99v2.98h-2.99zM554.18 601.71h2.99v2.98h-2.99zM509.39 604.69h2.99v2.98h-2.99zM563.14 604.69h2.99v2.98h-2.99zM578.07 604.69h2.99v2.98h-2.99zM509.39 607.66h2.99v2.98h-2.99zM503.42 610.64h2.99v2.98h-2.99zM512.38 610.64h2.99v2.98h-2.99zM587.03 610.64h2.99v2.98h-2.99zM584.04 613.62h2.99v2.98h-2.99zM521.33 616.59h2.99v2.98h-2.99zM530.29 616.59h2.99v2.98h-2.99zM557.17 616.59h2.99v2.98h-2.99zM554.18 619.57h2.99v2.98h-2.99zM578.07 619.57h2.99v2.98h-2.99zM464.6 622.54h2.99v2.98h-2.99zM500.43 625.52h2.99v2.98h-2.99zM500.43 628.49h2.99v2.98h-2.99zM533.28 628.49h2.99v2.98h-2.99zM560.15 628.49h2.99v2.98h-2.99zM503.42 631.47h2.99v2.98h-2.99zM512.38 631.47h2.99v2.98h-2.99zM584.04 631.47h2.99v2.98h-2.99zM542.24 634.44h2.99v2.98h-2.99zM563.14 634.44h2.99v2.98h-2.99zM542.24 637.42h2.99v2.98h-2.99zM578.07 637.42h5.97v2.98h-5.97zM533.28 640.39h2.99v2.98h-2.99zM551.19 643.37h2.99v2.98h-2.99zM494.46 646.34h2.99v2.98h-2.99zM542.24 646.34h2.99v2.98h-2.99zM584.04 646.34h2.99v2.98h-2.99zM482.51 649.32h2.99v2.98h-2.99zM557.17 649.32h2.99v2.98h-2.99zM500.43 652.3h2.99v2.98h-2.99zM512.38 652.3h2.99v2.98h-2.99zM542.24 652.3h2.99v2.98h-2.99zM584.04 652.3h2.99v2.98h-2.99zM476.54 655.27h2.99v2.98h-2.99zM512.38 655.27h2.99v2.98h-2.99zM530.29 655.27h2.99v2.98h-2.99zM506.4 658.25h2.99v2.98h-2.99zM524.32 658.25h2.99v2.98h-2.99zM545.22 658.25h2.99v2.98h-2.99zM557.17 658.25h8.96v2.98h-8.96zM515.36 661.22h2.99v2.98h-2.99zM560.15 661.22h2.99v2.98h-2.99zM389.94 664.2h2.99v2.98h-2.99zM512.38 664.2h2.99v2.98h-2.99zM578.07 664.2h2.99v2.98h-2.99zM584.04 670.15h2.99v2.98h-2.99zM500.43 673.12h2.99v2.98h-2.99zM569.11 673.12h2.99v2.98h-2.99zM584.04 676.1h2.99v2.98h-2.99zM572.1 679.07h2.99v2.98h-2.99zM578.07 679.07h2.99v2.98h-2.99zM479.53 682.05h2.99v2.98h-2.99zM563.14 685.02h2.99v2.98h-2.99zM584.04 685.02h2.99v2.98h-2.99z"/><path fill="#e7cd29" d="M380.99 494.6h2.99v2.98h-2.99zM455.64 494.6h2.99v2.98h-2.99zM470.57 494.6h2.99v2.98h-2.99zM488.49 494.6h2.99v2.98h-2.99zM512.38 497.58h5.97v2.98h-5.97zM533.28 497.58h2.99v2.98h-2.99zM539.25 500.55h2.99v2.98h-2.99zM554.18 500.55h2.99v2.98h-2.99zM464.6 503.53h2.99v2.98h-2.99zM470.57 503.53h2.99v2.98h-2.99zM494.46 506.5h2.99v2.98h-2.99zM569.11 506.5h2.99v2.98h-2.99zM581.06 506.5h2.99v2.98h-2.99zM485.5 509.48h2.99v2.98h-2.99zM491.47 509.48h2.99v2.98h-2.99zM554.18 509.48h2.99v2.98h-2.99zM566.12 509.48h2.99v2.98h-2.99zM380.99 512.45h2.99v2.98h-2.99zM521.33 512.45h2.99v2.98h-2.99zM533.28 512.45h2.99v2.98h-2.99zM569.11 512.45h2.99v2.98h-2.99zM473.56 515.43h2.99v2.98h-2.99zM494.46 515.43h2.99v2.98h-2.99zM539.25 518.4h2.99v2.98h-2.99zM482.51 521.38h2.99v2.98h-2.99zM527.31 521.38h2.99v2.98h-2.99zM470.57 527.33h2.99v2.98h-2.99zM542.24 527.33h2.99v2.98h-2.99zM590.01 527.33h2.99v2.98h-2.99zM485.5 530.3h2.99v2.98h-2.99zM378 533.28h2.99v2.98h-2.99zM530.29 533.28h2.99v2.98h-2.99zM536.26 533.28h2.99v2.98h-2.99zM587.03 533.28h2.99v2.98h-2.99zM542.24 536.26h2.99v2.98h-2.99zM509.39 539.23h2.99v2.98h-2.99zM587.03 539.23h2.99v2.98h-2.99zM521.33 542.21h2.99v2.98h-2.99zM554.18 542.21h2.99v2.98h-2.99zM512.38 545.18h2.99v2.98h-2.99zM518.35 545.18h2.99v2.98h-2.99zM554.18 548.16h2.99v2.98h-2.99zM587.03 548.16h2.99v2.98h-2.99zM500.43 551.13h2.99v2.98h-2.99zM527.31 551.13h2.99v2.98h-2.99zM584.04 551.13h2.99v2.98h-2.99zM506.4 554.11h2.99v2.98h-2.99zM512.38 554.11h2.99v2.98h-2.99zM521.33 554.11h2.99v2.98h-2.99zM536.26 554.11h2.99v2.98h-2.99zM584.04 554.11h2.99v2.98h-2.99zM434.74 557.08h2.99v2.98h-2.99zM467.58 557.08h2.99v2.98h-2.99zM494.46 557.08h2.99v2.98h-2.99zM512.38 560.06h2.99v2.98h-2.99zM548.21 560.06h2.99v2.98h-2.99zM587.03 560.06h5.97v2.98h-5.97zM560.15 563.03h5.97v2.98h-5.97zM518.35 566.01h2.99v2.98h-2.99zM527.31 566.01h2.99v2.98h-2.99zM530.29 568.98h2.99v2.98h-2.99zM497.44 571.96h2.99v2.98h-2.99zM467.58 574.94h2.99v2.98h-2.99zM512.38 574.94h2.99v2.98h-2.99zM554.18 574.94h2.99v2.98h-2.99zM491.47 577.91h5.97v2.98h-5.97zM533.28 577.91h2.99v2.98h-2.99zM560.15 577.91h2.99v2.98h-2.99zM527.31 580.89h2.99v2.98h-2.99zM563.14 580.89h2.99v2.98h-2.99zM527.31 583.86h5.97v2.98h-5.97zM545.22 583.86h5.97v2.98h-5.97zM563.14 583.86h2.99v2.98h-2.99zM584.04 583.86h2.99v2.98h-2.99zM434.74 586.84h2.99v2.98h-2.99zM473.56 586.84h2.99v2.98h-2.99zM506.4 586.84h2.99v2.98h-2.99zM524.32 586.84h2.99v2.98h-2.99zM530.29 586.84h2.99v2.98h-2.99zM509.39 589.81h2.99v2.98h-2.99zM515.36 589.81h2.99v2.98h-2.99zM503.42 592.79h2.99v2.98h-2.99zM572.1 592.79h2.99v2.98h-2.99zM581.06 592.79h2.99v2.98h-2.99zM485.5 595.76h2.99v2.98h-2.99zM551.19 595.76h2.99v2.98h-2.99zM560.15 595.76h2.99v2.98h-2.99zM575.08 595.76h2.99v2.98h-2.99zM512.38 598.74h2.99v2.98h-2.99zM527.31 598.74h2.99v2.98h-2.99zM488.49 601.71h2.99v2.98h-2.99zM548.21 601.71h2.99v2.98h-2.99zM587.03 601.71h2.99v2.98h-2.99zM500.43 607.66h2.99v2.98h-2.99zM569.11 610.64h2.99v2.98h-2.99zM575.08 610.64h2.99v2.98h-2.99zM515.36 613.62h2.99v2.98h-2.99zM503.42 616.59h2.99v2.98h-2.99zM512.38 616.59h2.99v2.98h-2.99zM548.21 616.59h2.99v2.98h-2.99zM386.96 619.57h2.99v2.98h-2.99zM473.56 619.57h2.99v2.98h-2.99zM482.51 619.57h2.99v2.98h-2.99zM557.17 619.57h5.97v2.98h-5.97zM575.08 625.52h2.99v2.98h-2.99zM503.42 628.49h5.97v2.98h-5.97zM542.24 628.49h5.97v2.98h-5.97zM554.18 628.49h2.99v2.98h-2.99zM566.12 628.49h2.99v2.98h-2.99zM578.07 628.49h2.99v2.98h-2.99zM575.08 631.47h2.99v2.98h-2.99zM581.06 631.47h2.99v2.98h-2.99zM488.49 637.42h2.99v2.98h-2.99zM590.01 637.42h2.99v2.98h-2.99zM578.07 640.39h2.99v2.98h-2.99zM500.43 643.37h2.99v2.98h-2.99zM530.29 643.37h2.99v2.98h-2.99zM557.17 643.37h2.99v2.98h-2.99zM563.14 643.37h2.99v2.98h-2.99zM575.08 643.37h5.97v2.98h-5.97zM512.38 646.34h2.99v2.98h-2.99zM545.22 646.34h2.99v2.98h-2.99zM470.57 649.32h2.99v2.98h-2.99zM497.44 649.32h2.99v2.98h-2.99zM512.38 649.32h2.99v2.98h-2.99zM521.33 649.32h2.99v2.98h-2.99zM545.22 649.32h2.99v2.98h-2.99zM584.04 649.32h2.99v2.98h-2.99zM527.31 652.3h2.99v2.98h-2.99zM554.18 652.3h2.99v2.98h-2.99zM509.39 655.27h2.99v2.98h-2.99zM515.36 655.27h2.99v2.98h-2.99zM578.07 655.27h2.99v2.98h-2.99zM584.04 655.27h2.99v2.98h-2.99zM497.44 658.25h2.99v2.98h-2.99zM584.04 658.25h2.99v2.98h-2.99zM500.43 661.22h2.99v2.98h-2.99zM524.32 661.22h2.99v2.98h-2.99zM581.06 661.22h5.97v2.98h-5.97zM488.49 664.2h2.99v2.98h-2.99zM554.18 664.2h2.99v2.98h-2.99zM515.36 667.17h2.99v2.98h-2.99zM533.28 667.17h2.99v2.98h-2.99zM560.15 667.17h2.99v2.98h-2.99zM590.01 667.17h2.99v2.98h-2.99zM464.6 670.15h2.99v2.98h-2.99zM470.57 670.15h2.99v2.98h-2.99zM509.39 670.15h2.99v2.98h-2.99zM518.35 670.15h2.99v2.98h-2.99zM524.32 670.15h2.99v2.98h-2.99zM545.22 670.15h2.99v2.98h-2.99zM554.18 670.15h5.97v2.98h-5.97zM566.12 670.15h2.99v2.98h-2.99zM578.07 670.15h2.99v2.98h-2.99zM467.58 673.12h2.99v2.98h-2.99zM485.5 673.12h2.99v2.98h-2.99zM455.64 676.1h2.99v2.98h-2.99zM482.51 676.1h2.99v2.98h-2.99zM569.11 676.1h2.99v2.98h-2.99zM575.08 676.1h2.99v2.98h-2.99zM590.01 676.1h2.99v2.98h-2.99zM479.53 679.07h2.99v2.98h-2.99zM560.15 679.07h2.99v2.98h-2.99zM461.61 682.05h2.99v2.98h-2.99zM482.51 682.05h2.99v2.98h-2.99zM572.1 682.05h2.99v2.98h-2.99zM527.31 685.02h2.99v2.98h-2.99zM560.15 685.02h2.99v2.98h-2.99z"/><path fill="#e9ce28" d="M443.69 494.6h2.99v2.98h-2.99zM449.67 494.6h2.99v2.98h-2.99zM524.32 494.6h2.99v2.98h-2.99zM533.28 494.6h2.99v2.98h-2.99zM380.99 497.58h2.99v2.98h-2.99zM461.61 497.58h2.99v2.98h-2.99zM473.56 497.58h2.99v2.98h-2.99zM494.46 497.58h2.99v2.98h-2.99zM545.22 497.58h2.99v2.98h-2.99zM464.6 500.55h5.97v2.98h-5.97zM527.31 500.55h2.99v2.98h-2.99zM536.26 500.55h2.99v2.98h-2.99zM443.69 503.53h2.99v2.98h-2.99zM569.11 503.53h2.99v2.98h-2.99zM575.08 503.53h2.99v2.98h-2.99zM581.06 503.53h2.99v2.98h-2.99zM587.03 503.53h2.99v2.98h-2.99zM497.44 506.5h2.99v2.98h-2.99zM572.1 506.5h2.99v2.98h-2.99zM590.01 506.5h2.99v2.98h-2.99zM503.42 509.48h2.99v2.98h-2.99zM470.57 512.45h2.99v2.98h-2.99zM542.24 512.45h2.99v2.98h-2.99zM389.94 515.43h2.99v2.98h-2.99zM446.68 515.43h2.99v2.98h-2.99zM518.35 515.43h2.99v2.98h-2.99zM533.28 515.43h2.99v2.98h-2.99zM575.08 515.43h2.99v2.98h-2.99zM386.96 518.4h5.97v2.98h-5.97zM482.51 518.4h2.99v2.98h-2.99zM542.24 518.4h2.99v2.98h-2.99zM557.17 518.4h5.97v2.98h-5.97zM488.49 521.38h5.97v2.98h-5.97zM563.14 521.38h2.99v2.98h-2.99zM569.11 521.38h2.99v2.98h-2.99zM485.5 524.35h2.99v2.98h-2.99zM491.47 524.35h5.97v2.98h-5.97zM575.08 524.35h5.97v2.98h-5.97zM512.38 527.33h2.99v2.98h-2.99zM578.07 527.33h2.99v2.98h-2.99zM467.58 530.3h2.99v2.98h-2.99zM578.07 530.3h2.99v2.98h-2.99zM566.12 533.28h2.99v2.98h-2.99zM479.53 536.26h2.99v2.98h-2.99zM509.39 536.26h2.99v2.98h-2.99zM560.15 536.26h2.99v2.98h-2.99zM578.07 536.26h5.97v2.98h-5.97zM545.22 539.23h2.99v2.98h-2.99zM554.18 539.23h2.99v2.98h-2.99zM560.15 539.23h2.99v2.98h-2.99zM578.07 539.23h2.99v2.98h-2.99zM548.21 542.21h2.99v2.98h-2.99zM386.96 545.18h2.99v2.98h-2.99zM461.61 548.16h2.99v2.98h-2.99zM548.21 551.13h2.99v2.98h-2.99zM590.01 551.13h2.99v2.98h-2.99zM476.54 554.11h2.99v2.98h-2.99zM497.44 554.11h5.97v2.98h-5.97zM509.39 554.11h2.99v2.98h-2.99zM533.28 554.11h2.99v2.98h-2.99zM545.22 554.11h2.99v2.98h-2.99zM557.17 554.11h2.99v2.98h-2.99zM473.56 557.08h2.99v2.98h-2.99zM497.44 557.08h2.99v2.98h-2.99zM506.4 557.08h2.99v2.98h-2.99zM530.29 557.08h2.99v2.98h-2.99zM587.03 557.08h2.99v2.98h-2.99zM518.35 560.06h2.99v2.98h-2.99zM533.28 560.06h2.99v2.98h-2.99zM458.62 563.03h2.99v2.98h-2.99zM488.49 563.03h2.99v2.98h-2.99zM500.43 563.03h2.99v2.98h-2.99zM527.31 563.03h2.99v2.98h-2.99zM467.58 566.01h2.99v2.98h-2.99zM542.24 566.01h2.99v2.98h-2.99zM554.18 566.01h2.99v2.98h-2.99zM509.39 568.98h2.99v2.98h-2.99zM551.19 568.98h2.99v2.98h-2.99zM464.6 571.96h5.97v2.98h-5.97zM506.4 571.96h2.99v2.98h-2.99zM533.28 571.96h2.99v2.98h-2.99zM545.22 571.96h2.99v2.98h-2.99zM563.14 571.96h5.97v2.98h-5.97zM581.06 571.96h2.99v2.98h-2.99zM378 574.94h2.99v2.98h-2.99zM461.61 574.94h2.99v2.98h-2.99zM533.28 574.94h2.99v2.98h-2.99zM572.1 574.94h2.99v2.98h-2.99zM383.97 577.91h2.99v2.98h-2.99zM458.62 577.91h2.99v2.98h-2.99zM515.36 577.91h2.99v2.98h-2.99zM554.18 577.91h2.99v2.98h-2.99zM581.06 580.89h2.99v2.98h-2.99zM560.15 583.86h2.99v2.98h-2.99zM476.54 586.84h2.99v2.98h-2.99zM512.38 586.84h2.99v2.98h-2.99zM587.03 586.84h5.97v2.98h-5.97zM575.08 589.81h2.99v2.98h-2.99zM512.38 592.79h2.99v2.98h-2.99zM539.25 592.79h2.99v2.98h-2.99zM566.12 592.79h2.99v2.98h-2.99zM578.07 592.79h2.99v2.98h-2.99zM584.04 592.79h2.99v2.98h-2.99zM476.54 595.76h2.99v2.98h-2.99zM563.14 595.76h2.99v2.98h-2.99zM581.06 595.76h2.99v2.98h-2.99zM482.51 598.74h2.99v2.98h-2.99zM506.4 598.74h2.99v2.98h-2.99zM560.15 598.74h2.99v2.98h-2.99zM590.01 598.74h2.99v2.98h-2.99zM479.53 601.71h5.97v2.98h-5.97zM500.43 601.71h2.99v2.98h-2.99zM569.11 601.71h2.99v2.98h-2.99zM464.6 604.69h2.99v2.98h-2.99zM524.32 604.69h2.99v2.98h-2.99zM575.08 604.69h2.99v2.98h-2.99zM587.03 604.69h2.99v2.98h-2.99zM506.4 607.66h2.99v2.98h-2.99zM518.35 607.66h5.97v2.98h-5.97zM584.04 607.66h2.99v2.98h-2.99zM551.19 613.62h2.99v2.98h-2.99zM557.17 613.62h2.99v2.98h-2.99zM524.32 616.59h2.99v2.98h-2.99zM479.53 619.57h2.99v2.98h-2.99zM485.5 619.57h2.99v2.98h-2.99zM497.44 619.57h2.99v2.98h-2.99zM563.14 619.57h2.99v2.98h-2.99zM378 622.54h2.99v2.98h-2.99zM461.61 622.54h2.99v2.98h-2.99zM485.5 622.54h2.99v2.98h-2.99zM506.4 622.54h2.99v2.98h-2.99zM515.36 622.54h2.99v2.98h-2.99zM545.22 622.54h2.99v2.98h-2.99zM560.15 622.54h2.99v2.98h-2.99zM509.39 625.52h2.99v2.98h-2.99zM587.03 625.52h5.97v2.98h-5.97zM464.6 628.49h2.99v2.98h-2.99zM470.57 628.49h2.99v2.98h-2.99zM494.46 628.49h5.97v2.98h-5.97zM530.29 628.49h2.99v2.98h-2.99zM551.19 628.49h2.99v2.98h-2.99zM581.06 628.49h5.97v2.98h-5.97zM464.6 631.47h2.99v2.98h-2.99zM536.26 631.47h2.99v2.98h-2.99zM545.22 631.47h2.99v2.98h-2.99zM560.15 631.47h2.99v2.98h-2.99zM491.47 634.44h2.99v2.98h-2.99zM560.15 634.44h2.99v2.98h-2.99zM581.06 634.44h2.99v2.98h-2.99zM590.01 634.44h2.99v2.98h-2.99zM482.51 637.42h2.99v2.98h-2.99zM551.19 637.42h2.99v2.98h-2.99zM485.5 640.39h5.97v2.98h-5.97zM566.12 640.39h2.99v2.98h-2.99zM587.03 640.39h2.99v2.98h-2.99zM485.5 643.37h2.99v2.98h-2.99zM554.18 643.37h2.99v2.98h-2.99zM587.03 643.37h2.99v2.98h-2.99zM455.64 646.34h2.99v2.98h-2.99zM467.58 649.32h2.99v2.98h-2.99zM494.46 649.32h2.99v2.98h-2.99zM503.42 649.32h5.97v2.98h-5.97zM533.28 649.32h2.99v2.98h-2.99zM518.35 652.3h2.99v2.98h-2.99zM491.47 655.27h2.99v2.98h-2.99zM497.44 655.27h2.99v2.98h-2.99zM521.33 655.27h2.99v2.98h-2.99zM560.15 655.27h2.99v2.98h-2.99zM587.03 655.27h2.99v2.98h-2.99zM518.35 658.25h2.99v2.98h-2.99zM533.28 658.25h5.97v2.98h-5.97zM494.46 661.22h5.97v2.98h-5.97zM518.35 661.22h2.99v2.98h-2.99zM503.42 664.2h2.99v2.98h-2.99zM566.12 667.17h2.99v2.98h-2.99zM572.1 673.12h2.99v2.98h-2.99zM473.56 676.1h2.99v2.98h-2.99zM485.5 676.1h5.97v2.98h-5.97zM587.03 676.1h2.99v2.98h-2.99zM485.5 679.07h2.99v2.98h-2.99zM575.08 679.07h2.99v2.98h-2.99zM500.43 682.05h2.99v2.98h-2.99zM527.31 682.05h2.99v2.98h-2.99zM539.25 682.05h2.99v2.98h-2.99zM545.22 682.05h2.99v2.98h-2.99zM557.17 682.05h2.99v2.98h-2.99zM578.07 682.05h2.99v2.98h-2.99zM584.04 682.05h2.99v2.98h-2.99zM569.11 685.02h2.99v2.98h-2.99z"/><path fill="#eacf28" d="M446.68 494.6h2.99v2.98h-2.99zM584.04 494.6h2.99v2.98h-2.99zM458.62 497.58h2.99v2.98h-2.99zM476.54 497.58h2.99v2.98h-2.99zM581.06 497.58h2.99v2.98h-2.99zM446.68 500.55h2.99v2.98h-2.99zM488.49 500.55h2.99v2.98h-2.99zM506.4 500.55h5.97v2.98h-5.97zM419.81 503.53h2.99v2.98h-2.99zM461.61 503.53h2.99v2.98h-2.99zM542.24 503.53h2.99v2.98h-2.99zM554.18 503.53h2.99v2.98h-2.99zM566.12 503.53h2.99v2.98h-2.99zM491.47 506.5h2.99v2.98h-2.99zM542.24 506.5h2.99v2.98h-2.99zM449.67 509.48h2.99v2.98h-2.99zM464.6 509.48h2.99v2.98h-2.99zM500.43 509.48h2.99v2.98h-2.99zM530.29 509.48h2.99v2.98h-2.99zM383.97 515.43h2.99v2.98h-2.99zM485.5 515.43h2.99v2.98h-2.99zM536.26 515.43h2.99v2.98h-2.99zM560.15 515.43h2.99v2.98h-2.99zM566.12 515.43h2.99v2.98h-2.99zM536.26 518.4h2.99v2.98h-2.99zM548.21 518.4h2.99v2.98h-2.99zM554.18 518.4h2.99v2.98h-2.99zM578.07 518.4h2.99v2.98h-2.99zM470.57 521.38h5.97v2.98h-5.97zM485.5 521.38h2.99v2.98h-2.99zM542.24 521.38h2.99v2.98h-2.99zM464.6 524.35h5.97v2.98h-5.97zM509.39 524.35h2.99v2.98h-2.99zM536.26 524.35h2.99v2.98h-2.99zM378 527.33h2.99v2.98h-2.99zM509.39 530.3h2.99v2.98h-2.99zM572.1 530.3h2.99v2.98h-2.99zM470.57 533.28h2.99v2.98h-2.99zM575.08 536.26h2.99v2.98h-2.99zM446.68 539.23h2.99v2.98h-2.99zM548.21 539.23h2.99v2.98h-2.99zM566.12 539.23h2.99v2.98h-2.99zM575.08 539.23h2.99v2.98h-2.99zM524.32 542.21h2.99v2.98h-2.99zM533.28 542.21h2.99v2.98h-2.99zM542.24 542.21h2.99v2.98h-2.99zM575.08 542.21h2.99v2.98h-2.99zM524.32 545.18h2.99v2.98h-2.99zM548.21 545.18h2.99v2.98h-2.99zM506.4 548.16h5.97v2.98h-5.97zM557.17 548.16h2.99v2.98h-2.99zM569.11 548.16h2.99v2.98h-2.99zM476.54 551.13h2.99v2.98h-2.99zM494.46 551.13h2.99v2.98h-2.99zM521.33 551.13h2.99v2.98h-2.99zM551.19 551.13h2.99v2.98h-2.99zM566.12 551.13h2.99v2.98h-2.99zM581.06 551.13h2.99v2.98h-2.99zM476.54 557.08h2.99v2.98h-2.99zM509.39 557.08h2.99v2.98h-2.99zM524.32 557.08h2.99v2.98h-2.99zM560.15 557.08h2.99v2.98h-2.99zM575.08 557.08h2.99v2.98h-2.99zM467.58 560.06h2.99v2.98h-2.99zM380.99 566.01h2.99v2.98h-2.99zM578.07 566.01h2.99v2.98h-2.99zM590.01 566.01h2.99v2.98h-2.99zM473.56 568.98h2.99v2.98h-2.99zM494.46 568.98h2.99v2.98h-2.99zM506.4 568.98h2.99v2.98h-2.99zM512.38 568.98h2.99v2.98h-2.99zM575.08 568.98h2.99v2.98h-2.99zM380.99 571.96h2.99v2.98h-2.99zM470.57 571.96h2.99v2.98h-2.99zM491.47 574.94h2.99v2.98h-2.99zM497.44 577.91h2.99v2.98h-2.99zM572.1 577.91h2.99v2.98h-2.99zM584.04 577.91h2.99v2.98h-2.99zM590.01 577.91h2.99v2.98h-2.99zM380.99 580.89h2.99v2.98h-2.99zM500.43 580.89h2.99v2.98h-2.99zM530.29 580.89h2.99v2.98h-2.99zM548.21 580.89h2.99v2.98h-2.99zM560.15 580.89h2.99v2.98h-2.99zM503.42 583.86h2.99v2.98h-2.99zM539.25 583.86h2.99v2.98h-2.99zM479.53 586.84h2.99v2.98h-2.99zM539.25 586.84h2.99v2.98h-2.99zM470.57 589.81h2.99v2.98h-2.99zM530.29 589.81h2.99v2.98h-2.99zM536.26 589.81h5.97v2.98h-5.97zM569.11 589.81h2.99v2.98h-2.99zM578.07 589.81h2.99v2.98h-2.99zM521.33 592.79h2.99v2.98h-2.99zM479.53 595.76h2.99v2.98h-2.99zM494.46 595.76h2.99v2.98h-2.99zM503.42 595.76h5.97v2.98h-5.97zM569.11 595.76h2.99v2.98h-2.99zM461.61 598.74h2.99v2.98h-2.99zM500.43 598.74h2.99v2.98h-2.99zM563.14 598.74h5.97v2.98h-5.97zM470.57 601.71h2.99v2.98h-2.99zM485.5 601.71h2.99v2.98h-2.99zM572.1 601.71h5.97v2.98h-5.97zM479.53 604.69h2.99v2.98h-2.99zM527.31 604.69h2.99v2.98h-2.99zM470.57 607.66h2.99v2.98h-2.99zM503.42 607.66h2.99v2.98h-2.99zM512.38 607.66h2.99v2.98h-2.99zM545.22 607.66h2.99v2.98h-2.99zM497.44 610.64h2.99v2.98h-2.99zM515.36 610.64h2.99v2.98h-2.99zM554.18 610.64h2.99v2.98h-2.99zM524.32 613.62h2.99v2.98h-2.99zM575.08 613.62h2.99v2.98h-2.99zM506.4 616.59h2.99v2.98h-2.99zM515.36 616.59h2.99v2.98h-2.99zM527.31 616.59h2.99v2.98h-2.99zM551.19 616.59h2.99v2.98h-2.99zM524.32 619.57h2.99v2.98h-2.99zM380.99 622.54h2.99v2.98h-2.99zM488.49 622.54h2.99v2.98h-2.99zM554.18 622.54h5.97v2.98h-5.97zM554.18 625.52h2.99v2.98h-2.99zM491.47 628.49h2.99v2.98h-2.99zM461.61 631.47h2.99v2.98h-2.99zM494.46 634.44h2.99v2.98h-2.99zM539.25 634.44h2.99v2.98h-2.99zM557.17 634.44h2.99v2.98h-2.99zM584.04 634.44h2.99v2.98h-2.99zM494.46 637.42h2.99v2.98h-2.99zM575.08 637.42h2.99v2.98h-2.99zM587.03 637.42h2.99v2.98h-2.99zM512.38 640.39h2.99v2.98h-2.99zM563.14 640.39h2.99v2.98h-2.99zM497.44 646.34h2.99v2.98h-2.99zM515.36 646.34h2.99v2.98h-2.99zM485.5 649.32h2.99v2.98h-2.99zM524.32 649.32h2.99v2.98h-2.99zM539.25 649.32h5.97v2.98h-5.97zM515.36 652.3h2.99v2.98h-2.99zM581.06 652.3h2.99v2.98h-2.99zM470.57 655.27h2.99v2.98h-2.99zM482.51 655.27h2.99v2.98h-2.99zM566.12 655.27h2.99v2.98h-2.99zM488.49 658.25h2.99v2.98h-2.99zM509.39 658.25h2.99v2.98h-2.99zM551.19 658.25h2.99v2.98h-2.99zM491.47 661.22h2.99v2.98h-2.99zM512.38 661.22h2.99v2.98h-2.99zM536.26 661.22h2.99v2.98h-2.99zM551.19 661.22h2.99v2.98h-2.99zM566.12 661.22h5.97v2.98h-5.97zM500.43 664.2h2.99v2.98h-2.99zM515.36 664.2h2.99v2.98h-2.99zM566.12 664.2h2.99v2.98h-2.99zM482.51 667.17h2.99v2.98h-2.99zM503.42 667.17h2.99v2.98h-2.99zM542.24 667.17h2.99v2.98h-2.99zM488.49 670.15h2.99v2.98h-2.99zM503.42 670.15h2.99v2.98h-2.99zM560.15 670.15h2.99v2.98h-2.99zM575.08 670.15h2.99v2.98h-2.99zM587.03 670.15h5.97v2.98h-5.97zM482.51 673.12h2.99v2.98h-2.99zM512.38 673.12h5.97v2.98h-5.97zM539.25 673.12h2.99v2.98h-2.99zM551.19 673.12h2.99v2.98h-2.99zM560.15 673.12h2.99v2.98h-2.99zM503.42 676.1h2.99v2.98h-2.99zM509.39 676.1h2.99v2.98h-2.99zM536.26 676.1h2.99v2.98h-2.99zM578.07 676.1h2.99v2.98h-2.99zM509.39 679.07h2.99v2.98h-2.99zM527.31 679.07h2.99v2.98h-2.99zM539.25 679.07h2.99v2.98h-2.99zM470.57 682.05h2.99v2.98h-2.99zM491.47 682.05h5.97v2.98h-5.97zM497.44 685.02h5.97v2.98h-5.97zM542.24 685.02h2.99v2.98h-2.99zM578.07 685.02h2.99v2.98h-2.99z"/><path fill="#ead027" d="M452.65 494.6h2.99v2.98h-2.99zM458.62 494.6h2.99v2.98h-2.99zM503.42 494.6h2.99v2.98h-2.99zM563.14 494.6h2.99v2.98h-2.99zM578.07 494.6h2.99v2.98h-2.99zM449.67 497.58h2.99v2.98h-2.99zM479.53 497.58h5.97v2.98h-5.97zM488.49 497.58h2.99v2.98h-2.99zM497.44 497.58h5.97v2.98h-5.97zM518.35 497.58h2.99v2.98h-2.99zM527.31 497.58h2.99v2.98h-2.99zM548.21 497.58h2.99v2.98h-2.99zM572.1 497.58h2.99v2.98h-2.99zM392.93 500.55h2.99v2.98h-2.99zM479.53 500.55h2.99v2.98h-2.99zM491.47 500.55h2.99v2.98h-2.99zM476.54 503.53h2.99v2.98h-2.99zM509.39 503.53h2.99v2.98h-2.99zM515.36 503.53h2.99v2.98h-2.99zM530.29 503.53h2.99v2.98h-2.99zM551.19 503.53h2.99v2.98h-2.99zM584.04 503.53h2.99v2.98h-2.99zM380.99 506.5h2.99v2.98h-2.99zM443.69 506.5h2.99v2.98h-2.99zM476.54 506.5h2.99v2.98h-2.99zM488.49 506.5h2.99v2.98h-2.99zM500.43 506.5h2.99v2.98h-2.99zM389.94 509.48h2.99v2.98h-2.99zM467.58 509.48h2.99v2.98h-2.99zM452.65 512.45h2.99v2.98h-2.99zM488.49 512.45h2.99v2.98h-2.99zM542.24 515.43h2.99v2.98h-2.99zM581.06 515.43h2.99v2.98h-2.99zM467.58 518.4h2.99v2.98h-2.99zM494.46 518.4h2.99v2.98h-2.99zM506.4 518.4h2.99v2.98h-2.99zM533.28 521.38h2.99v2.98h-2.99zM575.08 521.38h2.99v2.98h-2.99zM587.03 521.38h2.99v2.98h-2.99zM473.56 524.35h2.99v2.98h-2.99zM590.01 524.35h2.99v2.98h-2.99zM488.49 527.33h2.99v2.98h-2.99zM506.4 527.33h2.99v2.98h-2.99zM515.36 527.33h2.99v2.98h-2.99zM575.08 527.33h2.99v2.98h-2.99zM521.33 530.3h2.99v2.98h-2.99zM530.29 530.3h2.99v2.98h-2.99zM527.31 533.28h2.99v2.98h-2.99zM554.18 533.28h2.99v2.98h-2.99zM485.5 536.26h2.99v2.98h-2.99zM527.31 536.26h5.97v2.98h-5.97zM536.26 536.26h2.99v2.98h-2.99zM539.25 539.23h2.99v2.98h-2.99zM569.11 539.23h2.99v2.98h-2.99zM581.06 542.21h5.97v2.98h-5.97zM383.97 545.18h2.99v2.98h-2.99zM464.6 548.16h2.99v2.98h-2.99zM494.46 548.16h2.99v2.98h-2.99zM524.32 548.16h5.97v2.98h-5.97zM548.21 548.16h2.99v2.98h-2.99zM575.08 548.16h2.99v2.98h-2.99zM467.58 551.13h2.99v2.98h-2.99zM473.56 551.13h2.99v2.98h-2.99zM557.17 551.13h2.99v2.98h-2.99zM431.75 554.11h2.99v2.98h-2.99zM470.57 554.11h2.99v2.98h-2.99zM515.36 554.11h2.99v2.98h-2.99zM560.15 554.11h2.99v2.98h-2.99zM503.42 557.08h2.99v2.98h-2.99zM590.01 557.08h2.99v2.98h-2.99zM378 560.06h2.99v2.98h-2.99zM470.57 560.06h2.99v2.98h-2.99zM497.44 560.06h2.99v2.98h-2.99zM506.4 560.06h2.99v2.98h-2.99zM539.25 560.06h5.97v2.98h-5.97zM560.15 560.06h2.99v2.98h-2.99zM518.35 563.03h5.97v2.98h-5.97zM548.21 563.03h2.99v2.98h-2.99zM566.12 563.03h5.97v2.98h-5.97zM551.19 566.01h2.99v2.98h-2.99zM557.17 566.01h2.99v2.98h-2.99zM575.08 566.01h2.99v2.98h-2.99zM518.35 568.98h5.97v2.98h-5.97zM536.26 568.98h2.99v2.98h-2.99zM542.24 568.98h2.99v2.98h-2.99zM587.03 568.98h2.99v2.98h-2.99zM491.47 571.96h2.99v2.98h-2.99zM560.15 571.96h2.99v2.98h-2.99zM578.07 571.96h2.99v2.98h-2.99zM443.69 574.94h2.99v2.98h-2.99zM464.6 574.94h2.99v2.98h-2.99zM509.39 574.94h2.99v2.98h-2.99zM548.21 574.94h2.99v2.98h-2.99zM563.14 574.94h2.99v2.98h-2.99zM467.58 577.91h2.99v2.98h-2.99zM530.29 577.91h2.99v2.98h-2.99zM557.17 577.91h2.99v2.98h-2.99zM569.11 577.91h2.99v2.98h-2.99zM578.07 577.91h2.99v2.98h-2.99zM378 580.89h2.99v2.98h-2.99zM383.97 580.89h2.99v2.98h-2.99zM467.58 580.89h2.99v2.98h-2.99zM515.36 580.89h2.99v2.98h-2.99zM551.19 580.89h2.99v2.98h-2.99zM587.03 580.89h2.99v2.98h-2.99zM569.11 583.86h2.99v2.98h-2.99zM401.89 586.84h2.99v2.98h-2.99zM431.75 586.84h2.99v2.98h-2.99zM515.36 586.84h2.99v2.98h-2.99zM467.58 589.81h2.99v2.98h-2.99zM503.42 589.81h2.99v2.98h-2.99zM521.33 589.81h2.99v2.98h-2.99zM545.22 589.81h2.99v2.98h-2.99zM533.28 592.79h2.99v2.98h-2.99zM569.11 592.79h2.99v2.98h-2.99zM575.08 592.79h2.99v2.98h-2.99zM467.58 595.76h2.99v2.98h-2.99zM536.26 595.76h2.99v2.98h-2.99zM557.17 595.76h2.99v2.98h-2.99zM479.53 598.74h2.99v2.98h-2.99zM503.42 598.74h2.99v2.98h-2.99zM539.25 598.74h2.99v2.98h-2.99zM545.22 598.74h2.99v2.98h-2.99zM569.11 598.74h5.97v2.98h-5.97zM461.61 601.71h2.99v2.98h-2.99zM467.58 604.69h5.97v2.98h-5.97zM545.22 604.69h2.99v2.98h-2.99zM572.1 604.69h2.99v2.98h-2.99zM464.6 607.66h2.99v2.98h-2.99zM554.18 607.66h2.99v2.98h-2.99zM575.08 607.66h2.99v2.98h-2.99zM536.26 610.64h2.99v2.98h-2.99zM485.5 613.62h2.99v2.98h-2.99zM518.35 613.62h5.97v2.98h-5.97zM569.11 613.62h2.99v2.98h-2.99zM500.43 616.59h2.99v2.98h-2.99zM488.49 619.57h2.99v2.98h-2.99zM494.46 619.57h2.99v2.98h-2.99zM536.26 619.57h2.99v2.98h-2.99zM473.56 622.54h2.99v2.98h-2.99zM491.47 622.54h5.97v2.98h-5.97zM587.03 622.54h2.99v2.98h-2.99zM461.61 625.52h2.99v2.98h-2.99zM485.5 625.52h2.99v2.98h-2.99zM491.47 625.52h2.99v2.98h-2.99zM392.93 628.49h2.99v2.98h-2.99zM473.56 628.49h2.99v2.98h-2.99zM509.39 628.49h2.99v2.98h-2.99zM518.35 628.49h2.99v2.98h-2.99zM527.31 628.49h2.99v2.98h-2.99zM539.25 628.49h2.99v2.98h-2.99zM467.58 631.47h2.99v2.98h-2.99zM497.44 631.47h2.99v2.98h-2.99zM533.28 631.47h2.99v2.98h-2.99zM539.25 631.47h5.97v2.98h-5.97zM378 634.44h2.99v2.98h-2.99zM470.57 634.44h2.99v2.98h-2.99zM488.49 634.44h2.99v2.98h-2.99zM497.44 634.44h2.99v2.98h-2.99zM512.38 634.44h2.99v2.98h-2.99zM551.19 634.44h2.99v2.98h-2.99zM473.56 637.42h2.99v2.98h-2.99zM485.5 637.42h2.99v2.98h-2.99zM524.32 637.42h5.97v2.98h-5.97zM554.18 637.42h2.99v2.98h-2.99zM566.12 637.42h2.99v2.98h-2.99zM479.53 640.39h2.99v2.98h-2.99zM497.44 640.39h2.99v2.98h-2.99zM506.4 640.39h2.99v2.98h-2.99zM539.25 640.39h2.99v2.98h-2.99zM503.42 643.37h2.99v2.98h-2.99zM458.62 646.34h2.99v2.98h-2.99zM476.54 646.34h2.99v2.98h-2.99zM548.21 646.34h5.97v2.98h-5.97zM509.39 649.32h2.99v2.98h-2.99zM452.65 652.3h2.99v2.98h-2.99zM476.54 652.3h2.99v2.98h-2.99zM485.5 655.27h2.99v2.98h-2.99zM503.42 655.27h5.97v2.98h-5.97zM581.06 655.27h2.99v2.98h-2.99zM473.56 658.25h2.99v2.98h-2.99zM503.42 658.25h2.99v2.98h-2.99zM488.49 661.22h2.99v2.98h-2.99zM521.33 661.22h2.99v2.98h-2.99zM473.56 667.17h2.99v2.98h-2.99zM527.31 667.17h2.99v2.98h-2.99zM506.4 670.15h2.99v2.98h-2.99zM539.25 670.15h2.99v2.98h-2.99zM470.57 673.12h5.97v2.98h-5.97zM530.29 673.12h2.99v2.98h-2.99zM536.26 673.12h2.99v2.98h-2.99zM554.18 673.12h2.99v2.98h-2.99zM563.14 673.12h2.99v2.98h-2.99zM539.25 676.1h2.99v2.98h-2.99zM563.14 676.1h2.99v2.98h-2.99zM491.47 679.07h2.99v2.98h-2.99zM503.42 679.07h2.99v2.98h-2.99zM533.28 679.07h2.99v2.98h-2.99zM467.58 682.05h2.99v2.98h-2.99zM509.39 682.05h2.99v2.98h-2.99zM533.28 682.05h2.99v2.98h-2.99zM563.14 682.05h2.99v2.98h-2.99zM539.25 685.02h2.99v2.98h-2.99zM590.01 685.02h2.99v2.98h-2.99z"/><path fill="#ebd127" d="M500.43 494.6h2.99v2.98h-2.99zM521.33 494.6h2.99v2.98h-2.99zM542.24 494.6h2.99v2.98h-2.99zM383.97 497.58h2.99v2.98h-2.99zM440.71 497.58h2.99v2.98h-2.99zM452.65 497.58h2.99v2.98h-2.99zM506.4 497.58h2.99v2.98h-2.99zM557.17 497.58h2.99v2.98h-2.99zM407.86 500.55h2.99v2.98h-2.99zM440.71 500.55h2.99v2.98h-2.99zM458.62 500.55h2.99v2.98h-2.99zM494.46 500.55h2.99v2.98h-2.99zM500.43 500.55h2.99v2.98h-2.99zM557.17 500.55h8.96v2.98h-8.96zM569.11 500.55h2.99v2.98h-2.99zM590.01 500.55h2.99v2.98h-2.99zM378 503.53h2.99v2.98h-2.99zM383.97 503.53h2.99v2.98h-2.99zM389.94 503.53h2.99v2.98h-2.99zM458.62 503.53h2.99v2.98h-2.99zM479.53 503.53h5.97v2.98h-5.97zM527.31 503.53h2.99v2.98h-2.99zM539.25 503.53h2.99v2.98h-2.99zM557.17 503.53h2.99v2.98h-2.99zM378 506.5h2.99v2.98h-2.99zM383.97 506.5h2.99v2.98h-2.99zM452.65 506.5h2.99v2.98h-2.99zM470.57 506.5h2.99v2.98h-2.99zM503.42 506.5h5.97v2.98h-5.97zM536.26 506.5h2.99v2.98h-2.99zM383.97 509.48h2.99v2.98h-2.99zM446.68 509.48h2.99v2.98h-2.99zM521.33 509.48h2.99v2.98h-2.99zM533.28 509.48h2.99v2.98h-2.99zM563.14 509.48h2.99v2.98h-2.99zM395.92 512.45h2.99v2.98h-2.99zM500.43 512.45h2.99v2.98h-2.99zM536.26 512.45h2.99v2.98h-2.99zM557.17 512.45h2.99v2.98h-2.99zM563.14 512.45h2.99v2.98h-2.99zM449.67 515.43h2.99v2.98h-2.99zM479.53 515.43h2.99v2.98h-2.99zM503.42 515.43h2.99v2.98h-2.99zM521.33 515.43h2.99v2.98h-2.99zM569.11 515.43h2.99v2.98h-2.99zM578.07 515.43h2.99v2.98h-2.99zM458.62 518.4h2.99v2.98h-2.99zM491.47 518.4h2.99v2.98h-2.99zM497.44 518.4h2.99v2.98h-2.99zM509.39 518.4h5.97v2.98h-5.97zM545.22 518.4h2.99v2.98h-2.99zM575.08 518.4h2.99v2.98h-2.99zM389.94 521.38h2.99v2.98h-2.99zM458.62 521.38h2.99v2.98h-2.99zM566.12 521.38h2.99v2.98h-2.99zM590.01 521.38h2.99v2.98h-2.99zM378 524.35h2.99v2.98h-2.99zM476.54 524.35h2.99v2.98h-2.99zM482.51 524.35h2.99v2.98h-2.99zM497.44 524.35h2.99v2.98h-2.99zM587.03 524.35h2.99v2.98h-2.99zM527.31 527.33h2.99v2.98h-2.99zM584.04 527.33h2.99v2.98h-2.99zM386.96 530.3h2.99v2.98h-2.99zM461.61 530.3h2.99v2.98h-2.99zM545.22 530.3h2.99v2.98h-2.99zM479.53 533.28h2.99v2.98h-2.99zM485.5 533.28h2.99v2.98h-2.99zM506.4 533.28h2.99v2.98h-2.99zM584.04 533.28h2.99v2.98h-2.99zM380.99 536.26h2.99v2.98h-2.99zM473.56 539.23h2.99v2.98h-2.99zM563.14 539.23h2.99v2.98h-2.99zM590.01 539.23h2.99v2.98h-2.99zM383.97 542.21h2.99v2.98h-2.99zM470.57 542.21h5.97v2.98h-5.97zM470.57 545.18h2.99v2.98h-2.99zM500.43 545.18h2.99v2.98h-2.99zM509.39 545.18h2.99v2.98h-2.99zM539.25 545.18h2.99v2.98h-2.99zM572.1 545.18h2.99v2.98h-2.99zM578.07 545.18h2.99v2.98h-2.99zM383.97 548.16h2.99v2.98h-2.99zM470.57 548.16h2.99v2.98h-2.99zM497.44 548.16h2.99v2.98h-2.99zM542.24 548.16h2.99v2.98h-2.99zM458.62 551.13h2.99v2.98h-2.99zM488.49 551.13h2.99v2.98h-2.99zM395.92 554.11h2.99v2.98h-2.99zM458.62 554.11h2.99v2.98h-2.99zM518.35 554.11h2.99v2.98h-2.99zM530.29 554.11h2.99v2.98h-2.99zM551.19 554.11h2.99v2.98h-2.99zM491.47 557.08h2.99v2.98h-2.99zM518.35 557.08h2.99v2.98h-2.99zM551.19 557.08h2.99v2.98h-2.99zM566.12 557.08h2.99v2.98h-2.99zM578.07 557.08h2.99v2.98h-2.99zM515.36 560.06h2.99v2.98h-2.99zM524.32 560.06h2.99v2.98h-2.99zM470.57 563.03h2.99v2.98h-2.99zM503.42 563.03h5.97v2.98h-5.97zM557.17 563.03h2.99v2.98h-2.99zM503.42 566.01h2.99v2.98h-2.99zM524.32 566.01h2.99v2.98h-2.99zM461.61 568.98h5.97v2.98h-5.97zM458.62 574.94h2.99v2.98h-2.99zM527.31 574.94h2.99v2.98h-2.99zM545.22 574.94h2.99v2.98h-2.99zM584.04 574.94h2.99v2.98h-2.99zM470.57 577.91h2.99v2.98h-2.99zM548.21 577.91h2.99v2.98h-2.99zM503.42 580.89h2.99v2.98h-2.99zM545.22 580.89h2.99v2.98h-2.99zM476.54 583.86h2.99v2.98h-2.99zM494.46 583.86h2.99v2.98h-2.99zM509.39 583.86h2.99v2.98h-2.99zM521.33 583.86h2.99v2.98h-2.99zM470.57 586.84h2.99v2.98h-2.99zM509.39 586.84h2.99v2.98h-2.99zM536.26 586.84h2.99v2.98h-2.99zM494.46 589.81h5.97v2.98h-5.97zM461.61 592.79h2.99v2.98h-2.99zM494.46 592.79h2.99v2.98h-2.99zM506.4 592.79h2.99v2.98h-2.99zM518.35 592.79h2.99v2.98h-2.99zM560.15 592.79h2.99v2.98h-2.99zM509.39 595.76h5.97v2.98h-5.97zM467.58 598.74h2.99v2.98h-2.99zM473.56 598.74h2.99v2.98h-2.99zM509.39 598.74h2.99v2.98h-2.99zM473.56 604.69h2.99v2.98h-2.99zM488.49 604.69h2.99v2.98h-2.99zM512.38 604.69h2.99v2.98h-2.99zM530.29 607.66h2.99v2.98h-2.99zM539.25 607.66h2.99v2.98h-2.99zM473.56 610.64h2.99v2.98h-2.99zM584.04 610.64h2.99v2.98h-2.99zM473.56 613.62h2.99v2.98h-2.99zM509.39 613.62h2.99v2.98h-2.99zM578.07 613.62h5.97v2.98h-5.97zM587.03 613.62h2.99v2.98h-2.99zM482.51 616.59h2.99v2.98h-2.99zM500.43 619.57h2.99v2.98h-2.99zM512.38 619.57h2.99v2.98h-2.99zM467.58 622.54h2.99v2.98h-2.99zM476.54 622.54h2.99v2.98h-2.99zM503.42 622.54h2.99v2.98h-2.99zM530.29 622.54h2.99v2.98h-2.99zM536.26 622.54h2.99v2.98h-2.99zM548.21 622.54h2.99v2.98h-2.99zM578.07 622.54h5.97v2.98h-5.97zM473.56 625.52h2.99v2.98h-2.99zM479.53 625.52h2.99v2.98h-2.99zM512.38 625.52h2.99v2.98h-2.99zM539.25 625.52h2.99v2.98h-2.99zM545.22 625.52h2.99v2.98h-2.99zM389.94 628.49h2.99v2.98h-2.99zM482.51 628.49h2.99v2.98h-2.99zM557.17 628.49h2.99v2.98h-2.99zM563.14 628.49h2.99v2.98h-2.99zM506.4 631.47h2.99v2.98h-2.99zM482.51 634.44h5.97v2.98h-5.97zM500.43 634.44h2.99v2.98h-2.99zM506.4 634.44h2.99v2.98h-2.99zM533.28 634.44h2.99v2.98h-2.99zM378 637.42h2.99v2.98h-2.99zM491.47 637.42h2.99v2.98h-2.99zM497.44 637.42h2.99v2.98h-2.99zM512.38 637.42h2.99v2.98h-2.99zM536.26 637.42h2.99v2.98h-2.99zM476.54 640.39h2.99v2.98h-2.99zM491.47 640.39h2.99v2.98h-2.99zM500.43 640.39h2.99v2.98h-2.99zM518.35 640.39h2.99v2.98h-2.99zM536.26 640.39h2.99v2.98h-2.99zM548.21 640.39h2.99v2.98h-2.99zM449.67 643.37h2.99v2.98h-2.99zM455.64 643.37h2.99v2.98h-2.99zM467.58 643.37h2.99v2.98h-2.99zM479.53 643.37h5.97v2.98h-5.97zM491.47 643.37h2.99v2.98h-2.99zM506.4 643.37h2.99v2.98h-2.99zM533.28 643.37h5.97v2.98h-5.97zM584.04 643.37h2.99v2.98h-2.99zM473.56 646.34h2.99v2.98h-2.99zM503.42 646.34h2.99v2.98h-2.99zM554.18 646.34h2.99v2.98h-2.99zM455.64 649.32h2.99v2.98h-2.99zM500.43 649.32h2.99v2.98h-2.99zM587.03 649.32h2.99v2.98h-2.99zM482.51 652.3h2.99v2.98h-2.99zM506.4 652.3h2.99v2.98h-2.99zM590.01 652.3h2.99v2.98h-2.99zM494.46 655.27h2.99v2.98h-2.99zM500.43 655.27h2.99v2.98h-2.99zM527.31 655.27h2.99v2.98h-2.99zM539.25 655.27h2.99v2.98h-2.99zM563.14 655.27h2.99v2.98h-2.99zM479.53 658.25h2.99v2.98h-2.99zM434.74 661.22h2.99v2.98h-2.99zM455.64 661.22h2.99v2.98h-2.99zM542.24 661.22h2.99v2.98h-2.99zM548.21 664.2h2.99v2.98h-2.99zM569.11 664.2h2.99v2.98h-2.99zM440.71 667.17h2.99v2.98h-2.99zM491.47 670.15h2.99v2.98h-2.99zM452.65 673.12h2.99v2.98h-2.99zM491.47 673.12h5.97v2.98h-5.97zM461.61 676.1h2.99v2.98h-2.99zM494.46 676.1h2.99v2.98h-2.99zM560.15 676.1h2.99v2.98h-2.99zM461.61 679.07h2.99v2.98h-2.99zM506.4 679.07h2.99v2.98h-2.99zM581.06 679.07h2.99v2.98h-2.99zM590.01 679.07h2.99v2.98h-2.99zM497.44 682.05h2.99v2.98h-2.99zM479.53 685.02h2.99v2.98h-2.99zM512.38 685.02h2.99v2.98h-2.99zM566.12 685.02h2.99v2.98h-2.99z"/><path fill="#ecd326" d="M428.76 494.6h5.97v2.98h-5.97zM494.46 494.6h2.99v2.98h-2.99zM548.21 494.6h2.99v2.98h-2.99zM422.79 497.58h2.99v2.98h-2.99zM569.11 497.58h2.99v2.98h-2.99zM378 500.55h2.99v2.98h-2.99zM497.44 500.55h2.99v2.98h-2.99zM503.42 500.55h2.99v2.98h-2.99zM518.35 500.55h5.97v2.98h-5.97zM449.67 503.53h2.99v2.98h-2.99zM473.56 503.53h2.99v2.98h-2.99zM488.49 503.53h2.99v2.98h-2.99zM497.44 503.53h2.99v2.98h-2.99zM518.35 503.53h2.99v2.98h-2.99zM548.21 503.53h2.99v2.98h-2.99zM401.89 506.5h2.99v2.98h-2.99zM467.58 506.5h2.99v2.98h-2.99zM512.38 506.5h2.99v2.98h-2.99zM521.33 506.5h5.97v2.98h-5.97zM458.62 509.48h2.99v2.98h-2.99zM512.38 509.48h2.99v2.98h-2.99zM539.25 509.48h2.99v2.98h-2.99zM578.07 509.48h2.99v2.98h-2.99zM378 512.45h2.99v2.98h-2.99zM386.96 512.45h2.99v2.98h-2.99zM449.67 512.45h2.99v2.98h-2.99zM491.47 512.45h5.97v2.98h-5.97zM509.39 512.45h2.99v2.98h-2.99zM515.36 512.45h2.99v2.98h-2.99zM378 515.43h2.99v2.98h-2.99zM428.76 515.43h2.99v2.98h-2.99zM443.69 515.43h2.99v2.98h-2.99zM452.65 515.43h2.99v2.98h-2.99zM497.44 515.43h2.99v2.98h-2.99zM512.38 515.43h5.97v2.98h-5.97zM587.03 515.43h2.99v2.98h-2.99zM488.49 518.4h2.99v2.98h-2.99zM530.29 518.4h2.99v2.98h-2.99zM581.06 518.4h2.99v2.98h-2.99zM383.97 521.38h2.99v2.98h-2.99zM464.6 521.38h2.99v2.98h-2.99zM521.33 521.38h2.99v2.98h-2.99zM536.26 521.38h2.99v2.98h-2.99zM584.04 521.38h2.99v2.98h-2.99zM524.32 524.35h5.97v2.98h-5.97zM494.46 527.33h2.99v2.98h-2.99zM521.33 527.33h2.99v2.98h-2.99zM557.17 527.33h2.99v2.98h-2.99zM389.94 530.3h2.99v2.98h-2.99zM482.51 530.3h2.99v2.98h-2.99zM542.24 530.3h2.99v2.98h-2.99zM557.17 530.3h2.99v2.98h-2.99zM455.64 533.28h2.99v2.98h-2.99zM548.21 533.28h2.99v2.98h-2.99zM569.11 533.28h2.99v2.98h-2.99zM467.58 536.26h5.97v2.98h-5.97zM482.51 536.26h2.99v2.98h-2.99zM545.22 536.26h5.97v2.98h-5.97zM554.18 536.26h5.97v2.98h-5.97zM410.85 539.23h2.99v2.98h-2.99zM461.61 539.23h2.99v2.98h-2.99zM470.57 539.23h2.99v2.98h-2.99zM500.43 539.23h2.99v2.98h-2.99zM467.58 542.21h2.99v2.98h-2.99zM467.58 545.18h2.99v2.98h-2.99zM473.56 545.18h2.99v2.98h-2.99zM482.51 545.18h2.99v2.98h-2.99zM581.06 545.18h2.99v2.98h-2.99zM533.28 548.16h5.97v2.98h-5.97zM545.22 548.16h2.99v2.98h-2.99zM572.1 548.16h2.99v2.98h-2.99zM464.6 551.13h2.99v2.98h-2.99zM485.5 551.13h2.99v2.98h-2.99zM497.44 551.13h2.99v2.98h-2.99zM461.61 554.11h5.97v2.98h-5.97zM473.56 554.11h2.99v2.98h-2.99zM485.5 554.11h2.99v2.98h-2.99zM494.46 554.11h2.99v2.98h-2.99zM575.08 554.11h5.97v2.98h-5.97zM464.6 557.08h2.99v2.98h-2.99zM563.14 557.08h2.99v2.98h-2.99zM482.51 560.06h2.99v2.98h-2.99zM527.31 560.06h2.99v2.98h-2.99zM575.08 560.06h2.99v2.98h-2.99zM509.39 563.03h2.99v2.98h-2.99zM590.01 563.03h2.99v2.98h-2.99zM509.39 566.01h2.99v2.98h-2.99zM587.03 566.01h2.99v2.98h-2.99zM515.36 568.98h2.99v2.98h-2.99zM581.06 568.98h2.99v2.98h-2.99zM590.01 568.98h2.99v2.98h-2.99zM494.46 571.96h2.99v2.98h-2.99zM500.43 571.96h2.99v2.98h-2.99zM587.03 571.96h2.99v2.98h-2.99zM488.49 574.94h2.99v2.98h-2.99zM560.15 574.94h2.99v2.98h-2.99zM590.01 574.94h2.99v2.98h-2.99zM521.33 577.91h2.99v2.98h-2.99zM545.22 577.91h2.99v2.98h-2.99zM491.47 580.89h2.99v2.98h-2.99zM509.39 580.89h5.97v2.98h-5.97zM554.18 580.89h2.99v2.98h-2.99zM449.67 586.84h2.99v2.98h-2.99zM569.11 586.84h2.99v2.98h-2.99zM506.4 589.81h2.99v2.98h-2.99zM476.54 592.79h2.99v2.98h-2.99zM461.61 595.76h2.99v2.98h-2.99zM482.51 595.76h2.99v2.98h-2.99zM488.49 595.76h2.99v2.98h-2.99zM500.43 595.76h2.99v2.98h-2.99zM533.28 595.76h2.99v2.98h-2.99zM494.46 598.74h2.99v2.98h-2.99zM536.26 598.74h2.99v2.98h-2.99zM542.24 598.74h2.99v2.98h-2.99zM473.56 601.71h2.99v2.98h-2.99zM506.4 601.71h2.99v2.98h-2.99zM524.32 601.71h5.97v2.98h-5.97zM461.61 604.69h2.99v2.98h-2.99zM482.51 604.69h2.99v2.98h-2.99zM515.36 604.69h2.99v2.98h-2.99zM461.61 607.66h2.99v2.98h-2.99zM488.49 607.66h2.99v2.98h-2.99zM497.44 607.66h2.99v2.98h-2.99zM590.01 610.64h2.99v2.98h-2.99zM503.42 613.62h2.99v2.98h-2.99zM536.26 613.62h2.99v2.98h-2.99zM476.54 619.57h2.99v2.98h-2.99zM548.21 619.57h2.99v2.98h-2.99zM581.06 619.57h2.99v2.98h-2.99zM458.62 622.54h2.99v2.98h-2.99zM482.51 622.54h2.99v2.98h-2.99zM497.44 622.54h2.99v2.98h-2.99zM512.38 622.54h2.99v2.98h-2.99zM542.24 622.54h2.99v2.98h-2.99zM551.19 622.54h2.99v2.98h-2.99zM584.04 622.54h2.99v2.98h-2.99zM378 625.52h2.99v2.98h-2.99zM584.04 625.52h2.99v2.98h-2.99zM401.89 628.49h2.99v2.98h-2.99zM461.61 628.49h2.99v2.98h-2.99zM485.5 631.47h2.99v2.98h-2.99zM515.36 631.47h2.99v2.98h-2.99zM557.17 631.47h2.99v2.98h-2.99zM578.07 631.47h2.99v2.98h-2.99zM527.31 634.44h2.99v2.98h-2.99zM479.53 637.42h2.99v2.98h-2.99zM503.42 637.42h2.99v2.98h-2.99zM533.28 637.42h2.99v2.98h-2.99zM560.15 637.42h5.97v2.98h-5.97zM569.11 637.42h2.99v2.98h-2.99zM470.57 640.39h2.99v2.98h-2.99zM494.46 640.39h2.99v2.98h-2.99zM512.38 643.37h2.99v2.98h-2.99zM521.33 643.37h2.99v2.98h-2.99zM464.6 646.34h8.96v2.98h-8.96zM488.49 646.34h2.99v2.98h-2.99zM524.32 646.34h2.99v2.98h-2.99zM536.26 646.34h2.99v2.98h-2.99zM473.56 649.32h2.99v2.98h-2.99zM479.53 652.3h2.99v2.98h-2.99zM521.33 652.3h2.99v2.98h-2.99zM536.26 652.3h2.99v2.98h-2.99zM548.21 652.3h2.99v2.98h-2.99zM464.6 655.27h2.99v2.98h-2.99zM473.56 655.27h2.99v2.98h-2.99zM545.22 655.27h2.99v2.98h-2.99zM539.25 658.25h2.99v2.98h-2.99zM479.53 661.22h2.99v2.98h-2.99zM485.5 664.2h2.99v2.98h-2.99zM497.44 664.2h2.99v2.98h-2.99zM581.06 664.2h2.99v2.98h-2.99zM587.03 664.2h2.99v2.98h-2.99zM437.72 667.17h2.99v2.98h-2.99zM464.6 667.17h2.99v2.98h-2.99zM488.49 667.17h2.99v2.98h-2.99zM497.44 667.17h2.99v2.98h-2.99zM530.29 667.17h2.99v2.98h-2.99zM563.14 667.17h2.99v2.98h-2.99zM389.94 670.15h2.99v2.98h-2.99zM452.65 670.15h2.99v2.98h-2.99zM458.62 670.15h2.99v2.98h-2.99zM473.56 670.15h2.99v2.98h-2.99zM533.28 670.15h2.99v2.98h-2.99zM551.19 670.15h2.99v2.98h-2.99zM389.94 673.12h2.99v2.98h-2.99zM398.9 673.12h2.99v2.98h-2.99zM479.53 673.12h2.99v2.98h-2.99zM557.17 673.12h2.99v2.98h-2.99zM566.12 673.12h2.99v2.98h-2.99zM464.6 676.1h5.97v2.98h-5.97zM476.54 676.1h2.99v2.98h-2.99zM491.47 676.1h2.99v2.98h-2.99zM506.4 676.1h2.99v2.98h-2.99zM542.24 676.1h2.99v2.98h-2.99zM557.17 676.1h2.99v2.98h-2.99zM470.57 679.07h2.99v2.98h-2.99zM500.43 679.07h2.99v2.98h-2.99zM557.17 679.07h2.99v2.98h-2.99zM458.62 682.05h2.99v2.98h-2.99zM473.56 682.05h2.99v2.98h-2.99zM515.36 682.05h2.99v2.98h-2.99zM536.26 682.05h2.99v2.98h-2.99zM569.11 682.05h2.99v2.98h-2.99zM506.4 685.02h2.99v2.98h-2.99zM548.21 685.02h2.99v2.98h-2.99z"/><path fill="#edd426" d="M587.03 494.6h2.99v2.98h-2.99zM389.94 497.58h5.97v2.98h-5.97zM491.47 497.58h2.99v2.98h-2.99zM563.14 497.58h2.99v2.98h-2.99zM575.08 497.58h2.99v2.98h-2.99zM587.03 497.58h2.99v2.98h-2.99zM473.56 500.55h2.99v2.98h-2.99zM575.08 500.55h2.99v2.98h-2.99zM584.04 500.55h2.99v2.98h-2.99zM416.82 503.53h2.99v2.98h-2.99zM446.68 503.53h2.99v2.98h-2.99zM494.46 503.53h2.99v2.98h-2.99zM506.4 503.53h2.99v2.98h-2.99zM536.26 503.53h2.99v2.98h-2.99zM572.1 503.53h2.99v2.98h-2.99zM455.64 506.5h2.99v2.98h-2.99zM464.6 506.5h2.99v2.98h-2.99zM482.51 506.5h2.99v2.98h-2.99zM386.96 509.48h2.99v2.98h-2.99zM419.81 509.48h2.99v2.98h-2.99zM482.51 509.48h2.99v2.98h-2.99zM518.35 509.48h2.99v2.98h-2.99zM557.17 509.48h2.99v2.98h-2.99zM392.93 515.43h2.99v2.98h-2.99zM455.64 515.43h2.99v2.98h-2.99zM464.6 515.43h2.99v2.98h-2.99zM443.69 518.4h2.99v2.98h-2.99zM476.54 518.4h2.99v2.98h-2.99zM566.12 518.4h2.99v2.98h-2.99zM461.61 521.38h2.99v2.98h-2.99zM479.53 521.38h2.99v2.98h-2.99zM518.35 521.38h2.99v2.98h-2.99zM581.06 521.38h2.99v2.98h-2.99zM515.36 524.35h5.97v2.98h-5.97zM581.06 524.35h2.99v2.98h-2.99zM455.64 527.33h2.99v2.98h-2.99zM473.56 527.33h2.99v2.98h-2.99zM482.51 527.33h2.99v2.98h-2.99zM533.28 527.33h2.99v2.98h-2.99zM581.06 527.33h2.99v2.98h-2.99zM380.99 530.3h2.99v2.98h-2.99zM458.62 530.3h2.99v2.98h-2.99zM479.53 530.3h2.99v2.98h-2.99zM488.49 530.3h2.99v2.98h-2.99zM383.97 533.28h5.97v2.98h-5.97zM473.56 533.28h5.97v2.98h-5.97zM500.43 533.28h2.99v2.98h-2.99zM533.28 533.28h2.99v2.98h-2.99zM378 536.26h2.99v2.98h-2.99zM443.69 536.26h2.99v2.98h-2.99zM500.43 536.26h2.99v2.98h-2.99zM551.19 536.26h2.99v2.98h-2.99zM566.12 536.26h2.99v2.98h-2.99zM533.28 539.23h2.99v2.98h-2.99zM584.04 539.23h2.99v2.98h-2.99zM443.69 542.21h2.99v2.98h-2.99zM536.26 542.21h2.99v2.98h-2.99zM461.61 545.18h2.99v2.98h-2.99zM476.54 545.18h2.99v2.98h-2.99zM542.24 545.18h2.99v2.98h-2.99zM449.67 548.16h2.99v2.98h-2.99zM581.06 548.16h2.99v2.98h-2.99zM395.92 551.13h2.99v2.98h-2.99zM533.28 551.13h2.99v2.98h-2.99zM575.08 551.13h2.99v2.98h-2.99zM455.64 554.11h2.99v2.98h-2.99zM467.58 554.11h2.99v2.98h-2.99zM491.47 554.11h2.99v2.98h-2.99zM554.18 554.11h2.99v2.98h-2.99zM581.06 554.11h2.99v2.98h-2.99zM378 557.08h2.99v2.98h-2.99zM461.61 557.08h2.99v2.98h-2.99zM533.28 557.08h2.99v2.98h-2.99zM584.04 557.08h2.99v2.98h-2.99zM395.92 560.06h2.99v2.98h-2.99zM500.43 560.06h5.97v2.98h-5.97zM521.33 560.06h2.99v2.98h-2.99zM545.22 560.06h2.99v2.98h-2.99zM584.04 560.06h2.99v2.98h-2.99zM380.99 563.03h2.99v2.98h-2.99zM392.93 563.03h5.97v2.98h-5.97zM455.64 563.03h2.99v2.98h-2.99zM464.6 563.03h2.99v2.98h-2.99zM536.26 563.03h2.99v2.98h-2.99zM545.22 563.03h2.99v2.98h-2.99zM455.64 566.01h2.99v2.98h-2.99zM506.4 566.01h2.99v2.98h-2.99zM536.26 566.01h2.99v2.98h-2.99zM488.49 568.98h2.99v2.98h-2.99zM503.42 568.98h2.99v2.98h-2.99zM452.65 571.96h2.99v2.98h-2.99zM461.61 571.96h2.99v2.98h-2.99zM380.99 574.94h2.99v2.98h-2.99zM500.43 574.94h2.99v2.98h-2.99zM440.71 577.91h2.99v2.98h-2.99zM479.53 577.91h2.99v2.98h-2.99zM509.39 577.91h2.99v2.98h-2.99zM563.14 577.91h2.99v2.98h-2.99zM431.75 580.89h2.99v2.98h-2.99zM446.68 580.89h2.99v2.98h-2.99zM464.6 580.89h2.99v2.98h-2.99zM518.35 580.89h2.99v2.98h-2.99zM431.75 583.86h2.99v2.98h-2.99zM449.67 583.86h2.99v2.98h-2.99zM464.6 583.86h2.99v2.98h-2.99zM473.56 583.86h2.99v2.98h-2.99zM491.47 583.86h2.99v2.98h-2.99zM518.35 583.86h2.99v2.98h-2.99zM524.32 583.86h2.99v2.98h-2.99zM536.26 583.86h2.99v2.98h-2.99zM542.24 583.86h2.99v2.98h-2.99zM482.51 586.84h2.99v2.98h-2.99zM518.35 589.81h2.99v2.98h-2.99zM533.28 589.81h2.99v2.98h-2.99zM542.24 589.81h2.99v2.98h-2.99zM464.6 592.79h2.99v2.98h-2.99zM491.47 592.79h2.99v2.98h-2.99zM545.22 595.76h2.99v2.98h-2.99zM455.64 598.74h2.99v2.98h-2.99zM470.57 598.74h2.99v2.98h-2.99zM533.28 598.74h2.99v2.98h-2.99zM494.46 604.69h2.99v2.98h-2.99zM584.04 604.69h2.99v2.98h-2.99zM458.62 607.66h2.99v2.98h-2.99zM578.07 607.66h2.99v2.98h-2.99zM533.28 610.64h2.99v2.98h-2.99zM542.24 610.64h2.99v2.98h-2.99zM461.61 613.62h2.99v2.98h-2.99zM545.22 613.62h2.99v2.98h-2.99zM380.99 616.59h2.99v2.98h-2.99zM386.96 616.59h2.99v2.98h-2.99zM380.99 619.57h2.99v2.98h-2.99zM518.35 619.57h2.99v2.98h-2.99zM542.24 619.57h2.99v2.98h-2.99zM386.96 622.54h2.99v2.98h-2.99zM470.57 622.54h2.99v2.98h-2.99zM479.53 622.54h2.99v2.98h-2.99zM395.92 625.52h5.97v2.98h-5.97zM503.42 625.52h2.99v2.98h-2.99zM527.31 625.52h2.99v2.98h-2.99zM542.24 625.52h2.99v2.98h-2.99zM560.15 625.52h2.99v2.98h-2.99zM380.99 628.49h2.99v2.98h-2.99zM536.26 628.49h2.99v2.98h-2.99zM521.33 631.47h2.99v2.98h-2.99zM566.12 631.47h2.99v2.98h-2.99zM479.53 634.44h2.99v2.98h-2.99zM509.39 640.39h2.99v2.98h-2.99zM524.32 640.39h2.99v2.98h-2.99zM551.19 640.39h5.97v2.98h-5.97zM569.11 640.39h2.99v2.98h-2.99zM476.54 643.37h2.99v2.98h-2.99zM509.39 643.37h2.99v2.98h-2.99zM515.36 643.37h5.97v2.98h-5.97zM527.31 643.37h2.99v2.98h-2.99zM581.06 643.37h2.99v2.98h-2.99zM485.5 646.34h2.99v2.98h-2.99zM527.31 649.32h2.99v2.98h-2.99zM530.29 652.3h5.97v2.98h-5.97zM479.53 655.27h2.99v2.98h-2.99zM518.35 655.27h2.99v2.98h-2.99zM470.57 658.25h2.99v2.98h-2.99zM491.47 658.25h2.99v2.98h-2.99zM386.96 661.22h2.99v2.98h-2.99zM485.5 661.22h2.99v2.98h-2.99zM533.28 661.22h2.99v2.98h-2.99zM548.21 661.22h2.99v2.98h-2.99zM378 664.2h2.99v2.98h-2.99zM395.92 664.2h2.99v2.98h-2.99zM491.47 664.2h2.99v2.98h-2.99zM527.31 664.2h2.99v2.98h-2.99zM551.19 664.2h2.99v2.98h-2.99zM392.93 667.17h2.99v2.98h-2.99zM476.54 667.17h2.99v2.98h-2.99zM494.46 667.17h2.99v2.98h-2.99zM494.46 670.15h5.97v2.98h-5.97zM458.62 673.12h2.99v2.98h-2.99zM500.43 676.1h2.99v2.98h-2.99zM524.32 676.1h2.99v2.98h-2.99zM530.29 676.1h2.99v2.98h-2.99zM548.21 676.1h2.99v2.98h-2.99zM566.12 676.1h2.99v2.98h-2.99zM572.1 676.1h2.99v2.98h-2.99zM380.99 679.07h5.97v2.98h-5.97zM464.6 679.07h5.97v2.98h-5.97zM497.44 679.07h2.99v2.98h-2.99zM524.32 679.07h2.99v2.98h-2.99zM530.29 679.07h2.99v2.98h-2.99zM542.24 679.07h2.99v2.98h-2.99zM503.42 682.05h2.99v2.98h-2.99zM581.06 682.05h2.99v2.98h-2.99zM440.71 685.02h2.99v2.98h-2.99zM455.64 685.02h2.99v2.98h-2.99zM509.39 685.02h2.99v2.98h-2.99zM515.36 685.02h2.99v2.98h-2.99zM554.18 685.02h2.99v2.98h-2.99z"/><path fill="#edd526" d="M378 494.6h2.99v2.98h-2.99zM383.97 494.6h2.99v2.98h-2.99zM410.85 494.6h2.99v2.98h-2.99zM437.72 494.6h2.99v2.98h-2.99zM497.44 494.6h2.99v2.98h-2.99zM545.22 494.6h2.99v2.98h-2.99zM566.12 494.6h2.99v2.98h-2.99zM581.06 494.6h2.99v2.98h-2.99zM437.72 497.58h2.99v2.98h-2.99zM464.6 497.58h2.99v2.98h-2.99zM485.5 497.58h2.99v2.98h-2.99zM380.99 500.55h2.99v2.98h-2.99zM434.74 500.55h2.99v2.98h-2.99zM551.19 500.55h2.99v2.98h-2.99zM587.03 500.55h2.99v2.98h-2.99zM401.89 509.48h2.99v2.98h-2.99zM506.4 509.48h2.99v2.98h-2.99zM536.26 509.48h2.99v2.98h-2.99zM518.35 512.45h2.99v2.98h-2.99zM524.32 512.45h2.99v2.98h-2.99zM560.15 512.45h2.99v2.98h-2.99zM380.99 515.43h2.99v2.98h-2.99zM491.47 515.43h2.99v2.98h-2.99zM509.39 515.43h2.99v2.98h-2.99zM527.31 515.43h2.99v2.98h-2.99zM461.61 518.4h2.99v2.98h-2.99zM521.33 518.4h2.99v2.98h-2.99zM392.93 521.38h2.99v2.98h-2.99zM467.58 521.38h2.99v2.98h-2.99zM578.07 521.38h2.99v2.98h-2.99zM530.29 524.35h5.97v2.98h-5.97zM530.29 527.33h2.99v2.98h-2.99zM383.97 530.3h2.99v2.98h-2.99zM380.99 533.28h2.99v2.98h-2.99zM440.71 533.28h2.99v2.98h-2.99zM467.58 533.28h2.99v2.98h-2.99zM488.49 533.28h2.99v2.98h-2.99zM545.22 533.28h2.99v2.98h-2.99zM551.19 533.28h2.99v2.98h-2.99zM572.1 533.28h5.97v2.98h-5.97zM494.46 536.26h2.99v2.98h-2.99zM572.1 536.26h2.99v2.98h-2.99zM530.29 539.23h2.99v2.98h-2.99zM572.1 539.23h2.99v2.98h-2.99zM386.96 542.21h2.99v2.98h-2.99zM452.65 542.21h2.99v2.98h-2.99zM461.61 542.21h2.99v2.98h-2.99zM506.4 542.21h2.99v2.98h-2.99zM455.64 545.18h5.97v2.98h-5.97zM530.29 545.18h2.99v2.98h-2.99zM536.26 545.18h2.99v2.98h-2.99zM545.22 545.18h2.99v2.98h-2.99zM551.19 545.18h2.99v2.98h-2.99zM386.96 548.16h2.99v2.98h-2.99zM476.54 548.16h5.97v2.98h-5.97zM488.49 548.16h2.99v2.98h-2.99zM503.42 548.16h2.99v2.98h-2.99zM380.99 551.13h2.99v2.98h-2.99zM434.74 551.13h2.99v2.98h-2.99zM560.15 551.13h2.99v2.98h-2.99zM578.07 551.13h2.99v2.98h-2.99zM587.03 551.13h2.99v2.98h-2.99zM488.49 554.11h2.99v2.98h-2.99zM452.65 557.08h2.99v2.98h-2.99zM470.57 557.08h2.99v2.98h-2.99zM485.5 557.08h2.99v2.98h-2.99zM500.43 557.08h2.99v2.98h-2.99zM557.17 557.08h2.99v2.98h-2.99zM572.1 557.08h2.99v2.98h-2.99zM572.1 560.06h2.99v2.98h-2.99zM461.61 563.03h2.99v2.98h-2.99zM542.24 563.03h2.99v2.98h-2.99zM584.04 563.03h2.99v2.98h-2.99zM458.62 566.01h8.96v2.98h-8.96zM491.47 566.01h2.99v2.98h-2.99zM407.86 568.98h2.99v2.98h-2.99zM590.01 571.96h2.99v2.98h-2.99zM485.5 574.94h2.99v2.98h-2.99zM557.17 574.94h2.99v2.98h-2.99zM569.11 574.94h2.99v2.98h-2.99zM380.99 577.91h2.99v2.98h-2.99zM386.96 577.91h2.99v2.98h-2.99zM437.72 577.91h2.99v2.98h-2.99zM464.6 577.91h2.99v2.98h-2.99zM476.54 577.91h2.99v2.98h-2.99zM506.4 577.91h2.99v2.98h-2.99zM542.24 577.91h2.99v2.98h-2.99zM551.19 577.91h2.99v2.98h-2.99zM470.57 580.89h2.99v2.98h-2.99zM482.51 580.89h5.97v2.98h-5.97zM521.33 580.89h2.99v2.98h-2.99zM572.1 580.89h2.99v2.98h-2.99zM500.43 583.86h2.99v2.98h-2.99zM506.4 583.86h2.99v2.98h-2.99zM515.36 583.86h2.99v2.98h-2.99zM566.12 583.86h2.99v2.98h-2.99zM446.68 586.84h2.99v2.98h-2.99zM527.31 592.79h5.97v2.98h-5.97zM548.21 595.76h2.99v2.98h-2.99zM476.54 601.71h2.99v2.98h-2.99zM512.38 601.71h2.99v2.98h-2.99zM536.26 601.71h2.99v2.98h-2.99zM539.25 604.69h2.99v2.98h-2.99zM590.01 604.69h2.99v2.98h-2.99zM476.54 607.66h2.99v2.98h-2.99zM581.06 607.66h2.99v2.98h-2.99zM461.61 610.64h2.99v2.98h-2.99zM467.58 610.64h2.99v2.98h-2.99zM476.54 610.64h2.99v2.98h-2.99zM500.43 610.64h2.99v2.98h-2.99zM530.29 610.64h2.99v2.98h-2.99zM539.25 610.64h2.99v2.98h-2.99zM380.99 613.62h2.99v2.98h-2.99zM476.54 613.62h2.99v2.98h-2.99zM512.38 613.62h2.99v2.98h-2.99zM530.29 613.62h2.99v2.98h-2.99zM383.97 616.59h2.99v2.98h-2.99zM476.54 616.59h2.99v2.98h-2.99zM587.03 616.59h2.99v2.98h-2.99zM491.47 619.57h2.99v2.98h-2.99zM503.42 619.57h5.97v2.98h-5.97zM533.28 619.57h2.99v2.98h-2.99zM539.25 619.57h2.99v2.98h-2.99zM545.22 619.57h2.99v2.98h-2.99zM587.03 619.57h2.99v2.98h-2.99zM383.97 622.54h2.99v2.98h-2.99zM539.25 622.54h2.99v2.98h-2.99zM476.54 625.52h2.99v2.98h-2.99zM530.29 625.52h5.97v2.98h-5.97zM551.19 625.52h2.99v2.98h-2.99zM479.53 628.49h2.99v2.98h-2.99zM401.89 631.47h2.99v2.98h-2.99zM482.51 631.47h2.99v2.98h-2.99zM467.58 634.44h2.99v2.98h-2.99zM473.56 634.44h5.97v2.98h-5.97zM536.26 634.44h2.99v2.98h-2.99zM506.4 637.42h2.99v2.98h-2.99zM518.35 637.42h2.99v2.98h-2.99zM530.29 637.42h2.99v2.98h-2.99zM455.64 640.39h2.99v2.98h-2.99zM527.31 640.39h2.99v2.98h-2.99zM575.08 640.39h2.99v2.98h-2.99zM461.61 643.37h2.99v2.98h-2.99zM494.46 643.37h2.99v2.98h-2.99zM590.01 646.34h2.99v2.98h-2.99zM548.21 649.32h2.99v2.98h-2.99zM509.39 652.3h2.99v2.98h-2.99zM587.03 652.3h2.99v2.98h-2.99zM524.32 655.27h2.99v2.98h-2.99zM533.28 655.27h2.99v2.98h-2.99zM485.5 658.25h2.99v2.98h-2.99zM581.06 658.25h2.99v2.98h-2.99zM476.54 664.2h2.99v2.98h-2.99zM542.24 664.2h2.99v2.98h-2.99zM461.61 670.15h2.99v2.98h-2.99zM479.53 670.15h2.99v2.98h-2.99zM515.36 670.15h2.99v2.98h-2.99zM536.26 670.15h2.99v2.98h-2.99zM461.61 673.12h2.99v2.98h-2.99zM476.54 673.12h2.99v2.98h-2.99zM488.49 673.12h2.99v2.98h-2.99zM506.4 673.12h2.99v2.98h-2.99zM524.32 673.12h2.99v2.98h-2.99zM479.53 676.1h2.99v2.98h-2.99zM518.35 679.07h5.97v2.98h-5.97zM566.12 679.07h2.99v2.98h-2.99zM416.82 682.05h2.99v2.98h-2.99zM530.29 682.05h2.99v2.98h-2.99zM566.12 682.05h2.99v2.98h-2.99zM494.46 685.02h2.99v2.98h-2.99zM551.19 685.02h2.99v2.98h-2.99z"/><path fill="#eed625" d="M386.96 494.6h2.99v2.98h-2.99zM395.92 494.6h2.99v2.98h-2.99zM473.56 494.6h5.97v2.98h-5.97zM551.19 494.6h2.99v2.98h-2.99zM569.11 494.6h2.99v2.98h-2.99zM590.01 497.58h2.99v2.98h-2.99zM425.78 500.55h2.99v2.98h-2.99zM449.67 500.55h2.99v2.98h-2.99zM566.12 500.55h2.99v2.98h-2.99zM524.32 503.53h2.99v2.98h-2.99zM398.9 506.5h2.99v2.98h-2.99zM419.81 506.5h2.99v2.98h-2.99zM479.53 506.5h2.99v2.98h-2.99zM518.35 506.5h2.99v2.98h-2.99zM428.76 509.48h2.99v2.98h-2.99zM455.64 509.48h2.99v2.98h-2.99zM488.49 509.48h2.99v2.98h-2.99zM509.39 509.48h2.99v2.98h-2.99zM398.9 512.45h2.99v2.98h-2.99zM467.58 512.45h2.99v2.98h-2.99zM503.42 512.45h2.99v2.98h-2.99zM386.96 515.43h2.99v2.98h-2.99zM500.43 515.43h2.99v2.98h-2.99zM563.14 515.43h2.99v2.98h-2.99zM380.99 518.4h2.99v2.98h-2.99zM395.92 518.4h2.99v2.98h-2.99zM434.74 518.4h2.99v2.98h-2.99zM449.67 518.4h2.99v2.98h-2.99zM464.6 518.4h2.99v2.98h-2.99zM515.36 518.4h5.97v2.98h-5.97zM533.28 518.4h2.99v2.98h-2.99zM563.14 518.4h2.99v2.98h-2.99zM569.11 518.4h2.99v2.98h-2.99zM584.04 518.4h2.99v2.98h-2.99zM378 521.38h2.99v2.98h-2.99zM512.38 521.38h2.99v2.98h-2.99zM479.53 527.33h2.99v2.98h-2.99zM500.43 527.33h5.97v2.98h-5.97zM587.03 527.33h2.99v2.98h-2.99zM527.31 530.3h2.99v2.98h-2.99zM575.08 530.3h2.99v2.98h-2.99zM449.67 536.26h2.99v2.98h-2.99zM461.61 536.26h2.99v2.98h-2.99zM563.14 536.26h2.99v2.98h-2.99zM455.64 539.23h2.99v2.98h-2.99zM467.58 539.23h2.99v2.98h-2.99zM536.26 539.23h2.99v2.98h-2.99zM551.19 539.23h2.99v2.98h-2.99zM437.72 542.21h5.97v2.98h-5.97zM449.67 542.21h2.99v2.98h-2.99zM551.19 542.21h2.99v2.98h-2.99zM378 545.18h2.99v2.98h-2.99zM464.6 545.18h2.99v2.98h-2.99zM485.5 545.18h2.99v2.98h-2.99zM494.46 545.18h2.99v2.98h-2.99zM503.42 545.18h5.97v2.98h-5.97zM584.04 545.18h2.99v2.98h-2.99zM500.43 548.16h2.99v2.98h-2.99zM539.25 548.16h2.99v2.98h-2.99zM461.61 551.13h2.99v2.98h-2.99zM491.47 551.13h2.99v2.98h-2.99zM503.42 551.13h2.99v2.98h-2.99zM566.12 554.11h2.99v2.98h-2.99zM572.1 554.11h2.99v2.98h-2.99zM395.92 557.08h2.99v2.98h-2.99zM401.89 557.08h2.99v2.98h-2.99zM437.72 557.08h2.99v2.98h-2.99zM455.64 557.08h2.99v2.98h-2.99zM515.36 557.08h2.99v2.98h-2.99zM548.21 557.08h2.99v2.98h-2.99zM455.64 560.06h2.99v2.98h-2.99zM494.46 560.06h2.99v2.98h-2.99zM536.26 560.06h2.99v2.98h-2.99zM539.25 563.03h2.99v2.98h-2.99zM476.54 566.01h2.99v2.98h-2.99zM488.49 566.01h2.99v2.98h-2.99zM533.28 566.01h2.99v2.98h-2.99zM548.21 566.01h2.99v2.98h-2.99zM476.54 568.98h2.99v2.98h-2.99zM554.18 568.98h2.99v2.98h-2.99zM485.5 571.96h2.99v2.98h-2.99zM530.29 571.96h2.99v2.98h-2.99zM542.24 571.96h2.99v2.98h-2.99zM398.9 577.91h2.99v2.98h-2.99zM488.49 577.91h2.99v2.98h-2.99zM536.26 577.91h2.99v2.98h-2.99zM458.62 580.89h2.99v2.98h-2.99zM473.56 580.89h2.99v2.98h-2.99zM488.49 580.89h2.99v2.98h-2.99zM506.4 580.89h2.99v2.98h-2.99zM380.99 583.86h2.99v2.98h-2.99zM437.72 583.86h2.99v2.98h-2.99zM479.53 583.86h5.97v2.98h-5.97zM488.49 583.86h2.99v2.98h-2.99zM458.62 586.84h2.99v2.98h-2.99zM464.6 586.84h2.99v2.98h-2.99zM434.74 589.81h2.99v2.98h-2.99zM464.6 589.81h2.99v2.98h-2.99zM392.93 592.79h2.99v2.98h-2.99zM542.24 595.76h2.99v2.98h-2.99zM530.29 598.74h2.99v2.98h-2.99zM503.42 601.71h2.99v2.98h-2.99zM530.29 601.71h5.97v2.98h-5.97zM557.17 601.71h2.99v2.98h-2.99zM476.54 604.69h2.99v2.98h-2.99zM485.5 604.69h2.99v2.98h-2.99zM542.24 604.69h2.99v2.98h-2.99zM554.18 604.69h2.99v2.98h-2.99zM482.51 607.66h5.97v2.98h-5.97zM515.36 607.66h2.99v2.98h-2.99zM527.31 607.66h2.99v2.98h-2.99zM464.6 610.64h2.99v2.98h-2.99zM518.35 610.64h2.99v2.98h-2.99zM467.58 613.62h5.97v2.98h-5.97zM482.51 613.62h2.99v2.98h-2.99zM533.28 613.62h2.99v2.98h-2.99zM590.01 613.62h2.99v2.98h-2.99zM458.62 616.59h2.99v2.98h-2.99zM479.53 616.59h2.99v2.98h-2.99zM488.49 616.59h2.99v2.98h-2.99zM509.39 619.57h2.99v2.98h-2.99zM515.36 619.57h2.99v2.98h-2.99zM584.04 619.57h2.99v2.98h-2.99zM389.94 622.54h2.99v2.98h-2.99zM527.31 622.54h2.99v2.98h-2.99zM458.62 625.52h2.99v2.98h-2.99zM482.51 625.52h2.99v2.98h-2.99zM488.49 625.52h2.99v2.98h-2.99zM395.92 628.49h5.97v2.98h-5.97zM488.49 631.47h2.99v2.98h-2.99zM518.35 631.47h2.99v2.98h-2.99zM524.32 631.47h5.97v2.98h-5.97zM380.99 634.44h2.99v2.98h-2.99zM464.6 634.44h2.99v2.98h-2.99zM515.36 634.44h2.99v2.98h-2.99zM389.94 637.42h2.99v2.98h-2.99zM467.58 637.42h2.99v2.98h-2.99zM476.54 637.42h2.99v2.98h-2.99zM557.17 637.42h2.99v2.98h-2.99zM464.6 640.39h2.99v2.98h-2.99zM482.51 640.39h2.99v2.98h-2.99zM389.94 643.37h2.99v2.98h-2.99zM458.62 643.37h2.99v2.98h-2.99zM482.51 646.34h2.99v2.98h-2.99zM461.61 649.32h5.97v2.98h-5.97zM536.26 649.32h2.99v2.98h-2.99zM485.5 652.3h2.99v2.98h-2.99zM467.58 658.25h2.99v2.98h-2.99zM482.51 658.25h2.99v2.98h-2.99zM548.21 658.25h2.99v2.98h-2.99zM380.99 661.22h2.99v2.98h-2.99zM389.94 661.22h2.99v2.98h-2.99zM473.56 661.22h2.99v2.98h-2.99zM482.51 661.22h2.99v2.98h-2.99zM539.25 661.22h2.99v2.98h-2.99zM473.56 664.2h2.99v2.98h-2.99zM494.46 664.2h2.99v2.98h-2.99zM521.33 664.2h2.99v2.98h-2.99zM470.57 667.17h2.99v2.98h-2.99zM392.93 670.15h2.99v2.98h-2.99zM398.9 670.15h2.99v2.98h-2.99zM443.69 670.15h2.99v2.98h-2.99zM467.58 670.15h2.99v2.98h-2.99zM530.29 670.15h2.99v2.98h-2.99zM497.44 673.12h2.99v2.98h-2.99zM527.31 673.12h2.99v2.98h-2.99zM515.36 676.1h2.99v2.98h-2.99zM554.18 676.1h2.99v2.98h-2.99zM458.62 679.07h2.99v2.98h-2.99zM476.54 679.07h2.99v2.98h-2.99zM587.03 679.07h2.99v2.98h-2.99zM518.35 682.05h2.99v2.98h-2.99zM551.19 682.05h2.99v2.98h-2.99zM476.54 685.02h2.99v2.98h-2.99zM518.35 685.02h2.99v2.98h-2.99zM533.28 685.02h2.99v2.98h-2.99z"/><path fill="#efd725" d="M413.83 494.6h2.99v2.98h-2.99zM434.74 494.6h2.99v2.98h-2.99zM560.15 494.6h2.99v2.98h-2.99zM413.83 497.58h2.99v2.98h-2.99zM425.78 497.58h2.99v2.98h-2.99zM431.75 497.58h2.99v2.98h-2.99zM455.64 497.58h2.99v2.98h-2.99zM521.33 497.58h2.99v2.98h-2.99zM560.15 497.58h2.99v2.98h-2.99zM383.97 500.55h2.99v2.98h-2.99zM389.94 500.55h2.99v2.98h-2.99zM428.76 500.55h2.99v2.98h-2.99zM455.64 500.55h2.99v2.98h-2.99zM485.5 500.55h2.99v2.98h-2.99zM515.36 500.55h2.99v2.98h-2.99zM545.22 500.55h2.99v2.98h-2.99zM581.06 500.55h2.99v2.98h-2.99zM401.89 503.53h2.99v2.98h-2.99zM491.47 503.53h2.99v2.98h-2.99zM533.28 503.53h2.99v2.98h-2.99zM578.07 503.53h2.99v2.98h-2.99zM389.94 506.5h2.99v2.98h-2.99zM404.88 506.5h2.99v2.98h-2.99zM515.36 506.5h2.99v2.98h-2.99zM380.99 509.48h2.99v2.98h-2.99zM392.93 509.48h2.99v2.98h-2.99zM443.69 509.48h2.99v2.98h-2.99zM461.61 509.48h2.99v2.98h-2.99zM473.56 509.48h2.99v2.98h-2.99zM494.46 509.48h2.99v2.98h-2.99zM383.97 512.45h2.99v2.98h-2.99zM392.93 512.45h2.99v2.98h-2.99zM437.72 512.45h2.99v2.98h-2.99zM458.62 512.45h2.99v2.98h-2.99zM506.4 512.45h2.99v2.98h-2.99zM527.31 512.45h2.99v2.98h-2.99zM431.75 515.43h2.99v2.98h-2.99zM440.71 515.43h2.99v2.98h-2.99zM470.57 515.43h2.99v2.98h-2.99zM473.56 518.4h2.99v2.98h-2.99zM479.53 518.4h2.99v2.98h-2.99zM524.32 518.4h2.99v2.98h-2.99zM590.01 518.4h2.99v2.98h-2.99zM428.76 521.38h2.99v2.98h-2.99zM449.67 521.38h2.99v2.98h-2.99zM530.29 521.38h2.99v2.98h-2.99zM383.97 524.35h2.99v2.98h-2.99zM452.65 524.35h5.97v2.98h-5.97zM584.04 524.35h2.99v2.98h-2.99zM383.97 527.33h2.99v2.98h-2.99zM464.6 527.33h2.99v2.98h-2.99zM497.44 527.33h2.99v2.98h-2.99zM464.6 530.3h2.99v2.98h-2.99zM389.94 533.28h2.99v2.98h-2.99zM497.44 533.28h2.99v2.98h-2.99zM440.71 536.26h2.99v2.98h-2.99zM446.68 536.26h2.99v2.98h-2.99zM473.56 536.26h2.99v2.98h-2.99zM488.49 536.26h2.99v2.98h-2.99zM497.44 536.26h2.99v2.98h-2.99zM533.28 536.26h2.99v2.98h-2.99zM386.96 539.23h2.99v2.98h-2.99zM482.51 539.23h2.99v2.98h-2.99zM491.47 539.23h2.99v2.98h-2.99zM380.99 542.21h2.99v2.98h-2.99zM389.94 542.21h2.99v2.98h-2.99zM476.54 542.21h2.99v2.98h-2.99zM494.46 542.21h2.99v2.98h-2.99zM569.11 542.21h2.99v2.98h-2.99zM449.67 545.18h2.99v2.98h-2.99zM479.53 545.18h2.99v2.98h-2.99zM497.44 545.18h2.99v2.98h-2.99zM533.28 545.18h2.99v2.98h-2.99zM575.08 545.18h2.99v2.98h-2.99zM398.9 548.16h2.99v2.98h-2.99zM473.56 548.16h2.99v2.98h-2.99zM491.47 548.16h2.99v2.98h-2.99zM563.14 548.16h2.99v2.98h-2.99zM578.07 548.16h2.99v2.98h-2.99zM378 551.13h2.99v2.98h-2.99zM479.53 551.13h2.99v2.98h-2.99zM569.11 551.13h5.97v2.98h-5.97zM378 554.11h2.99v2.98h-2.99zM569.11 554.11h2.99v2.98h-2.99zM380.99 557.08h2.99v2.98h-2.99zM569.11 557.08h2.99v2.98h-2.99zM398.9 560.06h2.99v2.98h-2.99zM452.65 560.06h2.99v2.98h-2.99zM476.54 560.06h2.99v2.98h-2.99zM378 563.03h2.99v2.98h-2.99zM533.28 563.03h2.99v2.98h-2.99zM413.83 566.01h2.99v2.98h-2.99zM530.29 566.01h2.99v2.98h-2.99zM545.22 566.01h2.99v2.98h-2.99zM581.06 566.01h2.99v2.98h-2.99zM500.43 568.98h2.99v2.98h-2.99zM578.07 568.98h2.99v2.98h-2.99zM378 571.96h2.99v2.98h-2.99zM383.97 571.96h2.99v2.98h-2.99zM458.62 571.96h2.99v2.98h-2.99zM536.26 571.96h5.97v2.98h-5.97zM446.68 574.94h2.99v2.98h-2.99zM461.61 577.91h2.99v2.98h-2.99zM473.56 577.91h2.99v2.98h-2.99zM434.74 580.89h2.99v2.98h-2.99zM443.69 580.89h2.99v2.98h-2.99zM476.54 580.89h2.99v2.98h-2.99zM536.26 580.89h2.99v2.98h-2.99zM378 583.86h2.99v2.98h-2.99zM572.1 583.86h2.99v2.98h-2.99zM491.47 586.84h2.99v2.98h-2.99zM497.44 586.84h2.99v2.98h-2.99zM476.54 589.81h2.99v2.98h-2.99zM389.94 592.79h2.99v2.98h-2.99zM440.71 592.79h2.99v2.98h-2.99zM473.56 592.79h2.99v2.98h-2.99zM479.53 592.79h2.99v2.98h-2.99zM536.26 592.79h2.99v2.98h-2.99zM542.24 592.79h5.97v2.98h-5.97zM401.89 595.76h2.99v2.98h-2.99zM527.31 595.76h2.99v2.98h-2.99zM458.62 598.74h2.99v2.98h-2.99zM437.72 601.71h2.99v2.98h-2.99zM455.64 604.69h5.97v2.98h-5.97zM491.47 607.66h2.99v2.98h-2.99zM533.28 607.66h2.99v2.98h-2.99zM572.1 607.66h2.99v2.98h-2.99zM590.01 607.66h2.99v2.98h-2.99zM485.5 610.64h5.97v2.98h-5.97zM578.07 610.64h2.99v2.98h-2.99zM452.65 613.62h2.99v2.98h-2.99zM491.47 613.62h2.99v2.98h-2.99zM500.43 613.62h2.99v2.98h-2.99zM539.25 613.62h2.99v2.98h-2.99zM401.89 616.59h2.99v2.98h-2.99zM491.47 616.59h2.99v2.98h-2.99zM518.35 616.59h2.99v2.98h-2.99zM578.07 616.59h2.99v2.98h-2.99zM378 619.57h2.99v2.98h-2.99zM458.62 619.57h2.99v2.98h-2.99zM464.6 619.57h5.97v2.98h-5.97zM509.39 622.54h2.99v2.98h-2.99zM383.97 625.52h5.97v2.98h-5.97zM428.76 625.52h2.99v2.98h-2.99zM581.06 625.52h2.99v2.98h-2.99zM458.62 628.49h2.99v2.98h-2.99zM404.88 631.47h2.99v2.98h-2.99zM473.56 631.47h2.99v2.98h-2.99zM509.39 637.42h2.99v2.98h-2.99zM539.25 637.42h2.99v2.98h-2.99zM458.62 640.39h5.97v2.98h-5.97zM473.56 640.39h2.99v2.98h-2.99zM521.33 640.39h2.99v2.98h-2.99zM584.04 640.39h2.99v2.98h-2.99zM464.6 643.37h2.99v2.98h-2.99zM470.57 643.37h2.99v2.98h-2.99zM380.99 646.34h2.99v2.98h-2.99zM491.47 646.34h2.99v2.98h-2.99zM521.33 646.34h2.99v2.98h-2.99zM527.31 646.34h2.99v2.98h-2.99zM452.65 649.32h2.99v2.98h-2.99zM458.62 649.32h2.99v2.98h-2.99zM491.47 649.32h2.99v2.98h-2.99zM458.62 655.27h2.99v2.98h-2.99zM467.58 655.27h2.99v2.98h-2.99zM488.49 655.27h2.99v2.98h-2.99zM386.96 658.25h2.99v2.98h-2.99zM458.62 658.25h2.99v2.98h-2.99zM392.93 661.22h5.97v2.98h-5.97zM431.75 661.22h2.99v2.98h-2.99zM470.57 661.22h2.99v2.98h-2.99zM476.54 661.22h2.99v2.98h-2.99zM380.99 664.2h2.99v2.98h-2.99zM392.93 664.2h2.99v2.98h-2.99zM398.9 664.2h2.99v2.98h-2.99zM449.67 664.2h2.99v2.98h-2.99zM395.92 667.17h2.99v2.98h-2.99zM458.62 667.17h5.97v2.98h-5.97zM479.53 667.17h2.99v2.98h-2.99zM485.5 667.17h2.99v2.98h-2.99zM491.47 667.17h2.99v2.98h-2.99zM575.08 667.17h2.99v2.98h-2.99zM455.64 670.15h2.99v2.98h-2.99zM482.51 670.15h2.99v2.98h-2.99zM521.33 670.15h2.99v2.98h-2.99zM527.31 670.15h2.99v2.98h-2.99zM437.72 673.12h2.99v2.98h-2.99zM443.69 673.12h2.99v2.98h-2.99zM386.96 676.1h5.97v2.98h-5.97zM449.67 676.1h2.99v2.98h-2.99zM458.62 676.1h2.99v2.98h-2.99zM533.28 676.1h2.99v2.98h-2.99zM455.64 679.07h2.99v2.98h-2.99zM473.56 679.07h2.99v2.98h-2.99zM515.36 679.07h2.99v2.98h-2.99zM563.14 679.07h2.99v2.98h-2.99zM440.71 682.05h2.99v2.98h-2.99zM590.01 682.05h2.99v2.98h-2.99zM452.65 685.02h2.99v2.98h-2.99zM581.06 685.02h2.99v2.98h-2.99zM587.03 685.02h2.99v2.98h-2.99z"/><path fill="#f0d824" d="M389.94 494.6h5.97v2.98h-5.97zM554.18 494.6h2.99v2.98h-2.99zM434.74 497.58h2.99v2.98h-2.99zM446.68 497.58h2.99v2.98h-2.99zM554.18 497.58h2.99v2.98h-2.99zM584.04 497.58h2.99v2.98h-2.99zM401.89 500.55h2.99v2.98h-2.99zM410.85 500.55h2.99v2.98h-2.99zM452.65 500.55h2.99v2.98h-2.99zM422.79 503.53h2.99v2.98h-2.99zM500.43 503.53h2.99v2.98h-2.99zM461.61 506.5h2.99v2.98h-2.99zM398.9 509.48h2.99v2.98h-2.99zM476.54 509.48h2.99v2.98h-2.99zM515.36 509.48h2.99v2.98h-2.99zM524.32 509.48h2.99v2.98h-2.99zM542.24 509.48h2.99v2.98h-2.99zM446.68 512.45h2.99v2.98h-2.99zM464.6 512.45h2.99v2.98h-2.99zM473.56 512.45h2.99v2.98h-2.99zM530.29 512.45h2.99v2.98h-2.99zM437.72 515.43h2.99v2.98h-2.99zM461.61 515.43h2.99v2.98h-2.99zM467.58 515.43h2.99v2.98h-2.99zM446.68 518.4h2.99v2.98h-2.99zM452.65 518.4h5.97v2.98h-5.97zM527.31 518.4h2.99v2.98h-2.99zM476.54 521.38h2.99v2.98h-2.99zM461.61 524.35h2.99v2.98h-2.99zM392.93 527.33h2.99v2.98h-2.99zM458.62 527.33h2.99v2.98h-2.99zM476.54 527.33h2.99v2.98h-2.99zM455.64 530.3h2.99v2.98h-2.99zM500.43 530.3h2.99v2.98h-2.99zM452.65 533.28h2.99v2.98h-2.99zM464.6 533.28h2.99v2.98h-2.99zM578.07 533.28h2.99v2.98h-2.99zM383.97 536.26h2.99v2.98h-2.99zM452.65 536.26h8.96v2.98h-8.96zM503.42 536.26h2.99v2.98h-2.99zM524.32 536.26h2.99v2.98h-2.99zM407.86 539.23h2.99v2.98h-2.99zM476.54 539.23h2.99v2.98h-2.99zM464.6 542.21h2.99v2.98h-2.99zM488.49 545.18h2.99v2.98h-2.99zM467.58 548.16h2.99v2.98h-2.99zM485.5 548.16h2.99v2.98h-2.99zM428.76 551.13h2.99v2.98h-2.99zM440.71 551.13h2.99v2.98h-2.99zM506.4 551.13h2.99v2.98h-2.99zM401.89 554.11h2.99v2.98h-2.99zM434.74 554.11h2.99v2.98h-2.99zM440.71 554.11h2.99v2.98h-2.99zM392.93 557.08h2.99v2.98h-2.99zM419.81 557.08h2.99v2.98h-2.99zM458.62 557.08h2.99v2.98h-2.99zM488.49 557.08h2.99v2.98h-2.99zM380.99 560.06h2.99v2.98h-2.99zM401.89 560.06h5.97v2.98h-5.97zM488.49 560.06h5.97v2.98h-5.97zM569.11 560.06h2.99v2.98h-2.99zM473.56 563.03h2.99v2.98h-2.99zM482.51 563.03h2.99v2.98h-2.99zM479.53 566.01h2.99v2.98h-2.99zM494.46 566.01h2.99v2.98h-2.99zM380.99 568.98h2.99v2.98h-2.99zM455.64 568.98h2.99v2.98h-2.99zM491.47 568.98h2.99v2.98h-2.99zM539.25 568.98h2.99v2.98h-2.99zM584.04 568.98h2.99v2.98h-2.99zM395.92 571.96h2.99v2.98h-2.99zM449.67 571.96h2.99v2.98h-2.99zM473.56 571.96h5.97v2.98h-5.97zM584.04 571.96h2.99v2.98h-2.99zM479.53 574.94h2.99v2.98h-2.99zM539.25 574.94h2.99v2.98h-2.99zM587.03 574.94h2.99v2.98h-2.99zM446.68 577.91h2.99v2.98h-2.99zM455.64 577.91h2.99v2.98h-2.99zM500.43 577.91h2.99v2.98h-2.99zM539.25 577.91h2.99v2.98h-2.99zM566.12 577.91h2.99v2.98h-2.99zM587.03 577.91h2.99v2.98h-2.99zM398.9 580.89h2.99v2.98h-2.99zM428.76 580.89h2.99v2.98h-2.99zM449.67 580.89h2.99v2.98h-2.99zM539.25 580.89h2.99v2.98h-2.99zM566.12 580.89h5.97v2.98h-5.97zM590.01 580.89h2.99v2.98h-2.99zM446.68 583.86h2.99v2.98h-2.99zM485.5 583.86h2.99v2.98h-2.99zM512.38 583.86h2.99v2.98h-2.99zM389.94 589.81h2.99v2.98h-2.99zM449.67 589.81h2.99v2.98h-2.99zM491.47 589.81h2.99v2.98h-2.99zM572.1 589.81h2.99v2.98h-2.99zM386.96 592.79h2.99v2.98h-2.99zM437.72 595.76h5.97v2.98h-5.97zM455.64 595.76h5.97v2.98h-5.97zM452.65 598.74h2.99v2.98h-2.99zM464.6 601.71h2.99v2.98h-2.99zM539.25 601.71h2.99v2.98h-2.99zM545.22 601.71h2.99v2.98h-2.99zM536.26 604.69h2.99v2.98h-2.99zM380.99 607.66h2.99v2.98h-2.99zM467.58 607.66h2.99v2.98h-2.99zM536.26 607.66h2.99v2.98h-2.99zM458.62 610.64h2.99v2.98h-2.99zM494.46 610.64h2.99v2.98h-2.99zM458.62 613.62h2.99v2.98h-2.99zM497.44 613.62h2.99v2.98h-2.99zM419.81 616.59h2.99v2.98h-2.99zM473.56 616.59h2.99v2.98h-2.99zM485.5 616.59h2.99v2.98h-2.99zM542.24 616.59h2.99v2.98h-2.99zM590.01 616.59h2.99v2.98h-2.99zM461.61 619.57h2.99v2.98h-2.99zM590.01 619.57h2.99v2.98h-2.99zM536.26 625.52h2.99v2.98h-2.99zM378 628.49h2.99v2.98h-2.99zM434.74 628.49h2.99v2.98h-2.99zM476.54 628.49h2.99v2.98h-2.99zM440.71 631.47h2.99v2.98h-2.99zM530.29 631.47h2.99v2.98h-2.99zM437.72 634.44h2.99v2.98h-2.99zM458.62 634.44h5.97v2.98h-5.97zM503.42 634.44h2.99v2.98h-2.99zM530.29 634.44h2.99v2.98h-2.99zM380.99 637.42h2.99v2.98h-2.99zM378 640.39h2.99v2.98h-2.99zM389.94 640.39h2.99v2.98h-2.99zM473.56 643.37h2.99v2.98h-2.99zM548.21 643.37h2.99v2.98h-2.99zM389.94 646.34h5.97v2.98h-5.97zM446.68 646.34h2.99v2.98h-2.99zM452.65 646.34h2.99v2.98h-2.99zM461.61 646.34h2.99v2.98h-2.99zM476.54 649.32h2.99v2.98h-2.99zM518.35 649.32h2.99v2.98h-2.99zM458.62 652.3h8.96v2.98h-8.96zM446.68 655.27h2.99v2.98h-2.99zM464.6 658.25h2.99v2.98h-2.99zM467.58 661.22h2.99v2.98h-2.99zM386.96 664.2h2.99v2.98h-2.99zM446.68 664.2h2.99v2.98h-2.99zM479.53 664.2h2.99v2.98h-2.99zM467.58 667.17h2.99v2.98h-2.99zM395.92 670.15h2.99v2.98h-2.99zM446.68 673.12h2.99v2.98h-2.99zM380.99 676.1h2.99v2.98h-2.99zM443.69 676.1h2.99v2.98h-2.99zM452.65 676.1h2.99v2.98h-2.99zM497.44 676.1h2.99v2.98h-2.99zM527.31 676.1h2.99v2.98h-2.99zM395.92 679.07h2.99v2.98h-2.99zM378 682.05h2.99v2.98h-2.99zM512.38 682.05h2.99v2.98h-2.99zM587.03 682.05h2.99v2.98h-2.99zM419.81 685.02h2.99v2.98h-2.99zM437.72 685.02h2.99v2.98h-2.99z"/><path fill="#f0da24" d="M578.07 497.58h2.99v2.98h-2.99zM398.9 500.55h2.99v2.98h-2.99zM416.82 500.55h2.99v2.98h-2.99zM530.29 500.55h2.99v2.98h-2.99zM386.96 503.53h2.99v2.98h-2.99zM395.92 503.53h2.99v2.98h-2.99zM428.76 506.5h2.99v2.98h-2.99zM446.68 506.5h2.99v2.98h-2.99zM509.39 506.5h2.99v2.98h-2.99zM422.79 509.48h2.99v2.98h-2.99zM434.74 509.48h2.99v2.98h-2.99zM470.57 509.48h2.99v2.98h-2.99zM527.31 509.48h2.99v2.98h-2.99zM512.38 512.45h2.99v2.98h-2.99zM398.9 515.43h2.99v2.98h-2.99zM476.54 515.43h2.99v2.98h-2.99zM392.93 518.4h2.99v2.98h-2.99zM440.71 518.4h2.99v2.98h-2.99zM386.96 521.38h2.99v2.98h-2.99zM443.69 521.38h2.99v2.98h-2.99zM452.65 521.38h2.99v2.98h-2.99zM422.79 524.35h2.99v2.98h-2.99zM479.53 524.35h2.99v2.98h-2.99zM380.99 527.33h2.99v2.98h-2.99zM473.56 530.3h2.99v2.98h-2.99zM494.46 530.3h2.99v2.98h-2.99zM458.62 533.28h2.99v2.98h-2.99zM569.11 536.26h2.99v2.98h-2.99zM389.94 539.23h2.99v2.98h-2.99zM488.49 539.23h2.99v2.98h-2.99zM503.42 539.23h2.99v2.98h-2.99zM446.68 542.21h2.99v2.98h-2.99zM479.53 542.21h8.96v2.98h-8.96zM503.42 542.21h2.99v2.98h-2.99zM539.25 542.21h2.99v2.98h-2.99zM380.99 545.18h2.99v2.98h-2.99zM398.9 545.18h2.99v2.98h-2.99zM440.71 545.18h2.99v2.98h-2.99zM378 548.16h2.99v2.98h-2.99zM395.92 548.16h2.99v2.98h-2.99zM401.89 548.16h2.99v2.98h-2.99zM437.72 548.16h2.99v2.98h-2.99zM443.69 551.13h2.99v2.98h-2.99zM563.14 551.13h2.99v2.98h-2.99zM380.99 554.11h2.99v2.98h-2.99zM398.9 554.11h2.99v2.98h-2.99zM446.68 554.11h5.97v2.98h-5.97zM398.9 557.08h2.99v2.98h-2.99zM392.93 560.06h2.99v2.98h-2.99zM458.62 560.06h2.99v2.98h-2.99zM566.12 560.06h2.99v2.98h-2.99zM581.06 560.06h2.99v2.98h-2.99zM413.83 563.03h2.99v2.98h-2.99zM494.46 563.03h2.99v2.98h-2.99zM378 566.01h2.99v2.98h-2.99zM383.97 566.01h2.99v2.98h-2.99zM473.56 566.01h2.99v2.98h-2.99zM482.51 566.01h2.99v2.98h-2.99zM539.25 566.01h2.99v2.98h-2.99zM398.9 568.98h5.97v2.98h-5.97zM452.65 568.98h2.99v2.98h-2.99zM437.72 574.94h2.99v2.98h-2.99zM455.64 574.94h2.99v2.98h-2.99zM473.56 574.94h5.97v2.98h-5.97zM407.86 577.91h2.99v2.98h-2.99zM428.76 577.91h2.99v2.98h-2.99zM482.51 577.91h2.99v2.98h-2.99zM575.08 580.89h2.99v2.98h-2.99zM395.92 586.84h2.99v2.98h-2.99zM461.61 586.84h2.99v2.98h-2.99zM518.35 586.84h2.99v2.98h-2.99zM395.92 589.81h2.99v2.98h-2.99zM446.68 589.81h2.99v2.98h-2.99zM380.99 592.79h2.99v2.98h-2.99zM395.92 592.79h2.99v2.98h-2.99zM446.68 592.79h2.99v2.98h-2.99zM386.96 595.76h2.99v2.98h-2.99zM539.25 595.76h2.99v2.98h-2.99zM446.68 598.74h2.99v2.98h-2.99zM467.58 601.71h2.99v2.98h-2.99zM380.99 604.69h2.99v2.98h-2.99zM419.81 604.69h2.99v2.98h-2.99zM407.86 607.66h2.99v2.98h-2.99zM587.03 607.66h2.99v2.98h-2.99zM395.92 610.64h2.99v2.98h-2.99zM488.49 613.62h2.99v2.98h-2.99zM392.93 616.59h2.99v2.98h-2.99zM461.61 616.59h2.99v2.98h-2.99zM470.57 616.59h2.99v2.98h-2.99zM533.28 616.59h2.99v2.98h-2.99zM545.22 616.59h2.99v2.98h-2.99zM392.93 622.54h2.99v2.98h-2.99zM590.01 622.54h2.99v2.98h-2.99zM434.74 631.47h2.99v2.98h-2.99zM392.93 634.44h2.99v2.98h-2.99zM515.36 640.39h2.99v2.98h-2.99zM386.96 646.34h2.99v2.98h-2.99zM378 652.3h2.99v2.98h-2.99zM449.67 652.3h2.99v2.98h-2.99zM539.25 652.3h2.99v2.98h-2.99zM443.69 655.27h2.99v2.98h-2.99zM500.43 658.25h2.99v2.98h-2.99zM449.67 661.22h2.99v2.98h-2.99zM386.96 667.17h2.99v2.98h-2.99zM398.9 667.17h2.99v2.98h-2.99zM455.64 667.17h2.99v2.98h-2.99zM521.33 667.17h2.99v2.98h-2.99zM428.76 670.15h2.99v2.98h-2.99zM434.74 670.15h2.99v2.98h-2.99zM485.5 670.15h2.99v2.98h-2.99zM392.93 673.12h2.99v2.98h-2.99zM419.81 673.12h2.99v2.98h-2.99zM521.33 673.12h2.99v2.98h-2.99zM533.28 673.12h2.99v2.98h-2.99zM518.35 676.1h2.99v2.98h-2.99zM386.96 679.07h2.99v2.98h-2.99zM494.46 679.07h2.99v2.98h-2.99zM380.99 682.05h8.96v2.98h-8.96zM419.81 682.05h2.99v2.98h-2.99zM455.64 682.05h2.99v2.98h-2.99zM476.54 682.05h2.99v2.98h-2.99zM554.18 682.05h2.99v2.98h-2.99zM378 685.02h2.99v2.98h-2.99zM383.97 685.02h2.99v2.98h-2.99zM413.83 685.02h2.99v2.98h-2.99zM434.74 685.02h2.99v2.98h-2.99z"/><path fill="#f1db24" d="M590.01 494.6h2.99v2.98h-2.99zM410.85 497.58h2.99v2.98h-2.99zM419.81 497.58h2.99v2.98h-2.99zM428.76 497.58h2.99v2.98h-2.99zM422.79 500.55h2.99v2.98h-2.99zM512.38 500.55h2.99v2.98h-2.99zM407.86 503.53h2.99v2.98h-2.99zM485.5 503.53h2.99v2.98h-2.99zM395.92 506.5h2.99v2.98h-2.99zM527.31 506.5h2.99v2.98h-2.99zM434.74 512.45h2.99v2.98h-2.99zM476.54 512.45h2.99v2.98h-2.99zM482.51 512.45h2.99v2.98h-2.99zM401.89 515.43h2.99v2.98h-2.99zM434.74 515.43h2.99v2.98h-2.99zM530.29 515.43h2.99v2.98h-2.99zM425.78 521.38h2.99v2.98h-2.99zM440.71 521.38h2.99v2.98h-2.99zM446.68 521.38h2.99v2.98h-2.99zM440.71 524.35h2.99v2.98h-2.99zM449.67 524.35h2.99v2.98h-2.99zM461.61 527.33h2.99v2.98h-2.99zM392.93 530.3h2.99v2.98h-2.99zM476.54 530.3h2.99v2.98h-2.99zM461.61 533.28h2.99v2.98h-2.99zM482.51 533.28h2.99v2.98h-2.99zM494.46 533.28h2.99v2.98h-2.99zM464.6 536.26h2.99v2.98h-2.99zM476.54 536.26h2.99v2.98h-2.99zM404.88 539.23h2.99v2.98h-2.99zM479.53 539.23h2.99v2.98h-2.99zM506.4 539.23h2.99v2.98h-2.99zM404.88 542.21h2.99v2.98h-2.99zM413.83 542.21h2.99v2.98h-2.99zM572.1 542.21h2.99v2.98h-2.99zM395.92 545.18h2.99v2.98h-2.99zM410.85 545.18h2.99v2.98h-2.99zM527.31 545.18h2.99v2.98h-2.99zM380.99 548.16h2.99v2.98h-2.99zM455.64 548.16h2.99v2.98h-2.99zM482.51 548.16h2.99v2.98h-2.99zM566.12 548.16h2.99v2.98h-2.99zM398.9 551.13h5.97v2.98h-5.97zM482.51 551.13h2.99v2.98h-2.99zM449.67 557.08h2.99v2.98h-2.99zM407.86 560.06h2.99v2.98h-2.99zM443.69 560.06h2.99v2.98h-2.99zM461.61 560.06h5.97v2.98h-5.97zM389.94 563.03h2.99v2.98h-2.99zM479.53 563.03h2.99v2.98h-2.99zM398.9 566.01h2.99v2.98h-2.99zM404.88 566.01h2.99v2.98h-2.99zM452.65 566.01h2.99v2.98h-2.99zM446.68 568.98h2.99v2.98h-2.99zM401.89 571.96h2.99v2.98h-2.99zM446.68 571.96h2.99v2.98h-2.99zM479.53 571.96h5.97v2.98h-5.97zM488.49 571.96h2.99v2.98h-2.99zM503.42 571.96h2.99v2.98h-2.99zM407.86 574.94h2.99v2.98h-2.99zM452.65 574.94h2.99v2.98h-2.99zM503.42 574.94h2.99v2.98h-2.99zM434.74 577.91h2.99v2.98h-2.99zM449.67 577.91h2.99v2.98h-2.99zM512.38 577.91h2.99v2.98h-2.99zM401.89 580.89h2.99v2.98h-2.99zM413.83 580.89h2.99v2.98h-2.99zM479.53 580.89h2.99v2.98h-2.99zM386.96 583.86h2.99v2.98h-2.99zM407.86 583.86h2.99v2.98h-2.99zM428.76 583.86h2.99v2.98h-2.99zM380.99 586.84h2.99v2.98h-2.99zM386.96 586.84h2.99v2.98h-2.99zM467.58 586.84h2.99v2.98h-2.99zM383.97 589.81h2.99v2.98h-2.99zM392.93 589.81h2.99v2.98h-2.99zM398.9 589.81h2.99v2.98h-2.99zM410.85 589.81h2.99v2.98h-2.99zM440.71 589.81h5.97v2.98h-5.97zM458.62 589.81h2.99v2.98h-2.99zM479.53 589.81h2.99v2.98h-2.99zM378 592.79h2.99v2.98h-2.99zM443.69 592.79h2.99v2.98h-2.99zM482.51 592.79h2.99v2.98h-2.99zM497.44 592.79h2.99v2.98h-2.99zM389.94 595.76h2.99v2.98h-2.99zM398.9 595.76h2.99v2.98h-2.99zM425.78 601.71h2.99v2.98h-2.99zM440.71 601.71h2.99v2.98h-2.99zM458.62 601.71h2.99v2.98h-2.99zM434.74 604.69h2.99v2.98h-2.99zM494.46 607.66h2.99v2.98h-2.99zM446.68 610.64h2.99v2.98h-2.99zM470.57 610.64h2.99v2.98h-2.99zM491.47 610.64h2.99v2.98h-2.99zM383.97 613.62h2.99v2.98h-2.99zM389.94 613.62h2.99v2.98h-2.99zM449.67 613.62h2.99v2.98h-2.99zM494.46 613.62h2.99v2.98h-2.99zM497.44 616.59h2.99v2.98h-2.99zM530.29 619.57h2.99v2.98h-2.99zM434.74 622.54h2.99v2.98h-2.99zM500.43 622.54h2.99v2.98h-2.99zM485.5 628.49h5.97v2.98h-5.97zM392.93 631.47h2.99v2.98h-2.99zM458.62 631.47h2.99v2.98h-2.99zM455.64 634.44h2.99v2.98h-2.99zM524.32 634.44h2.99v2.98h-2.99zM449.67 637.42h2.99v2.98h-2.99zM461.61 637.42h2.99v2.98h-2.99zM380.99 640.39h2.99v2.98h-2.99zM530.29 640.39h2.99v2.98h-2.99zM392.93 643.37h2.99v2.98h-2.99zM407.86 643.37h2.99v2.98h-2.99zM479.53 646.34h2.99v2.98h-2.99zM378 649.32h2.99v2.98h-2.99zM383.97 652.3h2.99v2.98h-2.99zM488.49 652.3h5.97v2.98h-5.97zM395.92 658.25h2.99v2.98h-2.99zM461.61 658.25h2.99v2.98h-2.99zM476.54 658.25h2.99v2.98h-2.99zM378 661.22h2.99v2.98h-2.99zM401.89 661.22h2.99v2.98h-2.99zM446.68 661.22h2.99v2.98h-2.99zM461.61 661.22h2.99v2.98h-2.99zM422.79 664.2h2.99v2.98h-2.99zM378 667.17h2.99v2.98h-2.99zM383.97 667.17h2.99v2.98h-2.99zM389.94 667.17h2.99v2.98h-2.99zM524.32 667.17h2.99v2.98h-2.99zM386.96 670.15h2.99v2.98h-2.99zM449.67 670.15h2.99v2.98h-2.99zM476.54 670.15h2.99v2.98h-2.99zM395.92 673.12h2.99v2.98h-2.99zM551.19 676.1h2.99v2.98h-2.99zM378 679.07h2.99v2.98h-2.99zM410.85 679.07h2.99v2.98h-2.99zM437.72 679.07h2.99v2.98h-2.99zM554.18 679.07h2.99v2.98h-2.99zM389.94 682.05h2.99v2.98h-2.99zM380.99 685.02h2.99v2.98h-2.99zM401.89 685.02h2.99v2.98h-2.99zM416.82 685.02h2.99v2.98h-2.99zM470.57 685.02h2.99v2.98h-2.99z"/><path fill="#f2dc24" d="M557.17 494.6h2.99v2.98h-2.99zM395.92 497.58h2.99v2.98h-2.99zM551.19 497.58h2.99v2.98h-2.99zM392.93 503.53h2.99v2.98h-2.99zM398.9 503.53h2.99v2.98h-2.99zM431.75 503.53h2.99v2.98h-2.99zM452.65 503.53h2.99v2.98h-2.99zM392.93 506.5h2.99v2.98h-2.99zM431.75 506.5h2.99v2.98h-2.99zM378 509.48h2.99v2.98h-2.99zM389.94 512.45h2.99v2.98h-2.99zM428.76 512.45h2.99v2.98h-2.99zM479.53 512.45h2.99v2.98h-2.99zM395.92 515.43h2.99v2.98h-2.99zM437.72 521.38h2.99v2.98h-2.99zM455.64 521.38h2.99v2.98h-2.99zM524.32 521.38h2.99v2.98h-2.99zM389.94 524.35h2.99v2.98h-2.99zM428.76 524.35h2.99v2.98h-2.99zM458.62 524.35h2.99v2.98h-2.99zM428.76 527.33h2.99v2.98h-2.99zM497.44 530.3h2.99v2.98h-2.99zM581.06 530.3h2.99v2.98h-2.99zM491.47 536.26h2.99v2.98h-2.99zM485.5 539.23h2.99v2.98h-2.99zM378 542.21h2.99v2.98h-2.99zM407.86 542.21h2.99v2.98h-2.99zM497.44 542.21h2.99v2.98h-2.99zM389.94 545.18h2.99v2.98h-2.99zM401.89 545.18h2.99v2.98h-2.99zM446.68 545.18h2.99v2.98h-2.99zM446.68 548.16h2.99v2.98h-2.99zM584.04 548.16h2.99v2.98h-2.99zM386.96 551.13h2.99v2.98h-2.99zM407.86 551.13h2.99v2.98h-2.99zM389.94 554.11h5.97v2.98h-5.97zM404.88 554.11h2.99v2.98h-2.99zM452.65 554.11h2.99v2.98h-2.99zM383.97 563.03h2.99v2.98h-2.99zM401.89 563.03h2.99v2.98h-2.99zM491.47 563.03h2.99v2.98h-2.99zM458.62 568.98h2.99v2.98h-2.99zM455.64 571.96h2.99v2.98h-2.99zM551.19 571.96h2.99v2.98h-2.99zM383.97 574.94h2.99v2.98h-2.99zM434.74 574.94h2.99v2.98h-2.99zM506.4 574.94h2.99v2.98h-2.99zM431.75 577.91h2.99v2.98h-2.99zM410.85 580.89h2.99v2.98h-2.99zM437.72 580.89h2.99v2.98h-2.99zM455.64 580.89h2.99v2.98h-2.99zM458.62 583.86h2.99v2.98h-2.99zM383.97 586.84h2.99v2.98h-2.99zM428.76 586.84h2.99v2.98h-2.99zM488.49 586.84h2.99v2.98h-2.99zM380.99 589.81h2.99v2.98h-2.99zM455.64 592.79h2.99v2.98h-2.99zM488.49 592.79h2.99v2.98h-2.99zM500.43 592.79h2.99v2.98h-2.99zM378 595.76h2.99v2.98h-2.99zM392.93 595.76h2.99v2.98h-2.99zM449.67 595.76h5.97v2.98h-5.97zM497.44 595.76h2.99v2.98h-2.99zM530.29 595.76h2.99v2.98h-2.99zM378 598.74h2.99v2.98h-2.99zM452.65 601.71h2.99v2.98h-2.99zM422.79 604.69h2.99v2.98h-2.99zM425.78 607.66h2.99v2.98h-2.99zM455.64 607.66h2.99v2.98h-2.99zM479.53 607.66h2.99v2.98h-2.99zM452.65 610.64h2.99v2.98h-2.99zM482.51 610.64h2.99v2.98h-2.99zM404.88 613.62h2.99v2.98h-2.99zM464.6 613.62h2.99v2.98h-2.99zM443.69 616.59h2.99v2.98h-2.99zM494.46 616.59h2.99v2.98h-2.99zM428.76 619.57h2.99v2.98h-2.99zM470.57 619.57h2.99v2.98h-2.99zM425.78 622.54h2.99v2.98h-2.99zM437.72 622.54h2.99v2.98h-2.99zM455.64 622.54h2.99v2.98h-2.99zM389.94 625.52h2.99v2.98h-2.99zM401.89 625.52h2.99v2.98h-2.99zM431.75 625.52h2.99v2.98h-2.99zM455.64 625.52h2.99v2.98h-2.99zM431.75 628.49h2.99v2.98h-2.99zM398.9 631.47h2.99v2.98h-2.99zM431.75 631.47h2.99v2.98h-2.99zM437.72 631.47h2.99v2.98h-2.99zM521.33 634.44h2.99v2.98h-2.99zM407.86 637.42h2.99v2.98h-2.99zM440.71 637.42h2.99v2.98h-2.99zM455.64 637.42h2.99v2.98h-2.99zM464.6 637.42h2.99v2.98h-2.99zM521.33 637.42h2.99v2.98h-2.99zM383.97 640.39h5.97v2.98h-5.97zM560.15 640.39h2.99v2.98h-2.99zM378 643.37h2.99v2.98h-2.99zM410.85 643.37h2.99v2.98h-2.99zM443.69 643.37h2.99v2.98h-2.99zM524.32 643.37h2.99v2.98h-2.99zM378 646.34h2.99v2.98h-2.99zM380.99 649.32h2.99v2.98h-2.99zM449.67 649.32h2.99v2.98h-2.99zM590.01 649.32h2.99v2.98h-2.99zM455.64 652.3h2.99v2.98h-2.99zM434.74 655.27h2.99v2.98h-2.99zM461.61 655.27h2.99v2.98h-2.99zM536.26 655.27h2.99v2.98h-2.99zM378 658.25h2.99v2.98h-2.99zM401.89 658.25h2.99v2.98h-2.99zM431.75 658.25h5.97v2.98h-5.97zM452.65 661.22h2.99v2.98h-2.99zM422.79 667.17h2.99v2.98h-2.99zM422.79 670.15h5.97v2.98h-5.97zM440.71 670.15h2.99v2.98h-2.99zM378 673.12h2.99v2.98h-2.99zM422.79 673.12h2.99v2.98h-2.99zM440.71 673.12h2.99v2.98h-2.99zM455.64 673.12h2.99v2.98h-2.99zM437.72 676.1h2.99v2.98h-2.99zM392.93 679.07h2.99v2.98h-2.99zM398.9 679.07h2.99v2.98h-2.99zM416.82 679.07h2.99v2.98h-2.99zM392.93 682.05h2.99v2.98h-2.99zM437.72 682.05h2.99v2.98h-2.99zM392.93 685.02h2.99v2.98h-2.99zM410.85 685.02h2.99v2.98h-2.99z"/><path fill="#f2de24" d="M398.9 494.6h2.99v2.98h-2.99zM419.81 494.6h2.99v2.98h-2.99zM401.89 497.58h2.99v2.98h-2.99zM566.12 497.58h2.99v2.98h-2.99zM419.81 500.55h2.99v2.98h-2.99zM431.75 500.55h2.99v2.98h-2.99zM437.72 503.53h2.99v2.98h-2.99zM410.85 506.5h2.99v2.98h-2.99zM440.71 506.5h2.99v2.98h-2.99zM530.29 506.5h2.99v2.98h-2.99zM539.25 506.5h2.99v2.98h-2.99zM452.65 509.48h2.99v2.98h-2.99zM431.75 512.45h2.99v2.98h-2.99zM443.69 512.45h2.99v2.98h-2.99zM458.62 515.43h2.99v2.98h-2.99zM524.32 515.43h2.99v2.98h-2.99zM398.9 518.4h2.99v2.98h-2.99zM425.78 518.4h2.99v2.98h-2.99zM437.72 518.4h2.99v2.98h-2.99zM422.79 521.38h2.99v2.98h-2.99zM380.99 524.35h2.99v2.98h-2.99zM404.88 524.35h2.99v2.98h-2.99zM425.78 530.3h2.99v2.98h-2.99zM443.69 530.3h2.99v2.98h-2.99zM386.96 536.26h5.97v2.98h-5.97zM404.88 536.26h2.99v2.98h-2.99zM431.75 536.26h2.99v2.98h-2.99zM440.71 539.23h5.97v2.98h-5.97zM449.67 539.23h2.99v2.98h-2.99zM401.89 542.21h2.99v2.98h-2.99zM458.62 542.21h2.99v2.98h-2.99zM488.49 542.21h2.99v2.98h-2.99zM404.88 545.18h2.99v2.98h-2.99zM443.69 545.18h2.99v2.98h-2.99zM452.65 545.18h2.99v2.98h-2.99zM389.94 548.16h2.99v2.98h-2.99zM431.75 548.16h2.99v2.98h-2.99zM422.79 551.13h2.99v2.98h-2.99zM383.97 554.11h2.99v2.98h-2.99zM407.86 554.11h2.99v2.98h-2.99zM386.96 557.08h2.99v2.98h-2.99zM449.67 560.06h2.99v2.98h-2.99zM398.9 563.03h2.99v2.98h-2.99zM440.71 563.03h2.99v2.98h-2.99zM530.29 563.03h2.99v2.98h-2.99zM395.92 566.01h2.99v2.98h-2.99zM485.5 566.01h2.99v2.98h-2.99zM383.97 568.98h2.99v2.98h-2.99zM410.85 568.98h2.99v2.98h-2.99zM443.69 568.98h2.99v2.98h-2.99zM386.96 571.96h2.99v2.98h-2.99zM407.86 571.96h2.99v2.98h-2.99zM431.75 571.96h2.99v2.98h-2.99zM440.71 574.94h2.99v2.98h-2.99zM449.67 574.94h2.99v2.98h-2.99zM536.26 574.94h2.99v2.98h-2.99zM389.94 577.91h2.99v2.98h-2.99zM401.89 577.91h2.99v2.98h-2.99zM503.42 577.91h2.99v2.98h-2.99zM389.94 580.89h2.99v2.98h-2.99zM404.88 580.89h2.99v2.98h-2.99zM425.78 580.89h2.99v2.98h-2.99zM389.94 583.86h2.99v2.98h-2.99zM395.92 583.86h8.96v2.98h-8.96zM413.83 583.86h5.97v2.98h-5.97zM461.61 583.86h2.99v2.98h-2.99zM389.94 586.84h5.97v2.98h-5.97zM440.71 586.84h2.99v2.98h-2.99zM386.96 589.81h2.99v2.98h-2.99zM488.49 589.81h2.99v2.98h-2.99zM458.62 592.79h2.99v2.98h-2.99zM485.5 592.79h2.99v2.98h-2.99zM383.97 595.76h2.99v2.98h-2.99zM437.72 598.74h2.99v2.98h-2.99zM443.69 601.71h2.99v2.98h-2.99zM455.64 601.71h2.99v2.98h-2.99zM443.69 604.69h2.99v2.98h-2.99zM386.96 607.66h2.99v2.98h-2.99zM410.85 607.66h2.99v2.98h-2.99zM419.81 607.66h2.99v2.98h-2.99zM455.64 610.64h2.99v2.98h-2.99zM446.68 613.62h2.99v2.98h-2.99zM378 616.59h2.99v2.98h-2.99zM401.89 622.54h2.99v2.98h-2.99zM407.86 622.54h2.99v2.98h-2.99zM452.65 622.54h2.99v2.98h-2.99zM404.88 625.52h2.99v2.98h-2.99zM395.92 631.47h2.99v2.98h-2.99zM452.65 631.47h5.97v2.98h-5.97zM431.75 634.44h2.99v2.98h-2.99zM440.71 634.44h2.99v2.98h-2.99zM509.39 634.44h2.99v2.98h-2.99zM518.35 634.44h2.99v2.98h-2.99zM401.89 637.42h2.99v2.98h-2.99zM416.82 637.42h2.99v2.98h-2.99zM449.67 640.39h5.97v2.98h-5.97zM383.97 643.37h5.97v2.98h-5.97zM488.49 643.37h2.99v2.98h-2.99zM413.83 646.34h2.99v2.98h-2.99zM479.53 649.32h2.99v2.98h-2.99zM389.94 655.27h5.97v2.98h-5.97zM380.99 658.25h2.99v2.98h-2.99zM398.9 658.25h2.99v2.98h-2.99zM437.72 661.22h2.99v2.98h-2.99zM470.57 664.2h2.99v2.98h-2.99zM449.67 667.17h5.97v2.98h-5.97zM378 670.15h2.99v2.98h-2.99zM401.89 670.15h2.99v2.98h-2.99zM446.68 670.15h2.99v2.98h-2.99zM425.78 673.12h2.99v2.98h-2.99zM434.74 673.12h2.99v2.98h-2.99zM449.67 673.12h2.99v2.98h-2.99zM425.78 676.1h2.99v2.98h-2.99zM521.33 676.1h2.99v2.98h-2.99zM401.89 679.07h2.99v2.98h-2.99zM419.81 679.07h8.96v2.98h-8.96zM443.69 679.07h5.97v2.98h-5.97zM569.11 679.07h2.99v2.98h-2.99zM398.9 682.05h2.99v2.98h-2.99zM473.56 685.02h2.99v2.98h-2.99zM536.26 685.02h2.99v2.98h-2.99z"/><path fill="#f3df24" d="M401.89 494.6h2.99v2.98h-2.99zM416.82 494.6h2.99v2.98h-2.99zM422.79 494.6h2.99v2.98h-2.99zM386.96 497.58h2.99v2.98h-2.99zM395.92 500.55h2.99v2.98h-2.99zM413.83 500.55h2.99v2.98h-2.99zM425.78 503.53h2.99v2.98h-2.99zM434.74 506.5h2.99v2.98h-2.99zM395.92 509.48h2.99v2.98h-2.99zM431.75 509.48h2.99v2.98h-2.99zM440.71 509.48h2.99v2.98h-2.99zM479.53 509.48h2.99v2.98h-2.99zM455.64 512.45h2.99v2.98h-2.99zM461.61 512.45h2.99v2.98h-2.99zM425.78 515.43h2.99v2.98h-2.99zM482.51 515.43h2.99v2.98h-2.99zM401.89 518.4h2.99v2.98h-2.99zM410.85 518.4h2.99v2.98h-2.99zM428.76 518.4h2.99v2.98h-2.99zM398.9 521.38h2.99v2.98h-2.99zM431.75 521.38h2.99v2.98h-2.99zM392.93 524.35h2.99v2.98h-2.99zM401.89 524.35h2.99v2.98h-2.99zM425.78 524.35h2.99v2.98h-2.99zM467.58 527.33h2.99v2.98h-2.99zM440.71 530.3h2.99v2.98h-2.99zM392.93 533.28h2.99v2.98h-2.99zM378 539.23h2.99v2.98h-2.99zM383.97 539.23h2.99v2.98h-2.99zM395.92 542.21h2.99v2.98h-2.99zM491.47 542.21h2.99v2.98h-2.99zM428.76 548.16h2.99v2.98h-2.99zM389.94 551.13h5.97v2.98h-5.97zM431.75 551.13h2.99v2.98h-2.99zM449.67 551.13h2.99v2.98h-2.99zM563.14 554.11h2.99v2.98h-2.99zM410.85 557.08h2.99v2.98h-2.99zM440.71 557.08h5.97v2.98h-5.97zM386.96 560.06h2.99v2.98h-2.99zM404.88 563.03h5.97v2.98h-5.97zM449.67 563.03h2.99v2.98h-2.99zM476.54 563.03h2.99v2.98h-2.99zM386.96 566.01h2.99v2.98h-2.99zM392.93 566.01h2.99v2.98h-2.99zM413.83 568.98h2.99v2.98h-2.99zM440.71 571.96h5.97v2.98h-5.97zM428.76 574.94h5.97v2.98h-5.97zM404.88 577.91h2.99v2.98h-2.99zM485.5 577.91h2.99v2.98h-2.99zM440.71 580.89h2.99v2.98h-2.99zM434.74 583.86h2.99v2.98h-2.99zM443.69 583.86h2.99v2.98h-2.99zM455.64 583.86h2.99v2.98h-2.99zM437.72 586.84h2.99v2.98h-2.99zM401.89 589.81h2.99v2.98h-2.99zM383.97 592.79h2.99v2.98h-2.99zM437.72 592.79h2.99v2.98h-2.99zM449.67 592.79h2.99v2.98h-2.99zM380.99 595.76h2.99v2.98h-2.99zM395.92 595.76h2.99v2.98h-2.99zM446.68 595.76h2.99v2.98h-2.99zM389.94 598.74h2.99v2.98h-2.99zM440.71 598.74h2.99v2.98h-2.99zM401.89 601.71h2.99v2.98h-2.99zM431.75 601.71h2.99v2.98h-2.99zM407.86 604.69h2.99v2.98h-2.99zM440.71 604.69h2.99v2.98h-2.99zM533.28 604.69h2.99v2.98h-2.99zM378 607.66h2.99v2.98h-2.99zM404.88 607.66h2.99v2.98h-2.99zM378 610.64h2.99v2.98h-2.99zM398.9 613.62h2.99v2.98h-2.99zM419.81 613.62h2.99v2.98h-2.99zM440.71 613.62h2.99v2.98h-2.99zM455.64 613.62h2.99v2.98h-2.99zM404.88 616.59h2.99v2.98h-2.99zM428.76 616.59h2.99v2.98h-2.99zM446.68 616.59h2.99v2.98h-2.99zM464.6 616.59h2.99v2.98h-2.99zM389.94 619.57h2.99v2.98h-2.99zM443.69 619.57h2.99v2.98h-2.99zM449.67 619.57h2.99v2.98h-2.99zM416.82 622.54h2.99v2.98h-2.99zM428.76 622.54h2.99v2.98h-2.99zM533.28 622.54h2.99v2.98h-2.99zM380.99 625.52h2.99v2.98h-2.99zM383.97 628.49h5.97v2.98h-5.97zM428.76 628.49h2.99v2.98h-2.99zM452.65 628.49h2.99v2.98h-2.99zM378 631.47h5.97v2.98h-5.97zM476.54 631.47h5.97v2.98h-5.97zM383.97 634.44h2.99v2.98h-2.99zM434.74 634.44h2.99v2.98h-2.99zM383.97 637.42h2.99v2.98h-2.99zM398.9 637.42h2.99v2.98h-2.99zM515.36 637.42h2.99v2.98h-2.99zM404.88 640.39h2.99v2.98h-2.99zM446.68 640.39h2.99v2.98h-2.99zM434.74 643.37h2.99v2.98h-2.99zM395.92 646.34h2.99v2.98h-2.99zM389.94 649.32h2.99v2.98h-2.99zM437.72 652.3h2.99v2.98h-2.99zM398.9 655.27h2.99v2.98h-2.99zM452.65 655.27h2.99v2.98h-2.99zM392.93 658.25h2.99v2.98h-2.99zM419.81 661.22h2.99v2.98h-2.99zM428.76 661.22h2.99v2.98h-2.99zM443.69 661.22h2.99v2.98h-2.99zM458.62 661.22h2.99v2.98h-2.99zM464.6 661.22h2.99v2.98h-2.99zM401.89 664.2h2.99v2.98h-2.99zM458.62 664.2h5.97v2.98h-5.97zM467.58 664.2h2.99v2.98h-2.99zM482.51 664.2h2.99v2.98h-2.99zM428.76 667.17h2.99v2.98h-2.99zM434.74 667.17h2.99v2.98h-2.99zM383.97 673.12h2.99v2.98h-2.99zM407.86 673.12h2.99v2.98h-2.99zM416.82 673.12h2.99v2.98h-2.99zM378 676.1h2.99v2.98h-2.99zM383.97 676.1h2.99v2.98h-2.99zM392.93 676.1h2.99v2.98h-2.99zM404.88 679.07h2.99v2.98h-2.99zM428.76 679.07h5.97v2.98h-5.97zM440.71 679.07h2.99v2.98h-2.99zM449.67 679.07h2.99v2.98h-2.99zM395.92 682.05h2.99v2.98h-2.99zM404.88 682.05h2.99v2.98h-2.99zM389.94 685.02h2.99v2.98h-2.99zM443.69 685.02h2.99v2.98h-2.99z"/><path fill="#f3e124" d="M404.88 500.55h2.99v2.98h-2.99zM437.72 500.55h2.99v2.98h-2.99zM413.83 503.53h2.99v2.98h-2.99zM428.76 503.53h2.99v2.98h-2.99zM416.82 506.5h2.99v2.98h-2.99zM422.79 506.5h5.97v2.98h-5.97zM404.88 509.48h2.99v2.98h-2.99zM401.89 512.45h5.97v2.98h-5.97zM410.85 512.45h2.99v2.98h-2.99zM419.81 512.45h2.99v2.98h-2.99zM419.81 515.43h2.99v2.98h-2.99zM413.83 518.4h2.99v2.98h-2.99zM422.79 518.4h2.99v2.98h-2.99zM386.96 524.35h2.99v2.98h-2.99zM386.96 527.33h2.99v2.98h-2.99zM404.88 527.33h2.99v2.98h-2.99zM425.78 527.33h2.99v2.98h-2.99zM413.83 530.3h2.99v2.98h-2.99zM449.67 530.3h5.97v2.98h-5.97zM491.47 530.3h2.99v2.98h-2.99zM413.83 533.28h2.99v2.98h-2.99zM437.72 536.26h2.99v2.98h-2.99zM380.99 539.23h2.99v2.98h-2.99zM401.89 539.23h2.99v2.98h-2.99zM413.83 539.23h2.99v2.98h-2.99zM452.65 539.23h2.99v2.98h-2.99zM458.62 539.23h2.99v2.98h-2.99zM494.46 539.23h2.99v2.98h-2.99zM434.74 542.21h2.99v2.98h-2.99zM500.43 542.21h2.99v2.98h-2.99zM410.85 548.16h2.99v2.98h-2.99zM434.74 548.16h2.99v2.98h-2.99zM443.69 548.16h2.99v2.98h-2.99zM452.65 548.16h2.99v2.98h-2.99zM458.62 548.16h2.99v2.98h-2.99zM437.72 551.13h2.99v2.98h-2.99zM386.96 554.11h2.99v2.98h-2.99zM416.82 554.11h2.99v2.98h-2.99zM413.83 557.08h5.97v2.98h-5.97zM410.85 560.06h2.99v2.98h-2.99zM479.53 560.06h2.99v2.98h-2.99zM452.65 563.03h2.99v2.98h-2.99zM416.82 566.01h2.99v2.98h-2.99zM443.69 566.01h2.99v2.98h-2.99zM378 568.98h2.99v2.98h-2.99zM428.76 568.98h2.99v2.98h-2.99zM479.53 568.98h2.99v2.98h-2.99zM404.88 571.96h2.99v2.98h-2.99zM395.92 574.94h5.97v2.98h-5.97zM452.65 577.91h2.99v2.98h-2.99zM386.96 580.89h2.99v2.98h-2.99zM392.93 580.89h2.99v2.98h-2.99zM461.61 580.89h2.99v2.98h-2.99zM452.65 583.86h2.99v2.98h-2.99zM378 586.84h2.99v2.98h-2.99zM404.88 586.84h2.99v2.98h-2.99zM443.69 586.84h2.99v2.98h-2.99zM452.65 586.84h2.99v2.98h-2.99zM485.5 586.84h2.99v2.98h-2.99zM428.76 589.81h2.99v2.98h-2.99zM452.65 589.81h2.99v2.98h-2.99zM434.74 595.76h2.99v2.98h-2.99zM392.93 598.74h5.97v2.98h-5.97zM404.88 598.74h2.99v2.98h-2.99zM413.83 598.74h2.99v2.98h-2.99zM386.96 601.71h5.97v2.98h-5.97zM404.88 601.71h2.99v2.98h-2.99zM542.24 601.71h2.99v2.98h-2.99zM446.68 604.69h2.99v2.98h-2.99zM383.97 607.66h2.99v2.98h-2.99zM431.75 607.66h2.99v2.98h-2.99zM437.72 607.66h2.99v2.98h-2.99zM401.89 610.64h2.99v2.98h-2.99zM449.67 610.64h2.99v2.98h-2.99zM479.53 610.64h2.99v2.98h-2.99zM479.53 613.62h2.99v2.98h-2.99zM389.94 616.59h2.99v2.98h-2.99zM395.92 616.59h2.99v2.98h-2.99zM422.79 616.59h2.99v2.98h-2.99zM434.74 616.59h2.99v2.98h-2.99zM440.71 616.59h2.99v2.98h-2.99zM467.58 616.59h2.99v2.98h-2.99zM383.97 619.57h2.99v2.98h-2.99zM440.71 619.57h2.99v2.98h-2.99zM446.68 619.57h2.99v2.98h-2.99zM452.65 619.57h2.99v2.98h-2.99zM419.81 622.54h5.97v2.98h-5.97zM392.93 625.52h2.99v2.98h-2.99zM446.68 625.52h5.97v2.98h-5.97zM455.64 628.49h2.99v2.98h-2.99zM401.89 634.44h5.97v2.98h-5.97zM443.69 634.44h2.99v2.98h-2.99zM419.81 637.42h2.99v2.98h-2.99zM452.65 637.42h2.99v2.98h-2.99zM392.93 640.39h2.99v2.98h-2.99zM467.58 640.39h2.99v2.98h-2.99zM395.92 643.37h2.99v2.98h-2.99zM434.74 646.34h2.99v2.98h-2.99zM443.69 646.34h2.99v2.98h-2.99zM449.67 646.34h2.99v2.98h-2.99zM386.96 649.32h2.99v2.98h-2.99zM443.69 649.32h2.99v2.98h-2.99zM488.49 649.32h2.99v2.98h-2.99zM386.96 652.3h2.99v2.98h-2.99zM431.75 652.3h2.99v2.98h-2.99zM443.69 652.3h5.97v2.98h-5.97zM378 655.27h2.99v2.98h-2.99zM437.72 658.25h2.99v2.98h-2.99zM443.69 658.25h2.99v2.98h-2.99zM449.67 658.25h2.99v2.98h-2.99zM425.78 664.2h2.99v2.98h-2.99zM434.74 664.2h2.99v2.98h-2.99zM452.65 664.2h2.99v2.98h-2.99zM380.99 673.12h2.99v2.98h-2.99zM518.35 673.12h2.99v2.98h-2.99zM446.68 676.1h2.99v2.98h-2.99zM410.85 682.05h2.99v2.98h-2.99zM422.79 682.05h2.99v2.98h-2.99zM431.75 682.05h2.99v2.98h-2.99zM452.65 682.05h2.99v2.98h-2.99z"/><path fill="#f4e224" d="M407.86 494.6h2.99v2.98h-2.99zM386.96 500.55h2.99v2.98h-2.99zM404.88 503.53h2.99v2.98h-2.99zM413.83 512.45h2.99v2.98h-2.99zM416.82 515.43h2.99v2.98h-2.99zM431.75 518.4h2.99v2.98h-2.99zM410.85 521.38h2.99v2.98h-2.99zM440.71 527.33h2.99v2.98h-2.99zM449.67 527.33h5.97v2.98h-5.97zM401.89 530.3h2.99v2.98h-2.99zM428.76 530.3h5.97v2.98h-5.97zM446.68 530.3h2.99v2.98h-2.99zM443.69 533.28h2.99v2.98h-2.99zM449.67 533.28h2.99v2.98h-2.99zM425.78 536.26h2.99v2.98h-2.99zM425.78 539.23h2.99v2.98h-2.99zM455.64 542.21h2.99v2.98h-2.99zM434.74 545.18h2.99v2.98h-2.99zM440.71 548.16h2.99v2.98h-2.99zM383.97 551.13h2.99v2.98h-2.99zM404.88 551.13h2.99v2.98h-2.99zM455.64 551.13h2.99v2.98h-2.99zM437.72 554.11h2.99v2.98h-2.99zM446.68 560.06h2.99v2.98h-2.99zM419.81 563.03h2.99v2.98h-2.99zM434.74 563.03h2.99v2.98h-2.99zM446.68 563.03h2.99v2.98h-2.99zM434.74 566.01h2.99v2.98h-2.99zM389.94 568.98h2.99v2.98h-2.99zM395.92 568.98h2.99v2.98h-2.99zM404.88 568.98h2.99v2.98h-2.99zM434.74 568.98h2.99v2.98h-2.99zM449.67 568.98h2.99v2.98h-2.99zM389.94 571.96h2.99v2.98h-2.99zM428.76 571.96h2.99v2.98h-2.99zM434.74 571.96h2.99v2.98h-2.99zM386.96 574.94h2.99v2.98h-2.99zM413.83 577.91h2.99v2.98h-2.99zM395.92 580.89h2.99v2.98h-2.99zM392.93 583.86h2.99v2.98h-2.99zM440.71 583.86h2.99v2.98h-2.99zM425.78 586.84h2.99v2.98h-2.99zM378 589.81h2.99v2.98h-2.99zM413.83 589.81h2.99v2.98h-2.99zM431.75 589.81h2.99v2.98h-2.99zM461.61 589.81h2.99v2.98h-2.99zM410.85 595.76h2.99v2.98h-2.99zM443.69 595.76h2.99v2.98h-2.99zM419.81 598.74h2.99v2.98h-2.99zM434.74 598.74h2.99v2.98h-2.99zM383.97 601.71h2.99v2.98h-2.99zM434.74 601.71h2.99v2.98h-2.99zM383.97 604.69h2.99v2.98h-2.99zM404.88 604.69h2.99v2.98h-2.99zM425.78 604.69h5.97v2.98h-5.97zM443.69 607.66h2.99v2.98h-2.99zM452.65 607.66h2.99v2.98h-2.99zM422.79 610.64h2.99v2.98h-2.99zM434.74 610.64h2.99v2.98h-2.99zM378 613.62h2.99v2.98h-2.99zM392.93 613.62h2.99v2.98h-2.99zM422.79 619.57h2.99v2.98h-2.99zM455.64 619.57h2.99v2.98h-2.99zM434.74 625.52h2.99v2.98h-2.99zM416.82 634.44h2.99v2.98h-2.99zM452.65 634.44h2.99v2.98h-2.99zM443.69 637.42h2.99v2.98h-2.99zM458.62 637.42h2.99v2.98h-2.99zM380.99 643.37h2.99v2.98h-2.99zM440.71 646.34h2.99v2.98h-2.99zM395.92 649.32h2.99v2.98h-2.99zM431.75 649.32h2.99v2.98h-2.99zM389.94 652.3h5.97v2.98h-5.97zM431.75 655.27h2.99v2.98h-2.99zM437.72 655.27h2.99v2.98h-2.99zM383.97 658.25h2.99v2.98h-2.99zM446.68 658.25h2.99v2.98h-2.99zM455.64 658.25h2.99v2.98h-2.99zM422.79 661.22h2.99v2.98h-2.99zM440.71 661.22h2.99v2.98h-2.99zM383.97 664.2h2.99v2.98h-2.99zM443.69 667.17h2.99v2.98h-2.99zM431.75 670.15h2.99v2.98h-2.99zM386.96 673.12h2.99v2.98h-2.99zM428.76 673.12h2.99v2.98h-2.99zM398.9 676.1h2.99v2.98h-2.99zM407.86 676.1h2.99v2.98h-2.99z"/><path fill="#f5e324" d="M404.88 494.6h2.99v2.98h-2.99zM404.88 497.58h5.97v2.98h-5.97zM416.82 497.58h2.99v2.98h-2.99zM410.85 503.53h2.99v2.98h-2.99zM386.96 506.5h2.99v2.98h-2.99zM413.83 506.5h2.99v2.98h-2.99zM407.86 509.48h2.99v2.98h-2.99zM413.83 509.48h2.99v2.98h-2.99zM437.72 509.48h2.99v2.98h-2.99zM422.79 512.45h2.99v2.98h-2.99zM440.71 512.45h2.99v2.98h-2.99zM413.83 515.43h2.99v2.98h-2.99zM407.86 524.35h2.99v2.98h-2.99zM431.75 524.35h2.99v2.98h-2.99zM443.69 524.35h2.99v2.98h-2.99zM389.94 527.33h2.99v2.98h-2.99zM491.47 527.33h2.99v2.98h-2.99zM422.79 530.3h2.99v2.98h-2.99zM434.74 530.3h5.97v2.98h-5.97zM404.88 533.28h2.99v2.98h-2.99zM416.82 533.28h2.99v2.98h-2.99zM446.68 533.28h2.99v2.98h-2.99zM437.72 539.23h2.99v2.98h-2.99zM464.6 539.23h2.99v2.98h-2.99zM392.93 548.16h2.99v2.98h-2.99zM407.86 548.16h2.99v2.98h-2.99zM443.69 554.11h2.99v2.98h-2.99zM404.88 557.08h2.99v2.98h-2.99zM422.79 557.08h2.99v2.98h-2.99zM389.94 560.06h2.99v2.98h-2.99zM434.74 560.06h2.99v2.98h-2.99zM482.51 568.98h2.99v2.98h-2.99zM392.93 571.96h2.99v2.98h-2.99zM398.9 571.96h2.99v2.98h-2.99zM437.72 571.96h2.99v2.98h-2.99zM401.89 574.94h5.97v2.98h-5.97zM425.78 577.91h2.99v2.98h-2.99zM407.86 580.89h2.99v2.98h-2.99zM416.82 580.89h2.99v2.98h-2.99zM383.97 583.86h2.99v2.98h-2.99zM404.88 583.86h2.99v2.98h-2.99zM419.81 583.86h2.99v2.98h-2.99zM437.72 589.81h2.99v2.98h-2.99zM485.5 589.81h2.99v2.98h-2.99zM401.89 592.79h2.99v2.98h-2.99zM452.65 592.79h2.99v2.98h-2.99zM386.96 598.74h2.99v2.98h-2.99zM407.86 598.74h2.99v2.98h-2.99zM431.75 598.74h2.99v2.98h-2.99zM380.99 601.71h2.99v2.98h-2.99zM446.68 601.71h2.99v2.98h-2.99zM530.29 604.69h2.99v2.98h-2.99zM380.99 610.64h2.99v2.98h-2.99zM386.96 610.64h2.99v2.98h-2.99zM395.92 613.62h2.99v2.98h-2.99zM452.65 616.59h2.99v2.98h-2.99zM425.78 619.57h2.99v2.98h-2.99zM431.75 619.57h2.99v2.98h-2.99zM398.9 622.54h2.99v2.98h-2.99zM431.75 622.54h2.99v2.98h-2.99zM425.78 625.52h2.99v2.98h-2.99zM404.88 628.49h2.99v2.98h-2.99zM383.97 631.47h2.99v2.98h-2.99zM386.96 634.44h2.99v2.98h-2.99zM410.85 637.42h2.99v2.98h-2.99zM431.75 637.42h2.99v2.98h-2.99zM437.72 637.42h2.99v2.98h-2.99zM416.82 640.39h2.99v2.98h-2.99zM428.76 640.39h2.99v2.98h-2.99zM440.71 643.37h2.99v2.98h-2.99zM383.97 646.34h2.99v2.98h-2.99zM416.82 649.32h2.99v2.98h-2.99zM440.71 649.32h2.99v2.98h-2.99zM446.68 649.32h2.99v2.98h-2.99zM380.99 652.3h2.99v2.98h-2.99zM428.76 658.25h2.99v2.98h-2.99zM383.97 661.22h2.99v2.98h-2.99zM398.9 661.22h2.99v2.98h-2.99zM440.71 664.2h2.99v2.98h-2.99zM455.64 664.2h2.99v2.98h-2.99zM401.89 667.17h2.99v2.98h-2.99zM419.81 670.15h2.99v2.98h-2.99zM431.75 673.12h2.99v2.98h-2.99zM395.92 676.1h2.99v2.98h-2.99zM401.89 676.1h2.99v2.98h-2.99zM416.82 676.1h2.99v2.98h-2.99zM434.74 676.1h2.99v2.98h-2.99zM401.89 682.05h2.99v2.98h-2.99zM449.67 682.05h2.99v2.98h-2.99zM386.96 685.02h2.99v2.98h-2.99zM407.86 685.02h2.99v2.98h-2.99zM422.79 685.02h2.99v2.98h-2.99z"/><path fill="#f5e524" d="M440.71 503.53h2.99v2.98h-2.99zM455.64 503.53h2.99v2.98h-2.99zM473.56 506.5h2.99v2.98h-2.99zM425.78 509.48h2.99v2.98h-2.99zM416.82 512.45h2.99v2.98h-2.99zM425.78 512.45h2.99v2.98h-2.99zM410.85 515.43h2.99v2.98h-2.99zM419.81 518.4h2.99v2.98h-2.99zM419.81 521.38h2.99v2.98h-2.99zM395.92 524.35h2.99v2.98h-2.99zM434.74 524.35h5.97v2.98h-5.97zM446.68 524.35h2.99v2.98h-2.99zM395.92 527.33h2.99v2.98h-2.99zM431.75 527.33h2.99v2.98h-2.99zM395.92 530.3h2.99v2.98h-2.99zM407.86 533.28h5.97v2.98h-5.97zM431.75 533.28h2.99v2.98h-2.99zM398.9 536.26h2.99v2.98h-2.99zM413.83 536.26h2.99v2.98h-2.99zM398.9 539.23h2.99v2.98h-2.99zM398.9 542.21h2.99v2.98h-2.99zM392.93 545.18h2.99v2.98h-2.99zM428.76 545.18h5.97v2.98h-5.97zM419.81 548.16h2.99v2.98h-2.99zM425.78 551.13h2.99v2.98h-2.99zM446.68 551.13h2.99v2.98h-2.99zM383.97 557.08h2.99v2.98h-2.99zM407.86 557.08h2.99v2.98h-2.99zM446.68 557.08h2.99v2.98h-2.99zM416.82 560.06h2.99v2.98h-2.99zM386.96 563.03h2.99v2.98h-2.99zM410.85 563.03h2.99v2.98h-2.99zM401.89 566.01h2.99v2.98h-2.99zM410.85 566.01h2.99v2.98h-2.99zM416.82 568.98h2.99v2.98h-2.99zM425.78 568.98h2.99v2.98h-2.99zM485.5 568.98h2.99v2.98h-2.99zM389.94 574.94h5.97v2.98h-5.97zM425.78 574.94h2.99v2.98h-2.99zM392.93 577.91h5.97v2.98h-5.97zM452.65 580.89h2.99v2.98h-2.99zM398.9 586.84h2.99v2.98h-2.99zM413.83 586.84h2.99v2.98h-2.99zM455.64 589.81h2.99v2.98h-2.99zM398.9 592.79h2.99v2.98h-2.99zM410.85 592.79h2.99v2.98h-2.99zM431.75 592.79h2.99v2.98h-2.99zM404.88 595.76h5.97v2.98h-5.97zM428.76 595.76h5.97v2.98h-5.97zM416.82 598.74h2.99v2.98h-2.99zM378 601.71h2.99v2.98h-2.99zM407.86 601.71h2.99v2.98h-2.99zM413.83 604.69h5.97v2.98h-5.97zM437.72 604.69h2.99v2.98h-2.99zM449.67 604.69h2.99v2.98h-2.99zM395.92 607.66h2.99v2.98h-2.99zM446.68 607.66h2.99v2.98h-2.99zM416.82 610.64h2.99v2.98h-2.99zM431.75 610.64h2.99v2.98h-2.99zM431.75 613.62h2.99v2.98h-2.99zM398.9 619.57h8.96v2.98h-8.96zM434.74 619.57h5.97v2.98h-5.97zM437.72 628.49h2.99v2.98h-2.99zM449.67 628.49h2.99v2.98h-2.99zM386.96 631.47h5.97v2.98h-5.97zM416.82 631.47h2.99v2.98h-2.99zM449.67 631.47h2.99v2.98h-2.99zM389.94 634.44h2.99v2.98h-2.99zM398.9 634.44h2.99v2.98h-2.99zM446.68 634.44h5.97v2.98h-5.97zM386.96 637.42h2.99v2.98h-2.99zM392.93 637.42h5.97v2.98h-5.97zM470.57 637.42h2.99v2.98h-2.99zM395.92 640.39h2.99v2.98h-2.99zM434.74 649.32h2.99v2.98h-2.99zM395.92 652.3h2.99v2.98h-2.99zM404.88 652.3h2.99v2.98h-2.99zM401.89 655.27h2.99v2.98h-2.99zM440.71 655.27h2.99v2.98h-2.99zM449.67 655.27h2.99v2.98h-2.99zM455.64 655.27h2.99v2.98h-2.99zM416.82 658.25h2.99v2.98h-2.99zM422.79 658.25h2.99v2.98h-2.99zM452.65 658.25h2.99v2.98h-2.99zM407.86 661.22h2.99v2.98h-2.99zM419.81 664.2h2.99v2.98h-2.99zM431.75 664.2h2.99v2.98h-2.99zM443.69 664.2h2.99v2.98h-2.99zM380.99 667.17h2.99v2.98h-2.99zM407.86 667.17h2.99v2.98h-2.99zM425.78 667.17h2.99v2.98h-2.99zM407.86 670.15h2.99v2.98h-2.99zM437.72 670.15h2.99v2.98h-2.99zM410.85 673.12h2.99v2.98h-2.99zM431.75 676.1h2.99v2.98h-2.99zM440.71 676.1h2.99v2.98h-2.99zM407.86 679.07h2.99v2.98h-2.99zM425.78 682.05h2.99v2.98h-2.99zM434.74 682.05h2.99v2.98h-2.99zM431.75 685.02h2.99v2.98h-2.99z"/><path fill="#f6e624" d="M398.9 497.58h2.99v2.98h-2.99zM404.88 515.43h2.99v2.98h-2.99zM422.79 515.43h2.99v2.98h-2.99zM416.82 518.4h2.99v2.98h-2.99zM407.86 521.38h2.99v2.98h-2.99zM434.74 521.38h2.99v2.98h-2.99zM410.85 524.35h2.99v2.98h-2.99zM422.79 527.33h2.99v2.98h-2.99zM434.74 527.33h2.99v2.98h-2.99zM398.9 530.3h2.99v2.98h-2.99zM407.86 530.3h2.99v2.98h-2.99zM419.81 533.28h2.99v2.98h-2.99zM491.47 533.28h2.99v2.98h-2.99zM410.85 536.26h2.99v2.98h-2.99zM416.82 539.23h2.99v2.98h-2.99zM416.82 542.21h2.99v2.98h-2.99zM407.86 545.18h2.99v2.98h-2.99zM413.83 545.18h2.99v2.98h-2.99zM419.81 545.18h2.99v2.98h-2.99zM404.88 548.16h2.99v2.98h-2.99zM425.78 557.08h2.99v2.98h-2.99zM431.75 557.08h2.99v2.98h-2.99zM383.97 560.06h2.99v2.98h-2.99zM413.83 560.06h2.99v2.98h-2.99zM422.79 560.06h2.99v2.98h-2.99zM437.72 560.06h5.97v2.98h-5.97zM422.79 563.03h2.99v2.98h-2.99zM386.96 568.98h2.99v2.98h-2.99zM419.81 568.98h2.99v2.98h-2.99zM431.75 568.98h2.99v2.98h-2.99zM419.81 571.96h2.99v2.98h-2.99zM455.64 586.84h2.99v2.98h-2.99zM482.51 589.81h2.99v2.98h-2.99zM404.88 592.79h2.99v2.98h-2.99zM401.89 598.74h2.99v2.98h-2.99zM378 604.69h2.99v2.98h-2.99zM431.75 604.69h2.99v2.98h-2.99zM440.71 607.66h2.99v2.98h-2.99zM449.67 607.66h2.99v2.98h-2.99zM383.97 610.64h2.99v2.98h-2.99zM386.96 613.62h2.99v2.98h-2.99zM443.69 613.62h2.99v2.98h-2.99zM407.86 616.59h2.99v2.98h-2.99zM404.88 622.54h2.99v2.98h-2.99zM440.71 622.54h2.99v2.98h-2.99zM449.67 622.54h2.99v2.98h-2.99zM437.72 625.52h5.97v2.98h-5.97zM407.86 628.49h2.99v2.98h-2.99zM410.85 631.47h2.99v2.98h-2.99zM443.69 631.47h2.99v2.98h-2.99zM410.85 634.44h2.99v2.98h-2.99zM422.79 634.44h2.99v2.98h-2.99zM404.88 637.42h2.99v2.98h-2.99zM413.83 637.42h2.99v2.98h-2.99zM434.74 637.42h2.99v2.98h-2.99zM446.68 637.42h2.99v2.98h-2.99zM410.85 640.39h5.97v2.98h-5.97zM422.79 640.39h2.99v2.98h-2.99zM431.75 640.39h2.99v2.98h-2.99zM440.71 640.39h5.97v2.98h-5.97zM404.88 643.37h2.99v2.98h-2.99zM437.72 646.34h2.99v2.98h-2.99zM383.97 649.32h2.99v2.98h-2.99zM392.93 649.32h2.99v2.98h-2.99zM434.74 652.3h2.99v2.98h-2.99zM410.85 655.27h2.99v2.98h-2.99zM389.94 658.25h2.99v2.98h-2.99zM419.81 658.25h2.99v2.98h-2.99zM425.78 661.22h2.99v2.98h-2.99zM404.88 664.2h2.99v2.98h-2.99zM419.81 667.17h2.99v2.98h-2.99zM446.68 667.17h2.99v2.98h-2.99zM413.83 676.1h2.99v2.98h-2.99zM419.81 676.1h2.99v2.98h-2.99zM389.94 679.07h2.99v2.98h-2.99zM434.74 679.07h2.99v2.98h-2.99zM452.65 679.07h2.99v2.98h-2.99zM413.83 682.05h2.99v2.98h-2.99zM443.69 682.05h5.97v2.98h-5.97zM398.9 685.02h2.99v2.98h-2.99zM428.76 685.02h2.99v2.98h-2.99zM446.68 685.02h5.97v2.98h-5.97z"/><path fill="#f7e725" d="M407.86 506.5h2.99v2.98h-2.99zM398.9 524.35h2.99v2.98h-2.99zM443.69 527.33h2.99v2.98h-2.99zM416.82 530.3h2.99v2.98h-2.99zM428.76 533.28h2.99v2.98h-2.99zM428.76 536.26h2.99v2.98h-2.99zM434.74 536.26h2.99v2.98h-2.99zM410.85 542.21h2.99v2.98h-2.99zM425.78 542.21h2.99v2.98h-2.99zM437.72 545.18h2.99v2.98h-2.99zM452.65 551.13h2.99v2.98h-2.99zM425.78 554.11h5.97v2.98h-5.97zM443.69 563.03h2.99v2.98h-2.99zM407.86 566.01h2.99v2.98h-2.99zM425.78 566.01h2.99v2.98h-2.99zM392.93 568.98h2.99v2.98h-2.99zM410.85 571.96h5.97v2.98h-5.97zM425.78 571.96h2.99v2.98h-2.99zM422.79 574.94h2.99v2.98h-2.99zM410.85 577.91h2.99v2.98h-2.99zM443.69 577.91h2.99v2.98h-2.99zM416.82 586.84h5.97v2.98h-5.97zM407.86 589.81h2.99v2.98h-2.99zM428.76 592.79h2.99v2.98h-2.99zM380.99 598.74h2.99v2.98h-2.99zM410.85 598.74h2.99v2.98h-2.99zM398.9 601.71h2.99v2.98h-2.99zM410.85 601.71h2.99v2.98h-2.99zM452.65 604.69h2.99v2.98h-2.99zM413.83 607.66h2.99v2.98h-2.99zM428.76 607.66h2.99v2.98h-2.99zM398.9 610.64h2.99v2.98h-2.99zM407.86 610.64h2.99v2.98h-2.99zM428.76 610.64h2.99v2.98h-2.99zM440.71 610.64h5.97v2.98h-5.97zM422.79 613.62h2.99v2.98h-2.99zM398.9 616.59h2.99v2.98h-2.99zM419.81 619.57h2.99v2.98h-2.99zM395.92 622.54h2.99v2.98h-2.99zM443.69 628.49h2.99v2.98h-2.99zM407.86 631.47h2.99v2.98h-2.99zM446.68 631.47h2.99v2.98h-2.99zM413.83 634.44h2.99v2.98h-2.99zM434.74 640.39h5.97v2.98h-5.97zM413.83 643.37h2.99v2.98h-2.99zM446.68 643.37h2.99v2.98h-2.99zM407.86 646.34h5.97v2.98h-5.97zM401.89 652.3h2.99v2.98h-2.99zM380.99 655.27h2.99v2.98h-2.99zM428.76 655.27h2.99v2.98h-2.99zM404.88 661.22h2.99v2.98h-2.99zM437.72 664.2h2.99v2.98h-2.99zM464.6 664.2h2.99v2.98h-2.99zM380.99 670.15h5.97v2.98h-5.97zM404.88 670.15h2.99v2.98h-2.99zM413.83 670.15h2.99v2.98h-2.99zM401.89 673.12h2.99v2.98h-2.99zM422.79 676.1h2.99v2.98h-2.99zM428.76 676.1h2.99v2.98h-2.99zM407.86 682.05h2.99v2.98h-2.99zM395.92 685.02h2.99v2.98h-2.99zM404.88 685.02h2.99v2.98h-2.99zM425.78 685.02h2.99v2.98h-2.99z"/><path fill="#f7e925" d="M437.72 506.5h2.99v2.98h-2.99zM410.85 509.48h2.99v2.98h-2.99zM407.86 512.45h2.99v2.98h-2.99zM395.92 521.38h2.99v2.98h-2.99zM404.88 521.38h2.99v2.98h-2.99zM419.81 527.33h2.99v2.98h-2.99zM437.72 527.33h2.99v2.98h-2.99zM404.88 530.3h2.99v2.98h-2.99zM410.85 530.3h2.99v2.98h-2.99zM419.81 530.3h2.99v2.98h-2.99zM422.79 533.28h2.99v2.98h-2.99zM392.93 536.26h2.99v2.98h-2.99zM392.93 542.21h2.99v2.98h-2.99zM416.82 551.13h5.97v2.98h-5.97zM389.94 557.08h2.99v2.98h-2.99zM428.76 557.08h2.99v2.98h-2.99zM419.81 560.06h2.99v2.98h-2.99zM428.76 560.06h5.97v2.98h-5.97zM437.72 563.03h2.99v2.98h-2.99zM389.94 566.01h2.99v2.98h-2.99zM428.76 566.01h2.99v2.98h-2.99zM482.51 574.94h2.99v2.98h-2.99zM416.82 577.91h2.99v2.98h-2.99zM422.79 586.84h2.99v2.98h-2.99zM398.9 598.74h2.99v2.98h-2.99zM428.76 598.74h2.99v2.98h-2.99zM419.81 601.71h2.99v2.98h-2.99zM428.76 601.71h2.99v2.98h-2.99zM404.88 610.64h2.99v2.98h-2.99zM437.72 613.62h2.99v2.98h-2.99zM455.64 616.59h2.99v2.98h-2.99zM416.82 619.57h2.99v2.98h-2.99zM416.82 625.52h2.99v2.98h-2.99zM443.69 625.52h2.99v2.98h-2.99zM452.65 625.52h2.99v2.98h-2.99zM422.79 628.49h2.99v2.98h-2.99zM422.79 637.42h2.99v2.98h-2.99zM428.76 637.42h2.99v2.98h-2.99zM401.89 640.39h2.99v2.98h-2.99zM401.89 646.34h2.99v2.98h-2.99zM419.81 646.34h2.99v2.98h-2.99zM395.92 655.27h2.99v2.98h-2.99zM416.82 655.27h2.99v2.98h-2.99zM410.85 658.25h2.99v2.98h-2.99zM428.76 664.2h2.99v2.98h-2.99zM404.88 673.12h2.99v2.98h-2.99zM413.83 673.12h2.99v2.98h-2.99zM428.76 682.05h2.99v2.98h-2.99z"/><path fill="#f8ea26" d="M434.74 503.53h2.99v2.98h-2.99zM416.82 509.48h2.99v2.98h-2.99zM407.86 515.43h2.99v2.98h-2.99zM401.89 521.38h2.99v2.98h-2.99zM419.81 524.35h2.99v2.98h-2.99zM398.9 527.33h2.99v2.98h-2.99zM437.72 533.28h2.99v2.98h-2.99zM422.79 539.23h2.99v2.98h-2.99zM422.79 542.21h2.99v2.98h-2.99zM431.75 542.21h2.99v2.98h-2.99zM416.82 545.18h2.99v2.98h-2.99zM416.82 548.16h2.99v2.98h-2.99zM425.78 548.16h2.99v2.98h-2.99zM422.79 554.11h2.99v2.98h-2.99zM425.78 560.06h2.99v2.98h-2.99zM416.82 563.03h2.99v2.98h-2.99zM410.85 574.94h2.99v2.98h-2.99zM410.85 583.86h2.99v2.98h-2.99zM422.79 583.86h2.99v2.98h-2.99zM407.86 586.84h2.99v2.98h-2.99zM404.88 589.81h2.99v2.98h-2.99zM407.86 592.79h2.99v2.98h-2.99zM434.74 592.79h2.99v2.98h-2.99zM416.82 595.76h5.97v2.98h-5.97zM383.97 598.74h2.99v2.98h-2.99zM425.78 598.74h2.99v2.98h-2.99zM449.67 598.74h2.99v2.98h-2.99zM416.82 601.71h2.99v2.98h-2.99zM422.79 601.71h2.99v2.98h-2.99zM386.96 604.69h2.99v2.98h-2.99zM434.74 607.66h2.99v2.98h-2.99zM425.78 610.64h2.99v2.98h-2.99zM428.76 613.62h2.99v2.98h-2.99zM434.74 613.62h2.99v2.98h-2.99zM437.72 616.59h2.99v2.98h-2.99zM449.67 616.59h2.99v2.98h-2.99zM407.86 625.52h2.99v2.98h-2.99zM419.81 625.52h5.97v2.98h-5.97zM416.82 628.49h2.99v2.98h-2.99zM425.78 631.47h5.97v2.98h-5.97zM425.78 634.44h2.99v2.98h-2.99zM407.86 640.39h2.99v2.98h-2.99zM425.78 643.37h2.99v2.98h-2.99zM416.82 646.34h2.99v2.98h-2.99zM428.76 646.34h2.99v2.98h-2.99zM398.9 649.32h2.99v2.98h-2.99zM437.72 649.32h2.99v2.98h-2.99zM416.82 652.3h2.99v2.98h-2.99zM440.71 652.3h2.99v2.98h-2.99zM386.96 655.27h2.99v2.98h-2.99zM404.88 655.27h2.99v2.98h-2.99zM413.83 655.27h2.99v2.98h-2.99zM422.79 655.27h5.97v2.98h-5.97zM413.83 658.25h2.99v2.98h-2.99zM440.71 658.25h2.99v2.98h-2.99zM431.75 667.17h2.99v2.98h-2.99zM404.88 676.1h2.99v2.98h-2.99zM410.85 676.1h2.99v2.98h-2.99z"/><path fill="#f8ec26" d="M404.88 518.4h2.99v2.98h-2.99zM413.83 524.35h5.97v2.98h-5.97zM413.83 527.33h2.99v2.98h-2.99zM446.68 527.33h2.99v2.98h-2.99zM398.9 533.28h5.97v2.98h-5.97zM425.78 533.28h2.99v2.98h-2.99zM419.81 536.26h2.99v2.98h-2.99zM392.93 539.23h5.97v2.98h-5.97zM428.76 539.23h2.99v2.98h-2.99zM425.78 545.18h2.99v2.98h-2.99zM422.79 548.16h2.99v2.98h-2.99zM431.75 563.03h2.99v2.98h-2.99zM419.81 566.01h5.97v2.98h-5.97zM449.67 566.01h2.99v2.98h-2.99zM440.71 568.98h2.99v2.98h-2.99zM416.82 574.94h2.99v2.98h-2.99zM422.79 577.91h2.99v2.98h-2.99zM422.79 580.89h2.99v2.98h-2.99zM425.78 583.86h2.99v2.98h-2.99zM410.85 586.84h2.99v2.98h-2.99zM419.81 589.81h2.99v2.98h-2.99zM425.78 589.81h2.99v2.98h-2.99zM413.83 592.79h2.99v2.98h-2.99zM422.79 598.74h2.99v2.98h-2.99zM443.69 598.74h2.99v2.98h-2.99zM395.92 601.71h2.99v2.98h-2.99zM449.67 601.71h2.99v2.98h-2.99zM422.79 607.66h2.99v2.98h-2.99zM413.83 610.64h2.99v2.98h-2.99zM437.72 610.64h2.99v2.98h-2.99zM413.83 613.62h2.99v2.98h-2.99zM425.78 613.62h2.99v2.98h-2.99zM425.78 616.59h2.99v2.98h-2.99zM395.92 619.57h2.99v2.98h-2.99zM443.69 622.54h5.97v2.98h-5.97zM413.83 625.52h2.99v2.98h-2.99zM413.83 628.49h2.99v2.98h-2.99zM425.78 628.49h2.99v2.98h-2.99zM413.83 631.47h2.99v2.98h-2.99zM419.81 634.44h2.99v2.98h-2.99zM419.81 640.39h2.99v2.98h-2.99zM425.78 640.39h2.99v2.98h-2.99zM401.89 643.37h2.99v2.98h-2.99zM398.9 652.3h2.99v2.98h-2.99zM383.97 655.27h2.99v2.98h-2.99zM404.88 658.25h2.99v2.98h-2.99zM413.83 679.07h2.99v2.98h-2.99z"/><path fill="#f9ed27" d="M407.86 536.26h2.99v2.98h-2.99zM416.82 536.26h2.99v2.98h-2.99zM431.75 539.23h5.97v2.98h-5.97zM497.44 539.23h2.99v2.98h-2.99zM410.85 551.13h5.97v2.98h-5.97zM410.85 554.11h2.99v2.98h-2.99zM425.78 563.03h2.99v2.98h-2.99zM431.75 566.01h2.99v2.98h-2.99zM437.72 566.01h2.99v2.98h-2.99zM437.72 568.98h2.99v2.98h-2.99zM422.79 571.96h2.99v2.98h-2.99zM419.81 580.89h2.99v2.98h-2.99zM416.82 589.81h2.99v2.98h-2.99zM425.78 592.79h2.99v2.98h-2.99zM401.89 604.69h2.99v2.98h-2.99zM401.89 613.62h2.99v2.98h-2.99zM431.75 616.59h2.99v2.98h-2.99zM407.86 634.44h2.99v2.98h-2.99zM428.76 634.44h2.99v2.98h-2.99zM398.9 640.39h2.99v2.98h-2.99zM413.83 649.32h2.99v2.98h-2.99zM413.83 652.3h2.99v2.98h-2.99zM419.81 655.27h2.99v2.98h-2.99zM407.86 658.25h2.99v2.98h-2.99zM413.83 664.2h5.97v2.98h-5.97zM404.88 667.17h2.99v2.98h-2.99z"/><path fill="#f9ef27" d="M407.86 518.4h2.99v2.98h-2.99zM416.82 521.38h2.99v2.98h-2.99zM407.86 527.33h2.99v2.98h-2.99zM416.82 527.33h2.99v2.98h-2.99zM395.92 533.28h2.99v2.98h-2.99zM422.79 536.26h2.99v2.98h-2.99zM419.81 542.21h2.99v2.98h-2.99zM446.68 566.01h2.99v2.98h-2.99zM413.83 595.76h2.99v2.98h-2.99zM392.93 601.71h2.99v2.98h-2.99zM389.94 604.69h2.99v2.98h-2.99zM398.9 604.69h2.99v2.98h-2.99zM398.9 607.66h2.99v2.98h-2.99zM389.94 610.64h5.97v2.98h-5.97zM392.93 619.57h2.99v2.98h-2.99zM410.85 619.57h2.99v2.98h-2.99zM410.85 622.54h2.99v2.98h-2.99zM440.71 628.49h2.99v2.98h-2.99zM398.9 646.34h2.99v2.98h-2.99zM401.89 649.32h2.99v2.98h-2.99zM410.85 649.32h2.99v2.98h-2.99zM419.81 649.32h5.97v2.98h-5.97zM428.76 649.32h2.99v2.98h-2.99zM419.81 652.3h2.99v2.98h-2.99zM428.76 652.3h2.99v2.98h-2.99zM425.78 658.25h2.99v2.98h-2.99zM413.83 661.22h2.99v2.98h-2.99zM410.85 667.17h2.99v2.98h-2.99zM416.82 667.17h2.99v2.98h-2.99z"/><path fill="#faf028" d="M413.83 521.38h2.99v2.98h-2.99zM401.89 527.33h2.99v2.98h-2.99zM410.85 527.33h2.99v2.98h-2.99zM434.74 533.28h2.99v2.98h-2.99zM395.92 536.26h2.99v2.98h-2.99zM401.89 536.26h2.99v2.98h-2.99zM419.81 539.23h2.99v2.98h-2.99zM428.76 542.21h2.99v2.98h-2.99zM422.79 545.18h2.99v2.98h-2.99zM413.83 548.16h2.99v2.98h-2.99zM413.83 554.11h2.99v2.98h-2.99zM419.81 554.11h2.99v2.98h-2.99zM428.76 563.03h2.99v2.98h-2.99zM440.71 566.01h2.99v2.98h-2.99zM422.79 568.98h2.99v2.98h-2.99zM416.82 571.96h2.99v2.98h-2.99zM413.83 574.94h2.99v2.98h-2.99zM419.81 574.94h2.99v2.98h-2.99zM419.81 577.91h2.99v2.98h-2.99zM422.79 589.81h2.99v2.98h-2.99zM416.82 592.79h8.96v2.98h-8.96zM422.79 595.76h5.97v2.98h-5.97zM413.83 601.71h2.99v2.98h-2.99zM392.93 604.69h5.97v2.98h-5.97zM410.85 604.69h2.99v2.98h-2.99zM389.94 607.66h5.97v2.98h-5.97zM401.89 607.66h2.99v2.98h-2.99zM416.82 607.66h2.99v2.98h-2.99zM410.85 610.64h2.99v2.98h-2.99zM419.81 610.64h2.99v2.98h-2.99zM407.86 613.62h5.97v2.98h-5.97zM416.82 613.62h2.99v2.98h-2.99zM410.85 616.59h8.96v2.98h-8.96zM407.86 619.57h2.99v2.98h-2.99zM413.83 619.57h2.99v2.98h-2.99zM413.83 622.54h2.99v2.98h-2.99zM410.85 625.52h2.99v2.98h-2.99zM410.85 628.49h2.99v2.98h-2.99zM419.81 628.49h2.99v2.98h-2.99zM446.68 628.49h2.99v2.98h-2.99zM419.81 631.47h5.97v2.98h-5.97zM395.92 634.44h2.99v2.98h-2.99zM425.78 637.42h2.99v2.98h-2.99zM398.9 643.37h2.99v2.98h-2.99zM416.82 643.37h8.96v2.98h-8.96zM428.76 643.37h5.97v2.98h-5.97zM437.72 643.37h2.99v2.98h-2.99zM404.88 646.34h2.99v2.98h-2.99zM422.79 646.34h5.97v2.98h-5.97zM431.75 646.34h2.99v2.98h-2.99zM404.88 649.32h5.97v2.98h-5.97zM425.78 649.32h2.99v2.98h-2.99zM407.86 652.3h5.97v2.98h-5.97zM422.79 652.3h5.97v2.98h-5.97zM407.86 655.27h2.99v2.98h-2.99zM410.85 661.22h2.99v2.98h-2.99zM416.82 661.22h2.99v2.98h-2.99zM407.86 664.2h5.97v2.98h-5.97zM413.83 667.17h2.99v2.98h-2.99zM410.85 670.15h2.99v2.98h-2.99zM416.82 670.15h2.99v2.98h-2.99z"/></g>
<rect x="378" y="494.6" width="215" height="193.4" filter="url(#grainD)" opacity="0.12"/><rect x="378" y="494.6" width="215" height="193.4" filter="url(#grainL)" opacity="0.1"/>
<rect x="378" y="494.6" width="215" height="193.4" fill="none" stroke="#777" stroke-width="0.5"/>
<linearGradient id="cbF" x1="0" y1="0" x2="0" y2="1"><stop offset="0" stop-color="#f5f219"/><stop offset="0.05" stop-color="#f8e11e"/><stop offset="0.1" stop-color="#fccd26"/><stop offset="0.15" stop-color="#fcbc2d"/><stop offset="0.2" stop-color="#f2b92d"/><stop offset="0.25" stop-color="#dcc02a"/><stop offset="0.3" stop-color="#b9c832"/><stop offset="0.35" stop-color="#91cd46"/><stop offset="0.4" stop-color="#69cc64"/><stop offset="0.45" stop-color="#44c884"/><stop offset="0.5" stop-color="#28c0aa"/><stop offset="0.55" stop-color="#1cb2c8"/><stop offset="0.6" stop-color="#16a2d7"/><stop offset="0.7" stop-color="#208ae8"/><stop offset="0.8" stop-color="#2d70e8"/><stop offset="0.9" stop-color="#3e50d7"/><stop offset="1" stop-color="#4838b0"/></linearGradient>
<rect x="605.4" y="494.6" width="12" height="193.4" fill="url(#cbF)" stroke="#666" stroke-width="0.6"/>
<text x="620.2" y="690.5" font-size="7" fill="#444" stroke="#444" stroke-width="0.2">3000</text>
<text x="620.2" y="671.16" font-size="7" fill="#444" stroke="#444" stroke-width="0.2">3100</text>
<text x="620.2" y="651.82" font-size="7" fill="#444" stroke="#444" stroke-width="0.2">3200</text>
<text x="620.2" y="632.48" font-size="7" fill="#444" stroke="#444" stroke-width="0.2">3300</text>
<text x="620.2" y="613.14" font-size="7" fill="#444" stroke="#444" stroke-width="0.2">3400</text>
<text x="620.2" y="593.8" font-size="7" fill="#444" stroke="#444" stroke-width="0.2">3500</text>
<text x="620.2" y="574.46" font-size="7" fill="#444" stroke="#444" stroke-width="0.2">3600</text>
<text x="620.2" y="555.12" font-size="7" fill="#444" stroke="#444" stroke-width="0.2">3700</text>
<text x="620.2" y="535.78" font-size="7" fill="#444" stroke="#444" stroke-width="0.2">3800</text>
<text x="620.2" y="516.44" font-size="7" fill="#444" stroke="#444" stroke-width="0.2">3900</text>
<text x="620.2" y="497.1" font-size="7" fill="#444" stroke="#444" stroke-width="0.2">4000</text>
<text x="375.3" y="690.5" font-size="7" text-anchor="end" fill="#444" stroke="#444" stroke-width="0.2">0</text>
<text x="375.3" y="642.15" font-size="7" text-anchor="end" fill="#444" stroke="#444" stroke-width="0.2">25</text>
<text x="375.3" y="593.8" font-size="7" text-anchor="end" fill="#444" stroke="#444" stroke-width="0.2">50</text>
<text x="375.3" y="545.45" font-size="7" text-anchor="end" fill="#444" stroke="#444" stroke-width="0.2">75</text>
<text x="375.3" y="497.1" font-size="7" text-anchor="end" fill="#444" stroke="#444" stroke-width="0.2">100</text>
<text x="431.75" y="699.3" font-size="7" text-anchor="middle" fill="#444" stroke="#444" stroke-width="0.2">25</text>
<text x="485.5" y="699.3" font-size="7" text-anchor="middle" fill="#444" stroke="#444" stroke-width="0.2">50</text>
<text x="539.25" y="699.3" font-size="7" text-anchor="middle" fill="#444" stroke="#444" stroke-width="0.2">75</text>
<text x="593" y="699.3" font-size="7" text-anchor="middle" fill="#444" stroke="#444" stroke-width="0.2">100</text>
<text transform="translate(359.0,591.4) rotate(-90)" font-size="9" text-anchor="middle" fill="#444" stroke="#444" stroke-width="0.2"><tspan font-style="italic">Y</tspan> (μm)</text>
<text x="485.5" y="711" font-size="8.5" text-anchor="middle" fill="#444" stroke="#444" stroke-width="0.2"><tspan font-style="italic">X</tspan> (μm)</text>
<text x="3.8" y="734.8" font-size="9" fill="#231f20" stroke="#231f20" stroke-width="0.22" textLength="184.6" lengthAdjust="spacingAndGlyphs"><tspan font-weight="bold">Fig. 4. Trap and uniformity characterization.</tspan></text>
<text x="191.9" y="734.8" font-size="9" fill="#231f20" stroke="#231f20" stroke-width="0.22" textLength="34" lengthAdjust="spacingAndGlyphs">tDOS (<tspan font-weight="bold">A</tspan>)</text>
<text x="229" y="734.8" font-size="9" fill="#231f20" stroke="#231f20" stroke-width="0.22" textLength="91" lengthAdjust="spacingAndGlyphs">and DLCP (<tspan font-weight="bold">B</tspan>) spectra of</text>
<text x="322.6" y="734.8" font-size="9" fill="#231f20" stroke="#231f20" stroke-width="0.22" textLength="134.6" lengthAdjust="spacingAndGlyphs">2-ME/DMSO and DMF/NMP PSCs.</text>
<text x="460" y="734.8" font-size="9" fill="#231f20" stroke="#231f20" stroke-width="0.22" textLength="106.2" lengthAdjust="spacingAndGlyphs">(<tspan font-weight="bold">C</tspan>) EL intensity versus bias</text>
<text x="569.2" y="734.8" font-size="9" fill="#231f20" stroke="#231f20" stroke-width="0.22" textLength="99.6" lengthAdjust="spacingAndGlyphs">application time for 2-ME/</text>
<text x="3.8" y="747.4" font-size="9" fill="#231f20" stroke="#231f20" stroke-width="0.22" textLength="109.7" lengthAdjust="spacingAndGlyphs">DMSO and DMF/NMP PSCs.</text>
<text x="116.7" y="747.4" font-size="9" fill="#231f20" stroke="#231f20" stroke-width="0.22" textLength="114.6" lengthAdjust="spacingAndGlyphs">(<tspan font-weight="bold">D</tspan>) Average EL response time</text>
<text x="234.3" y="747.4" font-size="9" fill="#231f20" stroke="#231f20" stroke-width="0.22" textLength="165.7" lengthAdjust="spacingAndGlyphs">summarized from the EL mapping results</text>
<text x="402.6" y="747.4" font-size="9" fill="#231f20" stroke="#231f20" stroke-width="0.22" textLength="150" lengthAdjust="spacingAndGlyphs">based on 25 randomly selected areas.</text>
<text x="556.9" y="747.4" font-size="9" fill="#231f20" stroke="#231f20" stroke-width="0.22" textLength="112.7" lengthAdjust="spacingAndGlyphs">The elements of the box plot</text>
<text x="3.8" y="760" font-size="9" fill="#231f20" stroke="#231f20" stroke-width="0.22" textLength="163.6" lengthAdjust="spacingAndGlyphs">are defined as follows: center line: median;</text>
<text x="170" y="760" font-size="9" fill="#231f20" stroke="#231f20" stroke-width="0.22" textLength="150" lengthAdjust="spacingAndGlyphs">box limits: upper and lower quartiles;</text>
<text x="322.8" y="760" font-size="9" fill="#231f20" stroke="#231f20" stroke-width="0.22" textLength="166.9" lengthAdjust="spacingAndGlyphs">whiskers: 1.5 times the interquartile range.</text>
<text x="493.2" y="760" font-size="9" fill="#231f20" stroke="#231f20" stroke-width="0.22" textLength="176.4" lengthAdjust="spacingAndGlyphs">EL intensity mapping for (<tspan font-weight="bold">E</tspan>) 2-ME/DMSO and</text>
<text x="3.8" y="772.6" font-size="9" fill="#231f20" stroke="#231f20" stroke-width="0.22" textLength="126.9" lengthAdjust="spacingAndGlyphs">(<tspan font-weight="bold">F</tspan>) DMF/NMP PSCs, respectively.</text>
</svg></body></html>
